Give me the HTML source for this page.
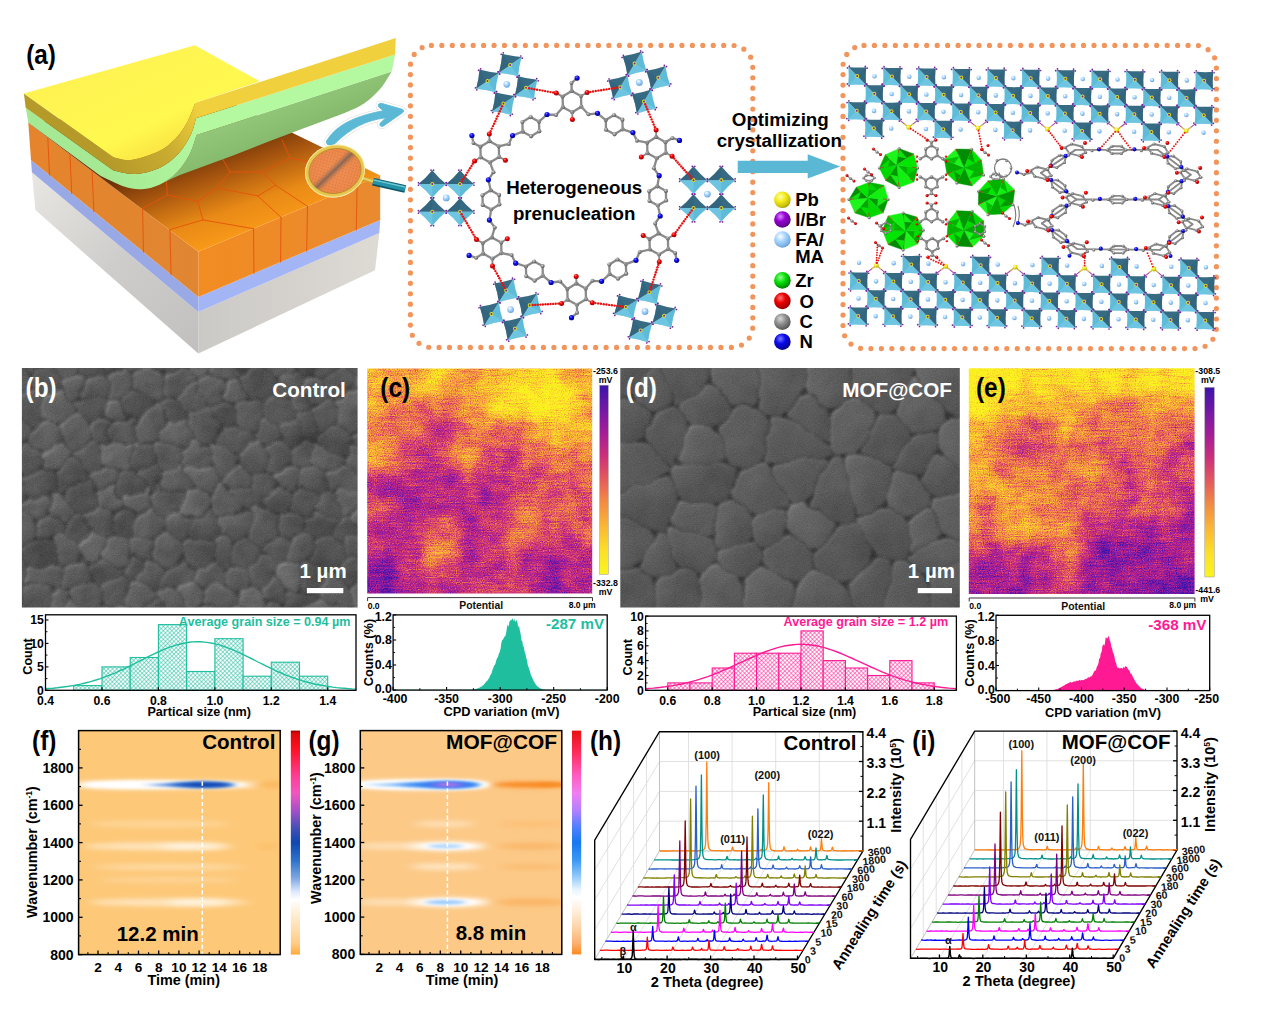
<!DOCTYPE html>
<html><head><meta charset="utf-8"><title>Figure</title>
<style>html,body{margin:0;padding:0;background:#fff;overflow:hidden}svg{display:block}
text{font-family:"Liberation Sans",sans-serif;font-weight:bold}</style></head>
<body><svg width="1268" height="1016" viewBox="0 0 1268 1016">
<rect width="1268" height="1016" fill="#fff"/>
<g id="pa_illus">
<defs>
<linearGradient id="gGreyL" x1="0" y1="0" x2="1" y2="1"><stop offset="0" stop-color="#e9e7e3"/><stop offset="0.5" stop-color="#cfcdcb"/><stop offset="1" stop-color="#c2c0be"/></linearGradient>
<linearGradient id="gGreyR" x1="0" y1="0" x2="1" y2="0"><stop offset="0" stop-color="#cbc9c6"/><stop offset="1" stop-color="#dedad4"/></linearGradient>
<linearGradient id="gOrTop" gradientUnits="userSpaceOnUse" x1="235" y1="140" x2="278" y2="262"><stop offset="0" stop-color="#6e3208"/><stop offset="0.22" stop-color="#a8560f"/><stop offset="0.5" stop-color="#e88a16"/><stop offset="0.8" stop-color="#ff9f1a"/><stop offset="1" stop-color="#ffb224"/></linearGradient>
<linearGradient id="gOrL" x1="0" y1="0" x2="1" y2="0"><stop offset="0" stop-color="#e5842c"/><stop offset="1" stop-color="#e08632"/></linearGradient>
<linearGradient id="gOrR" x1="0" y1="0" x2="1" y2="0"><stop offset="0" stop-color="#f28c22"/><stop offset="1" stop-color="#e98a30"/></linearGradient>
<linearGradient id="gYel" gradientUnits="userSpaceOnUse" x1="120" y1="60" x2="170" y2="165"><stop offset="0" stop-color="#fff352"/><stop offset="0.6" stop-color="#fff94f"/><stop offset="0.85" stop-color="#fbe644"/><stop offset="1" stop-color="#e9c836"/></linearGradient>
<linearGradient id="gGoldCurve" gradientUnits="userSpaceOnUse" x1="110" y1="165" x2="200" y2="110"><stop offset="0" stop-color="#b59a2a"/><stop offset="0.55" stop-color="#c9ac30"/><stop offset="1" stop-color="#f0d03c"/></linearGradient>
<linearGradient id="gGreenCurve" gradientUnits="userSpaceOnUse" x1="110" y1="180" x2="200" y2="130"><stop offset="0" stop-color="#a6e994"/><stop offset="1" stop-color="#b4f9a0"/></linearGradient>
<linearGradient id="gUnder" gradientUnits="userSpaceOnUse" x1="280" y1="100" x2="300" y2="150"><stop offset="0" stop-color="#93c87a"/><stop offset="1" stop-color="#7fb266"/></linearGradient>
<radialGradient id="gLens" cx="0.5" cy="0.5" r="0.6"><stop offset="0" stop-color="#f4935a"/><stop offset="1" stop-color="#e8803e"/></radialGradient>
<pattern id="lensTex" width="3" height="3" patternUnits="userSpaceOnUse" patternTransform="rotate(30)"><rect width="3" height="3" fill="#f08c50"/><circle cx="1.5" cy="1.5" r="0.7" fill="#b8683a"/></pattern>
</defs>
<polygon points="31.9,172.3 198.3,312 198.3,353.6 35.4,210.1" fill="url(#gGreyL)" />
<polygon points="198.3,312 379.3,233.1 375,270.3 198.3,353.6" fill="url(#gGreyR)" />
<polygon points="31,160 198.3,296.9 198.3,312 31.9,172.3" fill="#98a9e6" />
<polygon points="198.3,296.9 380.2,219.9 379.3,233.1 198.3,312" fill="#a4b5f5" />
<polygon points="28.3,122.7 198.3,251.7 198.3,296.9 31,160" fill="url(#gOrL)" />
<polygon points="198.3,251.7 380.2,175.6 380.2,219.9 198.3,296.9" fill="url(#gOrR)" />
<polygon points="28.3,122.7 198.3,251.7 380.2,175.6 225,100" fill="url(#gOrTop)" />
<line x1="47.8" y1="137.5" x2="49.5" y2="175" stroke="#e4520a" stroke-width="0.9" stroke-linecap="round"/>
<line x1="70" y1="154.5" x2="71.7" y2="193.5" stroke="#e4520a" stroke-width="0.9" stroke-linecap="round"/>
<line x1="92.1" y1="171.3" x2="93.9" y2="211.6" stroke="#e4520a" stroke-width="0.9" stroke-linecap="round"/>
<line x1="142.6" y1="208.3" x2="143.5" y2="252" stroke="#e4520a" stroke-width="0.9" stroke-linecap="round"/>
<line x1="170" y1="229.6" x2="171" y2="274.5" stroke="#e4520a" stroke-width="0.9" stroke-linecap="round"/>
<line x1="253.5" y1="228.7" x2="254" y2="273.3" stroke="#e4520a" stroke-width="0.9" stroke-linecap="round"/>
<line x1="281" y1="217.3" x2="280.6" y2="262" stroke="#e4520a" stroke-width="0.9" stroke-linecap="round"/>
<line x1="307.5" y1="206.3" x2="306.7" y2="251" stroke="#e4520a" stroke-width="0.9" stroke-linecap="round"/>
<line x1="357.1" y1="185.4" x2="356.3" y2="230" stroke="#e4520a" stroke-width="0.9" stroke-linecap="round"/>
<line x1="142.6" y1="208.3" x2="167.4" y2="195" stroke="#e4520a" stroke-width="0.9" stroke-linecap="round"/>
<line x1="167.4" y1="195" x2="166" y2="176" stroke="#e4520a" stroke-width="0.9" stroke-linecap="round"/>
<line x1="167.4" y1="195" x2="197.7" y2="201.3" stroke="#e4520a" stroke-width="0.9" stroke-linecap="round"/>
<line x1="197.7" y1="201.3" x2="217.2" y2="188" stroke="#e4520a" stroke-width="0.9" stroke-linecap="round"/>
<line x1="217.2" y1="188" x2="230" y2="172" stroke="#e4520a" stroke-width="0.9" stroke-linecap="round"/>
<line x1="197.7" y1="201.3" x2="203" y2="219.9" stroke="#e4520a" stroke-width="0.9" stroke-linecap="round"/>
<line x1="170" y1="229.6" x2="203" y2="219.9" stroke="#e4520a" stroke-width="0.9" stroke-linecap="round"/>
<line x1="203" y1="219.9" x2="253.5" y2="228.7" stroke="#e4520a" stroke-width="0.9" stroke-linecap="round"/>
<line x1="217.2" y1="188" x2="257.9" y2="195.9" stroke="#e4520a" stroke-width="0.9" stroke-linecap="round"/>
<line x1="257.9" y1="195.9" x2="281" y2="217.3" stroke="#e4520a" stroke-width="0.9" stroke-linecap="round"/>
<line x1="257.9" y1="195.9" x2="275.7" y2="185.3" stroke="#e4520a" stroke-width="0.9" stroke-linecap="round"/>
<line x1="275.7" y1="185.3" x2="307.5" y2="206.3" stroke="#e4520a" stroke-width="0.9" stroke-linecap="round"/>
<line x1="275.7" y1="185.3" x2="262" y2="172" stroke="#e4520a" stroke-width="0.9" stroke-linecap="round"/>
<line x1="262" y1="172" x2="230" y2="172" stroke="#e4520a" stroke-width="0.9" stroke-linecap="round"/>
<line x1="262" y1="172" x2="290" y2="158" stroke="#e4520a" stroke-width="0.9" stroke-linecap="round"/>
<line x1="290" y1="158" x2="318" y2="163" stroke="#e4520a" stroke-width="0.9" stroke-linecap="round"/>
<line x1="318" y1="163" x2="357.1" y2="185.4" stroke="#e4520a" stroke-width="0.9" stroke-linecap="round"/>
<line x1="290" y1="158" x2="282" y2="140" stroke="#e4520a" stroke-width="0.9" stroke-linecap="round"/>
<line x1="318" y1="163" x2="330" y2="150" stroke="#e4520a" stroke-width="0.9" stroke-linecap="round"/>
<line x1="230" y1="172" x2="222" y2="158" stroke="#e4520a" stroke-width="0.9" stroke-linecap="round"/>
<path d="M159.4,184.7 L159.4,184.7 C162.3,182.6 172,177.3 177,172.3 C182,167.3 186.2,160.8 189.5,154.6 C192.8,148.4 195.4,138.3 196.6,135.1 L391.7,71.4 L391.7,71.4 C389.8,74.2 385.1,83.2 380.5,88.5 C375.9,93.8 370,99.4 364,103.5 C358,107.6 347.9,111.4 344.7,113 L300.5,129.5 L268.6,141.5 L233.1,155.5 L197.7,168.5 L180,175 L170,179.4 Z" fill="url(#gUnder)"/>
<path d="M25.7,107.7 L113.4,170.6 L113.4,170.6 C116.9,171.2 126.9,174.4 134.6,174 C142.3,173.6 152,171.5 159.4,168 C166.8,164.5 173.7,158.7 179,152.9 C184.3,147.1 188.5,139.2 191.3,133.4 C194.1,127.6 195.2,120.8 196,118.3 L395.2,54.5 L391.7,71.4 L196.6,135.1 L196.6,135.1 C195.4,138.3 192.8,148.4 189.5,154.6 C186.2,160.8 182,167.3 177,172.3 C172,177.3 165.3,181.9 159.4,184.7 C153.5,187.5 147.6,188.9 141.7,189.2 C135.8,189.5 130.9,188.8 124,186.5 C117,184.2 104,177.3 100,175.5 L28.3,122.7 Z" fill="url(#gGreenCurve)"/>
<path d="M23.9,93.5 L113.4,157.3 L113.4,157.3 C116.3,157.8 123.3,161.1 131,160 C138.7,158.9 151.7,154.8 159.4,151 C167.1,147.2 172.3,142 177,137 C181.7,132 184.7,126.7 187.8,121 C190.9,115.3 194.1,105.8 195.4,102.8 L395.8,38.1 L395.2,54.5 L196,118.3 L196,118.3 C195.2,120.8 194.1,127.6 191.3,133.4 C188.5,139.2 184.3,147.1 179,152.9 C173.7,158.7 166.8,164.5 159.4,168 C152,171.5 142.3,173.6 134.6,174 C126.9,174.4 116.9,171.2 113.4,170.6 L25.7,107.7 Z" fill="url(#gGoldCurve)"/>
<path d="M23.9,93.5 L194.9,45.2 L259.7,81.3 L195.4,102.8 L195.4,102.8 C194.1,105.8 190.9,115.3 187.8,121 C184.7,126.7 181.7,132 177,137 C172.3,142 167.1,147.2 159.4,151 C151.7,154.8 138.7,158.9 131,160 C123.3,161.1 116.3,157.8 113.4,157.3 Z" fill="url(#gYel)"/>
<path d="M326.6,140.8 C334,129 347,117.5 383.3,110.7 L378.6,106.9 Q377.2,103 381.6,103.3 L402.4,109.3 Q405.2,110.9 402.8,112.6 L383.2,126.2 Q379.4,127.2 379.9,123.4 L385.7,117.8 C366,120.3 350,128.5 334.6,143.9 Q330.5,147 327.2,144.2 Q325.6,142.6 326.6,140.8 Z" fill="#e4e4ea" stroke="#dcdce4" stroke-width="5.2" stroke-linejoin="round"/>
<path d="M326.6,140.8 C334,129 347,117.5 383.3,110.7 L378.6,106.9 Q377.2,103 381.6,103.3 L402.4,109.3 Q405.2,110.9 402.8,112.6 L383.2,126.2 Q379.4,127.2 379.9,123.4 L385.7,117.8 C366,120.3 350,128.5 334.6,143.9 Q330.5,147 327.2,144.2 Q325.6,142.6 326.6,140.8 Z" fill="#fff" stroke="#fff" stroke-width="4.2" stroke-linejoin="round"/>
<path d="M326.6,140.8 C334,129 347,117.5 383.3,110.7 L378.6,106.9 Q377.2,103 381.6,103.3 L402.4,109.3 Q405.2,110.9 402.8,112.6 L383.2,126.2 Q379.4,127.2 379.9,123.4 L385.7,117.8 C366,120.3 350,128.5 334.6,143.9 Q330.5,147 327.2,144.2 Q325.6,142.6 326.6,140.8 Z" fill="#5bb9d6" stroke="#5bb9d6" stroke-width="0.8" stroke-linejoin="round"/>
<line x1="373" y1="181.7" x2="405.2" y2="189" stroke="#0c5666" stroke-width="7.6" stroke-linecap="butt"/>
<line x1="373" y1="181.3" x2="405.2" y2="188.6" stroke="#2394a8" stroke-width="5.2" stroke-linecap="butt"/>
<line x1="373.4" y1="179.9" x2="405.6" y2="187.2" stroke="#8ad6e0" stroke-width="1.3" opacity="0.8"/>
<line x1="362.5" y1="178.4" x2="373" y2="181.6" stroke="#c9a53a" stroke-width="4.2" />
<line x1="362.5" y1="178" x2="373" y2="181.2" stroke="#ecd060" stroke-width="2.2" />
<defs><clipPath id="lensClip"><ellipse cx="335" cy="171" rx="27.6" ry="23.6" transform="rotate(-14 335 171)"/></clipPath><filter id="blur1"><feGaussianBlur stdDeviation="1.4"/></filter></defs>
<g transform="translate(335,171) rotate(-14)"><ellipse rx="30.2" ry="26.2" fill="#fff" opacity="0.9"/><ellipse rx="28" ry="24" fill="url(#lensTex)"/><ellipse rx="28" ry="24" fill="url(#gLens)" opacity="0.5"/></g>
<g clip-path="url(#lensClip)"><line x1="315" y1="189" x2="353.5" y2="151.8" stroke="#7a6458" stroke-width="6.5" opacity="0.6" filter="url(#blur1)"/><line x1="315" y1="189" x2="353.5" y2="151.8" stroke="#6a5850" stroke-width="2" opacity="0.35"/></g>
<g transform="translate(335,171) rotate(-14)"><ellipse rx="28" ry="24" fill="none" stroke="#e6c84e" stroke-width="3.2"/><ellipse rx="29.8" ry="25.8" fill="none" stroke="#f4e58e" stroke-width="0.8"/><ellipse rx="26.3" ry="22.3" fill="none" stroke="#b08a26" stroke-width="0.7"/></g>
<text x="26.2" y="64" font-size="26.8" fill="#000" textLength="29.8" lengthAdjust="spacingAndGlyphs">(a)</text>
</g>
<g id="pa_box1">
<defs>
<radialGradient id="gC" cx="0.38" cy="0.32" r="0.75"><stop offset="0" stop-color="#d8d8d8"/><stop offset="0.45" stop-color="#8c8c8c"/><stop offset="1" stop-color="#4a4a4a"/></radialGradient>
<radialGradient id="gO" cx="0.38" cy="0.32" r="0.75"><stop offset="0" stop-color="#ff7a7a"/><stop offset="0.4" stop-color="#ee0000"/><stop offset="1" stop-color="#8a0000"/></radialGradient>
<radialGradient id="gN" cx="0.38" cy="0.32" r="0.75"><stop offset="0" stop-color="#7a7aff"/><stop offset="0.4" stop-color="#0a0aee"/><stop offset="1" stop-color="#00007a"/></radialGradient>
<radialGradient id="gPb" cx="0.38" cy="0.32" r="0.75"><stop offset="0" stop-color="#ffffb0"/><stop offset="0.4" stop-color="#f4ec1c"/><stop offset="0.8" stop-color="#c8be08"/><stop offset="1" stop-color="#8a8200"/></radialGradient>
<radialGradient id="gI" cx="0.38" cy="0.32" r="0.75"><stop offset="0" stop-color="#d98aff"/><stop offset="0.4" stop-color="#9400d3"/><stop offset="0.8" stop-color="#6a0098"/><stop offset="1" stop-color="#3c0058"/></radialGradient>
<radialGradient id="gZr" cx="0.38" cy="0.32" r="0.75"><stop offset="0" stop-color="#90ff90"/><stop offset="0.45" stop-color="#00dd00"/><stop offset="1" stop-color="#007000"/></radialGradient>
<radialGradient id="gCat" cx="0.38" cy="0.32" r="0.75"><stop offset="0" stop-color="#ffffff"/><stop offset="0.4" stop-color="#a8d6ff"/><stop offset="0.8" stop-color="#7ab0e4"/><stop offset="1" stop-color="#5a8cc0"/></radialGradient>
</defs>
<rect x="410.4" y="45.4" width="342.4" height="302" rx="21" fill="none" stroke="#f2955c" stroke-width="5.2" stroke-linecap="round" stroke-dasharray="0 10.4396"/>
<polygon points="622.7,129.3 614.5,134.3 606,129.7 605.8,120.1 614,115.1 622.4,119.7" fill="none" stroke="#8a8a8a" stroke-width="2.3" stroke-linejoin="round"/><circle cx="622.7" cy="129.3" r="2.1" fill="url(#gC)" /><circle cx="614.5" cy="134.3" r="2.1" fill="url(#gC)" /><circle cx="606" cy="129.7" r="2.1" fill="url(#gC)" /><circle cx="605.8" cy="120.1" r="2.1" fill="url(#gC)" /><circle cx="614" cy="115.1" r="2.1" fill="url(#gC)" /><circle cx="622.4" cy="119.7" r="2.1" fill="url(#gC)" />
<polygon points="657.9,205.5 649.5,200.9 649.2,191.3 657.4,186.3 665.9,190.9 666.1,200.5" fill="none" stroke="#8a8a8a" stroke-width="2.3" stroke-linejoin="round"/><circle cx="657.9" cy="205.5" r="2.1" fill="url(#gC)" /><circle cx="649.5" cy="200.9" r="2.1" fill="url(#gC)" /><circle cx="649.2" cy="191.3" r="2.1" fill="url(#gC)" /><circle cx="657.4" cy="186.3" r="2.1" fill="url(#gC)" /><circle cx="665.9" cy="190.9" r="2.1" fill="url(#gC)" /><circle cx="666.1" cy="200.5" r="2.1" fill="url(#gC)" />
<polygon points="609.6,274.1 609.3,264.5 617.5,259.5 625.9,264.1 626.2,273.7 618,278.7" fill="none" stroke="#8a8a8a" stroke-width="2.3" stroke-linejoin="round"/><circle cx="609.6" cy="274.1" r="2.1" fill="url(#gC)" /><circle cx="609.3" cy="264.5" r="2.1" fill="url(#gC)" /><circle cx="617.5" cy="259.5" r="2.1" fill="url(#gC)" /><circle cx="625.9" cy="264.1" r="2.1" fill="url(#gC)" /><circle cx="626.2" cy="273.7" r="2.1" fill="url(#gC)" /><circle cx="618" cy="278.7" r="2.1" fill="url(#gC)" />
<polygon points="525.9,266.5 534.1,261.5 542.6,266.1 542.8,275.7 534.6,280.7 526.2,276.1" fill="none" stroke="#8a8a8a" stroke-width="2.3" stroke-linejoin="round"/><circle cx="525.9" cy="266.5" r="2.1" fill="url(#gC)" /><circle cx="534.1" cy="261.5" r="2.1" fill="url(#gC)" /><circle cx="542.6" cy="266.1" r="2.1" fill="url(#gC)" /><circle cx="542.8" cy="275.7" r="2.1" fill="url(#gC)" /><circle cx="534.6" cy="280.7" r="2.1" fill="url(#gC)" /><circle cx="526.2" cy="276.1" r="2.1" fill="url(#gC)" />
<polygon points="490.7,190.3 499.1,194.9 499.4,204.5 491.2,209.5 482.7,204.9 482.5,195.3" fill="none" stroke="#8a8a8a" stroke-width="2.3" stroke-linejoin="round"/><circle cx="490.7" cy="190.3" r="2.1" fill="url(#gC)" /><circle cx="499.1" cy="194.9" r="2.1" fill="url(#gC)" /><circle cx="499.4" cy="204.5" r="2.1" fill="url(#gC)" /><circle cx="491.2" cy="209.5" r="2.1" fill="url(#gC)" /><circle cx="482.7" cy="204.9" r="2.1" fill="url(#gC)" /><circle cx="482.5" cy="195.3" r="2.1" fill="url(#gC)" />
<polygon points="539,121.7 539.3,131.3 531.1,136.3 522.7,131.7 522.4,122.1 530.6,117.1" fill="none" stroke="#8a8a8a" stroke-width="2.3" stroke-linejoin="round"/><circle cx="539" cy="121.7" r="2.1" fill="url(#gC)" /><circle cx="539.3" cy="131.3" r="2.1" fill="url(#gC)" /><circle cx="531.1" cy="136.3" r="2.1" fill="url(#gC)" /><circle cx="522.7" cy="131.7" r="2.1" fill="url(#gC)" /><circle cx="522.4" cy="122.1" r="2.1" fill="url(#gC)" /><circle cx="530.6" cy="117.1" r="2.1" fill="url(#gC)" />
<polygon points="571.7,91 581,96.1 581.3,106.7 572.2,112.2 562.9,107.2 562.6,96.6" fill="none" stroke="#8a8a8a" stroke-width="2.3" stroke-linejoin="round"/><circle cx="571.7" cy="91" r="2.1" fill="url(#gC)" /><circle cx="581" cy="96.1" r="2.1" fill="url(#gC)" /><circle cx="581.3" cy="106.7" r="2.1" fill="url(#gC)" /><circle cx="572.2" cy="112.2" r="2.1" fill="url(#gC)" /><circle cx="562.9" cy="107.2" r="2.1" fill="url(#gC)" /><circle cx="562.6" cy="96.6" r="2.1" fill="url(#gC)" />
<line x1="581" y1="96.1" x2="587.1" y2="92.4" stroke="#8a8a8a" stroke-width="1.8" stroke-linecap="round"/>
<line x1="572.2" y1="112.2" x2="572.4" y2="119.4" stroke="#8a8a8a" stroke-width="1.8" stroke-linecap="round"/>
<line x1="562.6" y1="96.6" x2="556.3" y2="93.1" stroke="#8a8a8a" stroke-width="1.8" stroke-linecap="round"/>
<line x1="571.7" y1="91" x2="571.5" y2="83" stroke="#8a8a8a" stroke-width="2.3" stroke-linecap="round"/>
<line x1="571.5" y1="83" x2="577.1" y2="78.1" stroke="#8a8a8a" stroke-width="2.3" stroke-linecap="round"/>
<line x1="581.3" y1="106.7" x2="588.4" y2="114.3" stroke="#8a8a8a" stroke-width="2.3" stroke-linecap="round"/>
<line x1="588.4" y1="114.3" x2="597.5" y2="113.3" stroke="#8a8a8a" stroke-width="2.3" stroke-linecap="round"/>
<line x1="597.5" y1="113.3" x2="605.8" y2="120.1" stroke="#8a8a8a" stroke-width="2.3" stroke-linecap="round"/>
<line x1="562.9" y1="107.2" x2="556.1" y2="115" stroke="#8a8a8a" stroke-width="2.3" stroke-linecap="round"/>
<line x1="556.1" y1="115" x2="547" y2="114.5" stroke="#8a8a8a" stroke-width="2.3" stroke-linecap="round"/>
<line x1="547" y1="114.5" x2="539" y2="121.7" stroke="#8a8a8a" stroke-width="2.3" stroke-linecap="round"/>
<polygon points="665.5,142.2 665.8,152.8 656.8,158.3 647.4,153.2 647.2,142.7 656.2,137.1" fill="none" stroke="#8a8a8a" stroke-width="2.3" stroke-linejoin="round"/><circle cx="665.5" cy="142.2" r="2.1" fill="url(#gC)" /><circle cx="665.8" cy="152.8" r="2.1" fill="url(#gC)" /><circle cx="656.8" cy="158.3" r="2.1" fill="url(#gC)" /><circle cx="647.4" cy="153.2" r="2.1" fill="url(#gC)" /><circle cx="647.2" cy="142.7" r="2.1" fill="url(#gC)" /><circle cx="656.2" cy="137.1" r="2.1" fill="url(#gC)" />
<line x1="665.8" y1="152.8" x2="672.1" y2="156.2" stroke="#8a8a8a" stroke-width="1.8" stroke-linecap="round"/>
<line x1="647.4" y1="153.2" x2="641.3" y2="157" stroke="#8a8a8a" stroke-width="1.8" stroke-linecap="round"/>
<line x1="656.2" y1="137.1" x2="656.1" y2="129.9" stroke="#8a8a8a" stroke-width="1.8" stroke-linecap="round"/>
<line x1="665.5" y1="142.2" x2="672.4" y2="138" stroke="#8a8a8a" stroke-width="2.3" stroke-linecap="round"/>
<line x1="672.4" y1="138" x2="679.5" y2="140.4" stroke="#8a8a8a" stroke-width="2.3" stroke-linecap="round"/>
<line x1="656.8" y1="158.3" x2="653.8" y2="168.3" stroke="#8a8a8a" stroke-width="2.3" stroke-linecap="round"/>
<line x1="653.8" y1="168.3" x2="659.2" y2="175.7" stroke="#8a8a8a" stroke-width="2.3" stroke-linecap="round"/>
<line x1="659.2" y1="175.7" x2="657.4" y2="186.3" stroke="#8a8a8a" stroke-width="2.3" stroke-linecap="round"/>
<line x1="647.2" y1="142.7" x2="637" y2="140.7" stroke="#8a8a8a" stroke-width="2.3" stroke-linecap="round"/>
<line x1="637" y1="140.7" x2="632.9" y2="132.6" stroke="#8a8a8a" stroke-width="2.3" stroke-linecap="round"/>
<line x1="632.9" y1="132.6" x2="622.7" y2="129.3" stroke="#8a8a8a" stroke-width="2.3" stroke-linecap="round"/>
<polygon points="668.2,249.1 659.1,254.6 649.8,249.5 649.5,238.9 658.6,233.4 667.9,238.5" fill="none" stroke="#8a8a8a" stroke-width="2.3" stroke-linejoin="round"/><circle cx="668.2" cy="249.1" r="2.1" fill="url(#gC)" /><circle cx="659.1" cy="254.6" r="2.1" fill="url(#gC)" /><circle cx="649.8" cy="249.5" r="2.1" fill="url(#gC)" /><circle cx="649.5" cy="238.9" r="2.1" fill="url(#gC)" /><circle cx="658.6" cy="233.4" r="2.1" fill="url(#gC)" /><circle cx="667.9" cy="238.5" r="2.1" fill="url(#gC)" />
<line x1="659.1" y1="254.6" x2="659.3" y2="261.8" stroke="#8a8a8a" stroke-width="1.8" stroke-linecap="round"/>
<line x1="649.5" y1="238.9" x2="643.2" y2="235.5" stroke="#8a8a8a" stroke-width="1.8" stroke-linecap="round"/>
<line x1="667.9" y1="238.5" x2="674" y2="234.7" stroke="#8a8a8a" stroke-width="1.8" stroke-linecap="round"/>
<line x1="668.2" y1="249.1" x2="675.2" y2="252.9" stroke="#8a8a8a" stroke-width="2.3" stroke-linecap="round"/>
<line x1="675.2" y1="252.9" x2="676.7" y2="260.3" stroke="#8a8a8a" stroke-width="2.3" stroke-linecap="round"/>
<line x1="649.8" y1="249.5" x2="639.7" y2="251.9" stroke="#8a8a8a" stroke-width="2.3" stroke-linecap="round"/>
<line x1="639.7" y1="251.9" x2="636" y2="260.3" stroke="#8a8a8a" stroke-width="2.3" stroke-linecap="round"/>
<line x1="636" y1="260.3" x2="625.9" y2="264.1" stroke="#8a8a8a" stroke-width="2.3" stroke-linecap="round"/>
<line x1="658.6" y1="233.4" x2="655.1" y2="223.6" stroke="#8a8a8a" stroke-width="2.3" stroke-linecap="round"/>
<line x1="655.1" y1="223.6" x2="660.2" y2="216" stroke="#8a8a8a" stroke-width="2.3" stroke-linecap="round"/>
<line x1="660.2" y1="216" x2="657.9" y2="205.5" stroke="#8a8a8a" stroke-width="2.3" stroke-linecap="round"/>
<polygon points="576.9,304.8 567.6,299.7 567.3,289.1 576.4,283.6 585.7,288.6 586,299.2" fill="none" stroke="#8a8a8a" stroke-width="2.3" stroke-linejoin="round"/><circle cx="576.9" cy="304.8" r="2.1" fill="url(#gC)" /><circle cx="567.6" cy="299.7" r="2.1" fill="url(#gC)" /><circle cx="567.3" cy="289.1" r="2.1" fill="url(#gC)" /><circle cx="576.4" cy="283.6" r="2.1" fill="url(#gC)" /><circle cx="585.7" cy="288.6" r="2.1" fill="url(#gC)" /><circle cx="586" cy="299.2" r="2.1" fill="url(#gC)" />
<line x1="567.6" y1="299.7" x2="561.5" y2="303.4" stroke="#8a8a8a" stroke-width="1.8" stroke-linecap="round"/>
<line x1="576.4" y1="283.6" x2="576.2" y2="276.4" stroke="#8a8a8a" stroke-width="1.8" stroke-linecap="round"/>
<line x1="586" y1="299.2" x2="592.3" y2="302.7" stroke="#8a8a8a" stroke-width="1.8" stroke-linecap="round"/>
<line x1="576.9" y1="304.8" x2="577.1" y2="312.8" stroke="#8a8a8a" stroke-width="2.3" stroke-linecap="round"/>
<line x1="577.1" y1="312.8" x2="571.5" y2="317.7" stroke="#8a8a8a" stroke-width="2.3" stroke-linecap="round"/>
<line x1="567.3" y1="289.1" x2="560.2" y2="281.5" stroke="#8a8a8a" stroke-width="2.3" stroke-linecap="round"/>
<line x1="560.2" y1="281.5" x2="551.1" y2="282.5" stroke="#8a8a8a" stroke-width="2.3" stroke-linecap="round"/>
<line x1="551.1" y1="282.5" x2="542.8" y2="275.7" stroke="#8a8a8a" stroke-width="2.3" stroke-linecap="round"/>
<line x1="585.7" y1="288.6" x2="592.5" y2="280.8" stroke="#8a8a8a" stroke-width="2.3" stroke-linecap="round"/>
<line x1="592.5" y1="280.8" x2="601.6" y2="281.3" stroke="#8a8a8a" stroke-width="2.3" stroke-linecap="round"/>
<line x1="601.6" y1="281.3" x2="609.6" y2="274.1" stroke="#8a8a8a" stroke-width="2.3" stroke-linecap="round"/>
<polygon points="483.1,253.6 482.8,243 491.8,237.5 501.2,242.6 501.4,253.1 492.4,258.7" fill="none" stroke="#8a8a8a" stroke-width="2.3" stroke-linejoin="round"/><circle cx="483.1" cy="253.6" r="2.1" fill="url(#gC)" /><circle cx="482.8" cy="243" r="2.1" fill="url(#gC)" /><circle cx="491.8" cy="237.5" r="2.1" fill="url(#gC)" /><circle cx="501.2" cy="242.6" r="2.1" fill="url(#gC)" /><circle cx="501.4" cy="253.1" r="2.1" fill="url(#gC)" /><circle cx="492.4" cy="258.7" r="2.1" fill="url(#gC)" />
<line x1="482.8" y1="243" x2="476.5" y2="239.6" stroke="#8a8a8a" stroke-width="1.8" stroke-linecap="round"/>
<line x1="501.2" y1="242.6" x2="507.3" y2="238.8" stroke="#8a8a8a" stroke-width="1.8" stroke-linecap="round"/>
<line x1="492.4" y1="258.7" x2="492.5" y2="265.9" stroke="#8a8a8a" stroke-width="1.8" stroke-linecap="round"/>
<line x1="483.1" y1="253.6" x2="476.2" y2="257.8" stroke="#8a8a8a" stroke-width="2.3" stroke-linecap="round"/>
<line x1="476.2" y1="257.8" x2="469.1" y2="255.4" stroke="#8a8a8a" stroke-width="2.3" stroke-linecap="round"/>
<line x1="491.8" y1="237.5" x2="494.8" y2="227.5" stroke="#8a8a8a" stroke-width="2.3" stroke-linecap="round"/>
<line x1="494.8" y1="227.5" x2="489.4" y2="220.1" stroke="#8a8a8a" stroke-width="2.3" stroke-linecap="round"/>
<line x1="489.4" y1="220.1" x2="491.2" y2="209.5" stroke="#8a8a8a" stroke-width="2.3" stroke-linecap="round"/>
<line x1="501.4" y1="253.1" x2="511.6" y2="255.1" stroke="#8a8a8a" stroke-width="2.3" stroke-linecap="round"/>
<line x1="511.6" y1="255.1" x2="515.7" y2="263.2" stroke="#8a8a8a" stroke-width="2.3" stroke-linecap="round"/>
<line x1="515.7" y1="263.2" x2="525.9" y2="266.5" stroke="#8a8a8a" stroke-width="2.3" stroke-linecap="round"/>
<polygon points="480.4,146.7 489.5,141.2 498.8,146.3 499.1,156.9 490,162.4 480.7,157.3" fill="none" stroke="#8a8a8a" stroke-width="2.3" stroke-linejoin="round"/><circle cx="480.4" cy="146.7" r="2.1" fill="url(#gC)" /><circle cx="489.5" cy="141.2" r="2.1" fill="url(#gC)" /><circle cx="498.8" cy="146.3" r="2.1" fill="url(#gC)" /><circle cx="499.1" cy="156.9" r="2.1" fill="url(#gC)" /><circle cx="490" cy="162.4" r="2.1" fill="url(#gC)" /><circle cx="480.7" cy="157.3" r="2.1" fill="url(#gC)" />
<line x1="489.5" y1="141.2" x2="489.3" y2="134" stroke="#8a8a8a" stroke-width="1.8" stroke-linecap="round"/>
<line x1="499.1" y1="156.9" x2="505.4" y2="160.3" stroke="#8a8a8a" stroke-width="1.8" stroke-linecap="round"/>
<line x1="480.7" y1="157.3" x2="474.6" y2="161.1" stroke="#8a8a8a" stroke-width="1.8" stroke-linecap="round"/>
<line x1="480.4" y1="146.7" x2="473.4" y2="142.9" stroke="#8a8a8a" stroke-width="2.3" stroke-linecap="round"/>
<line x1="473.4" y1="142.9" x2="471.9" y2="135.5" stroke="#8a8a8a" stroke-width="2.3" stroke-linecap="round"/>
<line x1="498.8" y1="146.3" x2="508.9" y2="143.9" stroke="#8a8a8a" stroke-width="2.3" stroke-linecap="round"/>
<line x1="508.9" y1="143.9" x2="512.6" y2="135.5" stroke="#8a8a8a" stroke-width="2.3" stroke-linecap="round"/>
<line x1="512.6" y1="135.5" x2="522.7" y2="131.7" stroke="#8a8a8a" stroke-width="2.3" stroke-linecap="round"/>
<line x1="490" y1="162.4" x2="493.5" y2="172.2" stroke="#8a8a8a" stroke-width="2.3" stroke-linecap="round"/>
<line x1="493.5" y1="172.2" x2="488.4" y2="179.8" stroke="#8a8a8a" stroke-width="2.3" stroke-linecap="round"/>
<line x1="488.4" y1="179.8" x2="490.7" y2="190.3" stroke="#8a8a8a" stroke-width="2.3" stroke-linecap="round"/>
<circle cx="587.1" cy="92.4" r="2.5" fill="url(#gO)" />
<circle cx="572.4" cy="119.4" r="2.5" fill="url(#gO)" />
<circle cx="556.3" cy="93.1" r="2.5" fill="url(#gO)" />
<circle cx="571.5" cy="83" r="2" fill="url(#gC)" />
<circle cx="577.1" cy="78.1" r="2.6" fill="url(#gN)" />
<circle cx="588.4" cy="114.3" r="2" fill="url(#gC)" />
<circle cx="597.5" cy="113.3" r="2.6" fill="url(#gN)" />
<circle cx="556.1" cy="115" r="2" fill="url(#gC)" />
<circle cx="547" cy="114.5" r="2.6" fill="url(#gN)" />
<circle cx="672.1" cy="156.2" r="2.5" fill="url(#gO)" />
<circle cx="641.3" cy="157" r="2.5" fill="url(#gO)" />
<circle cx="656.1" cy="129.9" r="2.5" fill="url(#gO)" />
<circle cx="672.4" cy="138" r="2" fill="url(#gC)" />
<circle cx="679.5" cy="140.4" r="2.6" fill="url(#gN)" />
<circle cx="653.8" cy="168.3" r="2" fill="url(#gC)" />
<circle cx="659.2" cy="175.7" r="2.6" fill="url(#gN)" />
<circle cx="637" cy="140.7" r="2" fill="url(#gC)" />
<circle cx="632.9" cy="132.6" r="2.6" fill="url(#gN)" />
<circle cx="659.3" cy="261.8" r="2.5" fill="url(#gO)" />
<circle cx="643.2" cy="235.5" r="2.5" fill="url(#gO)" />
<circle cx="674" cy="234.7" r="2.5" fill="url(#gO)" />
<circle cx="675.2" cy="252.9" r="2" fill="url(#gC)" />
<circle cx="676.7" cy="260.3" r="2.6" fill="url(#gN)" />
<circle cx="639.7" cy="251.9" r="2" fill="url(#gC)" />
<circle cx="636" cy="260.3" r="2.6" fill="url(#gN)" />
<circle cx="655.1" cy="223.6" r="2" fill="url(#gC)" />
<circle cx="660.2" cy="216" r="2.6" fill="url(#gN)" />
<circle cx="561.5" cy="303.4" r="2.5" fill="url(#gO)" />
<circle cx="576.2" cy="276.4" r="2.5" fill="url(#gO)" />
<circle cx="592.3" cy="302.7" r="2.5" fill="url(#gO)" />
<circle cx="577.1" cy="312.8" r="2" fill="url(#gC)" />
<circle cx="571.5" cy="317.7" r="2.6" fill="url(#gN)" />
<circle cx="560.2" cy="281.5" r="2" fill="url(#gC)" />
<circle cx="551.1" cy="282.5" r="2.6" fill="url(#gN)" />
<circle cx="592.5" cy="280.8" r="2" fill="url(#gC)" />
<circle cx="601.6" cy="281.3" r="2.6" fill="url(#gN)" />
<circle cx="476.5" cy="239.6" r="2.5" fill="url(#gO)" />
<circle cx="507.3" cy="238.8" r="2.5" fill="url(#gO)" />
<circle cx="492.5" cy="265.9" r="2.5" fill="url(#gO)" />
<circle cx="476.2" cy="257.8" r="2" fill="url(#gC)" />
<circle cx="469.1" cy="255.4" r="2.6" fill="url(#gN)" />
<circle cx="494.8" cy="227.5" r="2" fill="url(#gC)" />
<circle cx="489.4" cy="220.1" r="2.6" fill="url(#gN)" />
<circle cx="511.6" cy="255.1" r="2" fill="url(#gC)" />
<circle cx="515.7" cy="263.2" r="2.6" fill="url(#gN)" />
<circle cx="489.3" cy="134" r="2.5" fill="url(#gO)" />
<circle cx="505.4" cy="160.3" r="2.5" fill="url(#gO)" />
<circle cx="474.6" cy="161.1" r="2.5" fill="url(#gO)" />
<circle cx="473.4" cy="142.9" r="2" fill="url(#gC)" />
<circle cx="471.9" cy="135.5" r="2.6" fill="url(#gN)" />
<circle cx="508.9" cy="143.9" r="2" fill="url(#gC)" />
<circle cx="512.6" cy="135.5" r="2.6" fill="url(#gN)" />
<circle cx="493.5" cy="172.2" r="2" fill="url(#gC)" />
<circle cx="488.4" cy="179.8" r="2.6" fill="url(#gN)" />
<defs><g id="oc19_6_0_05_1"><g transform="scale(-1,1)"><path d="M-9.8,-9.8 L9.8,9.8 Q0,8.8 -9.8,9.8 Q-8.8,0 -9.8,-9.8 Z" fill="#5fbcd9"/><path d="M-9.8,-9.8 Q0,-8.8 9.8,-9.8 Q8.8,0 9.8,9.8 L-9.8,-9.8 Z" fill="#376b84"/><path d="M0,0 L9.8,-9.8 Q8.8,0 9.8,9.8 Z" fill="#2f6078" opacity="0.45"/><path d="M0,0 L9.8,9.8 Q0,8.8 -9.8,9.8 Z" fill="#78cbe6" opacity="0.6"/></g><circle cx="-10.7" cy="-8.9" r="0.85" fill="#7b1fa2" /><circle cx="-8.9" cy="-10.7" r="0.85" fill="#7b1fa2" /><circle cx="8.9" cy="-10.7" r="0.85" fill="#7b1fa2" /><circle cx="10.7" cy="-8.9" r="0.85" fill="#7b1fa2" /><circle cx="8.9" cy="10.7" r="0.85" fill="#7b1fa2" /><circle cx="10.7" cy="8.9" r="0.85" fill="#7b1fa2" /><circle cx="-10.7" cy="8.9" r="0.85" fill="#7b1fa2" /><circle cx="-8.9" cy="10.7" r="0.85" fill="#7b1fa2" /><circle cx="0" cy="0" r="2" fill="#d9e02a" /><circle cx="0" cy="0" r="1" fill="#7a2a8a" /></g></defs><use href="#oc19_6_0_05_1" transform="translate(510.2,65) rotate(10)"/><use href="#oc19_6_0_05_1" transform="translate(487.5,80.9) rotate(10)"/><use href="#oc19_6_0_05_1" transform="translate(526.1,87.7) rotate(10)"/><use href="#oc19_6_0_05_1" transform="translate(503.4,103.6) rotate(10)"/><circle cx="506.8" cy="84.3" r="3.4" fill="url(#gCat)" />
<circle cx="529.1" cy="88.2" r="1.2" fill="#e81010" /><circle cx="531.7" cy="88.7" r="1.2" fill="#e81010" /><circle cx="534.4" cy="89.2" r="1.2" fill="#e81010" /><circle cx="537.1" cy="89.7" r="1.2" fill="#e81010" /><circle cx="539.8" cy="90.1" r="1.2" fill="#e81010" /><circle cx="542.5" cy="90.6" r="1.2" fill="#e81010" /><circle cx="545.1" cy="91.1" r="1.2" fill="#e81010" /><circle cx="547.8" cy="91.6" r="1.2" fill="#e81010" /><circle cx="550.5" cy="92.1" r="1.2" fill="#e81010" /><circle cx="553.2" cy="92.5" r="1.2" fill="#e81010" />
<circle cx="502.1" cy="106.3" r="1.2" fill="#e81010" /><circle cx="501" cy="108.8" r="1.2" fill="#e81010" /><circle cx="499.8" cy="111.3" r="1.2" fill="#e81010" /><circle cx="498.7" cy="113.8" r="1.2" fill="#e81010" /><circle cx="497.5" cy="116.2" r="1.2" fill="#e81010" /><circle cx="496.4" cy="118.7" r="1.2" fill="#e81010" /><circle cx="495.3" cy="121.2" r="1.2" fill="#e81010" /><circle cx="494.1" cy="123.7" r="1.2" fill="#e81010" /><circle cx="493" cy="126.1" r="1.2" fill="#e81010" /><circle cx="491.8" cy="128.6" r="1.2" fill="#e81010" /><circle cx="490.7" cy="131.1" r="1.2" fill="#e81010" />
<use href="#oc19_6_0_05_1" transform="translate(634.6,63.5) rotate(-14)"/><use href="#oc19_6_0_05_1" transform="translate(620.3,87.2) rotate(-14)"/><use href="#oc19_6_0_05_1" transform="translate(658.3,77.8) rotate(-14)"/><use href="#oc19_6_0_05_1" transform="translate(644,101.5) rotate(-14)"/><circle cx="639.3" cy="82.5" r="3.4" fill="url(#gCat)" />
<circle cx="645.2" cy="104.3" r="1.2" fill="#e81010" /><circle cx="646.3" cy="106.8" r="1.2" fill="#e81010" /><circle cx="647.3" cy="109.3" r="1.2" fill="#e81010" /><circle cx="648.4" cy="111.8" r="1.2" fill="#e81010" /><circle cx="649.5" cy="114.4" r="1.2" fill="#e81010" /><circle cx="650.5" cy="116.9" r="1.2" fill="#e81010" /><circle cx="651.6" cy="119.4" r="1.2" fill="#e81010" /><circle cx="652.7" cy="121.9" r="1.2" fill="#e81010" /><circle cx="653.7" cy="124.5" r="1.2" fill="#e81010" /><circle cx="654.8" cy="127" r="1.2" fill="#e81010" />
<circle cx="617.3" cy="87.7" r="1.2" fill="#e81010" /><circle cx="614.6" cy="88.1" r="1.2" fill="#e81010" /><circle cx="611.9" cy="88.5" r="1.2" fill="#e81010" /><circle cx="609.2" cy="88.9" r="1.2" fill="#e81010" /><circle cx="606.5" cy="89.4" r="1.2" fill="#e81010" /><circle cx="603.8" cy="89.8" r="1.2" fill="#e81010" /><circle cx="601.1" cy="90.2" r="1.2" fill="#e81010" /><circle cx="598.4" cy="90.6" r="1.2" fill="#e81010" /><circle cx="595.7" cy="91" r="1.2" fill="#e81010" /><circle cx="593" cy="91.5" r="1.2" fill="#e81010" /><circle cx="590.3" cy="91.9" r="1.2" fill="#e81010" />
<use href="#oc19_6_0_05_1" transform="translate(721.3,180.2) rotate(45)"/><use href="#oc19_6_0_05_1" transform="translate(693.5,180.2) rotate(45)"/><use href="#oc19_6_0_05_1" transform="translate(721.3,208) rotate(45)"/><use href="#oc19_6_0_05_1" transform="translate(693.5,208) rotate(45)"/><circle cx="707.4" cy="194.1" r="3.4" fill="url(#gCat)" />
<circle cx="691.8" cy="210.4" r="1.2" fill="#e81010" /><circle cx="690.2" cy="212.6" r="1.2" fill="#e81010" /><circle cx="688.6" cy="214.7" r="1.2" fill="#e81010" /><circle cx="687" cy="216.9" r="1.2" fill="#e81010" /><circle cx="685.4" cy="219.1" r="1.2" fill="#e81010" /><circle cx="683.9" cy="221.3" r="1.2" fill="#e81010" /><circle cx="682.3" cy="223.4" r="1.2" fill="#e81010" /><circle cx="680.7" cy="225.6" r="1.2" fill="#e81010" /><circle cx="679.1" cy="227.8" r="1.2" fill="#e81010" /><circle cx="677.5" cy="230" r="1.2" fill="#e81010" /><circle cx="675.9" cy="232.1" r="1.2" fill="#e81010" />
<circle cx="691.5" cy="178" r="1.2" fill="#e81010" /><circle cx="689.8" cy="176.1" r="1.2" fill="#e81010" /><circle cx="688.1" cy="174.1" r="1.2" fill="#e81010" /><circle cx="686.4" cy="172.2" r="1.2" fill="#e81010" /><circle cx="684.6" cy="170.3" r="1.2" fill="#e81010" /><circle cx="682.9" cy="168.3" r="1.2" fill="#e81010" /><circle cx="681.2" cy="166.4" r="1.2" fill="#e81010" /><circle cx="679.4" cy="164.4" r="1.2" fill="#e81010" /><circle cx="677.7" cy="162.5" r="1.2" fill="#e81010" /><circle cx="676" cy="160.6" r="1.2" fill="#e81010" /><circle cx="674.3" cy="158.6" r="1.2" fill="#e81010" />
<use href="#oc19_6_0_05_1" transform="translate(649.4,292.3) rotate(13)"/><use href="#oc19_6_0_05_1" transform="translate(625.9,307) rotate(13)"/><use href="#oc19_6_0_05_1" transform="translate(664.1,315.8) rotate(13)"/><use href="#oc19_6_0_05_1" transform="translate(640.6,330.5) rotate(13)"/><circle cx="645" cy="311.4" r="3.4" fill="url(#gCat)" />
<circle cx="622.9" cy="306.6" r="1.2" fill="#e81010" /><circle cx="620.2" cy="306.3" r="1.2" fill="#e81010" /><circle cx="617.4" cy="305.9" r="1.2" fill="#e81010" /><circle cx="614.7" cy="305.6" r="1.2" fill="#e81010" /><circle cx="611.9" cy="305.2" r="1.2" fill="#e81010" /><circle cx="609.2" cy="304.9" r="1.2" fill="#e81010" /><circle cx="606.4" cy="304.5" r="1.2" fill="#e81010" /><circle cx="603.7" cy="304.2" r="1.2" fill="#e81010" /><circle cx="600.9" cy="303.8" r="1.2" fill="#e81010" /><circle cx="598.2" cy="303.4" r="1.2" fill="#e81010" /><circle cx="595.5" cy="303.1" r="1.2" fill="#e81010" />
<circle cx="650.3" cy="289.4" r="1.2" fill="#e81010" /><circle cx="651.1" cy="287" r="1.2" fill="#e81010" /><circle cx="651.9" cy="284.5" r="1.2" fill="#e81010" /><circle cx="652.7" cy="282.1" r="1.2" fill="#e81010" /><circle cx="653.5" cy="279.6" r="1.2" fill="#e81010" /><circle cx="654.3" cy="277.1" r="1.2" fill="#e81010" /><circle cx="655.1" cy="274.7" r="1.2" fill="#e81010" /><circle cx="655.9" cy="272.2" r="1.2" fill="#e81010" /><circle cx="656.7" cy="269.8" r="1.2" fill="#e81010" /><circle cx="657.5" cy="267.3" r="1.2" fill="#e81010" /><circle cx="658.3" cy="264.8" r="1.2" fill="#e81010" />
<use href="#oc19_6_0_05_1" transform="translate(506.2,290.5) rotate(-13)"/><use href="#oc19_6_0_05_1" transform="translate(491.5,314) rotate(-13)"/><use href="#oc19_6_0_05_1" transform="translate(529.7,305.2) rotate(-13)"/><use href="#oc19_6_0_05_1" transform="translate(515,328.7) rotate(-13)"/><circle cx="510.6" cy="309.6" r="3.4" fill="url(#gCat)" />
<circle cx="504.7" cy="287.9" r="1.2" fill="#e81010" /><circle cx="503.4" cy="285.5" r="1.2" fill="#e81010" /><circle cx="502.1" cy="283.1" r="1.2" fill="#e81010" /><circle cx="500.7" cy="280.7" r="1.2" fill="#e81010" /><circle cx="499.4" cy="278.3" r="1.2" fill="#e81010" /><circle cx="498.1" cy="275.9" r="1.2" fill="#e81010" /><circle cx="496.8" cy="273.5" r="1.2" fill="#e81010" /><circle cx="495.4" cy="271.1" r="1.2" fill="#e81010" /><circle cx="494.1" cy="268.7" r="1.2" fill="#e81010" />
<circle cx="532.7" cy="305" r="1.2" fill="#e81010" /><circle cx="535.3" cy="304.9" r="1.2" fill="#e81010" /><circle cx="537.8" cy="304.7" r="1.2" fill="#e81010" /><circle cx="540.4" cy="304.6" r="1.2" fill="#e81010" /><circle cx="542.9" cy="304.5" r="1.2" fill="#e81010" /><circle cx="545.5" cy="304.3" r="1.2" fill="#e81010" /><circle cx="548" cy="304.2" r="1.2" fill="#e81010" /><circle cx="550.6" cy="304" r="1.2" fill="#e81010" /><circle cx="553.2" cy="303.9" r="1.2" fill="#e81010" /><circle cx="555.7" cy="303.8" r="1.2" fill="#e81010" /><circle cx="558.3" cy="303.6" r="1.2" fill="#e81010" />
<use href="#oc19_6_0_05_1" transform="translate(460.1,184) rotate(45)"/><use href="#oc19_6_0_05_1" transform="translate(432.3,184) rotate(45)"/><use href="#oc19_6_0_05_1" transform="translate(460.1,211.8) rotate(45)"/><use href="#oc19_6_0_05_1" transform="translate(432.3,211.8) rotate(45)"/><circle cx="446.2" cy="197.9" r="3.4" fill="url(#gCat)" />
<circle cx="461.7" cy="181.5" r="1.2" fill="#e81010" /><circle cx="463.1" cy="179.3" r="1.2" fill="#e81010" /><circle cx="464.5" cy="177.1" r="1.2" fill="#e81010" /><circle cx="465.9" cy="174.9" r="1.2" fill="#e81010" /><circle cx="467.3" cy="172.6" r="1.2" fill="#e81010" /><circle cx="468.7" cy="170.4" r="1.2" fill="#e81010" /><circle cx="470.1" cy="168.2" r="1.2" fill="#e81010" /><circle cx="471.5" cy="166" r="1.2" fill="#e81010" /><circle cx="472.8" cy="163.8" r="1.2" fill="#e81010" />
<circle cx="461.6" cy="214.3" r="1.2" fill="#e81010" /><circle cx="462.9" cy="216.6" r="1.2" fill="#e81010" /><circle cx="464.2" cy="218.8" r="1.2" fill="#e81010" /><circle cx="465.6" cy="221.1" r="1.2" fill="#e81010" /><circle cx="466.9" cy="223.3" r="1.2" fill="#e81010" /><circle cx="468.2" cy="225.6" r="1.2" fill="#e81010" /><circle cx="469.5" cy="227.8" r="1.2" fill="#e81010" /><circle cx="470.9" cy="230.1" r="1.2" fill="#e81010" /><circle cx="472.2" cy="232.3" r="1.2" fill="#e81010" /><circle cx="473.5" cy="234.6" r="1.2" fill="#e81010" /><circle cx="474.8" cy="236.8" r="1.2" fill="#e81010" />
<text x="574.2" y="194.3" font-size="18.7" text-anchor="middle" fill="#000" >Heterogeneous</text>
<text x="574.2" y="220.3" font-size="18.7" text-anchor="middle" fill="#000" >prenucleation</text>
<text x="780.3" y="125.6" font-size="18.8" text-anchor="middle" fill="#000" >Optimizing</text>
<text x="779.3" y="147" font-size="18.8" text-anchor="middle" fill="#000" >crystallization</text>
<polygon points="737.7,160.8 807.7,160.8 807.7,154.2 840.2,166.6 807.7,178.4 807.7,172.9 737.7,172.9" fill="#5bb8d5" />
<circle cx="782.4" cy="199.8" r="8.3" fill="url(#gPb)" />
<text x="795.2" y="206.4" font-size="18.5" text-anchor="start" fill="#000" >Pb</text>
<circle cx="782.4" cy="219.5" r="8.3" fill="url(#gI)" />
<text x="795.2" y="226.1" font-size="18.5" text-anchor="start" fill="#000" >I/Br</text>
<circle cx="782.4" cy="239.5" r="8.3" fill="url(#gCat)" />
<text x="795.2" y="246.1" font-size="18.5" text-anchor="start" fill="#000" >FA/</text>
<circle cx="782.4" cy="280.4" r="8.3" fill="url(#gZr)" />
<text x="795.2" y="287" font-size="18.5" text-anchor="start" fill="#000" >Zr</text>
<circle cx="782.4" cy="300.9" r="8.3" fill="url(#gO)" />
<text x="799.5" y="307.5" font-size="18.5" text-anchor="start" fill="#000" >O</text>
<circle cx="782.4" cy="321.7" r="8.3" fill="url(#gC)" />
<text x="799.5" y="328.3" font-size="18.5" text-anchor="start" fill="#000" >C</text>
<circle cx="782.4" cy="341.7" r="8.3" fill="url(#gN)" />
<text x="799.5" y="348.3" font-size="18.5" text-anchor="start" fill="#000" >N</text>
<text x="795.2" y="263.2" font-size="18.5" text-anchor="start" fill="#000" >MA</text>
</g>
<g id="pa_box2">
<rect x="843" y="45.4" width="373.4" height="303.2" rx="21" fill="none" stroke="#f2955c" stroke-width="5.2" stroke-linecap="round" stroke-dasharray="0 10.4535"/>
<g transform="rotate(0.75 850 100)">
<defs><g id="oc17_9_0_05_0"><path d="M-8.9,-8.9 L8.9,8.9 Q0,8.1 -8.9,8.9 Q-8.1,0 -8.9,-8.9 Z" fill="#5fbcd9"/><path d="M-8.9,-8.9 Q0,-8.1 8.9,-8.9 Q8.1,0 8.9,8.9 L-8.9,-8.9 Z" fill="#376b84"/><path d="M0,0 L8.9,-8.9 Q8.1,0 8.9,8.9 Z" fill="#2f6078" opacity="0.45"/><path d="M0,0 L8.9,8.9 Q0,8.1 -8.9,8.9 Z" fill="#78cbe6" opacity="0.6"/><circle cx="-9.8" cy="-8" r="0.85" fill="#7b1fa2" /><circle cx="-8" cy="-9.8" r="0.85" fill="#7b1fa2" /><circle cx="8" cy="-9.8" r="0.85" fill="#7b1fa2" /><circle cx="9.8" cy="-8" r="0.85" fill="#7b1fa2" /><circle cx="8" cy="9.8" r="0.85" fill="#7b1fa2" /><circle cx="9.8" cy="8" r="0.85" fill="#7b1fa2" /><circle cx="-9.8" cy="8" r="0.85" fill="#7b1fa2" /><circle cx="-8" cy="9.8" r="0.85" fill="#7b1fa2" /><circle cx="0" cy="0" r="2" fill="#d9e02a" /><circle cx="0" cy="0" r="1" fill="#7a2a8a" /></g></defs><use href="#oc17_9_0_05_0" x="856.9" y="76"/>
<use href="#oc17_9_0_05_0" x="891.6" y="76"/>
<use href="#oc17_9_0_05_0" x="926.3" y="76"/>
<use href="#oc17_9_0_05_0" x="961" y="76"/>
<use href="#oc17_9_0_05_0" x="995.7" y="76"/>
<use href="#oc17_9_0_05_0" x="1030.4" y="76"/>
<use href="#oc17_9_0_05_0" x="1065.1" y="76"/>
<use href="#oc17_9_0_05_0" x="1099.8" y="76"/>
<use href="#oc17_9_0_05_0" x="1134.5" y="76"/>
<use href="#oc17_9_0_05_0" x="1169.2" y="76"/>
<use href="#oc17_9_0_05_0" x="1203.9" y="76"/>
<use href="#oc17_9_0_05_0" x="874.2" y="93.5"/>
<use href="#oc17_9_0_05_0" x="909" y="93.5"/>
<use href="#oc17_9_0_05_0" x="943.6" y="93.5"/>
<use href="#oc17_9_0_05_0" x="978.4" y="93.5"/>
<use href="#oc17_9_0_05_0" x="1013" y="93.5"/>
<use href="#oc17_9_0_05_0" x="1047.8" y="93.5"/>
<use href="#oc17_9_0_05_0" x="1082.5" y="93.5"/>
<use href="#oc17_9_0_05_0" x="1117.2" y="93.5"/>
<use href="#oc17_9_0_05_0" x="1151.8" y="93.5"/>
<use href="#oc17_9_0_05_0" x="1186.5" y="93.5"/>
<use href="#oc17_9_0_05_0" x="856.9" y="110.6"/>
<use href="#oc17_9_0_05_0" x="891.6" y="110.6"/>
<use href="#oc17_9_0_05_0" x="926.3" y="110.6"/>
<use href="#oc17_9_0_05_0" x="961" y="110.6"/>
<use href="#oc17_9_0_05_0" x="995.7" y="110.6"/>
<use href="#oc17_9_0_05_0" x="1030.4" y="110.6"/>
<use href="#oc17_9_0_05_0" x="1065.1" y="110.6"/>
<use href="#oc17_9_0_05_0" x="1099.8" y="110.6"/>
<use href="#oc17_9_0_05_0" x="1134.5" y="110.6"/>
<use href="#oc17_9_0_05_0" x="1169.2" y="110.6"/>
<use href="#oc17_9_0_05_0" x="1203.9" y="110.6"/>
<use href="#oc17_9_0_05_0" x="874.2" y="128"/>
<use href="#oc17_9_0_05_0" x="943.6" y="128"/>
<use href="#oc17_9_0_05_0" x="1013" y="128"/>
<use href="#oc17_9_0_05_0" x="1082.5" y="128"/>
<use href="#oc17_9_0_05_0" x="1151.8" y="128"/>
<circle cx="874.2" cy="76" r="2.3" fill="url(#gCat)" />
<circle cx="909" cy="76" r="2.3" fill="url(#gCat)" />
<circle cx="943.6" cy="76" r="2.3" fill="url(#gCat)" />
<circle cx="978.4" cy="76" r="2.3" fill="url(#gCat)" />
<circle cx="1013" cy="76" r="2.3" fill="url(#gCat)" />
<circle cx="1047.8" cy="76" r="2.3" fill="url(#gCat)" />
<circle cx="1082.5" cy="76" r="2.3" fill="url(#gCat)" />
<circle cx="1117.2" cy="76" r="2.3" fill="url(#gCat)" />
<circle cx="1151.8" cy="76" r="2.3" fill="url(#gCat)" />
<circle cx="1186.5" cy="76" r="2.3" fill="url(#gCat)" />
<circle cx="891.6" cy="93.5" r="2.3" fill="url(#gCat)" />
<circle cx="926.3" cy="93.5" r="2.3" fill="url(#gCat)" />
<circle cx="961" cy="93.5" r="2.3" fill="url(#gCat)" />
<circle cx="995.7" cy="93.5" r="2.3" fill="url(#gCat)" />
<circle cx="1030.4" cy="93.5" r="2.3" fill="url(#gCat)" />
<circle cx="1065.1" cy="93.5" r="2.3" fill="url(#gCat)" />
<circle cx="1099.8" cy="93.5" r="2.3" fill="url(#gCat)" />
<circle cx="1134.5" cy="93.5" r="2.3" fill="url(#gCat)" />
<circle cx="1169.2" cy="93.5" r="2.3" fill="url(#gCat)" />
<circle cx="874.2" cy="110.6" r="2.3" fill="url(#gCat)" />
<circle cx="909" cy="110.6" r="2.3" fill="url(#gCat)" />
<circle cx="943.6" cy="110.6" r="2.3" fill="url(#gCat)" />
<circle cx="978.4" cy="110.6" r="2.3" fill="url(#gCat)" />
<circle cx="1013" cy="110.6" r="2.3" fill="url(#gCat)" />
<circle cx="1047.8" cy="110.6" r="2.3" fill="url(#gCat)" />
<circle cx="1082.5" cy="110.6" r="2.3" fill="url(#gCat)" />
<circle cx="1117.2" cy="110.6" r="2.3" fill="url(#gCat)" />
<circle cx="1151.8" cy="110.6" r="2.3" fill="url(#gCat)" />
<circle cx="1186.5" cy="110.6" r="2.3" fill="url(#gCat)" />
<circle cx="891.6" cy="128" r="2.3" fill="url(#gCat)" />
<circle cx="926.3" cy="128" r="2.3" fill="url(#gCat)" />
<circle cx="961" cy="128" r="2.3" fill="url(#gCat)" />
<circle cx="995.7" cy="128" r="2.3" fill="url(#gCat)" />
<circle cx="1030.4" cy="128" r="2.3" fill="url(#gCat)" />
<circle cx="1065.1" cy="128" r="2.3" fill="url(#gCat)" />
<circle cx="1099.8" cy="128" r="2.3" fill="url(#gCat)" />
<circle cx="1134.5" cy="128" r="2.3" fill="url(#gCat)" />
<circle cx="1169.2" cy="128" r="2.3" fill="url(#gCat)" />
<circle cx="1203.9" cy="128" r="2.3" fill="url(#gCat)" />
<line x1="900" y1="119.4" x2="909" y2="126.5" stroke="#a040a0" stroke-width="1.0" />
<line x1="917.9" y1="119.4" x2="909" y2="126.5" stroke="#a040a0" stroke-width="1.0" />
<line x1="904.5" y1="123" x2="909" y2="126.5" stroke="#e8d820" stroke-width="1.0" />
<line x1="913.5" y1="123" x2="909" y2="126.5" stroke="#e8d820" stroke-width="1.0" />
<circle cx="909" cy="126.5" r="2.4" fill="url(#gPb)" />
<line x1="969.4" y1="119.4" x2="978.4" y2="126.5" stroke="#a040a0" stroke-width="1.0" />
<line x1="987.3" y1="119.4" x2="978.4" y2="126.5" stroke="#a040a0" stroke-width="1.0" />
<line x1="973.9" y1="123" x2="978.4" y2="126.5" stroke="#e8d820" stroke-width="1.0" />
<line x1="982.9" y1="123" x2="978.4" y2="126.5" stroke="#e8d820" stroke-width="1.0" />
<circle cx="978.4" cy="126.5" r="2.4" fill="url(#gPb)" />
<line x1="1038.8" y1="119.4" x2="1047.8" y2="126.5" stroke="#a040a0" stroke-width="1.0" />
<line x1="1056.7" y1="119.4" x2="1047.8" y2="126.5" stroke="#a040a0" stroke-width="1.0" />
<line x1="1043.2" y1="123" x2="1047.8" y2="126.5" stroke="#e8d820" stroke-width="1.0" />
<line x1="1052.2" y1="123" x2="1047.8" y2="126.5" stroke="#e8d820" stroke-width="1.0" />
<circle cx="1047.8" cy="126.5" r="2.4" fill="url(#gPb)" />
<line x1="1108.2" y1="119.4" x2="1117.2" y2="126.5" stroke="#a040a0" stroke-width="1.0" />
<line x1="1126.1" y1="119.4" x2="1117.2" y2="126.5" stroke="#a040a0" stroke-width="1.0" />
<line x1="1112.7" y1="123" x2="1117.2" y2="126.5" stroke="#e8d820" stroke-width="1.0" />
<line x1="1121.7" y1="123" x2="1117.2" y2="126.5" stroke="#e8d820" stroke-width="1.0" />
<circle cx="1117.2" cy="126.5" r="2.4" fill="url(#gPb)" />
<line x1="1177.6" y1="119.4" x2="1186.6" y2="126.5" stroke="#a040a0" stroke-width="1.0" />
<line x1="1195.5" y1="119.4" x2="1186.6" y2="126.5" stroke="#a040a0" stroke-width="1.0" />
<line x1="1182.1" y1="123" x2="1186.6" y2="126.5" stroke="#e8d820" stroke-width="1.0" />
<line x1="1191.1" y1="123" x2="1186.6" y2="126.5" stroke="#e8d820" stroke-width="1.0" />
<circle cx="1186.6" cy="126.5" r="2.4" fill="url(#gPb)" />
</g>
<g transform="rotate(0.75 850 290)">
<use href="#oc17_9_0_05_0" x="910.9" y="263.6"/>
<use href="#oc17_9_0_05_0" x="980.3" y="263.6"/>
<use href="#oc17_9_0_05_0" x="1049.7" y="263.6"/>
<use href="#oc17_9_0_05_0" x="1119.1" y="263.6"/>
<use href="#oc17_9_0_05_0" x="1188.5" y="263.6"/>
<use href="#oc17_9_0_05_0" x="858.6" y="281"/>
<use href="#oc17_9_0_05_0" x="893.3" y="281"/>
<use href="#oc17_9_0_05_0" x="928" y="281"/>
<use href="#oc17_9_0_05_0" x="962.7" y="281"/>
<use href="#oc17_9_0_05_0" x="997.4" y="281"/>
<use href="#oc17_9_0_05_0" x="1032.1" y="281"/>
<use href="#oc17_9_0_05_0" x="1066.8" y="281"/>
<use href="#oc17_9_0_05_0" x="1101.5" y="281"/>
<use href="#oc17_9_0_05_0" x="1136.2" y="281"/>
<use href="#oc17_9_0_05_0" x="1170.9" y="281"/>
<use href="#oc17_9_0_05_0" x="1205.6" y="281"/>
<use href="#oc17_9_0_05_0" x="876" y="298.4"/>
<use href="#oc17_9_0_05_0" x="910.7" y="298.4"/>
<use href="#oc17_9_0_05_0" x="945.4" y="298.4"/>
<use href="#oc17_9_0_05_0" x="980.1" y="298.4"/>
<use href="#oc17_9_0_05_0" x="1014.8" y="298.4"/>
<use href="#oc17_9_0_05_0" x="1049.5" y="298.4"/>
<use href="#oc17_9_0_05_0" x="1084.2" y="298.4"/>
<use href="#oc17_9_0_05_0" x="1118.9" y="298.4"/>
<use href="#oc17_9_0_05_0" x="1153.6" y="298.4"/>
<use href="#oc17_9_0_05_0" x="1188.2" y="298.4"/>
<use href="#oc17_9_0_05_0" x="858.6" y="315.8"/>
<use href="#oc17_9_0_05_0" x="893.3" y="315.8"/>
<use href="#oc17_9_0_05_0" x="928" y="315.8"/>
<use href="#oc17_9_0_05_0" x="962.7" y="315.8"/>
<use href="#oc17_9_0_05_0" x="997.4" y="315.8"/>
<use href="#oc17_9_0_05_0" x="1032.1" y="315.8"/>
<use href="#oc17_9_0_05_0" x="1066.8" y="315.8"/>
<use href="#oc17_9_0_05_0" x="1101.5" y="315.8"/>
<use href="#oc17_9_0_05_0" x="1136.2" y="315.8"/>
<use href="#oc17_9_0_05_0" x="1170.9" y="315.8"/>
<use href="#oc17_9_0_05_0" x="1205.6" y="315.8"/>
<circle cx="876" cy="281" r="2.3" fill="url(#gCat)" />
<circle cx="910.7" cy="281" r="2.3" fill="url(#gCat)" />
<circle cx="945.4" cy="281" r="2.3" fill="url(#gCat)" />
<circle cx="980.1" cy="281" r="2.3" fill="url(#gCat)" />
<circle cx="1014.8" cy="281" r="2.3" fill="url(#gCat)" />
<circle cx="1049.5" cy="281" r="2.3" fill="url(#gCat)" />
<circle cx="1084.2" cy="281" r="2.3" fill="url(#gCat)" />
<circle cx="1118.9" cy="281" r="2.3" fill="url(#gCat)" />
<circle cx="1153.6" cy="281" r="2.3" fill="url(#gCat)" />
<circle cx="1188.2" cy="281" r="2.3" fill="url(#gCat)" />
<circle cx="858.6" cy="298.4" r="2.3" fill="url(#gCat)" />
<circle cx="893.3" cy="298.4" r="2.3" fill="url(#gCat)" />
<circle cx="928" cy="298.4" r="2.3" fill="url(#gCat)" />
<circle cx="962.7" cy="298.4" r="2.3" fill="url(#gCat)" />
<circle cx="997.4" cy="298.4" r="2.3" fill="url(#gCat)" />
<circle cx="1032.1" cy="298.4" r="2.3" fill="url(#gCat)" />
<circle cx="1066.8" cy="298.4" r="2.3" fill="url(#gCat)" />
<circle cx="1101.5" cy="298.4" r="2.3" fill="url(#gCat)" />
<circle cx="1136.2" cy="298.4" r="2.3" fill="url(#gCat)" />
<circle cx="1170.9" cy="298.4" r="2.3" fill="url(#gCat)" />
<circle cx="1205.6" cy="298.4" r="2.3" fill="url(#gCat)" />
<circle cx="876" cy="315.8" r="2.3" fill="url(#gCat)" />
<circle cx="910.7" cy="315.8" r="2.3" fill="url(#gCat)" />
<circle cx="945.4" cy="315.8" r="2.3" fill="url(#gCat)" />
<circle cx="980.1" cy="315.8" r="2.3" fill="url(#gCat)" />
<circle cx="1014.8" cy="315.8" r="2.3" fill="url(#gCat)" />
<circle cx="1049.5" cy="315.8" r="2.3" fill="url(#gCat)" />
<circle cx="1084.2" cy="315.8" r="2.3" fill="url(#gCat)" />
<circle cx="1118.9" cy="315.8" r="2.3" fill="url(#gCat)" />
<circle cx="1153.6" cy="315.8" r="2.3" fill="url(#gCat)" />
<circle cx="1188.2" cy="315.8" r="2.3" fill="url(#gCat)" />
<circle cx="858.6" cy="262.6" r="2.3" fill="url(#gCat)" />
<circle cx="893.3" cy="262.6" r="2.3" fill="url(#gCat)" />
<circle cx="928" cy="262.6" r="2.3" fill="url(#gCat)" />
<circle cx="962.7" cy="262.6" r="2.3" fill="url(#gCat)" />
<circle cx="997.4" cy="262.6" r="2.3" fill="url(#gCat)" />
<circle cx="1032.1" cy="262.6" r="2.3" fill="url(#gCat)" />
<circle cx="1066.8" cy="262.6" r="2.3" fill="url(#gCat)" />
<circle cx="1101.5" cy="262.6" r="2.3" fill="url(#gCat)" />
<circle cx="1136.2" cy="262.6" r="2.3" fill="url(#gCat)" />
<circle cx="1170.9" cy="262.6" r="2.3" fill="url(#gCat)" />
<circle cx="1205.6" cy="262.6" r="2.3" fill="url(#gCat)" />
<line x1="867" y1="272.2" x2="876" y2="265" stroke="#a040a0" stroke-width="1.0" />
<line x1="884.9" y1="272.2" x2="876" y2="265" stroke="#a040a0" stroke-width="1.0" />
<line x1="871.5" y1="268.5" x2="876" y2="265" stroke="#e8d820" stroke-width="1.0" />
<line x1="880.5" y1="268.5" x2="876" y2="265" stroke="#e8d820" stroke-width="1.0" />
<circle cx="876" cy="265" r="2.4" fill="url(#gPb)" />
<line x1="936.4" y1="272.2" x2="945.4" y2="265" stroke="#a040a0" stroke-width="1.0" />
<line x1="954.3" y1="272.2" x2="945.4" y2="265" stroke="#a040a0" stroke-width="1.0" />
<line x1="940.9" y1="268.5" x2="945.4" y2="265" stroke="#e8d820" stroke-width="1.0" />
<line x1="949.9" y1="268.5" x2="945.4" y2="265" stroke="#e8d820" stroke-width="1.0" />
<circle cx="945.4" cy="265" r="2.4" fill="url(#gPb)" />
<line x1="1005.8" y1="272.2" x2="1014.8" y2="265" stroke="#a040a0" stroke-width="1.0" />
<line x1="1023.7" y1="272.2" x2="1014.8" y2="265" stroke="#a040a0" stroke-width="1.0" />
<line x1="1010.2" y1="268.5" x2="1014.8" y2="265" stroke="#e8d820" stroke-width="1.0" />
<line x1="1019.2" y1="268.5" x2="1014.8" y2="265" stroke="#e8d820" stroke-width="1.0" />
<circle cx="1014.8" cy="265" r="2.4" fill="url(#gPb)" />
<line x1="1075.2" y1="272.2" x2="1084.2" y2="265" stroke="#a040a0" stroke-width="1.0" />
<line x1="1093.1" y1="272.2" x2="1084.2" y2="265" stroke="#a040a0" stroke-width="1.0" />
<line x1="1079.7" y1="268.5" x2="1084.2" y2="265" stroke="#e8d820" stroke-width="1.0" />
<line x1="1088.7" y1="268.5" x2="1084.2" y2="265" stroke="#e8d820" stroke-width="1.0" />
<circle cx="1084.2" cy="265" r="2.4" fill="url(#gPb)" />
<line x1="1144.6" y1="272.2" x2="1153.6" y2="265" stroke="#a040a0" stroke-width="1.0" />
<line x1="1162.5" y1="272.2" x2="1153.6" y2="265" stroke="#a040a0" stroke-width="1.0" />
<line x1="1149.1" y1="268.5" x2="1153.6" y2="265" stroke="#e8d820" stroke-width="1.0" />
<line x1="1158.1" y1="268.5" x2="1153.6" y2="265" stroke="#e8d820" stroke-width="1.0" />
<circle cx="1153.6" cy="265" r="2.4" fill="url(#gPb)" />
</g>
<polygon points="931.5,158.9 925.8,155.6 925.8,149 931.5,145.7 937.2,149 937.2,155.6" fill="none" stroke="#8a8a8a" stroke-width="2.0" stroke-linejoin="round"/><circle cx="931.5" cy="158.9" r="1.7" fill="url(#gC)" /><circle cx="925.8" cy="155.6" r="1.7" fill="url(#gC)" /><circle cx="925.8" cy="149" r="1.7" fill="url(#gC)" /><circle cx="931.5" cy="145.7" r="1.7" fill="url(#gC)" /><circle cx="937.2" cy="149" r="1.7" fill="url(#gC)" /><circle cx="937.2" cy="155.6" r="1.7" fill="url(#gC)" />
<polygon points="931.5,190 925.8,186.7 925.8,180.1 931.5,176.8 937.2,180.1 937.2,186.7" fill="none" stroke="#8a8a8a" stroke-width="2.0" stroke-linejoin="round"/><circle cx="931.5" cy="190" r="1.7" fill="url(#gC)" /><circle cx="925.8" cy="186.7" r="1.7" fill="url(#gC)" /><circle cx="925.8" cy="180.1" r="1.7" fill="url(#gC)" /><circle cx="931.5" cy="176.8" r="1.7" fill="url(#gC)" /><circle cx="937.2" cy="180.1" r="1.7" fill="url(#gC)" /><circle cx="937.2" cy="186.7" r="1.7" fill="url(#gC)" />
<polygon points="931.5,221.8 925.8,218.5 925.8,211.9 931.5,208.6 937.2,211.9 937.2,218.5" fill="none" stroke="#8a8a8a" stroke-width="2.0" stroke-linejoin="round"/><circle cx="931.5" cy="221.8" r="1.7" fill="url(#gC)" /><circle cx="925.8" cy="218.5" r="1.7" fill="url(#gC)" /><circle cx="925.8" cy="211.9" r="1.7" fill="url(#gC)" /><circle cx="931.5" cy="208.6" r="1.7" fill="url(#gC)" /><circle cx="937.2" cy="211.9" r="1.7" fill="url(#gC)" /><circle cx="937.2" cy="218.5" r="1.7" fill="url(#gC)" />
<polygon points="932.3,251.6 926.6,248.3 926.6,241.7 932.3,238.4 938,241.7 938,248.3" fill="none" stroke="#8a8a8a" stroke-width="2.0" stroke-linejoin="round"/><circle cx="932.3" cy="251.6" r="1.7" fill="url(#gC)" /><circle cx="926.6" cy="248.3" r="1.7" fill="url(#gC)" /><circle cx="926.6" cy="241.7" r="1.7" fill="url(#gC)" /><circle cx="932.3" cy="238.4" r="1.7" fill="url(#gC)" /><circle cx="938" cy="241.7" r="1.7" fill="url(#gC)" /><circle cx="938" cy="248.3" r="1.7" fill="url(#gC)" />
<line x1="925.8" y1="155.6" x2="920.2" y2="158.8" stroke="#8a8a8a" stroke-width="2.0" stroke-linecap="round"/>
<line x1="937.2" y1="155.6" x2="942.8" y2="158.8" stroke="#8a8a8a" stroke-width="2.0" stroke-linecap="round"/>
<line x1="931.5" y1="145.7" x2="931.5" y2="142.1" stroke="#8a8a8a" stroke-width="2.0" stroke-linecap="round"/>
<line x1="931.5" y1="142.1" x2="927.1" y2="140.1" stroke="#8a8a8a" stroke-width="1.3" stroke-linecap="round"/>
<line x1="931.5" y1="142.1" x2="935.9" y2="140.1" stroke="#8a8a8a" stroke-width="1.3" stroke-linecap="round"/>
<line x1="925.8" y1="180.1" x2="920.2" y2="176.9" stroke="#8a8a8a" stroke-width="2.0" stroke-linecap="round"/>
<line x1="937.2" y1="180.1" x2="942.8" y2="176.9" stroke="#8a8a8a" stroke-width="2.0" stroke-linecap="round"/>
<line x1="931.5" y1="190" x2="931.5" y2="193.6" stroke="#8a8a8a" stroke-width="2.0" stroke-linecap="round"/>
<line x1="931.5" y1="193.6" x2="927.1" y2="195.6" stroke="#8a8a8a" stroke-width="1.3" stroke-linecap="round"/>
<line x1="931.5" y1="193.6" x2="935.9" y2="195.6" stroke="#8a8a8a" stroke-width="1.3" stroke-linecap="round"/>
<line x1="925.8" y1="218.5" x2="920.2" y2="221.7" stroke="#8a8a8a" stroke-width="2.0" stroke-linecap="round"/>
<line x1="937.2" y1="218.5" x2="942.8" y2="221.7" stroke="#8a8a8a" stroke-width="2.0" stroke-linecap="round"/>
<line x1="931.5" y1="208.6" x2="931.5" y2="205" stroke="#8a8a8a" stroke-width="2.0" stroke-linecap="round"/>
<line x1="931.5" y1="205" x2="927.1" y2="203" stroke="#8a8a8a" stroke-width="1.3" stroke-linecap="round"/>
<line x1="931.5" y1="205" x2="935.9" y2="203" stroke="#8a8a8a" stroke-width="1.3" stroke-linecap="round"/>
<line x1="926.6" y1="241.7" x2="921" y2="238.5" stroke="#8a8a8a" stroke-width="2.0" stroke-linecap="round"/>
<line x1="938" y1="241.7" x2="943.6" y2="238.5" stroke="#8a8a8a" stroke-width="2.0" stroke-linecap="round"/>
<line x1="932.3" y1="251.6" x2="932.3" y2="255.2" stroke="#8a8a8a" stroke-width="2.0" stroke-linecap="round"/>
<line x1="932.3" y1="255.2" x2="927.9" y2="257.2" stroke="#8a8a8a" stroke-width="1.3" stroke-linecap="round"/>
<line x1="932.3" y1="255.2" x2="936.7" y2="257.2" stroke="#8a8a8a" stroke-width="1.3" stroke-linecap="round"/>
<line x1="877" y1="152" x2="873.5" y2="149" stroke="#8a8a8a" stroke-width="1.1" stroke-linecap="round"/>
<line x1="877" y1="152" x2="880.5" y2="154.5" stroke="#8a8a8a" stroke-width="1.1" stroke-linecap="round"/>
<line x1="850.5" y1="178.5" x2="847" y2="175.5" stroke="#8a8a8a" stroke-width="1.1" stroke-linecap="round"/>
<line x1="850.5" y1="178.5" x2="854" y2="181" stroke="#8a8a8a" stroke-width="1.1" stroke-linecap="round"/>
<line x1="852" y1="221" x2="848.5" y2="218" stroke="#8a8a8a" stroke-width="1.1" stroke-linecap="round"/>
<line x1="852" y1="221" x2="855.5" y2="223.5" stroke="#8a8a8a" stroke-width="1.1" stroke-linecap="round"/>
<line x1="879" y1="245.5" x2="875.5" y2="242.5" stroke="#8a8a8a" stroke-width="1.1" stroke-linecap="round"/>
<line x1="879" y1="245.5" x2="882.5" y2="248" stroke="#8a8a8a" stroke-width="1.1" stroke-linecap="round"/>
<line x1="985" y1="152.5" x2="981.5" y2="149.5" stroke="#8a8a8a" stroke-width="1.1" stroke-linecap="round"/>
<line x1="985" y1="152.5" x2="988.5" y2="155" stroke="#8a8a8a" stroke-width="1.1" stroke-linecap="round"/>
<line x1="985" y1="243" x2="981.5" y2="240" stroke="#8a8a8a" stroke-width="1.1" stroke-linecap="round"/>
<line x1="985" y1="243" x2="988.5" y2="245.5" stroke="#8a8a8a" stroke-width="1.1" stroke-linecap="round"/>
<line x1="1006" y1="216" x2="1002.5" y2="213" stroke="#8a8a8a" stroke-width="1.1" stroke-linecap="round"/>
<line x1="1006" y1="216" x2="1009.5" y2="218.5" stroke="#8a8a8a" stroke-width="1.1" stroke-linecap="round"/>
<line x1="868" y1="172" x2="864.5" y2="169" stroke="#8a8a8a" stroke-width="1.1" stroke-linecap="round"/>
<line x1="868" y1="172" x2="871.5" y2="174.5" stroke="#8a8a8a" stroke-width="1.1" stroke-linecap="round"/>
<line x1="880" y1="226" x2="876.5" y2="223" stroke="#8a8a8a" stroke-width="1.1" stroke-linecap="round"/>
<line x1="880" y1="226" x2="883.5" y2="228.5" stroke="#8a8a8a" stroke-width="1.1" stroke-linecap="round"/>
<polygon points="896.7,165.1 917.6,167.9 914,182" fill="#00b400" stroke="#00b400" stroke-width="0.4"/><polygon points="896.7,165.1 914,182 899.1,187.6" fill="#12f012" stroke="#12f012" stroke-width="0.4"/><polygon points="896.7,165.1 899.1,187.6 885.7,180.6" fill="#009800" stroke="#009800" stroke-width="0.4"/><polygon points="896.7,165.1 885.7,180.6 879.3,167.9" fill="#00d800" stroke="#00d800" stroke-width="0.4"/><polygon points="896.7,165.1 879.3,167.9 885.2,154.7" fill="#00a800" stroke="#00a800" stroke-width="0.4"/><polygon points="896.7,165.1 885.2,154.7 899.1,148.6" fill="#1cf41c" stroke="#1cf41c" stroke-width="0.4"/><polygon points="896.7,165.1 899.1,148.6 913.8,153.9" fill="#008c00" stroke="#008c00" stroke-width="0.4"/><polygon points="896.7,165.1 913.8,153.9 917.6,167.9" fill="#00e600" stroke="#00e600" stroke-width="0.4"/><polygon points="907.1,166.5 917.6,167.9 907.1,175.3" fill="#00d800" opacity="0.85"/><polygon points="897.9,176.3 899.1,187.6 890.1,174.4" fill="#1cf41c" opacity="0.85"/><polygon points="888,166.5 879.3,167.9 889.8,158.9" fill="#00e600" opacity="0.85"/><polygon points="897.9,156.8 899.1,148.6 907,158.4" fill="#12f012" opacity="0.85"/><line x1="917.6" y1="167.9" x2="912.4" y2="167.2" stroke="#e02020" stroke-width="0.7" /><line x1="914" y1="182" x2="909.7" y2="177.8" stroke="#e02020" stroke-width="0.7" /><line x1="899.1" y1="187.6" x2="898.5" y2="182" stroke="#e02020" stroke-width="0.7" /><line x1="885.7" y1="180.6" x2="888.5" y2="176.7" stroke="#e02020" stroke-width="0.7" /><line x1="879.3" y1="167.9" x2="883.7" y2="167.2" stroke="#e02020" stroke-width="0.7" /><line x1="885.2" y1="154.7" x2="888.1" y2="157.3" stroke="#e02020" stroke-width="0.7" /><line x1="899.1" y1="148.6" x2="898.5" y2="152.7" stroke="#e02020" stroke-width="0.7" /><line x1="913.8" y1="153.9" x2="909.5" y2="156.7" stroke="#e02020" stroke-width="0.7" /><circle cx="917.6" cy="167.9" r="1.5" fill="url(#gC)" /><circle cx="899.1" cy="187.6" r="1.5" fill="url(#gC)" /><circle cx="879.3" cy="167.9" r="1.5" fill="url(#gC)" /><circle cx="899.1" cy="148.6" r="1.5" fill="url(#gC)" />
<polygon points="964.4,167.7 983.6,174.9 972,185.9" fill="#12f012" stroke="#12f012" stroke-width="0.4"/><polygon points="964.4,167.7 972,185.9 956.8,183.1" fill="#009800" stroke="#009800" stroke-width="0.4"/><polygon points="964.4,167.7 956.8,183.1 946.9,173.8" fill="#00d800" stroke="#00d800" stroke-width="0.4"/><polygon points="964.4,167.7 946.9,173.8 944.4,159.5" fill="#00a800" stroke="#00a800" stroke-width="0.4"/><polygon points="964.4,167.7 944.4,159.5 955.9,149" fill="#1cf41c" stroke="#1cf41c" stroke-width="0.4"/><polygon points="964.4,167.7 955.9,149 971.6,149.2" fill="#008c00" stroke="#008c00" stroke-width="0.4"/><polygon points="964.4,167.7 971.6,149.2 981.5,160.2" fill="#00e600" stroke="#00e600" stroke-width="0.4"/><polygon points="964.4,167.7 981.5,160.2 983.6,174.9" fill="#00b400" stroke="#00b400" stroke-width="0.4"/><polygon points="974,171.3 983.6,174.9 969,178.6" fill="#00a800" opacity="0.85"/><polygon points="960.6,175.4 956.8,183.1 953.9,171.3" fill="#008c00" opacity="0.85"/><polygon points="954.4,163.6 944.4,159.5 959.3,156.5" fill="#00b400" opacity="0.85"/><polygon points="968,158.5 971.6,149.2 974.6,163.2" fill="#009800" opacity="0.85"/><line x1="983.6" y1="174.9" x2="978.8" y2="173.1" stroke="#e02020" stroke-width="0.7" /><line x1="972" y1="185.9" x2="970.1" y2="181.4" stroke="#e02020" stroke-width="0.7" /><line x1="956.8" y1="183.1" x2="958.7" y2="179.2" stroke="#e02020" stroke-width="0.7" /><line x1="946.9" y1="173.8" x2="951.3" y2="172.3" stroke="#e02020" stroke-width="0.7" /><line x1="944.4" y1="159.5" x2="949.4" y2="161.5" stroke="#e02020" stroke-width="0.7" /><line x1="955.9" y1="149" x2="958" y2="153.7" stroke="#e02020" stroke-width="0.7" /><line x1="971.6" y1="149.2" x2="969.8" y2="153.8" stroke="#e02020" stroke-width="0.7" /><line x1="981.5" y1="160.2" x2="977.2" y2="162" stroke="#e02020" stroke-width="0.7" /><circle cx="983.6" cy="174.9" r="1.5" fill="url(#gC)" /><circle cx="956.8" cy="183.1" r="1.5" fill="url(#gC)" /><circle cx="944.4" cy="159.5" r="1.5" fill="url(#gC)" /><circle cx="971.6" cy="149.2" r="1.5" fill="url(#gC)" />
<polygon points="867.8,197.8 888.1,199.4 883.3,212.8" fill="#009800" stroke="#009800" stroke-width="0.4"/><polygon points="867.8,197.8 883.3,212.8 869.2,217.8" fill="#00d800" stroke="#00d800" stroke-width="0.4"/><polygon points="867.8,197.8 869.2,217.8 854.9,213" fill="#00a800" stroke="#00a800" stroke-width="0.4"/><polygon points="867.8,197.8 854.9,213 848.9,199.4" fill="#1cf41c" stroke="#1cf41c" stroke-width="0.4"/><polygon points="867.8,197.8 848.9,199.4 856.3,187.2" fill="#008c00" stroke="#008c00" stroke-width="0.4"/><polygon points="867.8,197.8 856.3,187.2 869.2,182.3" fill="#00e600" stroke="#00e600" stroke-width="0.4"/><polygon points="867.8,197.8 869.2,182.3 884.1,185.3" fill="#00b400" stroke="#00b400" stroke-width="0.4"/><polygon points="867.8,197.8 884.1,185.3 888.1,199.4" fill="#12f012" stroke="#12f012" stroke-width="0.4"/><polygon points="877.9,198.6 888.1,199.4 877.1,206.8" fill="#1cf41c" opacity="0.85"/><polygon points="868.5,207.8 869.2,217.8 860.1,206.9" fill="#00e600" opacity="0.85"/><polygon points="858.4,198.6 848.9,199.4 860.9,191.4" fill="#12f012" opacity="0.85"/><polygon points="868.5,190 869.2,182.3 877.5,190.3" fill="#00d800" opacity="0.85"/><line x1="888.1" y1="199.4" x2="883" y2="199" stroke="#e02020" stroke-width="0.7" /><line x1="883.3" y1="212.8" x2="879.4" y2="209.1" stroke="#e02020" stroke-width="0.7" /><line x1="869.2" y1="217.8" x2="868.8" y2="212.8" stroke="#e02020" stroke-width="0.7" /><line x1="854.9" y1="213" x2="858.1" y2="209.2" stroke="#e02020" stroke-width="0.7" /><line x1="848.9" y1="199.4" x2="853.6" y2="199" stroke="#e02020" stroke-width="0.7" /><line x1="856.3" y1="187.2" x2="859.2" y2="189.8" stroke="#e02020" stroke-width="0.7" /><line x1="869.2" y1="182.3" x2="868.8" y2="186.1" stroke="#e02020" stroke-width="0.7" /><line x1="884.1" y1="185.3" x2="880" y2="188.4" stroke="#e02020" stroke-width="0.7" /><circle cx="888.1" cy="199.4" r="1.5" fill="url(#gC)" /><circle cx="869.2" cy="217.8" r="1.5" fill="url(#gC)" /><circle cx="848.9" cy="199.4" r="1.5" fill="url(#gC)" /><circle cx="869.2" cy="182.3" r="1.5" fill="url(#gC)" />
<polygon points="997,196.1 1012.8,204.7 1002.4,213.9" fill="#00d800" stroke="#00d800" stroke-width="0.4"/><polygon points="997,196.1 1002.4,213.9 988,214.8" fill="#00a800" stroke="#00a800" stroke-width="0.4"/><polygon points="997,196.1 988,214.8 978.3,204.5" fill="#1cf41c" stroke="#1cf41c" stroke-width="0.4"/><polygon points="997,196.1 978.3,204.5 978.5,191.2" fill="#008c00" stroke="#008c00" stroke-width="0.4"/><polygon points="997,196.1 978.5,191.2 988,180.7" fill="#00e600" stroke="#00e600" stroke-width="0.4"/><polygon points="997,196.1 988,180.7 1003.6,179.1" fill="#00b400" stroke="#00b400" stroke-width="0.4"/><polygon points="997,196.1 1003.6,179.1 1014.7,190.2" fill="#12f012" stroke="#12f012" stroke-width="0.4"/><polygon points="997,196.1 1014.7,190.2 1012.8,204.7" fill="#009800" stroke="#009800" stroke-width="0.4"/><polygon points="1004.9,200.4 1012.8,204.7 1000.3,206.8" fill="#008c00" opacity="0.85"/><polygon points="992.5,205.5 988,214.8 985.7,201.2" fill="#00b400" opacity="0.85"/><polygon points="987.8,193.7 978.5,191.2 991.6,186.9" fill="#009800" opacity="0.85"/><polygon points="1000.3,187.6 1003.6,179.1 1007.6,192.6" fill="#00a800" opacity="0.85"/><line x1="1012.8" y1="204.7" x2="1008.9" y2="202.5" stroke="#e02020" stroke-width="0.7" /><line x1="1002.4" y1="213.9" x2="1001.1" y2="209.5" stroke="#e02020" stroke-width="0.7" /><line x1="988" y1="214.8" x2="990.2" y2="210.2" stroke="#e02020" stroke-width="0.7" /><line x1="978.3" y1="204.5" x2="982.9" y2="202.4" stroke="#e02020" stroke-width="0.7" /><line x1="978.5" y1="191.2" x2="983.2" y2="192.4" stroke="#e02020" stroke-width="0.7" /><line x1="988" y1="180.7" x2="990.2" y2="184.6" stroke="#e02020" stroke-width="0.7" /><line x1="1003.6" y1="179.1" x2="1001.9" y2="183.4" stroke="#e02020" stroke-width="0.7" /><line x1="1014.7" y1="190.2" x2="1010.3" y2="191.7" stroke="#e02020" stroke-width="0.7" /><circle cx="1012.8" cy="204.7" r="1.5" fill="url(#gC)" /><circle cx="988" cy="214.8" r="1.5" fill="url(#gC)" /><circle cx="978.5" cy="191.2" r="1.5" fill="url(#gC)" /><circle cx="1003.6" cy="179.1" r="1.5" fill="url(#gC)" />
<polygon points="905.8,231.1 923.3,230.2 917.7,244.1" fill="#00a800" stroke="#00a800" stroke-width="0.4"/><polygon points="905.8,231.1 917.7,244.1 903.1,250" fill="#1cf41c" stroke="#1cf41c" stroke-width="0.4"/><polygon points="905.8,231.1 903.1,250 888,244.6" fill="#008c00" stroke="#008c00" stroke-width="0.4"/><polygon points="905.8,231.1 888,244.6 882.4,230.2" fill="#00e600" stroke="#00e600" stroke-width="0.4"/><polygon points="905.8,231.1 882.4,230.2 888,215.9" fill="#00b400" stroke="#00b400" stroke-width="0.4"/><polygon points="905.8,231.1 888,215.9 903.1,213" fill="#12f012" stroke="#12f012" stroke-width="0.4"/><polygon points="905.8,231.1 903.1,213 917,217" fill="#009800" stroke="#009800" stroke-width="0.4"/><polygon points="905.8,231.1 917,217 923.3,230.2" fill="#00d800" stroke="#00d800" stroke-width="0.4"/><polygon points="914.6,230.6 923.3,230.2 912.9,238.9" fill="#00e600" opacity="0.85"/><polygon points="904.4,240.6 903.1,250 895.1,239.2" fill="#12f012" opacity="0.85"/><polygon points="894.1,230.6 882.4,230.2 895.1,222" fill="#00d800" opacity="0.85"/><polygon points="904.4,222 903.1,213 912.5,222.6" fill="#1cf41c" opacity="0.85"/><line x1="923.3" y1="230.2" x2="918.9" y2="230.4" stroke="#e02020" stroke-width="0.7" /><line x1="917.7" y1="244.1" x2="914.7" y2="240.8" stroke="#e02020" stroke-width="0.7" /><line x1="903.1" y1="250" x2="903.8" y2="245.3" stroke="#e02020" stroke-width="0.7" /><line x1="888" y1="244.6" x2="892.4" y2="241.2" stroke="#e02020" stroke-width="0.7" /><line x1="882.4" y1="230.2" x2="888.3" y2="230.4" stroke="#e02020" stroke-width="0.7" /><line x1="888" y1="215.9" x2="892.5" y2="219.7" stroke="#e02020" stroke-width="0.7" /><line x1="903.1" y1="213" x2="903.8" y2="217.5" stroke="#e02020" stroke-width="0.7" /><line x1="917" y1="217" x2="914.2" y2="220.5" stroke="#e02020" stroke-width="0.7" /><circle cx="923.3" cy="230.2" r="1.5" fill="url(#gC)" /><circle cx="903.1" cy="250" r="1.5" fill="url(#gC)" /><circle cx="882.4" cy="230.2" r="1.5" fill="url(#gC)" /><circle cx="903.1" cy="213" r="1.5" fill="url(#gC)" />
<polygon points="963.8,230.2 983.9,236.2 972.6,247" fill="#1cf41c" stroke="#1cf41c" stroke-width="0.4"/><polygon points="963.8,230.2 972.6,247 957,245.9" fill="#008c00" stroke="#008c00" stroke-width="0.4"/><polygon points="963.8,230.2 957,245.9 947.1,235.5" fill="#00e600" stroke="#00e600" stroke-width="0.4"/><polygon points="963.8,230.2 947.1,235.5 948,222.1" fill="#00b400" stroke="#00b400" stroke-width="0.4"/><polygon points="963.8,230.2 948,222.1 956.8,210.7" fill="#12f012" stroke="#12f012" stroke-width="0.4"/><polygon points="963.8,230.2 956.8,210.7 972.1,211.3" fill="#009800" stroke="#009800" stroke-width="0.4"/><polygon points="963.8,230.2 972.1,211.3 983.8,221.1" fill="#00d800" stroke="#00d800" stroke-width="0.4"/><polygon points="963.8,230.2 983.8,221.1 983.9,236.2" fill="#00a800" stroke="#00a800" stroke-width="0.4"/><polygon points="973.9,233.2 983.9,236.2 969.1,240.3" fill="#00b400" opacity="0.85"/><polygon points="960.4,238.1 957,245.9 953.8,233.4" fill="#009800" opacity="0.85"/><polygon points="955.9,226.1 948,222.1 959.6,218.5" fill="#00a800" opacity="0.85"/><polygon points="968,220.8 972.1,211.3 975.8,224.7" fill="#008c00" opacity="0.85"/><line x1="983.9" y1="236.2" x2="978.9" y2="234.7" stroke="#e02020" stroke-width="0.7" /><line x1="972.6" y1="247" x2="970.4" y2="242.8" stroke="#e02020" stroke-width="0.7" /><line x1="957" y1="245.9" x2="958.7" y2="242" stroke="#e02020" stroke-width="0.7" /><line x1="947.1" y1="235.5" x2="951.3" y2="234.2" stroke="#e02020" stroke-width="0.7" /><line x1="948" y1="222.1" x2="951.9" y2="224.1" stroke="#e02020" stroke-width="0.7" /><line x1="956.8" y1="210.7" x2="958.6" y2="215.6" stroke="#e02020" stroke-width="0.7" /><line x1="972.1" y1="211.3" x2="970.1" y2="216" stroke="#e02020" stroke-width="0.7" /><line x1="983.8" y1="221.1" x2="978.8" y2="223.4" stroke="#e02020" stroke-width="0.7" /><circle cx="983.9" cy="236.2" r="1.5" fill="url(#gC)" /><circle cx="957" cy="245.9" r="1.5" fill="url(#gC)" /><circle cx="948" cy="222.1" r="1.5" fill="url(#gC)" /><circle cx="972.1" cy="211.3" r="1.5" fill="url(#gC)" />
<polygon points="874.5,178 871.8,180.6 866.2,180.6 863.5,178 866.2,175.4 871.8,175.4" fill="none" stroke="#8a8a8a" stroke-width="1.5" stroke-linejoin="round"/><circle cx="874.5" cy="178" r="1.3" fill="url(#gC)" /><circle cx="871.8" cy="180.6" r="1.3" fill="url(#gC)" /><circle cx="866.2" cy="180.6" r="1.3" fill="url(#gC)" /><circle cx="863.5" cy="178" r="1.3" fill="url(#gC)" /><circle cx="866.2" cy="175.4" r="1.3" fill="url(#gC)" /><circle cx="871.8" cy="175.4" r="1.3" fill="url(#gC)" />
<polygon points="1001.5,176.5 998.8,179.1 993.2,179.1 990.5,176.5 993.2,173.9 998.8,173.9" fill="none" stroke="#8a8a8a" stroke-width="1.5" stroke-linejoin="round"/><circle cx="1001.5" cy="176.5" r="1.3" fill="url(#gC)" /><circle cx="998.8" cy="179.1" r="1.3" fill="url(#gC)" /><circle cx="993.2" cy="179.1" r="1.3" fill="url(#gC)" /><circle cx="990.5" cy="176.5" r="1.3" fill="url(#gC)" /><circle cx="993.2" cy="173.9" r="1.3" fill="url(#gC)" /><circle cx="998.8" cy="173.9" r="1.3" fill="url(#gC)" />
<polygon points="886,233.5 881.2,230.8 881.2,225.2 886,222.5 890.8,225.2 890.8,230.8" fill="none" stroke="#8a8a8a" stroke-width="1.5" stroke-linejoin="round"/><circle cx="886" cy="233.5" r="1.3" fill="url(#gC)" /><circle cx="881.2" cy="230.8" r="1.3" fill="url(#gC)" /><circle cx="881.2" cy="225.2" r="1.3" fill="url(#gC)" /><circle cx="886" cy="222.5" r="1.3" fill="url(#gC)" /><circle cx="890.8" cy="225.2" r="1.3" fill="url(#gC)" /><circle cx="890.8" cy="230.8" r="1.3" fill="url(#gC)" />
<polygon points="980,234.5 975.2,231.8 975.2,226.2 980,223.5 984.8,226.2 984.8,231.8" fill="none" stroke="#8a8a8a" stroke-width="1.5" stroke-linejoin="round"/><circle cx="980" cy="234.5" r="1.3" fill="url(#gC)" /><circle cx="975.2" cy="231.8" r="1.3" fill="url(#gC)" /><circle cx="975.2" cy="226.2" r="1.3" fill="url(#gC)" /><circle cx="980" cy="223.5" r="1.3" fill="url(#gC)" /><circle cx="984.8" cy="226.2" r="1.3" fill="url(#gC)" /><circle cx="984.8" cy="231.8" r="1.3" fill="url(#gC)" />
<circle cx="920.2" cy="158.8" r="1.7" fill="url(#gC)" />
<circle cx="917" cy="156.6" r="1.2" fill="url(#gO)" />
<circle cx="917" cy="161.4" r="1.2" fill="url(#gO)" />
<circle cx="942.8" cy="158.8" r="1.7" fill="url(#gC)" />
<circle cx="946" cy="156.6" r="1.2" fill="url(#gO)" />
<circle cx="946" cy="161.4" r="1.2" fill="url(#gO)" />
<circle cx="931.5" cy="142.1" r="1.7" fill="url(#gC)" />
<circle cx="927.1" cy="140.1" r="1.6" fill="url(#gO)" />
<circle cx="935.9" cy="140.1" r="1.6" fill="url(#gO)" />
<circle cx="920.2" cy="176.9" r="1.7" fill="url(#gC)" />
<circle cx="917" cy="174.7" r="1.2" fill="url(#gO)" />
<circle cx="917" cy="179.5" r="1.2" fill="url(#gO)" />
<circle cx="942.8" cy="176.9" r="1.7" fill="url(#gC)" />
<circle cx="946" cy="174.7" r="1.2" fill="url(#gO)" />
<circle cx="946" cy="179.5" r="1.2" fill="url(#gO)" />
<circle cx="931.5" cy="193.6" r="1.7" fill="url(#gC)" />
<circle cx="927.1" cy="195.6" r="1.6" fill="url(#gO)" />
<circle cx="935.9" cy="195.6" r="1.6" fill="url(#gO)" />
<circle cx="920.2" cy="221.7" r="1.7" fill="url(#gC)" />
<circle cx="917" cy="219.5" r="1.2" fill="url(#gO)" />
<circle cx="917" cy="224.3" r="1.2" fill="url(#gO)" />
<circle cx="942.8" cy="221.7" r="1.7" fill="url(#gC)" />
<circle cx="946" cy="219.5" r="1.2" fill="url(#gO)" />
<circle cx="946" cy="224.3" r="1.2" fill="url(#gO)" />
<circle cx="931.5" cy="205" r="1.7" fill="url(#gC)" />
<circle cx="927.1" cy="203" r="1.6" fill="url(#gO)" />
<circle cx="935.9" cy="203" r="1.6" fill="url(#gO)" />
<circle cx="921" cy="238.5" r="1.7" fill="url(#gC)" />
<circle cx="917.8" cy="236.3" r="1.2" fill="url(#gO)" />
<circle cx="917.8" cy="241.1" r="1.2" fill="url(#gO)" />
<circle cx="943.6" cy="238.5" r="1.7" fill="url(#gC)" />
<circle cx="946.8" cy="236.3" r="1.2" fill="url(#gO)" />
<circle cx="946.8" cy="241.1" r="1.2" fill="url(#gO)" />
<circle cx="932.3" cy="255.2" r="1.7" fill="url(#gC)" />
<circle cx="927.9" cy="257.2" r="1.6" fill="url(#gO)" />
<circle cx="936.7" cy="257.2" r="1.6" fill="url(#gO)" />
<circle cx="877" cy="152" r="1.6" fill="url(#gC)" />
<circle cx="873.5" cy="149" r="1.5" fill="url(#gO)" />
<circle cx="880.5" cy="154.5" r="1.5" fill="url(#gO)" />
<circle cx="850.5" cy="178.5" r="1.6" fill="url(#gC)" />
<circle cx="847" cy="175.5" r="1.5" fill="url(#gO)" />
<circle cx="854" cy="181" r="1.5" fill="url(#gO)" />
<circle cx="852" cy="221" r="1.6" fill="url(#gC)" />
<circle cx="848.5" cy="218" r="1.5" fill="url(#gO)" />
<circle cx="855.5" cy="223.5" r="1.5" fill="url(#gO)" />
<circle cx="879" cy="245.5" r="1.6" fill="url(#gC)" />
<circle cx="875.5" cy="242.5" r="1.5" fill="url(#gO)" />
<circle cx="882.5" cy="248" r="1.5" fill="url(#gO)" />
<circle cx="985" cy="152.5" r="1.6" fill="url(#gC)" />
<circle cx="981.5" cy="149.5" r="1.5" fill="url(#gO)" />
<circle cx="988.5" cy="155" r="1.5" fill="url(#gO)" />
<circle cx="985" cy="243" r="1.6" fill="url(#gC)" />
<circle cx="981.5" cy="240" r="1.5" fill="url(#gO)" />
<circle cx="988.5" cy="245.5" r="1.5" fill="url(#gO)" />
<circle cx="1006" cy="216" r="1.6" fill="url(#gC)" />
<circle cx="1002.5" cy="213" r="1.5" fill="url(#gO)" />
<circle cx="1009.5" cy="218.5" r="1.5" fill="url(#gO)" />
<circle cx="868" cy="172" r="1.6" fill="url(#gC)" />
<circle cx="864.5" cy="169" r="1.5" fill="url(#gO)" />
<circle cx="871.5" cy="174.5" r="1.5" fill="url(#gO)" />
<circle cx="880" cy="226" r="1.6" fill="url(#gC)" />
<circle cx="876.5" cy="223" r="1.5" fill="url(#gO)" />
<circle cx="883.5" cy="228.5" r="1.5" fill="url(#gO)" />
<line x1="1075.5" y1="149.9" x2="1157.9" y2="149.9" stroke="#8a8a8a" stroke-width="1.9" stroke-linecap="round"/>
<line x1="1075.5" y1="149.9" x2="1041" y2="172.9" stroke="#8a8a8a" stroke-width="1.9" stroke-linecap="round"/>
<line x1="1157.9" y1="149.9" x2="1190.7" y2="174.7" stroke="#8a8a8a" stroke-width="1.9" stroke-linecap="round"/>
<line x1="1041" y1="172.9" x2="1076.4" y2="199.5" stroke="#8a8a8a" stroke-width="1.9" stroke-linecap="round"/>
<line x1="1190.7" y1="174.7" x2="1158.8" y2="199.5" stroke="#8a8a8a" stroke-width="1.9" stroke-linecap="round"/>
<line x1="1076.4" y1="199.5" x2="1158.8" y2="199.5" stroke="#8a8a8a" stroke-width="1.9" stroke-linecap="round"/>
<line x1="1076.4" y1="199.5" x2="1041.9" y2="223.4" stroke="#8a8a8a" stroke-width="1.9" stroke-linecap="round"/>
<line x1="1158.8" y1="199.5" x2="1192.5" y2="224.3" stroke="#8a8a8a" stroke-width="1.9" stroke-linecap="round"/>
<line x1="1041.9" y1="223.4" x2="1077.3" y2="249.1" stroke="#8a8a8a" stroke-width="1.9" stroke-linecap="round"/>
<line x1="1192.5" y1="224.3" x2="1159.7" y2="249.9" stroke="#8a8a8a" stroke-width="1.9" stroke-linecap="round"/>
<line x1="1077.3" y1="249.1" x2="1159.7" y2="249.9" stroke="#8a8a8a" stroke-width="1.9" stroke-linecap="round"/>
<polygon points="1126,149.9 1121.4,153.5 1112,153.5 1107.4,149.9 1112,146.3 1121.4,146.3" fill="none" stroke="#8a8a8a" stroke-width="1.9" stroke-linejoin="round"/><circle cx="1126" cy="149.9" r="1.5" fill="url(#gC)" /><circle cx="1121.4" cy="153.5" r="1.5" fill="url(#gC)" /><circle cx="1112" cy="153.5" r="1.5" fill="url(#gC)" /><circle cx="1107.4" cy="149.9" r="1.5" fill="url(#gC)" /><circle cx="1112" cy="146.3" r="1.5" fill="url(#gC)" /><circle cx="1121.4" cy="146.3" r="1.5" fill="url(#gC)" />
<polygon points="1066,156.2 1064.5,162.5 1056.8,167.6 1050.5,166.6 1052,160.3 1059.7,155.2" fill="none" stroke="#8a8a8a" stroke-width="1.9" stroke-linejoin="round"/><circle cx="1066" cy="156.2" r="1.5" fill="url(#gC)" /><circle cx="1064.5" cy="162.5" r="1.5" fill="url(#gC)" /><circle cx="1056.8" cy="167.6" r="1.5" fill="url(#gC)" /><circle cx="1050.5" cy="166.6" r="1.5" fill="url(#gC)" /><circle cx="1052" cy="160.3" r="1.5" fill="url(#gC)" /><circle cx="1059.7" cy="155.2" r="1.5" fill="url(#gC)" />
<polygon points="1181.7,167.9 1175.4,168.6 1167.9,163 1166.9,156.7 1173.2,156 1180.7,161.6" fill="none" stroke="#8a8a8a" stroke-width="1.9" stroke-linejoin="round"/><circle cx="1181.7" cy="167.9" r="1.5" fill="url(#gC)" /><circle cx="1175.4" cy="168.6" r="1.5" fill="url(#gC)" /><circle cx="1167.9" cy="163" r="1.5" fill="url(#gC)" /><circle cx="1166.9" cy="156.7" r="1.5" fill="url(#gC)" /><circle cx="1173.2" cy="156" r="1.5" fill="url(#gC)" /><circle cx="1180.7" cy="161.6" r="1.5" fill="url(#gC)" />
<polygon points="1066.1,191.8 1059.8,192.5 1052.4,186.9 1051.3,180.6 1057.6,179.9 1065,185.5" fill="none" stroke="#8a8a8a" stroke-width="1.9" stroke-linejoin="round"/><circle cx="1066.1" cy="191.8" r="1.5" fill="url(#gC)" /><circle cx="1059.8" cy="192.5" r="1.5" fill="url(#gC)" /><circle cx="1052.4" cy="186.9" r="1.5" fill="url(#gC)" /><circle cx="1051.3" cy="180.6" r="1.5" fill="url(#gC)" /><circle cx="1057.6" cy="179.9" r="1.5" fill="url(#gC)" /><circle cx="1065" cy="185.5" r="1.5" fill="url(#gC)" />
<polygon points="1182.1,181.4 1181.1,187.7 1173.8,193.4 1167.4,192.8 1168.4,186.5 1175.7,180.8" fill="none" stroke="#8a8a8a" stroke-width="1.9" stroke-linejoin="round"/><circle cx="1182.1" cy="181.4" r="1.5" fill="url(#gC)" /><circle cx="1181.1" cy="187.7" r="1.5" fill="url(#gC)" /><circle cx="1173.8" cy="193.4" r="1.5" fill="url(#gC)" /><circle cx="1167.4" cy="192.8" r="1.5" fill="url(#gC)" /><circle cx="1168.4" cy="186.5" r="1.5" fill="url(#gC)" /><circle cx="1175.7" cy="180.8" r="1.5" fill="url(#gC)" />
<polygon points="1126.9,199.5 1122.2,203.1 1112.9,203.1 1108.3,199.5 1112.9,195.9 1122.2,195.9" fill="none" stroke="#8a8a8a" stroke-width="1.9" stroke-linejoin="round"/><circle cx="1126.9" cy="199.5" r="1.5" fill="url(#gC)" /><circle cx="1122.2" cy="203.1" r="1.5" fill="url(#gC)" /><circle cx="1112.9" cy="203.1" r="1.5" fill="url(#gC)" /><circle cx="1108.3" cy="199.5" r="1.5" fill="url(#gC)" /><circle cx="1112.9" cy="195.9" r="1.5" fill="url(#gC)" /><circle cx="1122.2" cy="195.9" r="1.5" fill="url(#gC)" />
<polygon points="1066.8,206.2 1065.5,212.4 1057.8,217.7 1051.5,216.7 1052.8,210.5 1060.5,205.2" fill="none" stroke="#8a8a8a" stroke-width="1.9" stroke-linejoin="round"/><circle cx="1066.8" cy="206.2" r="1.5" fill="url(#gC)" /><circle cx="1065.5" cy="212.4" r="1.5" fill="url(#gC)" /><circle cx="1057.8" cy="217.7" r="1.5" fill="url(#gC)" /><circle cx="1051.5" cy="216.7" r="1.5" fill="url(#gC)" /><circle cx="1052.8" cy="210.5" r="1.5" fill="url(#gC)" /><circle cx="1060.5" cy="205.2" r="1.5" fill="url(#gC)" />
<polygon points="1183.1,217.4 1176.8,218.2 1169.3,212.7 1168.2,206.4 1174.5,205.6 1182,211.1" fill="none" stroke="#8a8a8a" stroke-width="1.9" stroke-linejoin="round"/><circle cx="1183.1" cy="217.4" r="1.5" fill="url(#gC)" /><circle cx="1176.8" cy="218.2" r="1.5" fill="url(#gC)" /><circle cx="1169.3" cy="212.7" r="1.5" fill="url(#gC)" /><circle cx="1168.2" cy="206.4" r="1.5" fill="url(#gC)" /><circle cx="1174.5" cy="205.6" r="1.5" fill="url(#gC)" /><circle cx="1182" cy="211.1" r="1.5" fill="url(#gC)" />
<polygon points="1067.1,241.7 1060.8,242.5 1053.3,237.1 1052.1,230.8 1058.4,230 1065.9,235.4" fill="none" stroke="#8a8a8a" stroke-width="1.9" stroke-linejoin="round"/><circle cx="1067.1" cy="241.7" r="1.5" fill="url(#gC)" /><circle cx="1060.8" cy="242.5" r="1.5" fill="url(#gC)" /><circle cx="1053.3" cy="237.1" r="1.5" fill="url(#gC)" /><circle cx="1052.1" cy="230.8" r="1.5" fill="url(#gC)" /><circle cx="1058.4" cy="230" r="1.5" fill="url(#gC)" /><circle cx="1065.9" cy="235.4" r="1.5" fill="url(#gC)" />
<polygon points="1183.4,231.4 1182.5,237.7 1175.1,243.4 1168.8,242.8 1169.7,236.5 1177.1,230.8" fill="none" stroke="#8a8a8a" stroke-width="1.9" stroke-linejoin="round"/><circle cx="1183.4" cy="231.4" r="1.5" fill="url(#gC)" /><circle cx="1182.5" cy="237.7" r="1.5" fill="url(#gC)" /><circle cx="1175.1" cy="243.4" r="1.5" fill="url(#gC)" /><circle cx="1168.8" cy="242.8" r="1.5" fill="url(#gC)" /><circle cx="1169.7" cy="236.5" r="1.5" fill="url(#gC)" /><circle cx="1177.1" cy="230.8" r="1.5" fill="url(#gC)" />
<polygon points="1127.8,249.6 1123.1,253.1 1113.8,253 1109.2,249.4 1113.9,245.9 1123.2,246" fill="none" stroke="#8a8a8a" stroke-width="1.9" stroke-linejoin="round"/><circle cx="1127.8" cy="249.6" r="1.5" fill="url(#gC)" /><circle cx="1123.1" cy="253.1" r="1.5" fill="url(#gC)" /><circle cx="1113.8" cy="253" r="1.5" fill="url(#gC)" /><circle cx="1109.2" cy="249.4" r="1.5" fill="url(#gC)" /><circle cx="1113.9" cy="245.9" r="1.5" fill="url(#gC)" /><circle cx="1123.2" cy="246" r="1.5" fill="url(#gC)" />
<polygon points="1085.7,152.4 1079.4,155.8 1069.2,153.3 1065.3,147.4 1071.6,144 1081.8,146.5" fill="none" stroke="#8a8a8a" stroke-width="1.9" stroke-linejoin="round"/><circle cx="1085.7" cy="152.4" r="1.5" fill="url(#gC)" /><circle cx="1079.4" cy="155.8" r="1.5" fill="url(#gC)" /><circle cx="1069.2" cy="153.3" r="1.5" fill="url(#gC)" /><circle cx="1065.3" cy="147.4" r="1.5" fill="url(#gC)" /><circle cx="1071.6" cy="144" r="1.5" fill="url(#gC)" /><circle cx="1081.8" cy="146.5" r="1.5" fill="url(#gC)" />
<polygon points="1168.1,152.4 1161.8,155.8 1151.6,153.3 1147.7,147.4 1154,144 1164.2,146.5" fill="none" stroke="#8a8a8a" stroke-width="1.9" stroke-linejoin="round"/><circle cx="1168.1" cy="152.4" r="1.5" fill="url(#gC)" /><circle cx="1161.8" cy="155.8" r="1.5" fill="url(#gC)" /><circle cx="1151.6" cy="153.3" r="1.5" fill="url(#gC)" /><circle cx="1147.7" cy="147.4" r="1.5" fill="url(#gC)" /><circle cx="1154" cy="144" r="1.5" fill="url(#gC)" /><circle cx="1164.2" cy="146.5" r="1.5" fill="url(#gC)" />
<polygon points="1051.2,175.4 1044.9,178.8 1034.7,176.3 1030.8,170.4 1037.1,167 1047.3,169.5" fill="none" stroke="#8a8a8a" stroke-width="1.9" stroke-linejoin="round"/><circle cx="1051.2" cy="175.4" r="1.5" fill="url(#gC)" /><circle cx="1044.9" cy="178.8" r="1.5" fill="url(#gC)" /><circle cx="1034.7" cy="176.3" r="1.5" fill="url(#gC)" /><circle cx="1030.8" cy="170.4" r="1.5" fill="url(#gC)" /><circle cx="1037.1" cy="167" r="1.5" fill="url(#gC)" /><circle cx="1047.3" cy="169.5" r="1.5" fill="url(#gC)" />
<polygon points="1200.9,177.2 1194.6,180.6 1184.4,178.1 1180.5,172.2 1186.8,168.8 1197,171.3" fill="none" stroke="#8a8a8a" stroke-width="1.9" stroke-linejoin="round"/><circle cx="1200.9" cy="177.2" r="1.5" fill="url(#gC)" /><circle cx="1194.6" cy="180.6" r="1.5" fill="url(#gC)" /><circle cx="1184.4" cy="178.1" r="1.5" fill="url(#gC)" /><circle cx="1180.5" cy="172.2" r="1.5" fill="url(#gC)" /><circle cx="1186.8" cy="168.8" r="1.5" fill="url(#gC)" /><circle cx="1197" cy="171.3" r="1.5" fill="url(#gC)" />
<polygon points="1086.6,202 1080.3,205.4 1070.1,202.9 1066.2,197 1072.5,193.6 1082.7,196.1" fill="none" stroke="#8a8a8a" stroke-width="1.9" stroke-linejoin="round"/><circle cx="1086.6" cy="202" r="1.5" fill="url(#gC)" /><circle cx="1080.3" cy="205.4" r="1.5" fill="url(#gC)" /><circle cx="1070.1" cy="202.9" r="1.5" fill="url(#gC)" /><circle cx="1066.2" cy="197" r="1.5" fill="url(#gC)" /><circle cx="1072.5" cy="193.6" r="1.5" fill="url(#gC)" /><circle cx="1082.7" cy="196.1" r="1.5" fill="url(#gC)" />
<polygon points="1169,202 1162.7,205.4 1152.5,202.9 1148.6,197 1154.9,193.6 1165.1,196.1" fill="none" stroke="#8a8a8a" stroke-width="1.9" stroke-linejoin="round"/><circle cx="1169" cy="202" r="1.5" fill="url(#gC)" /><circle cx="1162.7" cy="205.4" r="1.5" fill="url(#gC)" /><circle cx="1152.5" cy="202.9" r="1.5" fill="url(#gC)" /><circle cx="1148.6" cy="197" r="1.5" fill="url(#gC)" /><circle cx="1154.9" cy="193.6" r="1.5" fill="url(#gC)" /><circle cx="1165.1" cy="196.1" r="1.5" fill="url(#gC)" />
<polygon points="1052.1,225.9 1045.8,229.3 1035.6,226.8 1031.7,220.9 1038,217.5 1048.2,220" fill="none" stroke="#8a8a8a" stroke-width="1.9" stroke-linejoin="round"/><circle cx="1052.1" cy="225.9" r="1.5" fill="url(#gC)" /><circle cx="1045.8" cy="229.3" r="1.5" fill="url(#gC)" /><circle cx="1035.6" cy="226.8" r="1.5" fill="url(#gC)" /><circle cx="1031.7" cy="220.9" r="1.5" fill="url(#gC)" /><circle cx="1038" cy="217.5" r="1.5" fill="url(#gC)" /><circle cx="1048.2" cy="220" r="1.5" fill="url(#gC)" />
<polygon points="1202.7,226.8 1196.4,230.2 1186.2,227.7 1182.3,221.8 1188.6,218.4 1198.8,220.9" fill="none" stroke="#8a8a8a" stroke-width="1.9" stroke-linejoin="round"/><circle cx="1202.7" cy="226.8" r="1.5" fill="url(#gC)" /><circle cx="1196.4" cy="230.2" r="1.5" fill="url(#gC)" /><circle cx="1186.2" cy="227.7" r="1.5" fill="url(#gC)" /><circle cx="1182.3" cy="221.8" r="1.5" fill="url(#gC)" /><circle cx="1188.6" cy="218.4" r="1.5" fill="url(#gC)" /><circle cx="1198.8" cy="220.9" r="1.5" fill="url(#gC)" />
<polygon points="1087.5,251.6 1081.2,255 1071,252.5 1067.1,246.6 1073.4,243.2 1083.6,245.7" fill="none" stroke="#8a8a8a" stroke-width="1.9" stroke-linejoin="round"/><circle cx="1087.5" cy="251.6" r="1.5" fill="url(#gC)" /><circle cx="1081.2" cy="255" r="1.5" fill="url(#gC)" /><circle cx="1071" cy="252.5" r="1.5" fill="url(#gC)" /><circle cx="1067.1" cy="246.6" r="1.5" fill="url(#gC)" /><circle cx="1073.4" cy="243.2" r="1.5" fill="url(#gC)" /><circle cx="1083.6" cy="245.7" r="1.5" fill="url(#gC)" />
<polygon points="1169.9,252.4 1163.6,255.8 1153.4,253.3 1149.5,247.4 1155.8,244 1166,246.5" fill="none" stroke="#8a8a8a" stroke-width="1.9" stroke-linejoin="round"/><circle cx="1169.9" cy="252.4" r="1.5" fill="url(#gC)" /><circle cx="1163.6" cy="255.8" r="1.5" fill="url(#gC)" /><circle cx="1153.4" cy="253.3" r="1.5" fill="url(#gC)" /><circle cx="1149.5" cy="247.4" r="1.5" fill="url(#gC)" /><circle cx="1155.8" cy="244" r="1.5" fill="url(#gC)" /><circle cx="1166" cy="246.5" r="1.5" fill="url(#gC)" />
<line x1="1031" y1="172.9" x2="1024" y2="174.4" stroke="#8a8a8a" stroke-width="1.8" stroke-linecap="round"/>
<line x1="1024" y1="174.4" x2="1017" y2="172.4" stroke="#8a8a8a" stroke-width="1.8" stroke-linecap="round"/>
<line x1="1031.9" y1="223.4" x2="1024.9" y2="224.9" stroke="#8a8a8a" stroke-width="1.8" stroke-linecap="round"/>
<line x1="1024.9" y1="224.9" x2="1017.9" y2="222.9" stroke="#8a8a8a" stroke-width="1.8" stroke-linecap="round"/>
<ellipse cx="1003" cy="168" rx="8.5" ry="9" fill="none" stroke="#7a7a7a" stroke-width="1.3"/>
<path d="M1014,205 q4,12 -1,22" fill="none" stroke="#7a7a7a" stroke-width="1.1"/><path d="M1018,206 q3,10 -1,19" fill="none" stroke="#7a7a7a" stroke-width="1.1"/>
<circle cx="1099" cy="149.3" r="2.1" fill="url(#gN)" />
<circle cx="1092" cy="150.7" r="1.5" fill="url(#gC)" />
<circle cx="1134.4" cy="149.3" r="2.1" fill="url(#gN)" />
<circle cx="1141.4" cy="150.7" r="1.5" fill="url(#gC)" />
<circle cx="1065.7" cy="155.9" r="2.1" fill="url(#gN)" />
<circle cx="1068.6" cy="155.3" r="1.5" fill="url(#gC)" />
<circle cx="1050.8" cy="165.7" r="2.1" fill="url(#gN)" />
<circle cx="1047.9" cy="169.1" r="1.5" fill="url(#gC)" />
<circle cx="1167.2" cy="156.4" r="2.1" fill="url(#gN)" />
<circle cx="1164.5" cy="155.7" r="1.5" fill="url(#gC)" />
<circle cx="1181.4" cy="167" r="2.1" fill="url(#gN)" />
<circle cx="1184.1" cy="170.5" r="1.5" fill="url(#gC)" />
<circle cx="1051.1" cy="179.9" r="2.1" fill="url(#gN)" />
<circle cx="1048.1" cy="179" r="1.5" fill="url(#gC)" />
<circle cx="1066.3" cy="191.3" r="2.1" fill="url(#gN)" />
<circle cx="1069.3" cy="195" r="1.5" fill="url(#gC)" />
<circle cx="1181.6" cy="181.2" r="2.1" fill="url(#gN)" />
<circle cx="1184.3" cy="180.5" r="1.5" fill="url(#gC)" />
<circle cx="1167.9" cy="191.8" r="2.1" fill="url(#gN)" />
<circle cx="1165.2" cy="195.3" r="1.5" fill="url(#gC)" />
<circle cx="1099.9" cy="198.9" r="2.1" fill="url(#gN)" />
<circle cx="1092.9" cy="200.3" r="1.5" fill="url(#gC)" />
<circle cx="1135.3" cy="198.9" r="2.1" fill="url(#gN)" />
<circle cx="1142.3" cy="200.3" r="1.5" fill="url(#gC)" />
<circle cx="1066.6" cy="205.7" r="2.1" fill="url(#gN)" />
<circle cx="1069.5" cy="205.1" r="1.5" fill="url(#gC)" />
<circle cx="1051.7" cy="216" r="2.1" fill="url(#gN)" />
<circle cx="1048.8" cy="219.4" r="1.5" fill="url(#gC)" />
<circle cx="1168.4" cy="206" r="2.1" fill="url(#gN)" />
<circle cx="1165.5" cy="205.3" r="1.5" fill="url(#gC)" />
<circle cx="1182.9" cy="216.6" r="2.1" fill="url(#gN)" />
<circle cx="1185.8" cy="220.1" r="1.5" fill="url(#gC)" />
<circle cx="1052" cy="230.1" r="2.1" fill="url(#gN)" />
<circle cx="1049" cy="229.3" r="1.5" fill="url(#gC)" />
<circle cx="1067.2" cy="241.2" r="2.1" fill="url(#gN)" />
<circle cx="1070.2" cy="244.8" r="1.5" fill="url(#gC)" />
<circle cx="1183.2" cy="231" r="2.1" fill="url(#gN)" />
<circle cx="1185.9" cy="230.2" r="1.5" fill="url(#gC)" />
<circle cx="1169" cy="242" r="2.1" fill="url(#gN)" />
<circle cx="1166.3" cy="245.6" r="1.5" fill="url(#gC)" />
<circle cx="1100.8" cy="248.7" r="2.1" fill="url(#gN)" />
<circle cx="1093.8" cy="250.1" r="1.5" fill="url(#gC)" />
<circle cx="1136.2" cy="249.1" r="2.1" fill="url(#gN)" />
<circle cx="1143.2" cy="250.5" r="1.5" fill="url(#gC)" />
<circle cx="1061.7" cy="147.9" r="2" fill="url(#gO)" />
<circle cx="1085" cy="143.1" r="2" fill="url(#gO)" />
<circle cx="1082" cy="157.1" r="2" fill="url(#gO)" />
<circle cx="1144.1" cy="147.9" r="2" fill="url(#gO)" />
<circle cx="1167.4" cy="143.1" r="2" fill="url(#gO)" />
<circle cx="1164.4" cy="157.1" r="2" fill="url(#gO)" />
<circle cx="1027.2" cy="170.9" r="2" fill="url(#gO)" />
<circle cx="1050.5" cy="166.1" r="2" fill="url(#gO)" />
<circle cx="1047.5" cy="180.1" r="2" fill="url(#gO)" />
<circle cx="1176.9" cy="172.7" r="2" fill="url(#gO)" />
<circle cx="1200.2" cy="167.9" r="2" fill="url(#gO)" />
<circle cx="1197.2" cy="181.9" r="2" fill="url(#gO)" />
<circle cx="1062.6" cy="197.5" r="2" fill="url(#gO)" />
<circle cx="1085.9" cy="192.7" r="2" fill="url(#gO)" />
<circle cx="1082.9" cy="206.7" r="2" fill="url(#gO)" />
<circle cx="1145" cy="197.5" r="2" fill="url(#gO)" />
<circle cx="1168.3" cy="192.7" r="2" fill="url(#gO)" />
<circle cx="1165.3" cy="206.7" r="2" fill="url(#gO)" />
<circle cx="1028.1" cy="221.4" r="2" fill="url(#gO)" />
<circle cx="1051.4" cy="216.6" r="2" fill="url(#gO)" />
<circle cx="1048.4" cy="230.6" r="2" fill="url(#gO)" />
<circle cx="1178.7" cy="222.3" r="2" fill="url(#gO)" />
<circle cx="1202" cy="217.5" r="2" fill="url(#gO)" />
<circle cx="1199" cy="231.5" r="2" fill="url(#gO)" />
<circle cx="1063.5" cy="247.1" r="2" fill="url(#gO)" />
<circle cx="1086.8" cy="242.3" r="2" fill="url(#gO)" />
<circle cx="1083.8" cy="256.3" r="2" fill="url(#gO)" />
<circle cx="1145.9" cy="247.9" r="2" fill="url(#gO)" />
<circle cx="1169.2" cy="243.1" r="2" fill="url(#gO)" />
<circle cx="1166.2" cy="257.1" r="2" fill="url(#gO)" />
<circle cx="1017" cy="172.4" r="2" fill="url(#gN)" />
<circle cx="1024" cy="174.4" r="1.5" fill="url(#gC)" />
<circle cx="1017.9" cy="222.9" r="2" fill="url(#gN)" />
<circle cx="1024.9" cy="224.9" r="1.5" fill="url(#gC)" />
<circle cx="997" cy="160.5" r="1.4" fill="url(#gC)" />
<circle cx="1006.5" cy="160.8" r="1.4" fill="url(#gC)" />
<circle cx="1011" cy="168" r="1.4" fill="url(#gC)" />
<circle cx="1006" cy="176" r="1.4" fill="url(#gC)" />
<circle cx="996" cy="175" r="1.4" fill="url(#gC)" />
<circle cx="1069.5" cy="255.7" r="2" fill="url(#gN)" />
<circle cx="1170.5" cy="255.9" r="2" fill="url(#gN)" />
<circle cx="910.8" cy="128.7" r="0.95" fill="#e81010" /><circle cx="913.2" cy="130.3" r="0.95" fill="#e81010" /><circle cx="915.5" cy="131.8" r="0.95" fill="#e81010" /><circle cx="917.9" cy="133.4" r="0.95" fill="#e81010" /><circle cx="920.3" cy="134.9" r="0.95" fill="#e81010" /><circle cx="922.7" cy="136.5" r="0.95" fill="#e81010" /><circle cx="925" cy="138" r="0.95" fill="#e81010" /><circle cx="927.4" cy="139.6" r="0.95" fill="#e81010" />
<circle cx="978.5" cy="130.7" r="0.95" fill="#e81010" /><circle cx="979" cy="133.4" r="0.95" fill="#e81010" /><circle cx="979.6" cy="136.1" r="0.95" fill="#e81010" /><circle cx="980.1" cy="138.8" r="0.95" fill="#e81010" /><circle cx="980.6" cy="141.5" r="0.95" fill="#e81010" /><circle cx="981.1" cy="144.1" r="0.95" fill="#e81010" /><circle cx="981.7" cy="146.8" r="0.95" fill="#e81010" /><circle cx="982.2" cy="149.5" r="0.95" fill="#e81010" />
<circle cx="1049" cy="131.2" r="0.95" fill="#e81010" /><circle cx="1050.5" cy="133.2" r="0.95" fill="#e81010" /><circle cx="1052.1" cy="135.3" r="0.95" fill="#e81010" /><circle cx="1053.7" cy="137.3" r="0.95" fill="#e81010" /><circle cx="1055.2" cy="139.4" r="0.95" fill="#e81010" /><circle cx="1056.8" cy="141.4" r="0.95" fill="#e81010" /><circle cx="1058.4" cy="143.5" r="0.95" fill="#e81010" /><circle cx="1059.9" cy="145.5" r="0.95" fill="#e81010" /><circle cx="1061.5" cy="147.6" r="0.95" fill="#e81010" />
<circle cx="1115.1" cy="131.9" r="0.95" fill="#e81010" /><circle cx="1113.2" cy="134" r="0.95" fill="#e81010" /><circle cx="1111.4" cy="136" r="0.95" fill="#e81010" /><circle cx="1109.5" cy="138" r="0.95" fill="#e81010" /><circle cx="1107.7" cy="140.1" r="0.95" fill="#e81010" /><circle cx="1105.8" cy="142.1" r="0.95" fill="#e81010" /><circle cx="1104" cy="144.1" r="0.95" fill="#e81010" /><circle cx="1102.1" cy="146.2" r="0.95" fill="#e81010" /><circle cx="1100.3" cy="148.2" r="0.95" fill="#e81010" />
<circle cx="1118.4" cy="132.1" r="0.95" fill="#e81010" /><circle cx="1120" cy="134.3" r="0.95" fill="#e81010" /><circle cx="1121.6" cy="136.5" r="0.95" fill="#e81010" /><circle cx="1123.3" cy="138.7" r="0.95" fill="#e81010" /><circle cx="1124.9" cy="140.9" r="0.95" fill="#e81010" /><circle cx="1126.6" cy="143.2" r="0.95" fill="#e81010" /><circle cx="1128.2" cy="145.4" r="0.95" fill="#e81010" /><circle cx="1129.9" cy="147.6" r="0.95" fill="#e81010" /><circle cx="1131.5" cy="149.8" r="0.95" fill="#e81010" />
<circle cx="1184.6" cy="132.9" r="0.95" fill="#e81010" /><circle cx="1182.8" cy="135.2" r="0.95" fill="#e81010" /><circle cx="1181.1" cy="137.4" r="0.95" fill="#e81010" /><circle cx="1179.3" cy="139.6" r="0.95" fill="#e81010" /><circle cx="1177.5" cy="141.9" r="0.95" fill="#e81010" /><circle cx="1175.8" cy="144.1" r="0.95" fill="#e81010" /><circle cx="1174" cy="146.3" r="0.95" fill="#e81010" /><circle cx="1172.3" cy="148.6" r="0.95" fill="#e81010" /><circle cx="1170.5" cy="150.8" r="0.95" fill="#e81010" />
<circle cx="876.4" cy="262.7" r="0.95" fill="#e81010" /><circle cx="876.6" cy="260.2" r="0.95" fill="#e81010" /><circle cx="876.7" cy="257.7" r="0.95" fill="#e81010" /><circle cx="876.9" cy="255.1" r="0.95" fill="#e81010" /><circle cx="877" cy="252.6" r="0.95" fill="#e81010" /><circle cx="877.2" cy="250.1" r="0.95" fill="#e81010" /><circle cx="877.3" cy="247.5" r="0.95" fill="#e81010" /><circle cx="877.5" cy="245" r="0.95" fill="#e81010" />
<circle cx="877.2" cy="262.9" r="0.95" fill="#e81010" /><circle cx="878.1" cy="260.5" r="0.95" fill="#e81010" /><circle cx="879" cy="258.1" r="0.95" fill="#e81010" /><circle cx="879.8" cy="255.7" r="0.95" fill="#e81010" /><circle cx="880.7" cy="253.3" r="0.95" fill="#e81010" /><circle cx="881.6" cy="250.9" r="0.95" fill="#e81010" /><circle cx="882.5" cy="248.5" r="0.95" fill="#e81010" />
<circle cx="943.3" cy="265.1" r="0.95" fill="#e81010" /><circle cx="940.9" cy="264" r="0.95" fill="#e81010" /><circle cx="938.4" cy="262.8" r="0.95" fill="#e81010" /><circle cx="936" cy="261.7" r="0.95" fill="#e81010" /><circle cx="933.5" cy="260.5" r="0.95" fill="#e81010" /><circle cx="931.1" cy="259.4" r="0.95" fill="#e81010" /><circle cx="928.6" cy="258.2" r="0.95" fill="#e81010" />
<circle cx="943.8" cy="264.5" r="0.95" fill="#e81010" /><circle cx="941.7" cy="262.4" r="0.95" fill="#e81010" /><circle cx="939.5" cy="260.4" r="0.95" fill="#e81010" /><circle cx="937.4" cy="258.4" r="0.95" fill="#e81010" />
<circle cx="1084.6" cy="265.5" r="0.95" fill="#e81010" /><circle cx="1084.7" cy="263" r="0.95" fill="#e81010" /><circle cx="1084.7" cy="260.6" r="0.95" fill="#e81010" /><circle cx="1084.8" cy="258.1" r="0.95" fill="#e81010" /><circle cx="1084.9" cy="255.7" r="0.95" fill="#e81010" /><circle cx="1085" cy="253.2" r="0.95" fill="#e81010" />
<circle cx="1152.9" cy="266.6" r="0.95" fill="#e81010" /><circle cx="1151.8" cy="263.9" r="0.95" fill="#e81010" /><circle cx="1150.7" cy="261.2" r="0.95" fill="#e81010" /><circle cx="1149.7" cy="258.5" r="0.95" fill="#e81010" /><circle cx="1148.6" cy="255.9" r="0.95" fill="#e81010" /><circle cx="1147.5" cy="253.2" r="0.95" fill="#e81010" />
<circle cx="982.2" cy="149.5" r="1.5" fill="url(#gO)" />
<circle cx="988" cy="145.5" r="1.5" fill="url(#gO)" />
</g>
<g id="sem">
<defs><clipPath id="clipB"><rect x="21.9" y="368" width="335.7" height="239.6"/></clipPath>
<linearGradient id="sgB0" x1="0" y1="0" x2="1" y2="1"><stop offset="0" stop-color="rgb(97,97,97)"/><stop offset="0.5" stop-color="rgb(83,83,83)"/><stop offset="1" stop-color="rgb(73,73,73)"/></linearGradient>
<linearGradient id="sgB1" x1="0" y1="0" x2="1" y2="1"><stop offset="0" stop-color="rgb(100,100,100)"/><stop offset="0.5" stop-color="rgb(86,86,86)"/><stop offset="1" stop-color="rgb(76,76,76)"/></linearGradient>
<linearGradient id="sgB2" x1="0" y1="0" x2="1" y2="1"><stop offset="0" stop-color="rgb(103,103,103)"/><stop offset="0.5" stop-color="rgb(89,89,89)"/><stop offset="1" stop-color="rgb(79,79,79)"/></linearGradient>
<linearGradient id="sgB3" x1="0" y1="0" x2="1" y2="1"><stop offset="0" stop-color="rgb(105,105,105)"/><stop offset="0.5" stop-color="rgb(91,91,91)"/><stop offset="1" stop-color="rgb(81,81,81)"/></linearGradient>
<linearGradient id="sgB4" x1="0" y1="0" x2="1" y2="1"><stop offset="0" stop-color="rgb(108,108,108)"/><stop offset="0.5" stop-color="rgb(94,94,94)"/><stop offset="1" stop-color="rgb(84,84,84)"/></linearGradient>
<linearGradient id="sgB5" x1="0" y1="0" x2="1" y2="1"><stop offset="0" stop-color="rgb(111,111,111)"/><stop offset="0.5" stop-color="rgb(97,97,97)"/><stop offset="1" stop-color="rgb(87,87,87)"/></linearGradient>
<filter id="semfB" filterUnits="userSpaceOnUse" x="11.9" y="358" width="355.7" height="259.6" color-interpolation-filters="sRGB">
<feTurbulence type="fractalNoise" baseFrequency="0.045" numOctaves="3" seed="3" result="t"/>
<feDisplacementMap in="SourceGraphic" in2="t" scale="16" xChannelSelector="R" yChannelSelector="G" result="d"/>
<feGaussianBlur in="d" stdDeviation="0.8" result="b"/>
<feTurbulence type="fractalNoise" baseFrequency="0.03" numOctaves="3" seed="16" result="lf"/>
<feColorMatrix in="lf" type="matrix" values="0.33 0.33 0.33 0 0  0.33 0.33 0.33 0 0  0.33 0.33 0.33 0 0  0 0 0 0 1" result="lg"/>
<feComposite in="b" in2="lg" operator="arithmetic" k1="0" k2="1" k3="0.24" k4="-0.12" result="c1"/>
<feColorMatrix in="c1" type="luminanceToAlpha" result="la"/>
<feGaussianBlur in="la" stdDeviation="1.3" result="bump"/>
<feDiffuseLighting in="bump" surfaceScale="7.5" diffuseConstant="1" lighting-color="#fff" result="lit"><feDistantLight azimuth="235" elevation="58"/></feDiffuseLighting>
<feComposite in="c1" in2="lit" operator="arithmetic" k1="1.18" k2="0" k3="0" k4="0" result="c2"/>
<feTurbulence type="fractalNoise" baseFrequency="0.9" numOctaves="2" seed="10" result="n"/>
<feColorMatrix in="n" type="matrix" values="0.33 0.33 0.33 0 0  0.33 0.33 0.33 0 0  0.33 0.33 0.33 0 0  0 0 0 0 1" result="ng"/>
<feComposite in="c2" in2="ng" operator="arithmetic" k1="0" k2="1" k3="0.2" k4="-0.1"/>
</filter></defs>
<g clip-path="url(#clipB)"><g filter="url(#semfB)">
<rect x="9.9" y="356" width="359.7" height="263.6" fill="rgb(66,66,66)"/>
<path d="M15.3,366.7 Q19,364.8 18.1,361.3 L15.7,352.2 Q14.8,348.6 12,348.6 L5.1,348.6 Q2.3,348.6 2.3,354 L2.2,368 Q2.2,373.4 5.9,371.5 Z" fill="url(#sgB1)"/>
<path d="M29.2,374.1 Q31.6,376.6 35.9,372.8 L46.8,362.9 Q51,359.1 51.9,356.7 L54.1,350.7 Q55,348.3 46.3,348.3 L24.3,348.4 Q15.7,348.4 16.7,352 L19.3,361.3 Q20.3,365 22.8,367.5 Z" fill="url(#sgB4)"/>
<path d="M79.8,367.3 Q81,372.5 77,374.2 L66.9,378.3 Q62.9,380 60.6,375.4 L54.7,363.7 Q52.4,359.2 53.2,356.8 L55.2,350.9 Q56,348.6 60.4,348.6 L71.4,348.6 Q75.8,348.6 76.9,353.8 Z" fill="url(#sgB4)"/>
<path d="M83.1,373.6 Q82.1,372.6 80.9,367.3 L77.9,353.8 Q76.7,348.5 80.7,348.6 L90.9,348.7 Q94.9,348.7 97.6,354.3 L104.6,368.5 Q107.3,374.1 107,374.5 L106.3,375.4 Q106,375.8 101.7,376.1 L90.9,376.8 Q86.7,377.1 85.7,376.1 Z" fill="url(#sgB1)"/>
<path d="M98.3,354 Q95.5,348.4 101.4,348.4 L116.3,348.5 Q122.1,348.5 122.6,352.9 L123.8,364.1 Q124.3,368.5 120.7,369.7 L111.7,372.6 Q108.2,373.8 105.4,368.2 Z" fill="url(#sgB2)"/>
<path d="M130.5,370.9 Q131.9,371.6 136.4,370 L147.9,366.1 Q152.4,364.5 153,361 L154.6,351.9 Q155.3,348.4 148.2,348.4 L130.2,348.4 Q123.1,348.4 123.6,352.9 L124.9,364.1 Q125.4,368.5 126.8,369.2 Z" fill="url(#sgB4)"/>
<path d="M155.3,366.2 Q153.7,364.5 154.3,361 L155.8,352 Q156.4,348.5 162.8,348.5 L179.3,348.4 Q185.7,348.4 185.8,352.7 L185.8,363.6 Q185.8,367.9 180.3,368.8 L166.3,371.1 Q160.8,371.9 159.3,370.3 Z" fill="url(#sgB3)"/>
<path d="M187.1,363.6 Q187.1,367.9 189.4,370.6 L195.2,377.3 Q197.4,380 200.7,378.3 L208.8,374.1 Q212,372.4 213.5,367.3 L217.3,354.5 Q218.7,349.5 218.7,349.2 L218.7,348.7 Q218.7,348.4 211.7,348.4 L193.9,348.4 Q186.9,348.4 186.9,352.7 Z" fill="url(#sgB5)"/>
<path d="M215.8,374.3 Q213.2,372.8 214.6,367.7 L218.2,354.8 Q219.6,349.7 225.1,354.4 L239.2,366.5 Q244.8,371.3 243.8,372.9 L241.5,377 Q240.5,378.7 237.1,378.9 L228.6,379.4 Q225.2,379.6 222.5,378.1 Z" fill="url(#sgB4)"/>
<path d="M248.6,368.6 Q245.3,370.6 239.7,365.9 L225.5,354 Q220,349.2 220,349 L219.9,348.5 Q219.9,348.2 229.1,348.2 L252.4,348.2 Q261.6,348.2 261.3,351.1 L260.4,358.4 Q260.1,361.3 256.9,363.3 Z" fill="url(#sgB0)"/>
<path d="M296,353.2 Q295.8,348.4 288.5,348.4 L270,348.4 Q262.8,348.4 262.5,351.3 L261.8,358.6 Q261.5,361.5 264.8,365.4 L273.3,375.4 Q276.7,379.4 281.1,377.3 L292.3,372.1 Q296.7,370 296.5,365.3 Z" fill="url(#sgB4)"/>
<path d="M302.1,348.6 Q296.7,348.6 297,353.3 L297.7,365.2 Q298,369.9 300.3,371.2 L306.1,374.6 Q308.4,375.9 308.9,376 L309.9,376.1 Q310.3,376.1 312.7,370 L318.9,354.6 Q321.3,348.5 315.9,348.5 Z" fill="url(#sgB0)"/>
<path d="M313.2,377.2 Q311,376.3 313.4,370.2 L319.6,354.7 Q322,348.7 325.7,348.6 L335.3,348.6 Q339.1,348.5 339.5,351.3 L340.5,358.2 Q340.9,361 336.5,365.3 L325.1,376.1 Q320.7,380.4 318.6,379.5 Z" fill="url(#sgB3)"/>
<path d="M340.6,351.2 Q340.1,348.4 346.4,348.4 L362.6,348.5 Q368.9,348.5 368.6,353.1 L367.6,364.8 Q367.2,369.4 364.8,370.7 L358.8,374 Q356.4,375.3 353.3,372.1 L345.4,364 Q342.3,360.9 341.8,358.1 Z" fill="url(#sgB2)"/>
<path d="M375.7,348.7 Q377.3,348.6 377.3,353.3 L377.3,365 Q377.3,369.6 375.3,369.5 L370.1,369.3 Q368.1,369.2 368.4,364.7 L369.3,353.2 Q369.7,348.7 371.4,348.7 Z" fill="url(#sgB4)"/>
<path d="M30.4,385.8 Q30.3,388.1 24.3,391 L9,398.5 Q3,401.4 2.8,401.4 L2.5,401.4 Q2.3,401.4 2.3,395.5 L2.4,380.4 Q2.4,374.5 6.2,372.6 L15.7,367.8 Q19.5,365.9 22,368.5 L28.4,375 Q30.9,377.6 30.7,379.9 Z" fill="url(#sgB1)"/>
<path d="M31.7,385.7 Q31.6,388 33.8,389.6 L39.3,393.8 Q41.5,395.4 45.5,394.6 L55.8,392.5 Q59.8,391.7 60.3,389.3 L61.6,383.1 Q62.1,380.7 59.8,376.1 L53.9,364.3 Q51.6,359.7 47.3,363.6 L36.5,373.6 Q32.2,377.5 32.1,379.8 Z" fill="url(#sgB1)"/>
<path d="M76.9,401.6 Q75.9,402.6 72.6,400.2 L64.3,394.3 Q61,391.9 61.6,389.5 L62.9,383.4 Q63.4,381 67.3,379.4 L77.3,375.2 Q81.2,373.6 82.3,374.6 L84.8,377.2 Q85.8,378.2 84.7,382.6 L81.8,393.9 Q80.7,398.3 79.7,399.2 Z" fill="url(#sgB5)"/>
<path d="M101.7,398.1 Q107.4,398 107.1,393.3 L106.4,381.4 Q106.1,376.7 101.8,377 L91.1,377.9 Q86.8,378.2 85.7,382.7 L82.8,394 Q81.6,398.5 87.3,398.4 Z" fill="url(#sgB3)"/>
<path d="M123.1,398.4 Q120.3,401.2 117.8,400.7 L111.6,399.5 Q109.2,399 109,398.7 L108.5,398.1 Q108.3,397.9 108.1,393.2 L107.4,381.3 Q107.1,376.6 107.4,376.3 L108.1,375.3 Q108.4,375 112,373.8 L121,370.8 Q124.5,369.6 126,370.2 L129.7,372 Q131.1,372.7 131.6,376.1 L132.9,384.9 Q133.4,388.3 130.5,391.1 Z" fill="url(#sgB4)"/>
<path d="M151.2,399.2 Q155.8,402.2 155.9,402.2 L156.2,402.2 Q156.3,402.2 157.6,401 L160.9,397.9 Q162.3,396.7 161.8,391.5 L160.5,378.3 Q160,373.1 158.5,371.4 L154.5,367.1 Q153,365.4 148.4,367 L136.8,371 Q132.2,372.6 132.8,376.1 L134.2,384.9 Q134.7,388.3 139.4,391.4 Z" fill="url(#sgB4)"/>
<path d="M166.6,372 Q161.1,372.9 161.6,378.1 L162.8,391.5 Q163.3,396.7 165.7,396.7 L171.9,396.8 Q174.3,396.8 179.1,393.8 L191.2,386 Q196,383 196.1,382.5 L196.4,381.3 Q196.5,380.8 194.3,378.1 L188.5,371.4 Q186.2,368.8 180.7,369.7 Z" fill="url(#sgB3)"/>
<path d="M219.6,403.3 Q222.2,402.3 222.7,397.5 L223.9,385.4 Q224.4,380.6 221.7,379.1 L215,375.2 Q212.4,373.6 209.2,375.3 L201,379.5 Q197.8,381.1 197.7,381.6 L197.4,382.8 Q197.3,383.3 199.7,388.3 L205.7,401.2 Q208,406.2 208.5,406.3 L209.7,406.5 Q210.1,406.6 212.8,405.7 Z" fill="url(#sgB3)"/>
<path d="M225.7,402.9 Q223.3,402.4 223.7,397.6 L224.9,385.5 Q225.4,380.8 228.7,380.6 L237.4,379.9 Q240.8,379.7 242.3,383.9 L246,394.6 Q247.4,398.8 244.6,400.2 L237.3,403.5 Q234.4,404.8 232,404.3 Z" fill="url(#sgB5)"/>
<path d="M258.3,402.6 Q261.1,403.8 264.1,401 L271.7,393.8 Q274.7,391 274.9,388.6 L275.6,382.6 Q275.9,380.2 272.6,376.3 L264.1,366.1 Q260.7,362.2 257.5,364.3 L249.2,369.7 Q246,371.8 245.1,373.5 L242.7,377.6 Q241.8,379.3 243.2,383.5 L247,394.3 Q248.5,398.5 251.3,399.7 Z" fill="url(#sgB1)"/>
<path d="M306.2,380.4 Q307.9,376.9 305.5,375.6 L299.5,372.3 Q297.1,371 292.7,373 L281.6,378.3 Q277.3,380.3 277,382.7 L276.2,388.6 Q276,391 278.7,392.5 L285.6,396.4 Q288.3,397.9 290.9,396.8 L297.6,394 Q300.2,392.9 301.9,389.4 Z" fill="url(#sgB1)"/>
<path d="M324.4,399.5 Q327.6,397.8 325.9,394.2 L321.7,385.2 Q320,381.6 317.9,380.7 L312.7,378.4 Q310.7,377.4 310.3,377.4 L309.2,377.3 Q308.8,377.3 307.2,380.8 L303,389.6 Q301.4,393.1 304,395.8 L310.7,402.8 Q313.3,405.5 316.4,403.8 Z" fill="url(#sgB5)"/>
<path d="M329.9,398.2 Q328.6,397.6 327,394 L322.8,384.8 Q321.1,381.2 325.6,376.9 L337.1,365.9 Q341.6,361.6 344.7,364.8 L352.7,373.1 Q355.8,376.3 355.7,379.6 L355.4,387.9 Q355.3,391.2 350.7,393.2 L339.1,398.3 Q334.6,400.3 333.3,399.7 Z" fill="url(#sgB1)"/>
<path d="M359.4,375.1 Q357,376.4 356.9,379.6 L356.6,387.8 Q356.5,391 361.1,394.6 L372.7,403.8 Q377.3,407.3 377.3,399.3 L377.2,378.9 Q377.2,370.8 375.1,370.8 L369.8,370.6 Q367.7,370.5 365.4,371.8 Z" fill="url(#sgB4)"/>
<path d="M24.8,391.9 Q30.9,389 33.1,390.6 L38.6,394.9 Q40.8,396.5 41.2,401.6 L42.5,414.6 Q42.9,419.7 40.1,421.6 L32.9,426.6 Q30.1,428.6 24.2,422.7 L9.2,407.9 Q3.3,402.1 9.4,399.2 Z" fill="url(#sgB3)"/>
<path d="M75.2,404.7 Q75.3,403.5 72,401.1 L63.6,395.2 Q60.3,392.8 56.2,393.6 L45.9,395.6 Q41.8,396.4 42.3,401.6 L43.5,414.6 Q44,419.7 47.1,420.7 L54.9,423.2 Q58,424.2 61.8,420.9 L71.4,412.4 Q75.2,409.1 75.2,407.9 Z" fill="url(#sgB5)"/>
<path d="M108,399.6 Q108.2,399.9 107,403.3 L103.9,412 Q102.7,415.5 100.1,417.2 L93.6,421.8 Q91.1,423.6 87.9,420.4 L79.8,412.3 Q76.6,409.1 76.6,407.9 L76.6,404.7 Q76.6,403.4 77.7,402.5 L80.5,400.2 Q81.6,399.3 87.3,399.2 L101.6,398.9 Q107.3,398.8 107.5,399 Z" fill="url(#sgB0)"/>
<path d="M126.2,418.3 Q129.8,417.4 127.7,414.1 L122.2,405.8 Q120,402.5 117.6,402 L111.6,400.7 Q109.2,400.2 108,403.6 L105.1,412.2 Q103.9,415.6 106,417 L111.4,420.3 Q113.5,421.6 117.1,420.7 Z" fill="url(#sgB5)"/>
<path d="M131.7,417.6 Q130.8,417 128.6,413.7 L123.2,405.4 Q121,402.1 123.9,399.2 L131.2,392 Q134.1,389.1 138.8,392.2 L150.7,400 Q155.4,403 150.9,406.7 L139.5,416.1 Q135,419.8 134.1,419.2 Z" fill="url(#sgB0)"/>
<path d="M177.8,403.1 Q174,398.2 171.7,398.1 L165.6,397.8 Q163.2,397.7 161.9,398.9 L158.5,401.9 Q157.1,403.1 159,407.2 L163.7,417.5 Q165.6,421.5 171.1,421.5 L185.3,421.3 Q190.8,421.2 190.8,421.1 L190.9,420.7 Q191,420.6 187.3,415.7 Z" fill="url(#sgB1)"/>
<path d="M198.9,388.7 Q196.5,383.6 191.7,386.7 L179.5,394.6 Q174.7,397.6 178.5,402.6 L187.9,415.3 Q191.6,420.3 195.1,417.3 L203.8,409.7 Q207.3,406.7 204.9,401.6 Z" fill="url(#sgB4)"/>
<path d="M231.3,426.4 Q233.8,425.6 233.8,421.3 L233.9,410.3 Q233.9,406 231.5,405.4 L225.3,404 Q222.9,403.5 220.2,404.4 L213.4,406.7 Q210.8,407.6 213.3,412.3 L219.8,424.3 Q222.4,429 224.9,428.3 Z" fill="url(#sgB0)"/>
<path d="M234.8,421.4 Q234.8,425.7 238.4,427.4 L247.5,431.7 Q251.1,433.4 253.6,429.6 L259.9,419.9 Q262.3,416 262,413.6 L261,407.4 Q260.6,404.9 257.9,403.8 L250.9,400.9 Q248.1,399.8 245.2,401.1 L237.9,404.5 Q235,405.9 235,410.2 Z" fill="url(#sgB2)"/>
<path d="M262.3,407.2 Q261.9,404.7 264.9,401.9 L272.5,394.7 Q275.5,391.9 278.2,393.5 L285,397.6 Q287.7,399.1 289.5,402.8 L294,411.9 Q295.8,415.6 295.5,416.1 L294.8,417.6 Q294.5,418.2 291.5,419.5 L283.8,422.7 Q280.8,424 277.1,422.2 L267.5,417.7 Q263.7,415.9 263.3,413.4 Z" fill="url(#sgB0)"/>
<path d="M311.8,407 Q312.6,406.1 310,403.4 L303.4,396.7 Q300.8,394.1 298.1,395.1 L291.4,397.8 Q288.8,398.9 290.5,402.5 L295,411.6 Q296.7,415.2 299.5,414.1 L306.4,411.4 Q309.2,410.3 309.9,409.4 Z" fill="url(#sgB2)"/>
<path d="M329.3,399.4 Q328,398.8 324.9,400.5 L317,404.8 Q313.9,406.5 313.1,407.4 L311.2,409.8 Q310.5,410.8 313,415.2 L319.4,426.4 Q321.9,430.8 325.2,428.8 L333.7,423.8 Q337,421.9 336.3,417.4 L334.6,406 Q333.9,401.5 332.6,400.9 Z" fill="url(#sgB3)"/>
<path d="M335.7,405.8 Q335,401.3 339.6,399.3 L351.3,394.1 Q355.9,392.1 360.5,395.6 L372.3,404.6 Q376.9,408.1 376.9,409.5 L376.9,413.1 Q376.9,414.5 371.9,418.4 L359.1,428.3 Q354.1,432.2 350.6,429.9 L341.7,424.2 Q338.2,421.9 337.5,417.4 Z" fill="url(#sgB4)"/>
<path d="M21.3,444.4 Q20.2,445 16.2,444.2 L6.3,442.4 Q2.3,441.6 2.3,433 L2.2,411.2 Q2.2,402.6 2.3,402.6 L2.7,402.6 Q2.9,402.6 8.7,408.4 L23.6,423.3 Q29.4,429.2 28.5,432.1 L26.3,439.5 Q25.4,442.5 24.2,443 Z" fill="url(#sgB5)"/>
<path d="M62.5,439.1 Q64,443 58.1,444.5 L43.1,448.4 Q37.2,450 34.8,448.4 L28.8,444.3 Q26.5,442.7 27.4,439.8 L29.8,432.5 Q30.8,429.6 33.6,427.6 L40.6,422.8 Q43.4,420.8 46.5,421.8 L54.3,424.3 Q57.4,425.3 58.8,429.2 Z" fill="url(#sgB3)"/>
<path d="M87.2,421.4 Q90.4,424.6 90.6,428.2 L91,437.3 Q91.2,440.9 87.1,442.7 L76.9,447.4 Q72.9,449.2 71.2,447.8 L66.9,444.1 Q65.2,442.7 63.7,438.9 L60,429 Q58.6,425.2 62.4,421.8 L72.1,413.3 Q75.9,409.9 79.1,413.1 Z" fill="url(#sgB5)"/>
<path d="M112.3,427.2 Q112.8,422.7 110.7,421.4 L105.3,417.9 Q103.2,416.6 100.6,418.4 L94.2,422.9 Q91.6,424.7 91.8,428.2 L92.2,437.3 Q92.3,440.8 94.5,441.8 L100,444.4 Q102.2,445.4 104.1,444.8 L108.8,443.4 Q110.6,442.8 111.1,438.4 Z" fill="url(#sgB3)"/>
<path d="M131.2,418.9 Q130.3,418.3 126.7,419.3 L117.5,421.7 Q113.9,422.7 113.4,427.1 L112.1,438.5 Q111.6,442.9 116.5,443 L128.8,443.1 Q133.7,443.1 134.3,442.6 L136,441.3 Q136.7,440.8 136.2,436.4 L135,425.4 Q134.6,421.1 133.6,420.5 Z" fill="url(#sgB3)"/>
<path d="M136.1,425.1 Q135.7,420.7 140.1,416.9 L151.5,407.4 Q155.9,403.6 156,403.6 L156.2,403.5 Q156.3,403.5 158.1,407.6 L162.7,418.1 Q164.5,422.2 163.5,426.2 L161.1,436.3 Q160.1,440.2 158.2,440.9 L153.4,442.5 Q151.5,443.2 148.5,442.7 L140.7,441.3 Q137.7,440.7 137.2,436.3 Z" fill="url(#sgB5)"/>
<path d="M178.9,446.8 Q184,448.6 186,446.9 L191.2,442.7 Q193.2,441.1 192.7,436.9 L191.4,426.2 Q190.9,422.1 185.4,422.2 L171.2,422.5 Q165.7,422.6 164.7,426.5 L162.1,436.7 Q161.2,440.6 166.2,442.4 Z" fill="url(#sgB4)"/>
<path d="M219,424.9 Q221.6,429.6 219.9,432.4 L215.7,439.6 Q214.1,442.4 213,442.8 L210.3,443.6 Q209.3,443.9 206,443.2 L197.6,441.5 Q194.3,440.8 193.8,436.6 L192.5,426 Q192,421.8 192.1,421.7 L192.2,421.4 Q192.2,421.2 195.7,418.2 L204.4,410.6 Q207.8,407.6 208.3,407.7 L209.5,407.9 Q210,408 212.5,412.8 Z" fill="url(#sgB3)"/>
<path d="M231.8,427.6 Q234.3,426.9 237.8,428.5 L246.9,432.6 Q250.5,434.3 250.6,435.1 L250.8,437.1 Q250.9,437.8 247.8,441.7 L240.1,451.6 Q237.1,455.5 232.2,452.7 L219.9,445.7 Q215.1,442.9 216.8,440.1 L221.1,432.9 Q222.8,430.1 225.4,429.4 Z" fill="url(#sgB1)"/>
<path d="M277.7,442.1 Q281.2,440.8 281,437.3 L280.5,428.5 Q280.3,425.1 276.5,423.2 L266.9,418.6 Q263.1,416.8 260.7,420.6 L254.4,430.3 Q251.9,434.1 252,434.9 L252.2,436.9 Q252.3,437.6 255.1,439.7 L262.3,444.8 Q265.2,446.8 268.7,445.5 Z" fill="url(#sgB2)"/>
<path d="M284.5,442.3 Q282.4,440.7 282.2,437.3 L281.6,428.6 Q281.4,425.2 284.4,423.9 L292,420.5 Q294.9,419.2 297.7,423.9 L304.6,435.8 Q307.3,440.5 303.9,442.1 L295.2,446.2 Q291.8,447.8 289.8,446.2 Z" fill="url(#sgB0)"/>
<path d="M318.6,426.9 Q321.1,431.3 319.9,433.2 L316.8,438.1 Q315.6,440 315.1,440.2 L313.7,440.7 Q313.1,440.9 312,440.7 L309.1,440.2 Q308,440 305.3,435.4 L298.4,423.6 Q295.7,418.9 295.9,418.4 L296.6,416.9 Q296.9,416.3 299.7,415.2 L306.9,412.5 Q309.7,411.4 312.2,415.8 Z" fill="url(#sgB0)"/>
<path d="M325.8,429.8 Q322.5,431.8 321.2,433.7 L318,438.6 Q316.7,440.6 322.6,444.5 L337.6,454.5 Q343.5,458.4 345.6,455.5 L351,448.1 Q353.1,445.1 353.2,442.5 L353.3,435.8 Q353.4,433.1 349.9,430.9 L341.1,425.2 Q337.6,423 334.3,424.9 Z" fill="url(#sgB1)"/>
<path d="M359.3,446.9 Q354.3,445 354.4,442.4 L354.6,435.7 Q354.7,433.1 359.7,429.2 L372.3,419.1 Q377.3,415.2 377.3,423.7 L377.2,445.3 Q377.2,453.8 372.2,451.9 Z" fill="url(#sgB3)"/>
<path d="M16,445.4 Q19.9,446.2 18.9,451.2 L16.3,463.9 Q15.3,468.9 12.4,469.7 L5.1,471.8 Q2.2,472.6 2.2,466 L2.2,449.4 Q2.2,442.8 6.1,443.5 Z" fill="url(#sgB1)"/>
<path d="M19.7,451.3 Q20.7,446.2 21.9,445.7 L24.8,444.3 Q25.9,443.7 28.2,445.3 L34.1,449.5 Q36.4,451.1 37.7,454.6 L41.1,463.7 Q42.5,467.3 38.4,469.4 L28.1,474.6 Q24.1,476.7 22.3,475 L17.9,470.8 Q16.1,469.1 17.1,464.1 Z" fill="url(#sgB2)"/>
<path d="M70.4,448.8 Q72.1,450.2 72,450.9 L71.6,452.8 Q71.5,453.6 67.8,458 L58.2,469.2 Q54.5,473.6 52.1,472.2 L46,468.6 Q43.6,467.2 42.3,463.6 L38.9,454.4 Q37.6,450.8 43.5,449.3 L58.4,445.4 Q64.3,443.8 66,445.2 Z" fill="url(#sgB5)"/>
<path d="M103.5,460.5 Q104.1,464.4 100.5,467.3 L91.4,474.6 Q87.8,477.4 84.5,472.2 L76.2,458.8 Q72.9,453.5 73,452.8 L73.3,450.9 Q73.4,450.1 77.4,448.3 L87.6,443.7 Q91.6,441.9 93.8,443 L99.5,445.5 Q101.7,446.5 102.2,450.5 Z" fill="url(#sgB3)"/>
<path d="M128.6,444.1 Q133.5,444.2 132.7,449.7 L130.7,463.8 Q130,469.4 127.4,470.4 L121,473 Q118.5,474.1 115.6,471.9 L108.2,466.5 Q105.3,464.4 104.7,460.5 L103.3,450.5 Q102.8,446.5 104.7,446 L109.4,444.6 Q111.3,444 116.2,444 Z" fill="url(#sgB5)"/>
<path d="M135,443.8 Q134.4,444.3 133.6,449.8 L131.6,463.8 Q130.9,469.3 131.9,470 L134.3,471.8 Q135.3,472.5 139.6,470.2 L150.6,464.3 Q154.9,462 154,458.2 L151.9,448.3 Q151.1,444.4 148,443.9 L140.4,442.5 Q137.4,441.9 136.7,442.4 Z" fill="url(#sgB2)"/>
<path d="M155.2,458.1 Q156.1,462 157.9,464.5 L162.6,470.9 Q164.4,473.4 168.3,471.3 L178.3,465.9 Q182.2,463.8 182.5,460.6 L183.2,452.6 Q183.5,449.5 178.5,447.7 L165.8,443.3 Q160.7,441.5 158.8,442.1 L154,443.7 Q152.1,444.3 153,448.2 Z" fill="url(#sgB3)"/>
<path d="M184.5,452.7 Q184.8,449.6 186.8,448 L191.9,443.7 Q193.9,442.1 197.2,442.7 L205.6,444.3 Q208.9,445 209.3,449.7 L210.2,461.7 Q210.6,466.4 205.4,466.8 L192.3,467.9 Q187.1,468.3 186.3,467.3 L184.2,464.7 Q183.4,463.7 183.7,460.6 Z" fill="url(#sgB4)"/>
<path d="M231.7,453.5 Q236.5,456.3 236.6,457.9 L237.1,462.1 Q237.3,463.7 233.9,467.4 L225,476.9 Q221.5,480.6 219.4,477.5 L213.9,469.5 Q211.8,466.4 211.3,461.7 L210.3,449.8 Q209.9,445.1 210.9,444.8 L213.6,444 Q214.7,443.7 219.5,446.5 Z" fill="url(#sgB3)"/>
<path d="M265.3,452.5 Q264.6,447.9 261.8,445.9 L254.5,440.6 Q251.6,438.5 248.6,442.4 L240.9,452.4 Q237.8,456.2 238,457.9 L238.5,462 Q238.7,463.6 242,465.4 L250.7,469.7 Q254.1,471.4 257.1,470.9 L264.8,469.4 Q267.9,468.8 267.2,464.2 Z" fill="url(#sgB4)"/>
<path d="M283.8,443.3 Q281.7,441.8 278.2,443.1 L269.2,446.6 Q265.7,447.9 266.4,452.5 L268.2,464.1 Q268.9,468.7 269.4,469 L270.9,469.7 Q271.5,470 275.2,468.9 L284.9,466.2 Q288.6,465.1 289.2,461.5 L290.7,452.4 Q291.2,448.8 289.1,447.3 Z" fill="url(#sgB2)"/>
<path d="M291.8,452.4 Q292.4,448.9 295.8,447.2 L304.3,443 Q307.7,441.4 308.8,441.5 L311.8,442 Q312.9,442.1 312.7,447.2 L312.3,460.2 Q312.1,465.3 308.8,466.4 L300.2,469.2 Q296.8,470.3 295.3,469.2 L291.3,466.2 Q289.7,465.1 290.3,461.5 Z" fill="url(#sgB4)"/>
<path d="M333.2,473.1 Q330.6,475.6 326.8,473.3 L317.1,467.7 Q313.2,465.4 313.4,460.3 L313.7,447.3 Q313.8,442.1 314.4,441.9 L315.8,441.4 Q316.4,441.2 322.2,445.2 L337.1,455.1 Q343,459 342.9,460.2 L342.6,463.3 Q342.5,464.5 339.8,466.9 Z" fill="url(#sgB4)"/>
<path d="M343.9,463.4 Q343.8,464.6 351.1,469.8 L369.9,483.1 Q377.2,488.3 377.1,480.9 L377,462 Q377,454.6 371.9,452.8 L359,448 Q353.9,446.1 351.8,449 L346.5,456.3 Q344.4,459.2 344.2,460.4 Z" fill="url(#sgB3)"/>
<path d="M17.3,471.9 Q15.5,470.3 12.6,471 L5.3,473 Q2.4,473.7 2.3,481.1 L2.3,499.7 Q2.3,507 5.6,506.2 L14.2,504 Q17.5,503.2 19.2,501.4 L23.5,496.6 Q25.2,494.8 24.8,491.1 L23.8,481.6 Q23.5,477.9 21.7,476.2 Z" fill="url(#sgB4)"/>
<path d="M46,493.9 Q51.5,493.7 52.7,492.7 L55.5,490.3 Q56.7,489.3 56,486.1 L54.5,477.9 Q53.8,474.7 51.5,473.3 L45.4,469.7 Q43.1,468.3 39,470.4 L28.7,475.5 Q24.6,477.6 25,481.3 L26,491 Q26.3,494.8 31.9,494.5 Z" fill="url(#sgB1)"/>
<path d="M86.7,480.2 Q86.6,480.8 81.7,483 L69.1,488.5 Q64.1,490.6 62.8,490.3 L59.2,489.5 Q57.8,489.1 57.2,485.9 L55.7,477.6 Q55.1,474.4 58.8,470 L68.4,458.6 Q72.1,454.1 75.4,459.4 L83.8,472.8 Q87.1,478.1 87,478.7 Z" fill="url(#sgB2)"/>
<path d="M107.5,467.5 Q104.5,465.5 101,468.3 L92,475.4 Q88.5,478.2 88.4,478.8 L88.1,480.3 Q88,480.9 90.2,483.5 L95.7,490.1 Q97.9,492.7 101.6,491 L111.1,486.6 Q114.8,484.9 115.5,482.7 L117.2,477.1 Q117.9,475 115,472.9 Z" fill="url(#sgB5)"/>
<path d="M131.3,471.2 Q130.3,470.5 127.9,471.6 L121.6,474.1 Q119.2,475.1 118.5,477.3 L116.8,482.8 Q116.1,485 117.9,487.5 L122.5,494 Q124.3,496.5 129.1,494.5 L141.1,489.2 Q145.8,487.2 143.4,484.2 L137.1,476.7 Q134.7,473.7 133.7,473 Z" fill="url(#sgB0)"/>
<path d="M151.1,465.3 Q155.4,463 157.2,465.5 L161.8,471.9 Q163.7,474.4 162.5,476.9 L159.6,483.6 Q158.4,486.2 157.2,486.9 L154.1,488.9 Q152.9,489.7 151.6,489.1 L148.2,487.5 Q146.9,486.8 144.4,483.9 L138.2,476.3 Q135.8,473.4 140.1,471.1 Z" fill="url(#sgB2)"/>
<path d="M178.8,466.9 Q182.7,464.8 183.5,465.8 L185.5,468.4 Q186.4,469.4 188,473.9 L192.2,485.2 Q193.8,489.6 191.4,490.9 L185.3,494 Q182.9,495.2 177.8,493.3 L164.7,488.4 Q159.5,486.5 160.7,483.8 L163.8,477 Q164.9,474.4 168.8,472.2 Z" fill="url(#sgB4)"/>
<path d="M217.9,485 Q220.5,482.5 220.6,482.2 L220.7,481.5 Q220.8,481.3 218.6,478.2 L213.2,470.5 Q211,467.5 205.8,467.8 L192.6,468.8 Q187.4,469.2 189.1,473.7 L193.3,485.1 Q195,489.6 198,490.5 L205.6,493 Q208.6,493.9 211.3,491.4 Z" fill="url(#sgB5)"/>
<path d="M244.9,488 Q249.8,488.6 250.6,485 L252.7,475.9 Q253.5,472.4 250.1,470.7 L241.3,466.3 Q237.9,464.6 234.4,468.3 L225.6,477.6 Q222.2,481.2 222.1,481.5 L222,482.1 Q221.9,482.4 223.2,483.1 L226.4,485 Q227.7,485.7 232.6,486.4 Z" fill="url(#sgB5)"/>
<path d="M270.2,471 Q270.8,471.3 271.2,474.3 L272.3,482 Q272.8,485 271,489.9 L266.3,502.5 Q264.5,507.4 263.1,507.5 L259.7,507.8 Q258.3,507.9 256.7,503.7 L252.7,493 Q251.1,488.8 251.8,485.3 L253.8,476.3 Q254.5,472.7 257.5,472.1 L265.2,470.5 Q268.2,469.9 268.8,470.2 Z" fill="url(#sgB1)"/>
<path d="M285.3,467.2 Q289.1,466.2 290.7,467.4 L294.6,470.3 Q296.1,471.5 296.8,475.3 L298.5,485 Q299.2,488.8 298.6,489.4 L297.1,490.8 Q296.5,491.4 291.6,489.9 L279,486.1 Q274.1,484.6 273.6,481.6 L272.3,474 Q271.8,470.9 275.6,469.9 Z" fill="url(#sgB5)"/>
<path d="M299.7,485 Q300.3,488.9 304.3,489.5 L314.5,491.1 Q318.5,491.8 320.5,490.8 L325.6,488.2 Q327.6,487.2 328.1,484.8 L329.5,478.8 Q330.1,476.4 326.3,474.2 L316.5,468.7 Q312.7,466.5 309.3,467.5 L300.6,470.2 Q297.2,471.3 297.9,475.2 Z" fill="url(#sgB2)"/>
<path d="M329.4,487.9 Q328.9,487.4 329.4,485 L330.9,478.9 Q331.4,476.5 334,474.1 L340.7,467.8 Q343.3,465.4 350.7,470.5 L369.5,483.6 Q376.9,488.7 376.9,489.7 L376.9,492 Q376.9,493 366.8,492.3 L341.2,490.4 Q331.1,489.7 330.6,489.2 Z" fill="url(#sgB4)"/>
<path d="M51.1,499.1 Q51.4,494.6 45.9,494.9 L31.8,495.5 Q26.3,495.7 24.5,497.5 L20.1,502.2 Q18.3,504 22.1,507.9 L31.6,518 Q35.4,521.9 38.5,520.4 L46.6,516.4 Q49.8,514.9 50.2,510.4 Z" fill="url(#sgB4)"/>
<path d="M52.1,499.2 Q52.4,494.7 53.5,493.8 L56.4,491.3 Q57.5,490.3 58.9,490.6 L62.3,491.6 Q63.7,492 67.5,497.1 L77.1,510 Q80.9,515.1 77.2,517.5 L67.8,523.5 Q64.1,525.9 61.2,523.5 L53.8,517.2 Q50.9,514.8 51.3,510.4 Z" fill="url(#sgB4)"/>
<path d="M89.4,484.3 Q87.2,481.7 82.2,483.8 L69.5,489.4 Q64.5,491.5 68.3,496.6 L77.9,509.7 Q81.7,514.8 82.3,514.8 L83.9,515 Q84.5,515 87.1,512.8 L93.7,506.9 Q96.3,504.6 96.5,502.2 L96.9,496.1 Q97.1,493.7 94.9,491.1 Z" fill="url(#sgB0)"/>
<path d="M120.7,507.7 Q122.5,506.6 122.7,504.5 L123.3,499.4 Q123.5,497.3 121.7,494.8 L117.1,488.4 Q115.3,485.8 111.6,487.6 L102.1,492 Q98.3,493.7 98.2,496.1 L97.8,502.2 Q97.6,504.7 101.4,506.2 L110.8,510.1 Q114.6,511.6 116.3,510.5 Z" fill="url(#sgB5)"/>
<path d="M135.1,511.8 Q138.4,513.2 141.3,512.1 L148.7,509.1 Q151.6,508 151.8,504.2 L152.2,494.6 Q152.4,490.8 151,490.2 L147.5,488.6 Q146.1,488 141.5,490.1 L129.5,495.3 Q124.8,497.3 124.6,499.4 L124,504.6 Q123.7,506.7 126.9,508.1 Z" fill="url(#sgB5)"/>
<path d="M153.3,494.7 Q153.4,490.9 154.7,490.1 L157.9,488.1 Q159.1,487.3 164.3,489.3 L177.3,494.2 Q182.5,496.1 181.6,499 L179.4,506.4 Q178.5,509.2 175.5,511.8 L167.8,518.5 Q164.8,521 162.2,518.2 L155.4,510.9 Q152.8,508 152.9,504.3 Z" fill="url(#sgB1)"/>
<path d="M198.1,514.5 Q194.8,517.4 191.5,515.6 L183.1,511.1 Q179.8,509.3 180.7,506.4 L182.9,499.1 Q183.8,496.2 186.1,495 L192.1,491.9 Q194.5,490.7 197.5,491.6 L205.1,494 Q208.1,494.9 208.5,497 L209.4,502.3 Q209.8,504.4 206.5,507.2 Z" fill="url(#sgB5)"/>
<path d="M230.6,492 Q226.9,486.9 225.7,486.1 L222.5,484 Q221.3,483.2 218.7,485.8 L212,492.3 Q209.4,494.8 209.8,496.9 L210.7,502.1 Q211.1,504.2 213.5,507.1 L219.4,514.6 Q221.7,517.5 226.6,515.9 L239,511.8 Q243.8,510.2 240.1,505 Z" fill="url(#sgB4)"/>
<path d="M256.7,508.7 Q257.6,508.2 256,504.1 L251.8,493.7 Q250.2,489.6 245.3,489 L232.7,487.3 Q227.7,486.6 231.4,491.7 L240.9,504.7 Q244.6,509.8 246.6,510 L251.7,510.4 Q253.7,510.6 254.5,510.1 Z" fill="url(#sgB2)"/>
<path d="M291.3,490.8 Q296.3,492.3 294.6,496.5 L290.2,507.3 Q288.5,511.6 285.8,511.9 L278.9,512.8 Q276.2,513.1 273.8,512 L267.6,509 Q265.2,507.9 267.1,503 L271.8,490.5 Q273.7,485.6 278.7,487 Z" fill="url(#sgB2)"/>
<path d="M297.9,492 Q297.3,492.5 295.6,496.8 L291.2,507.5 Q289.5,511.7 292.8,514 L301.1,519.9 Q304.4,522.2 306.6,519.6 L312.3,512.9 Q314.5,510.3 315.3,506.4 L317.3,496.7 Q318.2,492.8 314.2,492.2 L304,490.6 Q300,489.9 299.4,490.5 Z" fill="url(#sgB0)"/>
<path d="M316.4,506.5 Q315.7,510.3 320.9,511.6 L334.3,515.1 Q339.5,516.4 340.2,515.7 L341.9,513.7 Q342.6,513 339.9,508.1 L333.1,495.5 Q330.3,490.6 329.9,490.1 L328.7,488.8 Q328.2,488.2 326.3,489.3 L321.2,491.9 Q319.2,492.9 318.5,496.7 Z" fill="url(#sgB0)"/>
<path d="M333.8,495.2 Q331.1,490.2 341.2,490.9 L366.9,492.7 Q376.9,493.5 376.9,494.6 L376.9,497.7 Q376.9,498.8 371.3,501.8 L357.1,509.2 Q351.5,512.1 349.8,512.3 L345.4,512.8 Q343.7,512.9 340.9,507.9 Z" fill="url(#sgB3)"/>
<path d="M30.9,518.7 Q34.6,522.7 34.2,526 L33.1,534.3 Q32.7,537.6 30.3,539 L24.3,542.6 Q22,544.1 17.7,541 L6.8,533.4 Q2.6,530.3 2.5,525.4 L2.4,513 Q2.4,508.1 5.8,507.3 L14.3,505.4 Q17.7,504.6 21.4,508.6 Z" fill="url(#sgB5)"/>
<path d="M47.2,517.5 Q50.4,516 53.3,518.3 L60.6,524.4 Q63.5,526.8 63.2,528.3 L62.5,532.2 Q62.2,533.7 59.9,535.9 L54,541.6 Q51.7,543.8 47.7,542.5 L37.7,539.1 Q33.8,537.8 34.3,534.5 L35.5,526.2 Q35.9,523 39.1,521.4 Z" fill="url(#sgB3)"/>
<path d="M81.9,516.2 Q81.3,516.1 77.7,518.4 L68.5,524.3 Q64.9,526.7 64.6,528.2 L63.8,532.1 Q63.5,533.6 66.7,536 L74.8,542.2 Q78,544.6 81,541.4 L88.6,533.1 Q91.6,529.9 89.9,526.9 L85.7,519.3 Q84.1,516.3 83.5,516.3 Z" fill="url(#sgB0)"/>
<path d="M114.5,530.4 Q114.6,535.4 113,536 L108.8,537.7 Q107.2,538.4 104,536.4 L96,531.5 Q92.8,529.6 91.1,526.6 L86.8,519 Q85.1,516 87.7,513.7 L94.5,507.9 Q97.2,505.5 100.9,507.1 L110.4,511.2 Q114.2,512.8 114.3,517.7 Z" fill="url(#sgB2)"/>
<path d="M129.4,538.6 Q129,538.8 126,538.1 L118.5,536.1 Q115.6,535.3 115.5,530.4 L115.3,517.8 Q115.2,512.8 116.9,511.7 L121.4,508.8 Q123.2,507.6 126.4,509.1 L134.5,512.9 Q137.7,514.3 136.3,519.5 L132.5,532.6 Q131.1,537.8 130.6,538 Z" fill="url(#sgB0)"/>
<path d="M133.5,532.8 Q131.9,538 137,538.4 L149.9,539.2 Q154.9,539.5 157.3,538.3 L163.4,535 Q165.8,533.7 165.4,531.1 L164.5,524.5 Q164.1,522 161.5,519.1 L154.8,511.9 Q152.1,509 149.2,510.2 L141.7,513.2 Q138.8,514.4 137.3,519.6 Z" fill="url(#sgB3)"/>
<path d="M191.6,535.1 Q190.9,539.8 189.1,540.6 L184.7,542.8 Q183,543.6 179.5,541.4 L170.6,535.9 Q167.1,533.7 166.7,531.1 L165.8,524.6 Q165.4,522 168.5,519.4 L176.2,512.9 Q179.2,510.3 182.5,512.1 L190.9,516.7 Q194.3,518.5 193.5,523.2 Z" fill="url(#sgB1)"/>
<path d="M205.8,540 Q209.7,540 211.9,538.8 L217.5,535.5 Q219.7,534.3 220,530.8 L220.8,522 Q221.1,518.5 218.8,515.6 L212.8,508.1 Q210.4,505.2 207.1,508.1 L198.7,515.5 Q195.4,518.5 194.7,523.2 L192.7,535.2 Q191.9,539.9 195.8,539.9 Z" fill="url(#sgB0)"/>
<path d="M245.8,540 Q248.8,539.4 249.9,533.3 L252.5,517.7 Q253.6,511.6 251.5,511.5 L246.2,511.2 Q244.1,511.1 239.4,512.7 L227.1,516.9 Q222.3,518.5 222,522 L221.2,530.9 Q220.9,534.4 223.9,536.1 L231.8,540.6 Q234.9,542.4 238,541.7 Z" fill="url(#sgB2)"/>
<path d="M260,546.8 Q262.9,548.9 265.5,546 L272.2,538.4 Q274.8,535.4 275,530.8 L275.3,518.9 Q275.4,514.2 273,513 L266.9,510 Q264.5,508.8 263.1,508.9 L259.7,509.1 Q258.4,509.2 257.5,509.8 L255.3,511.2 Q254.5,511.7 253.4,517.8 L250.8,533.3 Q249.7,539.4 252.6,541.5 Z" fill="url(#sgB3)"/>
<path d="M276.4,518.9 Q276.5,514.3 279.2,513.9 L286.2,513.1 Q289,512.8 292.2,515.1 L300.5,520.8 Q303.7,523.1 304.5,525 L306.3,529.9 Q307,531.8 303.1,533.6 L293.2,538.1 Q289.3,539.8 286.3,538.9 L278.9,536.5 Q275.9,535.5 276,530.8 Z" fill="url(#sgB3)"/>
<path d="M307.3,520.5 Q305.1,523.1 305.8,525 L307.6,529.8 Q308.3,531.7 309.7,533.1 L313.4,536.7 Q314.9,538.1 318.6,537.4 L328.1,535.6 Q331.8,534.9 333.4,531 L337.7,521.1 Q339.3,517.3 334,516 L320.5,512.6 Q315.2,511.3 313,513.9 Z" fill="url(#sgB0)"/>
<path d="M340.9,516.8 Q340.3,517.6 338.6,521.4 L334.5,531 Q332.9,534.8 334.6,536.2 L338.8,539.9 Q340.5,541.3 344.4,539.3 L354.4,534.3 Q358.3,532.4 356.7,528.2 L352.6,517.5 Q350.9,513.3 349.2,513.5 L344.9,513.9 Q343.2,514.1 342.6,514.9 Z" fill="url(#sgB0)"/>
<path d="M363.3,533.9 Q359.3,532.1 357.7,527.9 L353.5,517.3 Q351.9,513.1 357.5,510.1 L371.7,502.4 Q377.3,499.4 377.3,508.4 L377.3,531.4 Q377.3,540.4 373.3,538.6 Z" fill="url(#sgB4)"/>
<path d="M20.9,549.2 Q20.8,550.5 16.7,552.9 L6.4,559 Q2.3,561.5 2.3,554.8 L2.3,537.8 Q2.3,531.2 6.5,534.2 L17.2,541.9 Q21.4,544.9 21.3,546.1 Z" fill="url(#sgB4)"/>
<path d="M28.3,565.1 Q30.1,569.2 35.5,567.5 L49.4,563.2 Q54.8,561.5 54,557.8 L51.9,548.5 Q51.1,544.8 47.2,543.5 L37.2,540.1 Q33.3,538.8 31,540.2 L25.1,543.7 Q22.7,545.1 22.6,546.3 L22.3,549.5 Q22.1,550.7 23.9,554.8 Z" fill="url(#sgB0)"/>
<path d="M79.7,556 Q80.4,558.9 76.5,560.6 L66.5,564.8 Q62.6,566.4 61.1,565.3 L57.4,562.4 Q56,561.3 55.2,557.7 L53.2,548.5 Q52.4,544.9 54.7,542.6 L60.7,536.8 Q63,534.6 66.2,537 L74.2,543.2 Q77.4,545.7 78.1,548.6 Z" fill="url(#sgB3)"/>
<path d="M98.1,557.9 Q99.8,556.8 101.3,553 L105.3,543.2 Q106.8,539.4 103.6,537.5 L95.5,532.6 Q92.3,530.7 89.3,533.9 L81.7,542.2 Q78.7,545.5 79.3,548.4 L80.9,555.8 Q81.5,558.8 83.8,559.5 L89.7,561.3 Q92,562 93.7,560.9 Z" fill="url(#sgB5)"/>
<path d="M125.6,539.2 Q128.6,539.9 128.8,542.9 L129.3,550.4 Q129.5,553.3 127.6,556.6 L123,564.7 Q121.2,567.9 116.7,565.5 L105.4,559.4 Q100.9,557 102.4,553.1 L106.4,543.4 Q107.9,539.5 109.5,538.9 L113.6,537.2 Q115.2,536.6 118.1,537.3 Z" fill="url(#sgB4)"/>
<path d="M130.1,539.7 Q129.7,540 129.9,542.9 L130.5,550.4 Q130.8,553.3 133.9,555.4 L141.9,560.8 Q145.1,562.9 146.4,562.5 L149.7,561.6 Q151,561.2 151.8,556.7 L153.7,545.1 Q154.5,540.6 149.5,540.2 L136.8,539.3 Q131.8,538.9 131.3,539.2 Z" fill="url(#sgB2)"/>
<path d="M170,536.9 Q166.4,534.7 164.1,536 L158,539.4 Q155.6,540.7 154.8,545.2 L152.8,556.8 Q152,561.3 154.6,563.4 L161.1,568.6 Q163.6,570.6 167.7,567.7 L177.9,560.1 Q182,557.1 182.1,554.4 L182.3,547.3 Q182.4,544.6 178.9,542.4 Z" fill="url(#sgB4)"/>
<path d="M205.4,541.1 Q209.3,541.2 210.1,545.8 L212.2,557.4 Q213,562 208.7,564.1 L197.8,569.3 Q193.5,571.4 191.3,568.2 L185.5,560.3 Q183.3,557.1 183.4,554.4 L183.6,547.4 Q183.7,544.7 185.4,543.9 L189.8,541.8 Q191.6,541 195.5,541 Z" fill="url(#sgB2)"/>
<path d="M233.8,547.7 Q234.2,543.5 231.2,541.7 L223.4,537.2 Q220.3,535.4 218.1,536.6 L212.5,539.9 Q210.3,541.2 211.2,545.7 L213.3,557.3 Q214.1,561.8 216.6,563.5 L223.2,567.6 Q225.7,569.3 227.2,567.8 L231,564 Q232.5,562.5 232.9,558.3 Z" fill="url(#sgB4)"/>
<path d="M262.4,550.4 Q262.2,549.8 259.4,547.7 L252.1,542.6 Q249.3,540.6 246.2,541.2 L238.4,542.8 Q235.4,543.5 235,547.7 L233.9,558.4 Q233.5,562.6 236.9,563.3 L245.4,565.3 Q248.8,566 251.9,563 L259.9,555.4 Q263,552.5 262.8,551.9 Z" fill="url(#sgB1)"/>
<path d="M263.8,550.3 Q263.6,549.7 266.2,546.8 L272.8,539.5 Q275.4,536.6 278.3,537.6 L285.8,540 Q288.7,541 288.1,546 L286.4,558.7 Q285.8,563.7 284.2,564.4 L280.3,565.9 Q278.8,566.5 275.6,563.4 L267.6,555.5 Q264.4,552.4 264.2,551.8 Z" fill="url(#sgB0)"/>
<path d="M289.1,546 Q289.8,541 293.7,539.2 L303.5,534.5 Q307.4,532.7 308.9,534.2 L312.7,537.8 Q314.2,539.2 313.4,543.6 L311.5,554.6 Q310.7,559 308.8,560 L303.9,562.5 Q302,563.5 298.6,563.6 L290.1,563.7 Q286.7,563.8 287.4,558.8 Z" fill="url(#sgB2)"/>
<path d="M341.4,545.5 Q339.9,542.5 338.2,541 L333.9,537.4 Q332.3,535.9 328.5,536.7 L318.9,538.5 Q315.2,539.3 314.5,543.7 L312.6,554.9 Q311.9,559.3 315.6,562.1 L324.8,569.4 Q328.5,572.3 329.5,572.1 L332.1,571.6 Q333.2,571.4 336.2,568 L344,559.5 Q347,556.1 345.4,553.1 Z" fill="url(#sgB0)"/>
<path d="M342.6,545.1 Q341,542.1 345,540.2 L355.1,535.3 Q359,533.4 362.9,535.1 L373,539.5 Q376.9,541.2 376.9,542.3 L376.9,545.2 Q376.9,546.3 372.7,548.7 L361.9,554.7 Q357.7,557 355.6,556.7 L350.3,556 Q348.2,555.8 346.6,552.8 Z" fill="url(#sgB0)"/>
<path d="M2.5,565.1 Q2.5,562.3 6.7,559.9 L17.1,553.8 Q21.2,551.4 23,555.4 L27.4,565.7 Q29.2,569.8 28.5,572.2 L26.7,578.3 Q26,580.7 20.8,579.4 L7.7,576.2 Q2.5,575 2.5,572.2 Z" fill="url(#sgB0)"/>
<path d="M29.8,572.5 Q30.5,570.1 35.9,568.4 L49.7,564.1 Q55.1,562.4 56.5,563.5 L60.3,566.3 Q61.8,567.4 61.9,571.1 L62,580.4 Q62.1,584.1 59.9,585.1 L54.2,587.6 Q52,588.6 46.6,587.1 L32.8,583.5 Q27.4,582 27.3,581.8 L27.2,581.3 Q27.1,581.1 27.8,578.7 Z" fill="url(#sgB4)"/>
<path d="M93.2,577.3 Q93.7,581.3 88.8,583.4 L76.3,588.7 Q71.4,590.8 69.6,589.3 L65.1,585.5 Q63.3,584 63.3,580.3 L63.1,571 Q63.1,567.4 67,565.7 L76.9,561.6 Q80.8,559.9 83.2,560.6 L89.1,562.4 Q91.5,563.1 92,567.1 Z" fill="url(#sgB4)"/>
<path d="M121,570 Q120.6,568.8 116.2,566.4 L104.9,560.3 Q100.5,558 98.8,559.1 L94.3,562 Q92.6,563.1 93.1,567.1 L94.4,577.1 Q94.9,581.1 96.2,582.3 L99.7,585.3 Q101,586.5 105.7,583.9 L117.6,577.2 Q122.3,574.6 121.9,573.3 Z" fill="url(#sgB0)"/>
<path d="M122.4,570 Q122,568.7 123.8,565.6 L128.4,557.5 Q130.2,554.3 133.4,556.4 L141.5,561.7 Q144.7,563.8 142.6,567.4 L137.3,576.5 Q135.2,580 134.4,580.2 L132.4,580.6 Q131.6,580.8 129.8,579.4 L125.3,575.8 Q123.6,574.4 123.2,573.1 Z" fill="url(#sgB1)"/>
<path d="M160.6,589.2 Q160.5,589.3 155.2,587.3 L141.5,582.4 Q136.2,580.5 138.3,576.9 L143.6,567.7 Q145.7,564.1 146.9,563.8 L150.2,562.8 Q151.5,562.4 154,564.4 L160.4,569.6 Q162.9,571.6 162.4,575.5 L161.2,585.2 Q160.8,589.1 160.7,589.1 Z" fill="url(#sgB3)"/>
<path d="M165.2,589.4 Q161.7,589.3 162.2,585.4 L163.6,575.4 Q164.2,571.6 168.2,568.6 L178.5,561 Q182.5,558 184.8,561.2 L190.5,569.1 Q192.7,572.3 192.9,573.8 L193.3,577.6 Q193.5,579 190.1,581.4 L181.3,587.5 Q177.8,589.9 174.3,589.8 Z" fill="url(#sgB2)"/>
<path d="M225.1,572.7 Q225.2,570.2 222.6,568.6 L216,564.6 Q213.4,563 209.1,565 L198.3,570.2 Q194.1,572.2 194.3,573.7 L194.7,577.5 Q194.9,579 196.6,580.5 L200.9,584.2 Q202.6,585.7 207.5,584.8 L220,582.4 Q224.9,581.4 225,579 Z" fill="url(#sgB4)"/>
<path d="M244.9,566.4 Q248.2,567.2 249,571.4 L251,582.1 Q251.8,586.3 248.3,587.9 L239.2,591.8 Q235.6,593.4 233.5,590.8 L228.3,584.1 Q226.2,581.4 226.3,579 L226.4,572.8 Q226.4,570.3 227.9,568.9 L231.7,565.1 Q233.1,563.6 236.5,564.4 Z" fill="url(#sgB2)"/>
<path d="M260.5,556.2 Q263.7,553.2 266.9,556.3 L275,564.3 Q278.3,567.4 277.8,568.9 L276.8,572.7 Q276.4,574.2 272.6,577 L263.1,584.1 Q259.3,586.9 257.9,586.7 L254.3,586.3 Q252.9,586.1 252.1,581.9 L250.2,571.2 Q249.4,567 252.5,563.9 Z" fill="url(#sgB1)"/>
<path d="M279.1,569.1 Q279.5,567.6 281,567 L284.9,565.5 Q286.4,565 289.7,564.9 L298.1,564.7 Q301.4,564.6 301.8,569.8 L302.6,583 Q302.9,588.1 299.5,588.4 L290.8,589.1 Q287.4,589.4 285.3,586.1 L279.9,577.6 Q277.8,574.3 278.2,572.8 Z" fill="url(#sgB5)"/>
<path d="M304.4,563.7 Q302.4,564.7 302.7,569.9 L303.6,583 Q303.9,588.2 306.7,590.2 L313.7,595.3 Q316.4,597.3 316.9,597.2 L318.1,596.8 Q318.6,596.6 320.6,591.5 L325.8,578.4 Q327.8,573.3 324.2,570.4 L314.9,563 Q311.3,560.2 309.4,561.2 Z" fill="url(#sgB0)"/>
<path d="M349.9,557.2 Q347.8,556.9 344.8,560.2 L337,568.6 Q334,571.9 337.3,574.8 L345.7,582.1 Q349,585 352,583 L359.4,577.7 Q362.3,575.7 361.2,571.9 L358.3,562.1 Q357.2,558.3 355.1,558 Z" fill="url(#sgB2)"/>
<path d="M362.3,555.7 Q358.1,558.1 359.2,561.9 L362.1,571.6 Q363.3,575.4 366.3,577 L374.2,580.9 Q377.3,582.5 377.3,574.7 L377.3,554.8 Q377.3,547 373.1,549.4 Z" fill="url(#sgB2)"/>
<path d="M25.9,581.9 Q25.9,581.7 20.7,580.4 L7.5,577.1 Q2.4,575.8 2.4,582.5 L2.3,599.6 Q2.3,606.4 6.4,605.8 L16.6,604.4 Q20.6,603.9 21.8,599.2 L24.9,587.3 Q26.1,582.6 26.1,582.4 Z" fill="url(#sgB2)"/>
<path d="M22,604.8 Q21.5,604.3 22.7,599.6 L25.8,587.6 Q27,582.9 32.4,584.3 L46.3,588 Q51.7,589.5 50.4,593.7 L47.1,604.2 Q45.8,608.4 40.9,608 L28.6,607.1 Q23.8,606.7 23.3,606.2 Z" fill="url(#sgB1)"/>
<path d="M68,603.2 Q72,599.7 71.7,598 L70.9,593.6 Q70.6,591.8 68.8,590.3 L64.4,586.6 Q62.6,585.1 60.4,586.1 L54.9,588.7 Q52.8,589.7 51.5,593.8 L48.1,604.3 Q46.8,608.4 48.4,610 L52.3,614 Q53.8,615.5 57.8,612.1 Z" fill="url(#sgB3)"/>
<path d="M98.9,586.4 Q100.2,587.6 101,590.6 L103.1,598.2 Q103.9,601.2 99.7,603.6 L89.2,609.6 Q85.1,612 82.5,609.3 L76,602.4 Q73.4,599.6 73.1,597.9 L72.2,593.4 Q71.8,591.6 76.7,589.5 L89.2,584.3 Q94,582.2 95.4,583.4 Z" fill="url(#sgB3)"/>
<path d="M118.1,578 Q122.7,575.4 124.5,576.8 L129.2,580.4 Q131,581.9 129.9,586.2 L127,597.2 Q125.8,601.5 122.9,602.3 L115.5,604.2 Q112.5,605 110.9,604.1 L106.7,601.9 Q105.1,601 104.3,598 L102.3,590.4 Q101.5,587.4 106.2,584.7 Z" fill="url(#sgB3)"/>
<path d="M143.2,606.9 Q138.9,610 136.2,608.1 L129.6,603.5 Q126.9,601.7 128.1,597.3 L130.9,586.3 Q132.1,582 132.9,581.9 L135,581.5 Q135.8,581.3 141.2,583.2 L154.8,588.1 Q160.2,590 159.8,591.4 L158.9,594.8 Q158.5,596.1 154.2,599.2 Z" fill="url(#sgB4)"/>
<path d="M165.5,608.9 Q167.1,612.4 172.1,612.5 L184.7,612.7 Q189.7,612.8 186.9,608 L180,595.9 Q177.2,591.1 173.8,590.9 L165,590.4 Q161.6,590.2 161.6,590.2 L161.4,590.3 Q161.4,590.4 161.1,591.7 L160.2,595.1 Q159.9,596.4 161.5,599.9 Z" fill="url(#sgB3)"/>
<path d="M181,595.6 Q178.4,590.9 181.8,588.5 L190.7,582.3 Q194.2,579.9 195.8,581.4 L200.1,585.3 Q201.8,586.8 201.9,591 L202.1,601.5 Q202.2,605.7 200.1,607.5 L194.8,612 Q192.7,613.8 192.2,613.5 L190.9,612.8 Q190.4,612.5 187.7,607.7 Z" fill="url(#sgB5)"/>
<path d="M227.4,585 Q225.4,582.4 220.4,583.3 L207.8,585.7 Q202.8,586.6 202.9,590.8 L203.3,601.6 Q203.4,605.8 208.4,606.6 L221.1,608.7 Q226.1,609.5 227.6,608 L231.5,604.1 Q233,602.6 233.4,600.7 L234.4,596.1 Q234.8,594.2 232.7,591.6 Z" fill="url(#sgB4)"/>
<path d="M263.4,605.6 Q266,602.4 264.4,599.3 L260.3,591.3 Q258.7,588.1 257.3,587.9 L253.7,587.5 Q252.3,587.3 248.8,588.9 L239.7,592.8 Q236.2,594.3 235.8,596.1 L234.7,600.9 Q234.3,602.7 238.7,605.8 L250,613.8 Q254.4,616.9 256.9,613.7 Z" fill="url(#sgB5)"/>
<path d="M279.2,605.8 Q282.7,606.9 283.5,603.2 L285.8,593.9 Q286.6,590.3 284.5,586.9 L279.1,578.3 Q277,575 273.2,577.8 L263.6,585 Q259.8,587.8 261.4,590.9 L265.5,598.9 Q267.1,602 270.5,603.1 Z" fill="url(#sgB4)"/>
<path d="M285,609.5 Q285.4,610.2 289.8,610.8 L301.1,612.3 Q305.5,612.9 307.8,609.6 L313.6,601.4 Q315.8,598.1 313,596.2 L305.9,591.2 Q303.1,589.2 299.7,589.5 L291.1,590.3 Q287.8,590.7 286.9,594.3 L284.6,603.6 Q283.7,607.2 284,607.9 Z" fill="url(#sgB0)"/>
<path d="M329.8,573.4 Q328.7,573.6 326.7,578.7 L321.4,591.8 Q319.4,596.9 326.3,600.6 L344,609.8 Q350.9,613.5 350.3,607.4 L348.9,591.9 Q348.3,585.9 345,583 L336.7,575.6 Q333.4,572.7 332.4,572.9 Z" fill="url(#sgB4)"/>
<path d="M377.2,617.5 Q377.3,627 373.8,627 L364.9,626.9 Q361.4,626.9 359.3,624 L353.9,616.5 Q351.7,613.6 351.2,607.6 L350,592.3 Q349.5,586.2 352.4,584.2 L360,578.8 Q362.9,576.7 366.1,578.2 L374,582.1 Q377.2,583.7 377.2,593.2 Z" fill="url(#sgB4)"/>
<path d="M21,605.7 Q20.5,605.2 16.5,605.6 L6.5,606.8 Q2.5,607.3 2.5,611.6 L2.4,622.7 Q2.4,627.1 7.5,627.1 L20.6,627.1 Q25.8,627.1 25.1,622.8 L23.4,611.9 Q22.8,607.6 22.3,607.1 Z" fill="url(#sgB2)"/>
<path d="M33.1,627.2 Q26.8,627.2 26.2,622.9 L24.5,611.8 Q23.9,607.5 28.7,607.9 L41.1,609 Q45.9,609.4 47.5,610.9 L51.3,614.8 Q52.9,616.3 53.4,618.7 L54.7,624.8 Q55.2,627.2 48.9,627.2 Z" fill="url(#sgB3)"/>
<path d="M83.9,616 Q84.3,612.9 81.7,610.1 L75.2,603.2 Q72.6,600.5 68.6,604 L58.3,612.8 Q54.3,616.2 54.7,618.6 L55.9,624.8 Q56.3,627.2 62,627.2 L76.7,627.2 Q82.4,627.2 82.8,624 Z" fill="url(#sgB5)"/>
<path d="M110.1,605.2 Q111.8,606.1 111.9,610.7 L112.1,622.5 Q112.2,627.1 105.9,627.1 L89.8,627.2 Q83.5,627.2 84,624 L85.2,615.9 Q85.6,612.8 89.7,610.4 L100.2,604.4 Q104.3,602.1 105.9,603 Z" fill="url(#sgB5)"/>
<path d="M138.7,614.5 Q138.1,610.9 135.5,609.1 L128.9,604.5 Q126.3,602.7 123.4,603.4 L115.9,605.3 Q112.9,606 113,610.7 L113.2,622.5 Q113.2,627.1 119.3,627.1 L134.7,627.1 Q140.8,627.1 140.2,623.6 Z" fill="url(#sgB5)"/>
<path d="M141.3,623.5 Q141.8,627.1 146,627.1 L156.6,627 Q160.8,627 162,624 L165.1,616.2 Q166.3,613.2 164.7,609.6 L160.6,600.5 Q159,596.9 154.7,600 L143.7,607.8 Q139.4,610.9 139.9,614.4 Z" fill="url(#sgB1)"/>
<path d="M166.3,616.5 Q167.6,613.4 172.5,613.4 L184.8,613.5 Q189.7,613.5 190.2,613.8 L191.5,614.5 Q192,614.7 192.1,617.5 L192.6,624.5 Q192.7,627.2 185.9,627.2 L168.6,627.3 Q161.8,627.3 163.1,624.3 Z" fill="url(#sgB2)"/>
<path d="M195.5,612.9 Q193.3,614.6 193.4,617.4 L193.8,624.4 Q193.9,627.2 200.7,627.2 L218.1,627.2 Q224.9,627.2 225.1,623.5 L225.5,614.1 Q225.7,610.4 220.7,609.6 L208.1,607.6 Q203.1,606.8 200.9,608.5 Z" fill="url(#sgB3)"/>
<path d="M254.4,619.7 Q253.8,617.6 249.5,614.5 L238.3,606.6 Q233.9,603.5 232.4,605.1 L228.5,609 Q227,610.5 226.8,614.2 L226.3,623.5 Q226.1,627.2 232.7,627.2 L249.8,627.2 Q256.5,627.2 255.9,625.1 Z" fill="url(#sgB2)"/>
<path d="M283.8,610.2 Q284.1,610.9 282.7,614.4 L278.9,623.4 Q277.4,627 273,627 L261.9,627.1 Q257.6,627.1 257.1,625 L255.8,619.6 Q255.2,617.5 257.8,614.4 L264.3,606.4 Q266.9,603.2 270.3,604.3 L279,606.9 Q282.4,607.9 282.8,608.6 Z" fill="url(#sgB4)"/>
<path d="M289.7,611.7 Q285.3,611.1 283.8,614.7 L279.9,623.7 Q278.4,627.3 285.2,627.3 L302.7,627.3 Q309.5,627.3 308.6,624.3 L306.3,616.8 Q305.3,613.8 300.9,613.2 Z" fill="url(#sgB2)"/>
<path d="M307.5,616.5 Q306.6,613.4 308.9,610.2 L314.7,601.8 Q316.9,598.6 317.4,598.4 L318.6,598 Q319.1,597.9 326,601.4 L343.6,610.5 Q350.5,614.1 352.8,617 L358.5,624.4 Q360.7,627.3 349.7,627.3 L321.7,627.2 Q310.7,627.1 309.8,624.1 Z" fill="url(#sgB4)"/>
</g></g>
<text x="25.6" y="396.7" font-size="26.8" fill="#fff" textLength="31.1" lengthAdjust="spacingAndGlyphs">(b)</text>
<text x="345.8" y="396.8" font-size="20.7" text-anchor="end" fill="#fff" >Control</text>
<text x="323.1" y="578.1" font-size="20.5" text-anchor="middle" fill="#fff" >1 µm</text>
<rect x="306.9" y="588" width="36.4" height="5.2" fill="#fff"/>
<defs><clipPath id="clipD"><rect x="620.3" y="368" width="339.5" height="239.6"/></clipPath>
<linearGradient id="sgD0" x1="0" y1="0" x2="1" y2="1"><stop offset="0" stop-color="rgb(101,101,101)"/><stop offset="0.5" stop-color="rgb(87,87,87)"/><stop offset="1" stop-color="rgb(77,77,77)"/></linearGradient>
<linearGradient id="sgD1" x1="0" y1="0" x2="1" y2="1"><stop offset="0" stop-color="rgb(103,103,103)"/><stop offset="0.5" stop-color="rgb(89,89,89)"/><stop offset="1" stop-color="rgb(79,79,79)"/></linearGradient>
<linearGradient id="sgD2" x1="0" y1="0" x2="1" y2="1"><stop offset="0" stop-color="rgb(105,105,105)"/><stop offset="0.5" stop-color="rgb(91,91,91)"/><stop offset="1" stop-color="rgb(81,81,81)"/></linearGradient>
<linearGradient id="sgD3" x1="0" y1="0" x2="1" y2="1"><stop offset="0" stop-color="rgb(105,105,105)"/><stop offset="0.5" stop-color="rgb(91,91,91)"/><stop offset="1" stop-color="rgb(81,81,81)"/></linearGradient>
<linearGradient id="sgD4" x1="0" y1="0" x2="1" y2="1"><stop offset="0" stop-color="rgb(107,107,107)"/><stop offset="0.5" stop-color="rgb(93,93,93)"/><stop offset="1" stop-color="rgb(83,83,83)"/></linearGradient>
<linearGradient id="sgD5" x1="0" y1="0" x2="1" y2="1"><stop offset="0" stop-color="rgb(109,109,109)"/><stop offset="0.5" stop-color="rgb(95,95,95)"/><stop offset="1" stop-color="rgb(85,85,85)"/></linearGradient>
<filter id="semfD" filterUnits="userSpaceOnUse" x="610.3" y="358" width="359.5" height="259.6" color-interpolation-filters="sRGB">
<feTurbulence type="fractalNoise" baseFrequency="0.045" numOctaves="3" seed="5" result="t"/>
<feDisplacementMap in="SourceGraphic" in2="t" scale="10" xChannelSelector="R" yChannelSelector="G" result="d"/>
<feGaussianBlur in="d" stdDeviation="0.8" result="b"/>
<feTurbulence type="fractalNoise" baseFrequency="0.03" numOctaves="3" seed="18" result="lf"/>
<feColorMatrix in="lf" type="matrix" values="0.33 0.33 0.33 0 0  0.33 0.33 0.33 0 0  0.33 0.33 0.33 0 0  0 0 0 0 1" result="lg"/>
<feComposite in="b" in2="lg" operator="arithmetic" k1="0" k2="1" k3="0.12" k4="-0.06" result="c1"/>
<feColorMatrix in="c1" type="luminanceToAlpha" result="la"/>
<feGaussianBlur in="la" stdDeviation="1.3" result="bump"/>
<feDiffuseLighting in="bump" surfaceScale="5.5" diffuseConstant="1" lighting-color="#fff" result="lit"><feDistantLight azimuth="235" elevation="58"/></feDiffuseLighting>
<feComposite in="c1" in2="lit" operator="arithmetic" k1="1.18" k2="0" k3="0" k4="0" result="c2"/>
<feTurbulence type="fractalNoise" baseFrequency="0.9" numOctaves="2" seed="12" result="n"/>
<feColorMatrix in="n" type="matrix" values="0.33 0.33 0.33 0 0  0.33 0.33 0.33 0 0  0.33 0.33 0.33 0 0  0 0 0 0 1" result="ng"/>
<feComposite in="c2" in2="ng" operator="arithmetic" k1="0" k2="1" k3="0.2" k4="-0.1"/>
</filter></defs>
<g clip-path="url(#clipD)"><g filter="url(#semfD)">
<rect x="608.3" y="356" width="363.5" height="263.6" fill="rgb(58,58,58)"/>
<path d="M657.2,411.6 Q652.1,413.4 647.2,410 L634.7,401.4 Q629.8,398 635.6,389.3 L650.2,367.3 Q655.9,358.6 660.1,368.9 L671,395 Q675.2,405.3 670.1,407.1 Z" fill="url(#sgD4)"/>
<path d="M686.9,420.3 Q689.3,424.2 695.7,424.7 L712.2,425.8 Q718.7,426.3 721.7,422.4 L729.5,412.4 Q732.5,408.4 727.6,402.4 L715.1,387 Q710.1,381 703.2,386.6 L685.4,400.8 Q678.4,406.4 680.8,410.3 Z" fill="url(#sgD2)"/>
<path d="M715.7,386.5 Q710.8,380.4 711.1,373.4 L711.9,355.5 Q712.2,348.4 722.8,348.4 L749.8,348.4 Q760.4,348.4 759.6,361 L757.5,392.9 Q756.7,405.5 751.5,406 L738.3,407.3 Q733.1,407.9 728.2,401.8 Z" fill="url(#sgD5)"/>
<path d="M768.6,414.2 Q771.7,416.6 774.3,415.9 L781,414.3 Q783.6,413.7 787.8,409.1 L798.6,397.3 Q802.8,392.7 804.6,383 L809.1,358.2 Q810.9,348.4 799.9,348.4 L771.9,348.5 Q761,348.5 760.2,361 L758.3,393 Q757.5,405.6 760.6,408 Z" fill="url(#sgD2)"/>
<path d="M838.1,407.4 Q833.8,411.4 827.2,407.2 L810.4,396.7 Q803.8,392.6 805.5,382.9 L809.8,358.2 Q811.5,348.5 820.2,348.5 L842.4,348.5 Q851.2,348.5 851.7,358.4 L852.9,383.6 Q853.4,393.6 849.1,397.5 Z" fill="url(#sgD5)"/>
<path d="M846.7,456.3 Q842.7,457.3 840.5,456.7 L834.9,455 Q832.7,454.4 832,452.4 L830.1,447.5 Q829.4,445.6 830.5,438.3 L833.1,419.7 Q834.1,412.4 838.5,408.4 L849.5,398.4 Q853.8,394.4 858.9,399 L871.8,410.9 Q876.9,415.5 873.4,423.7 L864.3,444.6 Q860.8,452.8 856.8,453.8 Z" fill="url(#sgD5)"/>
<path d="M939.7,430.3 Q937,433.6 931.9,433.6 L918.8,433.5 Q913.7,433.5 909.3,428.7 L898.2,416.4 Q893.8,411.5 898.5,403.2 L910.6,381.9 Q915.3,373.5 922.8,383.4 L941.7,408.8 Q949.1,418.7 946.5,422 Z" fill="url(#sgD5)"/>
<path d="M956.2,417.1 Q949.6,418.3 942.2,408.3 L923.2,383 Q915.8,373.1 915.6,367.6 L914.9,353.8 Q914.7,348.4 928.9,348.4 L965.2,348.4 Q979.4,348.4 979.4,362.6 L979.4,398.7 Q979.4,412.9 972.9,414.1 Z" fill="url(#sgD4)"/>
<path d="M884.3,463 Q890.8,465.9 895.6,458.9 L908.1,441 Q913,434 908.6,429.2 L897.5,416.9 Q893.1,412 889.7,412.8 L881,414.9 Q877.6,415.7 874.1,423.9 L865.1,444.7 Q861.6,452.9 868,455.8 Z" fill="url(#sgD0)"/>
<path d="M818.1,456.8 Q831.8,454.7 831.8,454.7 L831.8,454.7 Q831.8,454.7 831.1,452.7 L829.2,447.8 Q828.4,445.9 818.6,439 L793.7,421.6 Q783.9,414.7 781.3,415.3 L774.5,416.9 Q771.9,417.5 770.4,427.2 L766.5,451.9 Q764.9,461.6 765.9,462.2 L768.4,463.7 Q769.4,464.2 783.2,462.1 Z" fill="url(#sgD3)"/>
<path d="M767.9,415 Q771.1,417.4 769.5,427.1 L765.6,451.7 Q764.1,461.4 758.2,463.2 L743.2,467.8 Q737.3,469.6 735.7,468.3 L731.6,465.1 Q730,463.9 727.7,455.8 L721.8,435.1 Q719.5,426.9 722.5,423 L730.3,412.9 Q733.3,408.9 738.5,408.4 L751.7,407 Q756.9,406.4 760,408.8 Z" fill="url(#sgD1)"/>
<path d="M678.2,455.5 Q675.1,464.1 687,464.1 L717.4,464 Q729.3,464 727,455.9 L721,435.3 Q718.6,427.2 712.1,426.7 L695.6,425.5 Q689.2,425 686.1,433.6 Z" fill="url(#sgD5)"/>
<path d="M673.6,464.5 Q674.5,463.8 677.6,455.2 L685.3,433.4 Q688.3,424.8 686,420.8 L680,410.8 Q677.7,406.8 677.2,406.7 L676,406.2 Q675.6,406.1 670.5,407.9 L657.5,412.5 Q652.4,414.4 650.5,420 L645.7,434.4 Q643.8,440 649.7,445.9 L664.6,461 Q670.5,466.9 671.4,466.2 Z" fill="url(#sgD0)"/>
<path d="M664.1,461.5 Q669.9,467.4 669.6,468.6 L668.6,471.5 Q668.2,472.7 653.4,479.2 L615.5,495.9 Q600.7,502.4 600.7,489.4 L600.8,456.4 Q600.8,443.4 610.1,442.8 L633.8,441.3 Q643.2,440.7 649,446.6 Z" fill="url(#sgD1)"/>
<path d="M674.2,465.3 Q675.1,464.6 687,464.6 L717.3,464.6 Q729.3,464.6 730.9,465.9 L735,469 Q736.6,470.3 735.2,476.2 L731.6,491.2 Q730.2,497.1 727.9,498.7 L722.1,502.6 Q719.8,504.2 711.2,502.9 L689.2,499.5 Q680.6,498.1 678.1,492.6 L671.8,478.5 Q669.3,473 669.7,471.8 L670.6,468.8 Q671,467.6 671.9,467 Z" fill="url(#sgD0)"/>
<path d="M773.1,473.7 Q768.8,465.1 767.8,464.5 L765.4,463 Q764.4,462.4 758.5,464.2 L743.5,468.7 Q737.6,470.5 736.2,476.4 L732.6,491.4 Q731.2,497.2 735.7,501.4 L747.3,511.8 Q751.8,515.9 759.6,513.8 L779.3,508.4 Q787,506.3 787.3,505.8 L788.1,504.5 Q788.4,504 784.1,495.5 Z" fill="url(#sgD2)"/>
<path d="M818.2,457.3 Q831.9,455.2 826.4,465.1 L812.4,490.6 Q806.9,500.6 803,501.3 L793,503.1 Q789.1,503.8 784.8,495.2 L773.8,473.4 Q769.5,464.8 783.2,462.7 Z" fill="url(#sgD3)"/>
<path d="M854.8,521.7 Q854.5,522.2 851.5,522.8 L843.9,524.5 Q840.9,525.1 833.6,519.8 L815,506.2 Q807.6,500.9 813.1,490.9 L827,465.4 Q832.5,455.4 832.5,455.4 L832.5,455.4 Q832.5,455.4 834.7,456 L840.3,457.7 Q842.5,458.4 845.4,471.9 L852.8,506.5 Q855.7,520 855.5,520.5 Z" fill="url(#sgD1)"/>
<path d="M878.4,508.7 Q884.7,505.6 886.4,497.7 L890.6,477.7 Q892.2,469.8 891.8,469.1 L890.8,467.4 Q890.4,466.7 884,463.9 L867.7,456.6 Q861.3,453.7 857.3,454.7 L847.1,457.2 Q843,458.2 845.9,471.8 L853.3,506.4 Q856.2,520 862.5,516.8 Z" fill="url(#sgD3)"/>
<path d="M903.8,514.2 Q909,516.6 913.7,514.1 L925.5,507.7 Q930.1,505.2 930.9,503.9 L932.8,500.5 Q933.5,499.2 930,494.4 L921,482.1 Q917.5,477.2 912.1,475.7 L898.5,471.6 Q893.1,470 891.4,477.9 L887.1,498 Q885.5,505.8 890.6,508.2 Z" fill="url(#sgD4)"/>
<path d="M930.8,493.9 Q934.3,498.8 943.5,496.1 L967.1,489.2 Q976.3,486.6 968.4,478.7 L948.3,458.7 Q940.4,450.8 935.5,456.5 L923.1,471 Q918.2,476.8 921.8,481.6 Z" fill="url(#sgD0)"/>
<path d="M931.9,504.2 Q931.1,505.6 934,512 L941.3,528.4 Q944.1,534.9 951.9,537.5 L971.7,544.2 Q979.5,546.9 979.5,533.8 L979.4,500.6 Q979.4,487.5 978.8,487.5 L977.1,487.2 Q976.5,487.1 967.3,489.8 L943.8,496.8 Q934.6,499.5 933.8,500.8 Z" fill="url(#sgD4)"/>
<path d="M907.4,559.3 Q907.1,560 904.8,560.4 L898.7,561.4 Q896.3,561.8 891.5,560.4 L879.3,556.6 Q874.5,555.2 870.2,548.1 L859.5,530 Q855.3,522.9 855.5,522.4 L856.2,521.2 Q856.5,520.8 862.8,517.7 L878.7,509.7 Q885,506.6 890.2,509 L903.4,515.1 Q908.5,517.5 908.5,526.1 L908.5,548.2 Q908.5,556.8 908.2,557.5 Z" fill="url(#sgD1)"/>
<path d="M869.4,548.4 Q873.6,555.6 868,561.8 L853.6,577.6 Q847.9,583.8 840.7,580.2 L822.3,571 Q815.1,567.3 815.2,564.3 L815.7,556.5 Q815.8,553.4 821.3,547.4 L835.4,532.2 Q840.9,526.2 843.9,525.5 L851.5,523.8 Q854.5,523.1 858.7,530.3 Z" fill="url(#sgD0)"/>
<path d="M820.7,546.9 Q815.1,552.9 809.6,548.8 L795.4,538.4 Q789.9,534.3 789.4,528.3 L788.3,513 Q787.9,507 788.2,506.5 L788.9,505.2 Q789.2,504.7 793.2,504 L803.1,502.3 Q807.1,501.6 814.4,506.9 L833,520.3 Q840.4,525.6 834.8,531.6 Z" fill="url(#sgD5)"/>
<path d="M814.2,564.4 Q814.1,567.4 809.9,571.3 L799.4,581.1 Q795.3,585 788.6,580.6 L771.7,569.3 Q765.1,564.9 764.9,561.7 L764.4,553.6 Q764.2,550.4 769.7,547 L783.9,538.6 Q789.5,535.2 795.1,539.3 L809.2,549.5 Q814.7,553.6 814.6,556.6 Z" fill="url(#sgD1)"/>
<path d="M759.5,568.1 Q764,564.8 763.8,561.6 L763.3,553.5 Q763.1,550.4 760.5,548 L754,542.1 Q751.4,539.8 743.8,541.8 L724.6,547 Q717.1,549 716.5,551.8 L715,558.8 Q714.4,561.6 720.8,565.6 L737,575.8 Q743.3,579.9 747.9,576.6 Z" fill="url(#sgD3)"/>
<path d="M722.7,503.5 Q720.4,505.1 718.7,512.5 L714.4,531.2 Q712.7,538.6 713.6,540.7 L715.9,546.2 Q716.8,548.4 724.4,546.3 L743.6,541 Q751.2,538.9 751.2,534 L751.1,521.5 Q751.1,516.6 746.6,512.5 L735.2,502.1 Q730.7,497.9 728.4,499.5 Z" fill="url(#sgD2)"/>
<path d="M669,539.6 Q666.3,531.7 667.5,530.7 L670.5,528.1 Q671.7,527.1 680.5,529.7 L703,536.5 Q711.8,539.2 712.7,541.3 L715.1,546.7 Q716,548.9 715.4,551.6 L714,558.6 Q713.4,561.4 710,564.1 L701.5,570.9 Q698.2,573.6 693.8,572.2 L682.7,568.8 Q678.4,567.4 675.7,559.5 Z" fill="url(#sgD1)"/>
<path d="M641.4,559.5 Q637.6,567.3 629.4,567.8 L608.8,569.3 Q600.7,569.8 600.6,555.9 L600.6,520.5 Q600.6,506.6 612.6,512.2 L643.2,526.5 Q655.2,532.1 651.3,539.9 Z" fill="url(#sgD3)"/>
<path d="M663.3,531.1 Q665.5,531 666.7,530 L669.7,527.4 Q670.9,526.3 672.8,520.3 L677.7,504.8 Q679.6,498.7 677.2,493.1 L671,478.9 Q668.5,473.3 653.6,479.8 L615.7,496.4 Q600.8,502.9 600.8,503.6 L600.8,505.4 Q600.8,506.1 612.9,511.7 L643.5,525.9 Q655.6,531.4 657.8,531.3 Z" fill="url(#sgD1)"/>
<path d="M652.5,577.6 Q656.6,580.3 655.9,590.6 L654.1,616.8 Q653.4,627.2 641.8,627.2 L612.3,627.2 Q600.7,627.2 600.7,614.7 L600.7,583 Q600.7,570.6 608.9,570.1 L629.6,568.8 Q637.7,568.3 641.9,570.9 Z" fill="url(#sgD0)"/>
<path d="M656.8,590.6 Q657.6,580.3 662.1,577.7 L673.5,571 Q678,568.4 682.4,569.7 L693.5,573.2 Q697.9,574.5 698.6,586.1 L700.4,615.6 Q701.1,627.2 690.7,627.2 L664.4,627.2 Q654,627.2 654.8,616.9 Z" fill="url(#sgD1)"/>
<path d="M743,616.9 Q743,627.1 733.9,627.1 L710.8,627.1 Q701.7,627.1 701,615.5 L699.3,586.1 Q698.7,574.5 702,571.8 L710.6,564.9 Q714,562.2 720.3,566.3 L736.5,576.6 Q742.9,580.7 742.9,590.9 Z" fill="url(#sgD4)"/>
<path d="M788.2,581.3 Q794.9,585.8 793.7,594.9 L790.5,618 Q789.3,627.2 779.3,627.2 L753.7,627.2 Q743.7,627.2 743.7,617 L743.8,590.9 Q743.8,580.7 748.4,577.4 L760,568.9 Q764.6,565.5 771.3,570 Z" fill="url(#sgD4)"/>
<path d="M821.9,571.8 Q814.7,568.2 810.6,572 L800,581.9 Q795.9,585.8 794.6,594.9 L791.3,618.1 Q790.1,627.2 804.8,627.2 L842.5,627.3 Q857.2,627.3 855.1,617.9 L849.7,594 Q847.6,584.6 840.3,581 Z" fill="url(#sgD3)"/>
<path d="M905.2,561.4 Q907.5,561 911.5,564.7 L921.6,574.3 Q925.6,578 927.9,588.8 L933.8,616.4 Q936.2,627.2 923.2,627.2 L890.3,627.2 Q877.3,627.2 881.6,613 L892.5,577 Q896.7,562.9 899.1,562.4 Z" fill="url(#sgD1)"/>
<path d="M908.4,559.7 Q908,560.4 912.1,564.1 L922.3,573.5 Q926.3,577.2 937.9,572 L967.6,558.5 Q979.3,553.3 979.3,552 L979.3,548.7 Q979.3,547.4 971.5,544.9 L951.6,538.4 Q943.8,535.9 936.3,540.6 L917,552.5 Q909.5,557.1 909.2,557.8 Z" fill="url(#sgD1)"/>
<path d="M891.3,561.3 Q896.2,562.8 891.9,576.9 L881.1,612.9 Q876.9,627.1 872.7,627.1 L862,627.1 Q857.9,627.1 855.8,617.7 L850.6,593.9 Q848.6,584.5 854.2,578.3 L868.5,562.4 Q874.1,556.2 879,557.6 Z" fill="url(#sgD0)"/>
<path d="M928.7,588.8 Q926.4,578 938.1,572.6 L967.9,559.1 Q979.5,553.7 979.5,569.9 L979.5,611 Q979.5,627.2 970.1,627.2 L946.2,627.1 Q936.8,627.1 934.5,616.3 Z" fill="url(#sgD0)"/>
<path d="M644.8,434.1 Q642.9,439.8 633.6,440.4 L610,442.1 Q600.7,442.7 600.7,433.7 L600.7,411 Q600.7,402 607,401.3 L622.9,399.3 Q629.2,398.6 634.1,402 L646.6,410.7 Q651.5,414.1 649.6,419.7 Z" fill="url(#sgD1)"/>
<path d="M676.3,405.2 Q675.8,405 671.5,394.7 L660.7,368.6 Q656.4,358.4 656.5,356.2 L656.7,350.6 Q656.8,348.4 668.8,348.4 L699.5,348.4 Q711.5,348.4 711.1,355.4 L710.1,373.3 Q709.7,380.4 702.7,385.9 L684.9,400.2 Q677.9,405.8 677.5,405.6 Z" fill="url(#sgD1)"/>
<path d="M872.4,410 Q877.5,414.7 880.9,413.9 L889.7,411.8 Q893.1,411 897.8,402.6 L910,381.4 Q914.7,373.1 914.6,367.7 L914.1,353.8 Q913.9,348.4 900.3,348.4 L865.5,348.4 Q851.9,348.4 852.4,358.4 L853.8,383.7 Q854.4,393.7 859.5,398.3 Z" fill="url(#sgD1)"/>
<path d="M829.7,438.1 Q828.7,445.4 818.9,438.6 L794,421.1 Q784.2,414.3 788.5,409.6 L799.3,397.9 Q803.5,393.3 810.1,397.4 L826.7,407.9 Q833.3,412 832.3,419.4 Z" fill="url(#sgD1)"/>
<path d="M787.5,513.1 Q787.1,507.1 779.4,509.2 L759.8,514.6 Q752.1,516.8 752.1,521.7 L752.1,534.1 Q752.1,539 754.7,541.3 L761.2,547.3 Q763.8,549.6 769.3,546.3 L783.4,537.9 Q788.9,534.5 788.5,528.5 Z" fill="url(#sgD2)"/>
<path d="M653,576.8 Q657.2,579.4 661.6,576.8 L673.1,570.1 Q677.5,567.5 674.9,559.7 L668.3,539.8 Q665.7,531.9 663.5,532.1 L658,532.4 Q655.8,532.5 652,540.2 L642.2,559.8 Q638.3,567.5 642.5,570.1 Z" fill="url(#sgD2)"/>
<path d="M649.7,366.9 Q655.4,358.3 655.6,356.1 L655.9,350.5 Q656,348.3 643.8,348.3 L612.9,348.3 Q600.7,348.3 600.7,360 L600.7,389.6 Q600.7,401.3 607,400.4 L623,398.3 Q629.3,397.5 635,388.9 Z" fill="url(#sgD1)"/>
<path d="M948.8,458.1 Q940.9,450.2 940.2,446.7 L938.5,437.8 Q937.8,434.3 940.5,431 L947.2,422.6 Q949.9,419.3 956.4,418.1 L973,415 Q979.5,413.8 979.5,429.9 L979.6,470.6 Q979.6,486.7 978.9,486.6 L977.3,486.3 Q976.6,486.2 968.8,478.3 Z" fill="url(#sgD4)"/>
<path d="M909.2,548.1 Q909.2,556.7 916.7,552 L935.8,539.9 Q943.4,535.2 940.5,528.8 L933.3,512.4 Q930.4,506 925.8,508.5 L914,515 Q909.4,517.5 909.3,526.1 Z" fill="url(#sgD5)"/>
<path d="M711,503.6 Q719.7,504.9 718,512.3 L713.6,531.1 Q711.9,538.5 703.1,535.9 L680.7,529.1 Q671.9,526.5 673.8,520.4 L678.6,505 Q680.5,498.9 689.1,500.2 Z" fill="url(#sgD5)"/>
<path d="M892.8,468.6 Q893.2,469.3 898.6,470.8 L912.3,474.7 Q917.6,476.2 922.5,470.5 L935,456 Q939.8,450.4 939.2,446.8 L937.6,437.9 Q936.9,434.4 931.8,434.4 L918.7,434.5 Q913.6,434.6 908.7,441.5 L896.2,459.2 Q891.3,466.2 891.7,466.9 Z" fill="url(#sgD1)"/>
</g></g>
<text x="625.8" y="397" font-size="26.8" fill="#fff" textLength="31.1" lengthAdjust="spacingAndGlyphs">(d)</text>
<text x="952" y="396.8" font-size="20.7" text-anchor="end" fill="#fff" >MOF@COF</text>
<text x="931.4" y="578.1" font-size="20.5" text-anchor="middle" fill="#fff" >1 µm</text>
<rect x="917.7" y="588" width="34.3" height="5.2" fill="#fff"/>
</g>
<g id="kpfm">
<defs><clipPath id="kcC"><rect x="367.2" y="368.4" width="225" height="225.2"/></clipPath>
<filter id="kbC" filterUnits="userSpaceOnUse" x="327.2" y="328.4" width="305" height="305.2" color-interpolation-filters="sRGB"><feGaussianBlur stdDeviation="8"/></filter>
<filter id="kfC" filterUnits="userSpaceOnUse" x="367.2" y="368.4" width="225" height="225.2" color-interpolation-filters="sRGB">
<feTurbulence type="fractalNoise" baseFrequency="0.05" numOctaves="3" seed="4" result="m"/>
<feColorMatrix in="m" type="matrix" values="0.5 0.5 0 0 0  0.5 0.5 0 0 0  0.5 0.5 0 0 0  0 0 0 0 1" result="mg"/>
<feComposite in="SourceGraphic" in2="mg" operator="arithmetic" k1="0" k2="1" k3="0.55" k4="-0.275" result="a"/>
<feTurbulence type="fractalNoise" baseFrequency="0.035 0.8" numOctaves="2" seed="7" result="st"/>
<feColorMatrix in="st" type="matrix" values="0.5 0.5 0 0 0  0.5 0.5 0 0 0  0.5 0.5 0 0 0  0 0 0 0 1" result="sg"/>
<feComposite in="a" in2="sg" operator="arithmetic" k1="0" k2="1" k3="0.45" k4="-0.225" result="b"/>
<feTurbulence type="fractalNoise" baseFrequency="0.85" numOctaves="1" seed="9" result="n"/>
<feColorMatrix in="n" type="matrix" values="0.5 0.5 0 0 0  0.5 0.5 0 0 0  0.5 0.5 0 0 0  0 0 0 0 1" result="ng"/>
<feComposite in="b" in2="ng" operator="arithmetic" k1="0" k2="1" k3="0.95" k4="-0.475" result="c"/>
<feComponentTransfer in="c"><feFuncR type="table" tableValues="0.980 0.982 0.984 0.987 0.988 0.986 0.984 0.982 0.980 0.974 0.967 0.961 0.954 0.940 0.925 0.909 0.894 0.871 0.847 0.824 0.798 0.760 0.722 0.685 0.643 0.594 0.545 0.496 0.445 0.393 0.340 0.288 0.235"/><feFuncG type="table" tableValues="0.957 0.937 0.918 0.899 0.876 0.839 0.801 0.763 0.725 0.683 0.641 0.598 0.556 0.508 0.459 0.410 0.361 0.318 0.275 0.232 0.193 0.172 0.152 0.132 0.116 0.111 0.106 0.101 0.096 0.092 0.087 0.083 0.078"/><feFuncB type="table" tableValues="0.118 0.128 0.138 0.148 0.159 0.170 0.181 0.193 0.204 0.217 0.230 0.244 0.257 0.281 0.308 0.334 0.361 0.389 0.418 0.447 0.475 0.506 0.537 0.567 0.593 0.608 0.624 0.639 0.649 0.654 0.658 0.662 0.667"/></feComponentTransfer>
</filter>
<linearGradient id="kcbC" x1="0" y1="0" x2="0" y2="1"><stop offset="0.00" stop-color="rgb(60,20,170)"/><stop offset="0.14" stop-color="rgb(120,25,165)"/><stop offset="0.26" stop-color="rgb(168,30,150)"/><stop offset="0.38" stop-color="rgb(205,50,120)"/><stop offset="0.50" stop-color="rgb(228,92,92)"/><stop offset="0.62" stop-color="rgb(243,140,66)"/><stop offset="0.75" stop-color="rgb(250,185,52)"/><stop offset="0.88" stop-color="rgb(252,225,40)"/><stop offset="1.00" stop-color="rgb(250,244,30)"/></linearGradient></defs>
<g clip-path="url(#kcC)"><g filter="url(#kfC)"><rect x="367.2" y="368.4" width="225" height="225.2" fill="#808080"/><g filter="url(#kbC)">
<rect x="337.2" y="338.4" width="58.6" height="55.5" fill="rgb(56,56,56)"/>
<rect x="395.3" y="338.4" width="28.6" height="55.5" fill="rgb(89,89,89)"/>
<rect x="423.4" y="338.4" width="28.6" height="55.5" fill="rgb(38,38,38)"/>
<rect x="451.6" y="338.4" width="28.6" height="55.5" fill="rgb(89,89,89)"/>
<rect x="479.7" y="338.4" width="28.6" height="55.5" fill="rgb(64,64,64)"/>
<rect x="507.8" y="338.4" width="28.6" height="55.5" fill="rgb(38,38,38)"/>
<rect x="536" y="338.4" width="28.6" height="55.5" fill="rgb(38,38,38)"/>
<rect x="564.1" y="338.4" width="58.6" height="55.5" fill="rgb(76,76,76)"/>
<rect x="337.2" y="393.4" width="58.6" height="25.5" fill="rgb(89,89,89)"/>
<rect x="395.3" y="393.4" width="28.6" height="25.5" fill="rgb(107,107,107)"/>
<rect x="423.4" y="393.4" width="28.6" height="25.5" fill="rgb(115,115,115)"/>
<rect x="451.6" y="393.4" width="28.6" height="25.5" fill="rgb(107,107,107)"/>
<rect x="479.7" y="393.4" width="28.6" height="25.5" fill="rgb(38,38,38)"/>
<rect x="507.8" y="393.4" width="28.6" height="25.5" fill="rgb(26,26,26)"/>
<rect x="536" y="393.4" width="28.6" height="25.5" fill="rgb(8,8,8)"/>
<rect x="564.1" y="393.4" width="58.6" height="25.5" fill="rgb(56,56,56)"/>
<rect x="337.2" y="418.4" width="58.6" height="25.5" fill="rgb(107,107,107)"/>
<rect x="395.3" y="418.4" width="28.6" height="25.5" fill="rgb(122,122,122)"/>
<rect x="423.4" y="418.4" width="28.6" height="25.5" fill="rgb(163,163,163)"/>
<rect x="451.6" y="418.4" width="28.6" height="25.5" fill="rgb(115,115,115)"/>
<rect x="479.7" y="418.4" width="28.6" height="25.5" fill="rgb(107,107,107)"/>
<rect x="507.8" y="418.4" width="28.6" height="25.5" fill="rgb(122,122,122)"/>
<rect x="536" y="418.4" width="28.6" height="25.5" fill="rgb(38,38,38)"/>
<rect x="564.1" y="418.4" width="58.6" height="25.5" fill="rgb(71,71,71)"/>
<rect x="337.2" y="443.5" width="58.6" height="25.5" fill="rgb(64,64,64)"/>
<rect x="395.3" y="443.5" width="28.6" height="25.5" fill="rgb(153,153,153)"/>
<rect x="423.4" y="443.5" width="28.6" height="25.5" fill="rgb(148,148,148)"/>
<rect x="451.6" y="443.5" width="28.6" height="25.5" fill="rgb(76,76,76)"/>
<rect x="479.7" y="443.5" width="28.6" height="25.5" fill="rgb(140,140,140)"/>
<rect x="507.8" y="443.5" width="28.6" height="25.5" fill="rgb(148,148,148)"/>
<rect x="536" y="443.5" width="28.6" height="25.5" fill="rgb(107,107,107)"/>
<rect x="564.1" y="443.5" width="58.6" height="25.5" fill="rgb(102,102,102)"/>
<rect x="337.2" y="468.5" width="58.6" height="25.5" fill="rgb(178,178,178)"/>
<rect x="395.3" y="468.5" width="28.6" height="25.5" fill="rgb(173,173,173)"/>
<rect x="423.4" y="468.5" width="28.6" height="25.5" fill="rgb(173,173,173)"/>
<rect x="451.6" y="468.5" width="28.6" height="25.5" fill="rgb(178,178,178)"/>
<rect x="479.7" y="468.5" width="28.6" height="25.5" fill="rgb(168,168,168)"/>
<rect x="507.8" y="468.5" width="28.6" height="25.5" fill="rgb(148,148,148)"/>
<rect x="536" y="468.5" width="28.6" height="25.5" fill="rgb(133,133,133)"/>
<rect x="564.1" y="468.5" width="58.6" height="25.5" fill="rgb(128,128,128)"/>
<rect x="337.2" y="493.5" width="58.6" height="25.5" fill="rgb(158,158,158)"/>
<rect x="395.3" y="493.5" width="28.6" height="25.5" fill="rgb(189,189,189)"/>
<rect x="423.4" y="493.5" width="28.6" height="25.5" fill="rgb(168,168,168)"/>
<rect x="451.6" y="493.5" width="28.6" height="25.5" fill="rgb(173,173,173)"/>
<rect x="479.7" y="493.5" width="28.6" height="25.5" fill="rgb(178,178,178)"/>
<rect x="507.8" y="493.5" width="28.6" height="25.5" fill="rgb(122,122,122)"/>
<rect x="536" y="493.5" width="28.6" height="25.5" fill="rgb(128,128,128)"/>
<rect x="564.1" y="493.5" width="58.6" height="25.5" fill="rgb(133,133,133)"/>
<rect x="337.2" y="518.5" width="58.6" height="25.5" fill="rgb(153,153,153)"/>
<rect x="395.3" y="518.5" width="28.6" height="25.5" fill="rgb(178,178,178)"/>
<rect x="423.4" y="518.5" width="28.6" height="25.5" fill="rgb(115,115,115)"/>
<rect x="451.6" y="518.5" width="28.6" height="25.5" fill="rgb(153,153,153)"/>
<rect x="479.7" y="518.5" width="28.6" height="25.5" fill="rgb(158,158,158)"/>
<rect x="507.8" y="518.5" width="28.6" height="25.5" fill="rgb(97,97,97)"/>
<rect x="536" y="518.5" width="28.6" height="25.5" fill="rgb(128,128,128)"/>
<rect x="564.1" y="518.5" width="58.6" height="25.5" fill="rgb(140,140,140)"/>
<rect x="337.2" y="543.6" width="58.6" height="25.5" fill="rgb(189,189,189)"/>
<rect x="395.3" y="543.6" width="28.6" height="25.5" fill="rgb(168,168,168)"/>
<rect x="423.4" y="543.6" width="28.6" height="25.5" fill="rgb(97,97,97)"/>
<rect x="451.6" y="543.6" width="28.6" height="25.5" fill="rgb(158,158,158)"/>
<rect x="479.7" y="543.6" width="28.6" height="25.5" fill="rgb(178,178,178)"/>
<rect x="507.8" y="543.6" width="28.6" height="25.5" fill="rgb(153,153,153)"/>
<rect x="536" y="543.6" width="28.6" height="25.5" fill="rgb(189,189,189)"/>
<rect x="564.1" y="543.6" width="58.6" height="25.5" fill="rgb(178,178,178)"/>
<rect x="337.2" y="568.6" width="58.6" height="55.5" fill="rgb(209,209,209)"/>
<rect x="395.3" y="568.6" width="28.6" height="55.5" fill="rgb(168,168,168)"/>
<rect x="423.4" y="568.6" width="28.6" height="55.5" fill="rgb(168,168,168)"/>
<rect x="451.6" y="568.6" width="28.6" height="55.5" fill="rgb(158,158,158)"/>
<rect x="479.7" y="568.6" width="28.6" height="55.5" fill="rgb(153,153,153)"/>
<rect x="507.8" y="568.6" width="28.6" height="55.5" fill="rgb(153,153,153)"/>
<rect x="536" y="568.6" width="28.6" height="55.5" fill="rgb(194,194,194)"/>
<rect x="564.1" y="568.6" width="58.6" height="55.5" fill="rgb(178,178,178)"/>
</g></g></g>
<text x="380.3" y="396.8" font-size="26.8" fill="#000" textLength="29.8" lengthAdjust="spacingAndGlyphs">(c)</text>
<path d="M367.6,601.1 V597.6 H592.5 V601.1" fill="none" stroke="#222" stroke-width="0.9"/>
<text x="367.7" y="608.6" font-size="8.6" text-anchor="start" fill="#000" >0.0</text>
<text x="481.2" y="609.4" font-size="10.4" text-anchor="middle" fill="#111" >Potential</text>
<text x="595.6" y="607.8" font-size="8.6" text-anchor="end" fill="#000" >8.0 µm</text>
<rect x="599.7" y="385.2" width="8.6" height="189.3" fill="url(#kcbC)"/>
<text x="605.5" y="373.8" font-size="8.8" text-anchor="middle" fill="#000" >-253.6</text>
<text x="605.5" y="382.8" font-size="8.8" text-anchor="middle" fill="#000" >mV</text>
<text x="605.5" y="585.6" font-size="8.8" text-anchor="middle" fill="#000" >-332.8</text>
<text x="605.5" y="595" font-size="8.8" text-anchor="middle" fill="#000" >mV</text>
<rect x="599.7" y="385.2" width="8.6" height="189.3" fill="none" stroke="#999" stroke-width="0.5"/>
<defs><clipPath id="kcE"><rect x="968.8" y="368.3" width="225.8" height="225.7"/></clipPath>
<filter id="kbE" filterUnits="userSpaceOnUse" x="928.8" y="328.3" width="305.8" height="305.7" color-interpolation-filters="sRGB"><feGaussianBlur stdDeviation="8"/></filter>
<filter id="kfE" filterUnits="userSpaceOnUse" x="968.8" y="368.3" width="225.8" height="225.7" color-interpolation-filters="sRGB">
<feTurbulence type="fractalNoise" baseFrequency="0.05" numOctaves="3" seed="9" result="m"/>
<feColorMatrix in="m" type="matrix" values="0.5 0.5 0 0 0  0.5 0.5 0 0 0  0.5 0.5 0 0 0  0 0 0 0 1" result="mg"/>
<feComposite in="SourceGraphic" in2="mg" operator="arithmetic" k1="0" k2="1" k3="0.55" k4="-0.275" result="a"/>
<feTurbulence type="fractalNoise" baseFrequency="0.035 0.8" numOctaves="2" seed="12" result="st"/>
<feColorMatrix in="st" type="matrix" values="0.5 0.5 0 0 0  0.5 0.5 0 0 0  0.5 0.5 0 0 0  0 0 0 0 1" result="sg"/>
<feComposite in="a" in2="sg" operator="arithmetic" k1="0" k2="1" k3="0.45" k4="-0.225" result="b"/>
<feTurbulence type="fractalNoise" baseFrequency="0.85" numOctaves="1" seed="14" result="n"/>
<feColorMatrix in="n" type="matrix" values="0.5 0.5 0 0 0  0.5 0.5 0 0 0  0.5 0.5 0 0 0  0 0 0 0 1" result="ng"/>
<feComposite in="b" in2="ng" operator="arithmetic" k1="0" k2="1" k3="0.95" k4="-0.475" result="c"/>
<feComponentTransfer in="c"><feFuncR type="table" tableValues="0.980 0.982 0.984 0.987 0.988 0.986 0.984 0.982 0.980 0.974 0.967 0.961 0.954 0.940 0.925 0.909 0.894 0.871 0.847 0.824 0.798 0.760 0.722 0.685 0.643 0.594 0.545 0.496 0.445 0.393 0.340 0.288 0.235"/><feFuncG type="table" tableValues="0.957 0.937 0.918 0.899 0.876 0.839 0.801 0.763 0.725 0.683 0.641 0.598 0.556 0.508 0.459 0.410 0.361 0.318 0.275 0.232 0.193 0.172 0.152 0.132 0.116 0.111 0.106 0.101 0.096 0.092 0.087 0.083 0.078"/><feFuncB type="table" tableValues="0.118 0.128 0.138 0.148 0.159 0.170 0.181 0.193 0.204 0.217 0.230 0.244 0.257 0.281 0.308 0.334 0.361 0.389 0.418 0.447 0.475 0.506 0.537 0.567 0.593 0.608 0.624 0.639 0.649 0.654 0.658 0.662 0.667"/></feComponentTransfer>
</filter>
<linearGradient id="kcbE" x1="0" y1="0" x2="0" y2="1"><stop offset="0.00" stop-color="rgb(60,20,170)"/><stop offset="0.14" stop-color="rgb(120,25,165)"/><stop offset="0.26" stop-color="rgb(168,30,150)"/><stop offset="0.38" stop-color="rgb(205,50,120)"/><stop offset="0.50" stop-color="rgb(228,92,92)"/><stop offset="0.62" stop-color="rgb(243,140,66)"/><stop offset="0.75" stop-color="rgb(250,185,52)"/><stop offset="0.88" stop-color="rgb(252,225,40)"/><stop offset="1.00" stop-color="rgb(250,244,30)"/></linearGradient></defs>
<g clip-path="url(#kcE)"><g filter="url(#kfE)"><rect x="968.8" y="368.3" width="225.8" height="225.7" fill="#808080"/><g filter="url(#kbE)">
<rect x="938.8" y="338.3" width="58.7" height="55.6" fill="rgb(8,8,8)"/>
<rect x="997" y="338.3" width="28.7" height="55.6" fill="rgb(20,20,20)"/>
<rect x="1025.2" y="338.3" width="28.7" height="55.6" fill="rgb(26,26,26)"/>
<rect x="1053.5" y="338.3" width="28.7" height="55.6" fill="rgb(31,31,31)"/>
<rect x="1081.7" y="338.3" width="28.7" height="55.6" fill="rgb(31,31,31)"/>
<rect x="1109.9" y="338.3" width="28.7" height="55.6" fill="rgb(26,26,26)"/>
<rect x="1138.1" y="338.3" width="28.7" height="55.6" fill="rgb(20,20,20)"/>
<rect x="1166.4" y="338.3" width="58.7" height="55.6" fill="rgb(26,26,26)"/>
<rect x="938.8" y="393.4" width="58.7" height="25.6" fill="rgb(13,13,13)"/>
<rect x="997" y="393.4" width="28.7" height="25.6" fill="rgb(56,56,56)"/>
<rect x="1025.2" y="393.4" width="28.7" height="25.6" fill="rgb(71,71,71)"/>
<rect x="1053.5" y="393.4" width="28.7" height="25.6" fill="rgb(76,76,76)"/>
<rect x="1081.7" y="393.4" width="28.7" height="25.6" fill="rgb(92,92,92)"/>
<rect x="1109.9" y="393.4" width="28.7" height="25.6" fill="rgb(107,107,107)"/>
<rect x="1138.1" y="393.4" width="28.7" height="25.6" fill="rgb(92,92,92)"/>
<rect x="1166.4" y="393.4" width="58.7" height="25.6" fill="rgb(87,87,87)"/>
<rect x="938.8" y="418.5" width="58.7" height="25.6" fill="rgb(64,64,64)"/>
<rect x="997" y="418.5" width="28.7" height="25.6" fill="rgb(133,133,133)"/>
<rect x="1025.2" y="418.5" width="28.7" height="25.6" fill="rgb(133,133,133)"/>
<rect x="1053.5" y="418.5" width="28.7" height="25.6" fill="rgb(76,76,76)"/>
<rect x="1081.7" y="418.5" width="28.7" height="25.6" fill="rgb(133,133,133)"/>
<rect x="1109.9" y="418.5" width="28.7" height="25.6" fill="rgb(97,97,97)"/>
<rect x="1138.1" y="418.5" width="28.7" height="25.6" fill="rgb(107,107,107)"/>
<rect x="1166.4" y="418.5" width="58.7" height="25.6" fill="rgb(128,128,128)"/>
<rect x="938.8" y="443.5" width="58.7" height="25.6" fill="rgb(76,76,76)"/>
<rect x="997" y="443.5" width="28.7" height="25.6" fill="rgb(133,133,133)"/>
<rect x="1025.2" y="443.5" width="28.7" height="25.6" fill="rgb(133,133,133)"/>
<rect x="1053.5" y="443.5" width="28.7" height="25.6" fill="rgb(107,107,107)"/>
<rect x="1081.7" y="443.5" width="28.7" height="25.6" fill="rgb(107,107,107)"/>
<rect x="1109.9" y="443.5" width="28.7" height="25.6" fill="rgb(148,148,148)"/>
<rect x="1138.1" y="443.5" width="28.7" height="25.6" fill="rgb(117,117,117)"/>
<rect x="1166.4" y="443.5" width="58.7" height="25.6" fill="rgb(148,148,148)"/>
<rect x="938.8" y="468.6" width="58.7" height="25.6" fill="rgb(76,76,76)"/>
<rect x="997" y="468.6" width="28.7" height="25.6" fill="rgb(92,92,92)"/>
<rect x="1025.2" y="468.6" width="28.7" height="25.6" fill="rgb(92,92,92)"/>
<rect x="1053.5" y="468.6" width="28.7" height="25.6" fill="rgb(117,117,117)"/>
<rect x="1081.7" y="468.6" width="28.7" height="25.6" fill="rgb(107,107,107)"/>
<rect x="1109.9" y="468.6" width="28.7" height="25.6" fill="rgb(133,133,133)"/>
<rect x="1138.1" y="468.6" width="28.7" height="25.6" fill="rgb(133,133,133)"/>
<rect x="1166.4" y="468.6" width="58.7" height="25.6" fill="rgb(148,148,148)"/>
<rect x="938.8" y="493.7" width="58.7" height="25.6" fill="rgb(117,117,117)"/>
<rect x="997" y="493.7" width="28.7" height="25.6" fill="rgb(76,76,76)"/>
<rect x="1025.2" y="493.7" width="28.7" height="25.6" fill="rgb(92,92,92)"/>
<rect x="1053.5" y="493.7" width="28.7" height="25.6" fill="rgb(107,107,107)"/>
<rect x="1081.7" y="493.7" width="28.7" height="25.6" fill="rgb(117,117,117)"/>
<rect x="1109.9" y="493.7" width="28.7" height="25.6" fill="rgb(143,143,143)"/>
<rect x="1138.1" y="493.7" width="28.7" height="25.6" fill="rgb(143,143,143)"/>
<rect x="1166.4" y="493.7" width="58.7" height="25.6" fill="rgb(158,158,158)"/>
<rect x="938.8" y="518.8" width="58.7" height="25.6" fill="rgb(97,97,97)"/>
<rect x="997" y="518.8" width="28.7" height="25.6" fill="rgb(82,82,82)"/>
<rect x="1025.2" y="518.8" width="28.7" height="25.6" fill="rgb(92,92,92)"/>
<rect x="1053.5" y="518.8" width="28.7" height="25.6" fill="rgb(107,107,107)"/>
<rect x="1081.7" y="518.8" width="28.7" height="25.6" fill="rgb(184,184,184)"/>
<rect x="1109.9" y="518.8" width="28.7" height="25.6" fill="rgb(184,184,184)"/>
<rect x="1138.1" y="518.8" width="28.7" height="25.6" fill="rgb(168,168,168)"/>
<rect x="1166.4" y="518.8" width="58.7" height="25.6" fill="rgb(178,178,178)"/>
<rect x="938.8" y="543.8" width="58.7" height="25.6" fill="rgb(178,178,178)"/>
<rect x="997" y="543.8" width="28.7" height="25.6" fill="rgb(178,178,178)"/>
<rect x="1025.2" y="543.8" width="28.7" height="25.6" fill="rgb(163,163,163)"/>
<rect x="1053.5" y="543.8" width="28.7" height="25.6" fill="rgb(117,117,117)"/>
<rect x="1081.7" y="543.8" width="28.7" height="25.6" fill="rgb(199,199,199)"/>
<rect x="1109.9" y="543.8" width="28.7" height="25.6" fill="rgb(209,209,209)"/>
<rect x="1138.1" y="543.8" width="28.7" height="25.6" fill="rgb(194,194,194)"/>
<rect x="1166.4" y="543.8" width="58.7" height="25.6" fill="rgb(184,184,184)"/>
<rect x="938.8" y="568.9" width="58.7" height="55.6" fill="rgb(189,189,189)"/>
<rect x="997" y="568.9" width="28.7" height="55.6" fill="rgb(189,189,189)"/>
<rect x="1025.2" y="568.9" width="28.7" height="55.6" fill="rgb(184,184,184)"/>
<rect x="1053.5" y="568.9" width="28.7" height="55.6" fill="rgb(148,148,148)"/>
<rect x="1081.7" y="568.9" width="28.7" height="55.6" fill="rgb(189,189,189)"/>
<rect x="1109.9" y="568.9" width="28.7" height="55.6" fill="rgb(199,199,199)"/>
<rect x="1138.1" y="568.9" width="28.7" height="55.6" fill="rgb(199,199,199)"/>
<rect x="1166.4" y="568.9" width="58.7" height="55.6" fill="rgb(224,224,224)"/>
</g></g></g>
<text x="976" y="396.8" font-size="26.8" fill="#000" textLength="29.8" lengthAdjust="spacingAndGlyphs">(e)</text>
<path d="M969.2,601.5 V598 H1194.9 V601.5" fill="none" stroke="#222" stroke-width="0.9"/>
<text x="969.3" y="609" font-size="8.6" text-anchor="start" fill="#000" >0.0</text>
<text x="1083.2" y="609.8" font-size="10.4" text-anchor="middle" fill="#111" >Potential</text>
<text x="1196.2" y="608.2" font-size="8.6" text-anchor="end" fill="#000" >8.0 µm</text>
<rect x="1204.8" y="387.4" width="9.5" height="189.6" fill="url(#kcbE)"/>
<text x="1207.8" y="374.2" font-size="8.8" text-anchor="middle" fill="#000" >-308.5</text>
<text x="1207.8" y="383.2" font-size="8.8" text-anchor="middle" fill="#000" >mV</text>
<text x="1207.8" y="592.8" font-size="8.8" text-anchor="middle" fill="#000" >-441.6</text>
<text x="1207" y="601.8" font-size="8.8" text-anchor="middle" fill="#000" >mV</text>
<rect x="1204.8" y="387.4" width="9.5" height="189.6" fill="none" stroke="#999" stroke-width="0.5"/>
</g>
<g id="hists">
<defs><pattern id="hpB" width="3" height="3" patternUnits="userSpaceOnUse" patternTransform="rotate(45)"><rect width="3" height="3" fill="#fff"/><path d="M0,0H3M0,0V3" stroke="#1fbe9f" stroke-width="1.05"/></pattern></defs>
<rect x="73.7" y="685.6" width="28.2" height="4.7" fill="url(#hpB)" stroke="#1fbe9f" stroke-width="1.1"/>
<rect x="102" y="666.9" width="28.2" height="23.4" fill="url(#hpB)" stroke="#1fbe9f" stroke-width="1.1"/>
<rect x="130.2" y="657.5" width="28.2" height="32.8" fill="url(#hpB)" stroke="#1fbe9f" stroke-width="1.1"/>
<rect x="158.4" y="624.6" width="28.2" height="65.7" fill="url(#hpB)" stroke="#1fbe9f" stroke-width="1.1"/>
<rect x="186.6" y="671.5" width="28.2" height="18.8" fill="url(#hpB)" stroke="#1fbe9f" stroke-width="1.1"/>
<rect x="214.9" y="638.7" width="28.2" height="51.6" fill="url(#hpB)" stroke="#1fbe9f" stroke-width="1.1"/>
<rect x="243.1" y="676.2" width="28.2" height="14.1" fill="url(#hpB)" stroke="#1fbe9f" stroke-width="1.1"/>
<rect x="271.3" y="662.2" width="28.2" height="28.1" fill="url(#hpB)" stroke="#1fbe9f" stroke-width="1.1"/>
<rect x="299.5" y="676.2" width="28.2" height="14.1" fill="url(#hpB)" stroke="#1fbe9f" stroke-width="1.1"/>
<path d="M45.5,688.8 L49.4,688.5 L53.3,688.2 L57.1,687.8 L61,687.3 L64.9,686.8 L68.8,686.3 L72.7,685.6 L76.5,684.9 L80.4,684.1 L84.3,683.2 L88.2,682.3 L92.1,681.2 L96,680 L99.8,678.8 L103.7,677.4 L107.6,675.9 L111.5,674.4 L115.4,672.8 L119.2,671 L123.1,669.3 L127,667.4 L130.9,665.5 L134.8,663.5 L138.6,661.6 L142.5,659.6 L146.4,657.6 L150.3,655.7 L154.2,653.8 L158.1,652 L161.9,650.3 L165.8,648.7 L169.7,647.2 L173.6,645.9 L177.5,644.7 L181.3,643.7 L185.2,642.9 L189.1,642.3 L193,641.9 L196.9,641.8 L200.8,641.8 L204.6,642.1 L208.5,642.6 L212.4,643.3 L216.3,644.1 L220.2,645.2 L224,646.5 L227.9,647.9 L231.8,649.4 L235.7,651.1 L239.6,652.8 L243.4,654.7 L247.3,656.6 L251.2,658.5 L255.1,660.5 L259,662.5 L262.9,664.4 L266.7,666.4 L270.6,668.2 L274.5,670.1 L278.4,671.8 L282.3,673.5 L286.1,675.1 L290,676.6 L293.9,678 L297.8,679.3 L301.7,680.6 L305.5,681.7 L309.4,682.7 L313.3,683.7 L317.2,684.5 L321.1,685.3 L324.9,685.9 L328.8,686.5 L332.7,687.1 L336.6,687.6 L340.5,688 L344.4,688.3 L348.2,688.6 L352.1,688.9 L356,689.1" fill="none" stroke="#1fbe9f" stroke-width="1.4"/>
<rect x="45.5" y="614.8" width="310.5" height="75.5" fill="none" stroke="#000" stroke-width="1.3"/>
<line x1="45.5" y1="690.3" x2="45.5" y2="687.3" stroke="#000" stroke-width="1.1" />
<text x="45.5" y="704.9" font-size="12.2" text-anchor="middle" fill="#000" >0.4</text>
<line x1="102" y1="690.3" x2="102" y2="687.3" stroke="#000" stroke-width="1.1" />
<text x="102" y="704.9" font-size="12.2" text-anchor="middle" fill="#000" >0.6</text>
<line x1="158.4" y1="690.3" x2="158.4" y2="687.3" stroke="#000" stroke-width="1.1" />
<text x="158.4" y="704.9" font-size="12.2" text-anchor="middle" fill="#000" >0.8</text>
<line x1="214.9" y1="690.3" x2="214.9" y2="687.3" stroke="#000" stroke-width="1.1" />
<text x="214.9" y="704.9" font-size="12.2" text-anchor="middle" fill="#000" >1.0</text>
<line x1="271.3" y1="690.3" x2="271.3" y2="687.3" stroke="#000" stroke-width="1.1" />
<text x="271.3" y="704.9" font-size="12.2" text-anchor="middle" fill="#000" >1.2</text>
<line x1="327.8" y1="690.3" x2="327.8" y2="687.3" stroke="#000" stroke-width="1.1" />
<text x="327.8" y="704.9" font-size="12.2" text-anchor="middle" fill="#000" >1.4</text>
<line x1="45.5" y1="690.3" x2="48.5" y2="690.3" stroke="#000" stroke-width="1.1" />
<text x="43.7" y="694.7" font-size="12.2" text-anchor="end" fill="#000" >0</text>
<line x1="45.5" y1="666.9" x2="48.5" y2="666.9" stroke="#000" stroke-width="1.1" />
<text x="43.7" y="671.3" font-size="12.2" text-anchor="end" fill="#000" >5</text>
<line x1="45.5" y1="643.4" x2="48.5" y2="643.4" stroke="#000" stroke-width="1.1" />
<text x="43.7" y="647.8" font-size="12.2" text-anchor="end" fill="#000" >10</text>
<line x1="45.5" y1="620" x2="48.5" y2="620" stroke="#000" stroke-width="1.1" />
<text x="43.7" y="624.4" font-size="12.2" text-anchor="end" fill="#000" >15</text>
<line x1="45.5" y1="678.6" x2="47.5" y2="678.6" stroke="#000" stroke-width="0.9" />
<line x1="45.5" y1="655.1" x2="47.5" y2="655.1" stroke="#000" stroke-width="0.9" />
<line x1="45.5" y1="631.7" x2="47.5" y2="631.7" stroke="#000" stroke-width="0.9" />
<text x="199.2" y="716" font-size="12.6" text-anchor="middle" fill="#000" >Partical size (nm)</text>
<text transform="translate(31.5,656.5) rotate(-90)" font-size="12.6" text-anchor="middle">Count</text>
<text x="350.5" y="626.4" font-size="12.6" text-anchor="end" fill="#1fbe9f" >Average grain size = 0.94 µm</text>
<defs><pattern id="hpD" width="3" height="3" patternUnits="userSpaceOnUse" patternTransform="rotate(45)"><rect width="3" height="3" fill="#fff"/><path d="M0,0H3M0,0V3" stroke="#ff1a94" stroke-width="1.05"/></pattern></defs>
<rect x="667.8" y="682.9" width="22.2" height="7.4" fill="url(#hpD)" stroke="#ff1a94" stroke-width="1.1"/>
<rect x="690" y="682.9" width="22.2" height="7.4" fill="url(#hpD)" stroke="#ff1a94" stroke-width="1.1"/>
<rect x="712.2" y="668" width="22.2" height="22.3" fill="url(#hpD)" stroke="#ff1a94" stroke-width="1.1"/>
<rect x="734.4" y="653.2" width="22.2" height="37.1" fill="url(#hpD)" stroke="#ff1a94" stroke-width="1.1"/>
<rect x="756.6" y="653.2" width="22.2" height="37.1" fill="url(#hpD)" stroke="#ff1a94" stroke-width="1.1"/>
<rect x="778.8" y="653.2" width="22.2" height="37.1" fill="url(#hpD)" stroke="#ff1a94" stroke-width="1.1"/>
<rect x="801" y="630.9" width="22.2" height="59.4" fill="url(#hpD)" stroke="#ff1a94" stroke-width="1.1"/>
<rect x="823.2" y="660.6" width="22.2" height="29.7" fill="url(#hpD)" stroke="#ff1a94" stroke-width="1.1"/>
<rect x="845.4" y="668" width="22.2" height="22.3" fill="url(#hpD)" stroke="#ff1a94" stroke-width="1.1"/>
<rect x="867.6" y="675.5" width="22.2" height="14.8" fill="url(#hpD)" stroke="#ff1a94" stroke-width="1.1"/>
<rect x="889.8" y="660.6" width="22.2" height="29.7" fill="url(#hpD)" stroke="#ff1a94" stroke-width="1.1"/>
<rect x="912" y="682.9" width="22.2" height="7.4" fill="url(#hpD)" stroke="#ff1a94" stroke-width="1.1"/>
<path d="M645.6,688.7 L649.5,688.4 L653.4,688.1 L657.3,687.7 L661.1,687.3 L665,686.8 L668.9,686.2 L672.8,685.6 L676.7,684.9 L680.6,684.2 L684.5,683.4 L688.3,682.4 L692.2,681.4 L696.1,680.4 L700,679.2 L703.9,677.9 L707.8,676.6 L711.6,675.2 L715.5,673.7 L719.4,672.1 L723.3,670.4 L727.2,668.7 L731.1,667 L735,665.2 L738.8,663.4 L742.7,661.6 L746.6,659.8 L750.5,658 L754.4,656.3 L758.3,654.6 L762.1,653 L766,651.5 L769.9,650.1 L773.8,648.8 L777.7,647.6 L781.6,646.6 L785.5,645.8 L789.3,645.2 L793.2,644.7 L797.1,644.4 L801,644.3 L804.9,644.4 L808.8,644.7 L812.7,645.2 L816.5,645.8 L820.4,646.6 L824.3,647.6 L828.2,648.8 L832.1,650.1 L836,651.5 L839.9,653 L843.7,654.6 L847.6,656.3 L851.5,658 L855.4,659.8 L859.3,661.6 L863.2,663.4 L867,665.2 L870.9,667 L874.8,668.7 L878.7,670.4 L882.6,672.1 L886.5,673.7 L890.4,675.2 L894.2,676.6 L898.1,677.9 L902,679.2 L905.9,680.4 L909.8,681.4 L913.7,682.4 L917.5,683.4 L921.4,684.2 L925.3,684.9 L929.2,685.6 L933.1,686.2 L937,686.8 L940.9,687.3 L944.7,687.7 L948.6,688.1 L952.5,688.4 L956.4,688.7" fill="none" stroke="#ff1a94" stroke-width="1.4"/>
<rect x="645.6" y="616.1" width="310.8" height="74.2" fill="none" stroke="#000" stroke-width="1.3"/>
<line x1="667.8" y1="690.3" x2="667.8" y2="687.3" stroke="#000" stroke-width="1.1" />
<text x="667.8" y="704.9" font-size="12.2" text-anchor="middle" fill="#000" >0.6</text>
<line x1="712.2" y1="690.3" x2="712.2" y2="687.3" stroke="#000" stroke-width="1.1" />
<text x="712.2" y="704.9" font-size="12.2" text-anchor="middle" fill="#000" >0.8</text>
<line x1="756.6" y1="690.3" x2="756.6" y2="687.3" stroke="#000" stroke-width="1.1" />
<text x="756.6" y="704.9" font-size="12.2" text-anchor="middle" fill="#000" >1.0</text>
<line x1="801" y1="690.3" x2="801" y2="687.3" stroke="#000" stroke-width="1.1" />
<text x="801" y="704.9" font-size="12.2" text-anchor="middle" fill="#000" >1.2</text>
<line x1="845.4" y1="690.3" x2="845.4" y2="687.3" stroke="#000" stroke-width="1.1" />
<text x="845.4" y="704.9" font-size="12.2" text-anchor="middle" fill="#000" >1.4</text>
<line x1="889.8" y1="690.3" x2="889.8" y2="687.3" stroke="#000" stroke-width="1.1" />
<text x="889.8" y="704.9" font-size="12.2" text-anchor="middle" fill="#000" >1.6</text>
<line x1="934.2" y1="690.3" x2="934.2" y2="687.3" stroke="#000" stroke-width="1.1" />
<text x="934.2" y="704.9" font-size="12.2" text-anchor="middle" fill="#000" >1.8</text>
<line x1="645.6" y1="690.3" x2="648.6" y2="690.3" stroke="#000" stroke-width="1.1" />
<text x="643.8" y="694.7" font-size="12.2" text-anchor="end" fill="#000" >0</text>
<line x1="645.6" y1="675.5" x2="648.6" y2="675.5" stroke="#000" stroke-width="1.1" />
<text x="643.8" y="679.9" font-size="12.2" text-anchor="end" fill="#000" >2</text>
<line x1="645.6" y1="660.6" x2="648.6" y2="660.6" stroke="#000" stroke-width="1.1" />
<text x="643.8" y="665" font-size="12.2" text-anchor="end" fill="#000" >4</text>
<line x1="645.6" y1="645.8" x2="648.6" y2="645.8" stroke="#000" stroke-width="1.1" />
<text x="643.8" y="650.2" font-size="12.2" text-anchor="end" fill="#000" >6</text>
<line x1="645.6" y1="630.9" x2="648.6" y2="630.9" stroke="#000" stroke-width="1.1" />
<text x="643.8" y="635.3" font-size="12.2" text-anchor="end" fill="#000" >8</text>
<line x1="645.6" y1="616.1" x2="648.6" y2="616.1" stroke="#000" stroke-width="1.1" />
<text x="643.8" y="620.5" font-size="12.2" text-anchor="end" fill="#000" >10</text>
<line x1="645.6" y1="682.9" x2="647.6" y2="682.9" stroke="#000" stroke-width="0.9" />
<line x1="645.6" y1="668" x2="647.6" y2="668" stroke="#000" stroke-width="0.9" />
<line x1="645.6" y1="653.2" x2="647.6" y2="653.2" stroke="#000" stroke-width="0.9" />
<line x1="645.6" y1="638.4" x2="647.6" y2="638.4" stroke="#000" stroke-width="0.9" />
<line x1="645.6" y1="623.5" x2="647.6" y2="623.5" stroke="#000" stroke-width="0.9" />
<text x="804.5" y="716" font-size="12.6" text-anchor="middle" fill="#000" >Partical size (nm)</text>
<text transform="translate(632,657.2) rotate(-90)" font-size="12.6" text-anchor="middle">Count</text>
<text x="948.2" y="626.4" font-size="12.6" text-anchor="end" fill="#ff1a94" >Average grain size = 1.2 µm</text>
<path d="M393.1,690.1 L393.1,689.8 L393.9,689.8 L394.7,689.8 L395.5,689.8 L396.3,689.8 L397.1,689.8 L397.9,689.8 L398.7,689.8 L399.5,689.8 L400.3,689.8 L401.1,689.8 L401.9,689.8 L402.7,689.8 L403.5,689.8 L404.3,689.8 L405.1,689.8 L405.9,689.8 L406.7,689.8 L407.5,689.8 L408.3,689.8 L409.1,689.8 L409.9,689.8 L410.7,689.8 L411.5,689.8 L412.3,689.8 L413.1,689.8 L413.9,689.8 L414.8,689.8 L415.6,689.8 L416.4,689.8 L417.2,689.8 L418.0,689.8 L418.8,689.8 L419.6,689.8 L420.4,689.8 L421.2,689.8 L422.0,689.8 L422.8,689.8 L423.6,689.8 L424.4,689.8 L425.2,689.8 L426.0,689.8 L426.8,689.8 L427.6,689.8 L428.4,689.8 L429.2,689.8 L430.0,689.8 L430.8,689.8 L431.6,689.8 L432.4,689.8 L433.2,689.8 L434.0,689.8 L434.8,689.8 L435.6,689.8 L436.4,689.8 L437.2,689.8 L438.0,689.8 L438.8,689.8 L439.6,689.8 L440.4,689.8 L441.2,689.8 L442.0,689.8 L442.8,689.8 L443.6,689.8 L444.4,689.8 L445.2,689.8 L446.0,689.8 L446.8,689.8 L447.6,689.8 L448.4,689.8 L449.2,689.8 L450.0,689.8 L450.8,689.8 L451.6,689.8 L452.4,689.8 L453.2,689.8 L454.0,689.8 L454.8,689.8 L455.6,689.8 L456.4,689.8 L457.2,689.8 L458.1,689.8 L458.9,689.8 L459.7,689.8 L460.5,689.8 L461.3,689.8 L462.1,689.8 L462.9,689.8 L463.7,689.8 L464.5,689.8 L465.3,689.8 L466.1,689.8 L466.9,689.8 L467.7,689.8 L468.5,689.8 L469.3,689.8 L470.1,689.8 L470.9,689.7 L471.7,689.7 L472.5,689.6 L473.3,689.4 L474.1,689.3 L474.9,689.1 L475.7,689.0 L476.5,688.7 L477.3,688.4 L478.1,688.2 L478.9,687.9 L479.7,687.6 L480.5,686.9 L481.3,686.8 L482.1,686.1 L482.9,685.2 L483.7,685.0 L484.5,683.8 L485.3,682.7 L486.1,682.1 L486.9,680.8 L487.7,680.5 L488.5,678.8 L489.3,677.9 L490.1,675.3 L490.9,674.7 L491.7,672.8 L492.5,669.7 L493.3,668.1 L494.1,665.6 L494.9,665.0 L495.7,662.7 L496.5,659.5 L497.3,658.0 L498.1,656.4 L498.9,653.5 L499.7,652.2 L500.6,648.6 L501.4,642.8 L502.2,640.3 L503.0,639.6 L503.8,637.9 L504.6,636.6 L505.4,636.1 L506.2,632.8 L507.0,627.1 L507.8,624.5 L508.6,626.7 L509.4,621.8 L510.2,620.6 L511.0,620.2 L511.8,619.6 L512.6,618.2 L513.4,621.2 L514.2,618.2 L515.0,622.1 L515.8,621.1 L516.6,620.1 L517.4,622.5 L518.2,627.6 L519.0,625.2 L519.8,630.2 L520.6,633.8 L521.4,640.6 L522.2,640.7 L523.0,645.8 L523.8,647.1 L524.6,651.7 L525.4,653.7 L526.2,657.8 L527.0,660.6 L527.8,665.2 L528.6,667.3 L529.4,669.8 L530.2,672.2 L531.0,675.5 L531.8,676.7 L532.6,678.6 L533.4,680.6 L534.2,681.8 L535.0,683.2 L535.8,684.6 L536.6,685.6 L537.4,686.5 L538.2,687.0 L539.0,687.5 L539.8,688.1 L540.6,688.5 L541.4,688.8 L542.2,689.1 L543.1,689.4 L543.9,689.5 L544.7,689.6 L545.5,689.7 L546.3,689.8 L547.1,689.8 L547.9,689.8 L548.7,689.8 L549.5,689.8 L550.3,689.8 L551.1,689.8 L551.9,689.8 L552.7,689.8 L553.5,689.8 L554.3,689.8 L555.1,689.8 L555.9,689.8 L556.7,689.8 L557.5,689.8 L558.3,689.8 L559.1,689.8 L559.9,689.8 L560.7,689.8 L561.5,689.8 L562.3,689.8 L563.1,689.8 L563.9,689.8 L564.7,689.8 L565.5,689.8 L566.3,689.8 L567.1,689.8 L567.9,689.8 L568.7,689.8 L569.5,689.8 L570.3,689.8 L571.1,689.8 L571.9,689.8 L572.7,689.8 L573.5,689.8 L574.3,689.8 L575.1,689.8 L575.9,689.8 L576.7,689.8 L577.5,689.8 L578.3,689.8 L579.1,689.8 L579.9,689.8 L580.7,689.8 L581.5,689.8 L582.3,689.8 L583.1,689.8 L583.9,689.8 L584.7,689.8 L585.5,689.8 L586.4,689.8 L587.2,689.8 L588.0,689.8 L588.8,689.8 L589.6,689.8 L590.4,689.8 L591.2,689.8 L592.0,689.8 L592.8,689.8 L593.6,689.8 L594.4,689.8 L595.2,689.8 L596.0,689.8 L596.8,689.8 L597.6,689.8 L598.4,689.8 L599.2,689.8 L600.0,689.8 L600.8,689.8 L601.6,689.8 L602.4,689.8 L603.2,689.8 L604.0,689.8 L604.8,689.8 L605.6,689.8 L606.4,689.8 L607.2,689.8 L607.2,690.1 Z" fill="#1fbe9f"/>
<rect x="393.1" y="614.9" width="214.1" height="75.2" fill="none" stroke="#000" stroke-width="1.3"/>
<line x1="393.1" y1="690.1" x2="393.1" y2="687.1" stroke="#000" stroke-width="1.1" />
<text x="395.1" y="702.8" font-size="12.4" text-anchor="middle" fill="#000" >-400</text>
<line x1="446.6" y1="690.1" x2="446.6" y2="687.1" stroke="#000" stroke-width="1.1" />
<text x="446.6" y="702.8" font-size="12.4" text-anchor="middle" fill="#000" >-350</text>
<line x1="500.2" y1="690.1" x2="500.2" y2="687.1" stroke="#000" stroke-width="1.1" />
<text x="500.2" y="702.8" font-size="12.4" text-anchor="middle" fill="#000" >-300</text>
<line x1="553.7" y1="690.1" x2="553.7" y2="687.1" stroke="#000" stroke-width="1.1" />
<text x="553.7" y="702.8" font-size="12.4" text-anchor="middle" fill="#000" >-250</text>
<line x1="607.2" y1="690.1" x2="607.2" y2="687.1" stroke="#000" stroke-width="1.1" />
<text x="607.2" y="702.8" font-size="12.4" text-anchor="middle" fill="#000" >-200</text>
<line x1="419.9" y1="690.1" x2="419.9" y2="688.1" stroke="#000" stroke-width="0.9" />
<line x1="473.4" y1="690.1" x2="473.4" y2="688.1" stroke="#000" stroke-width="0.9" />
<line x1="526.9" y1="690.1" x2="526.9" y2="688.1" stroke="#000" stroke-width="0.9" />
<line x1="580.4" y1="690.1" x2="580.4" y2="688.1" stroke="#000" stroke-width="0.9" />
<line x1="393.1" y1="690.1" x2="396.1" y2="690.1" stroke="#000" stroke-width="1.1" />
<text x="391.9" y="693.1" font-size="12.4" text-anchor="end" fill="#000" >0.0</text>
<line x1="393.1" y1="665" x2="396.1" y2="665" stroke="#000" stroke-width="1.1" />
<text x="391.9" y="669.4" font-size="12.4" text-anchor="end" fill="#000" >0.4</text>
<line x1="393.1" y1="640" x2="396.1" y2="640" stroke="#000" stroke-width="1.1" />
<text x="391.9" y="644.4" font-size="12.4" text-anchor="end" fill="#000" >0.8</text>
<line x1="393.1" y1="614.9" x2="396.1" y2="614.9" stroke="#000" stroke-width="1.1" />
<text x="391.9" y="620.9" font-size="12.4" text-anchor="end" fill="#000" >1.2</text>
<line x1="393.1" y1="677.6" x2="395.1" y2="677.6" stroke="#000" stroke-width="0.9" />
<line x1="393.1" y1="652.5" x2="395.1" y2="652.5" stroke="#000" stroke-width="0.9" />
<line x1="393.1" y1="627.4" x2="395.1" y2="627.4" stroke="#000" stroke-width="0.9" />
<text x="501.5" y="716.3" font-size="12.8" text-anchor="middle" fill="#000" >CPD variation (mV)</text>
<text transform="translate(372.5,652.5) rotate(-90)" font-size="12.8" text-anchor="middle">Counts (%)</text>
<text x="604.2" y="629.1" font-size="15.2" text-anchor="end" fill="#1fbe9f" >-287 mV</text>
<path d="M996.0,690.6 L996.0,690.3 L996.8,690.3 L997.6,690.3 L998.4,690.3 L999.2,690.3 L1000.0,690.3 L1000.8,690.3 L1001.6,690.3 L1002.4,690.3 L1003.2,690.3 L1004.0,690.3 L1004.8,690.3 L1005.6,690.3 L1006.4,690.3 L1007.2,690.3 L1008.0,690.3 L1008.8,690.3 L1009.6,690.3 L1010.4,690.3 L1011.2,690.3 L1012.0,690.3 L1012.8,690.3 L1013.6,690.3 L1014.4,690.3 L1015.2,690.3 L1016.0,690.3 L1016.8,690.3 L1017.6,690.3 L1018.4,690.3 L1019.2,690.3 L1020.0,690.3 L1020.8,690.3 L1021.6,690.3 L1022.4,690.3 L1023.2,690.3 L1024.0,690.3 L1024.8,690.3 L1025.6,690.3 L1026.4,690.3 L1027.2,690.3 L1028.0,690.3 L1028.8,690.3 L1029.6,690.3 L1030.4,690.3 L1031.2,690.3 L1032.0,690.3 L1032.8,690.3 L1033.6,690.3 L1034.4,690.3 L1035.2,690.3 L1036.0,690.3 L1036.8,690.3 L1037.6,690.3 L1038.4,690.3 L1039.2,690.3 L1040.0,690.3 L1040.8,690.3 L1041.6,690.3 L1042.4,690.3 L1043.2,690.3 L1044.0,690.3 L1044.8,690.3 L1045.6,690.3 L1046.4,690.3 L1047.2,690.3 L1048.0,690.3 L1048.8,690.3 L1049.6,690.2 L1050.4,690.2 L1051.2,690.1 L1052.0,690.0 L1052.8,689.9 L1053.6,689.8 L1054.4,689.7 L1055.2,689.5 L1056.0,689.3 L1056.8,689.0 L1057.6,688.9 L1058.4,688.4 L1059.2,688.1 L1060.0,687.8 L1060.8,687.3 L1061.6,687.0 L1062.4,686.3 L1063.2,685.9 L1064.0,685.5 L1064.8,685.0 L1065.6,684.4 L1066.4,684.1 L1067.2,684.0 L1068.0,683.0 L1068.8,683.1 L1069.6,682.6 L1070.4,682.0 L1071.2,682.4 L1072.0,682.4 L1072.8,682.1 L1073.6,681.4 L1074.4,681.5 L1075.2,681.5 L1076.0,681.1 L1076.8,680.4 L1077.6,681.0 L1078.4,680.7 L1079.2,680.0 L1080.0,680.2 L1080.8,680.5 L1081.6,680.1 L1082.4,679.9 L1083.2,680.2 L1084.0,679.7 L1084.8,679.6 L1085.6,678.7 L1086.4,679.1 L1087.2,678.3 L1088.0,677.5 L1088.8,677.2 L1089.6,677.5 L1090.4,676.6 L1091.2,676.4 L1092.0,675.5 L1092.8,674.4 L1093.6,672.6 L1094.4,670.9 L1095.2,670.8 L1096.0,669.9 L1096.8,666.8 L1097.6,665.8 L1098.4,663.6 L1099.2,658.4 L1100.0,658.3 L1100.8,653.0 L1101.6,651.9 L1102.4,646.3 L1103.3,644.0 L1104.1,646.1 L1104.9,643.4 L1105.7,637.2 L1106.5,638.0 L1107.3,638.6 L1108.1,636.2 L1108.9,636.6 L1109.7,639.9 L1110.5,642.1 L1111.3,646.8 L1112.1,648.3 L1112.9,652.6 L1113.7,653.7 L1114.5,657.1 L1115.3,661.8 L1116.1,662.7 L1116.9,666.5 L1117.7,668.0 L1118.5,667.6 L1119.3,668.8 L1120.1,667.8 L1120.9,668.4 L1121.7,667.8 L1122.5,668.9 L1123.3,666.5 L1124.1,668.3 L1124.9,666.7 L1125.7,666.2 L1126.5,666.8 L1127.3,667.6 L1128.1,669.6 L1128.9,670.1 L1129.7,671.0 L1130.5,673.7 L1131.3,673.5 L1132.1,675.0 L1132.9,677.3 L1133.7,678.2 L1134.5,680.1 L1135.3,681.6 L1136.1,682.4 L1136.9,684.1 L1137.7,684.5 L1138.5,685.4 L1139.3,686.6 L1140.1,687.1 L1140.9,688.0 L1141.7,688.3 L1142.5,688.9 L1143.3,689.1 L1144.1,689.5 L1144.9,689.7 L1145.7,690.0 L1146.5,690.1 L1147.3,690.2 L1148.1,690.3 L1148.9,690.3 L1149.7,690.3 L1150.5,690.3 L1151.3,690.3 L1152.1,690.3 L1152.9,690.3 L1153.7,690.3 L1154.5,690.3 L1155.3,690.3 L1156.1,690.3 L1156.9,690.3 L1157.7,690.3 L1158.5,690.3 L1159.3,690.3 L1160.1,690.3 L1160.9,690.3 L1161.7,690.3 L1162.5,690.3 L1163.3,690.3 L1164.1,690.3 L1164.9,690.3 L1165.7,690.3 L1166.5,690.3 L1167.3,690.3 L1168.1,690.3 L1168.9,690.3 L1169.7,690.3 L1170.5,690.3 L1171.3,690.3 L1172.1,690.3 L1172.9,690.3 L1173.7,690.3 L1174.5,690.3 L1175.3,690.3 L1176.1,690.3 L1176.9,690.3 L1177.7,690.3 L1178.5,690.3 L1179.3,690.3 L1180.1,690.3 L1180.9,690.3 L1181.7,690.3 L1182.5,690.3 L1183.3,690.3 L1184.1,690.3 L1184.9,690.3 L1185.7,690.3 L1186.5,690.3 L1187.3,690.3 L1188.1,690.3 L1188.9,690.3 L1189.7,690.3 L1190.5,690.3 L1191.3,690.3 L1192.1,690.3 L1192.9,690.3 L1193.7,690.3 L1194.5,690.3 L1195.3,690.3 L1196.1,690.3 L1196.9,690.3 L1197.7,690.3 L1198.5,690.3 L1199.3,690.3 L1200.1,690.3 L1200.9,690.3 L1201.7,690.3 L1202.5,690.3 L1203.3,690.3 L1204.1,690.3 L1204.9,690.3 L1205.7,690.3 L1206.5,690.3 L1207.3,690.3 L1208.1,690.3 L1208.9,690.3 L1209.7,690.3 L1209.7,690.6 Z" fill="#ff1a94"/>
<rect x="996" y="615.3" width="213.7" height="75.3" fill="none" stroke="#000" stroke-width="1.3"/>
<line x1="996" y1="690.6" x2="996" y2="687.6" stroke="#000" stroke-width="1.1" />
<text x="998" y="703.3" font-size="12.4" text-anchor="middle" fill="#000" >-500</text>
<line x1="1038.7" y1="690.6" x2="1038.7" y2="687.6" stroke="#000" stroke-width="1.1" />
<text x="1038.7" y="703.3" font-size="12.4" text-anchor="middle" fill="#000" >-450</text>
<line x1="1081.5" y1="690.6" x2="1081.5" y2="687.6" stroke="#000" stroke-width="1.1" />
<text x="1081.5" y="703.3" font-size="12.4" text-anchor="middle" fill="#000" >-400</text>
<line x1="1124.2" y1="690.6" x2="1124.2" y2="687.6" stroke="#000" stroke-width="1.1" />
<text x="1124.2" y="703.3" font-size="12.4" text-anchor="middle" fill="#000" >-350</text>
<line x1="1167" y1="690.6" x2="1167" y2="687.6" stroke="#000" stroke-width="1.1" />
<text x="1167" y="703.3" font-size="12.4" text-anchor="middle" fill="#000" >-300</text>
<line x1="1209.7" y1="690.6" x2="1209.7" y2="687.6" stroke="#000" stroke-width="1.1" />
<text x="1206.7" y="703.3" font-size="12.4" text-anchor="middle" fill="#000" >-250</text>
<line x1="1017.4" y1="690.6" x2="1017.4" y2="688.6" stroke="#000" stroke-width="0.9" />
<line x1="1060.1" y1="690.6" x2="1060.1" y2="688.6" stroke="#000" stroke-width="0.9" />
<line x1="1102.8" y1="690.6" x2="1102.8" y2="688.6" stroke="#000" stroke-width="0.9" />
<line x1="1145.6" y1="690.6" x2="1145.6" y2="688.6" stroke="#000" stroke-width="0.9" />
<line x1="1188.3" y1="690.6" x2="1188.3" y2="688.6" stroke="#000" stroke-width="0.9" />
<line x1="996" y1="690.6" x2="999" y2="690.6" stroke="#000" stroke-width="1.1" />
<text x="994.8" y="693.6" font-size="12.4" text-anchor="end" fill="#000" >0.0</text>
<line x1="996" y1="665.5" x2="999" y2="665.5" stroke="#000" stroke-width="1.1" />
<text x="994.8" y="669.9" font-size="12.4" text-anchor="end" fill="#000" >0.4</text>
<line x1="996" y1="640.4" x2="999" y2="640.4" stroke="#000" stroke-width="1.1" />
<text x="994.8" y="644.8" font-size="12.4" text-anchor="end" fill="#000" >0.8</text>
<line x1="996" y1="615.3" x2="999" y2="615.3" stroke="#000" stroke-width="1.1" />
<text x="994.8" y="621.3" font-size="12.4" text-anchor="end" fill="#000" >1.2</text>
<line x1="996" y1="678" x2="998" y2="678" stroke="#000" stroke-width="0.9" />
<line x1="996" y1="653" x2="998" y2="653" stroke="#000" stroke-width="0.9" />
<line x1="996" y1="627.8" x2="998" y2="627.8" stroke="#000" stroke-width="0.9" />
<text x="1103" y="716.8" font-size="12.8" text-anchor="middle" fill="#000" >CPD variation (mV)</text>
<text transform="translate(973.5,653) rotate(-90)" font-size="12.8" text-anchor="middle">Counts (%)</text>
<text x="1206.5" y="629.5" font-size="15.2" text-anchor="end" fill="#ff1a94" >-368 mV</text>
</g>
<g id="heat">
<defs><linearGradient id="hcb" x1="0" y1="0" x2="0" y2="1">
<stop offset="0" stop-color="#8a0000"/><stop offset="0.012" stop-color="#e00808"/><stop offset="0.08" stop-color="#ff1020"/><stop offset="0.2" stop-color="#ff3c92"/><stop offset="0.28" stop-color="#f256c0"/>
<stop offset="0.36" stop-color="#a050c8"/><stop offset="0.43" stop-color="#4a50b8"/><stop offset="0.5" stop-color="#0f47b0"/><stop offset="0.58" stop-color="#2f72cc"/><stop offset="0.66" stop-color="#7fa9e3"/>
<stop offset="0.72" stop-color="#dfeaff"/><stop offset="0.755" stop-color="#ffffff"/><stop offset="0.8" stop-color="#fff3e0"/><stop offset="0.88" stop-color="#ffdfb2"/><stop offset="0.95" stop-color="#ffcc84"/><stop offset="1" stop-color="#ffab3c"/></linearGradient>
<linearGradient id="hcb2" x1="0" y1="0" x2="0" y2="1">
<stop offset="0" stop-color="#e81010"/><stop offset="0.1" stop-color="#ff2c5c"/><stop offset="0.2" stop-color="#ff5cc0"/><stop offset="0.28" stop-color="#f07ef0"/><stop offset="0.36" stop-color="#b080ff"/><stop offset="0.43" stop-color="#5080ff"/>
<stop offset="0.5" stop-color="#1878f0"/><stop offset="0.58" stop-color="#3c98f4"/><stop offset="0.65" stop-color="#90c8fa"/><stop offset="0.71" stop-color="#e8f4ff"/><stop offset="0.745" stop-color="#ffffff"/><stop offset="0.8" stop-color="#fff0e0"/>
<stop offset="0.88" stop-color="#fdd4a8"/><stop offset="0.95" stop-color="#fcb070"/><stop offset="1" stop-color="#fa8a1c"/></linearGradient></defs>
<defs><clipPath id="hcF"><rect x="78.6" y="730.6" width="201.6" height="224"/></clipPath>
<filter id="hbF" x="-20%" y="-100%" width="140%" height="300%"><feGaussianBlur stdDeviation="3.2 1.5"/></filter>
<filter id="hsF" x="-20%" y="-100%" width="140%" height="300%"><feGaussianBlur stdDeviation="6 2.4"/></filter>
</defs>
<rect x="78.6" y="730.6" width="201.6" height="224" fill="#fdc878"/>
<g clip-path="url(#hcF)">
<g filter="url(#hsF)"><ellipse cx="168.8" cy="784.7" rx="96" ry="3.6" fill="#ffffff" opacity="1.0"/></g>
<g filter="url(#hsF)"><ellipse cx="128.3" cy="784.7" rx="50.5" ry="3.2" fill="#ffffff" opacity="0.9"/></g>
<g filter="url(#hbF)"><ellipse cx="163.7" cy="784.7" rx="82.9" ry="3.4" fill="#ffffff" opacity="1.0"/></g>
<path d="M140.5,784.7 C170.8,783.9 179.9,781.4 201.1,781.4 C218.3,781.4 235.5,782.8 235.5,784.7 C235.5,786.7 218.3,788 201.1,788 C179.9,788 170.8,785.6 140.5,784.7 Z" fill="#2f6fd0" opacity="0.95" filter="url(#hbF)"/>
<path d="M166.8,784.7 C185,784.2 190.4,782.4 203.2,782.4 C216.3,782.4 229.4,783.4 229.4,784.7 C229.4,786.1 216.3,787 203.2,787 C190.4,787 185,785.3 166.8,784.7 Z" fill="#0f45b0" opacity="0.95" filter="url(#hbF)"/>
<g filter="url(#hsF)"><ellipse cx="268.9" cy="784.7" rx="16.2" ry="2.6" fill="#fbb252" opacity="1.0"/></g>
<g filter="url(#hsF)"><ellipse cx="158.7" cy="846.3" rx="75.8" ry="3.6" fill="#fff0d8" opacity="0.75"/></g>
<g filter="url(#hsF)"><ellipse cx="192" cy="846.3" rx="32.4" ry="2.6" fill="#fff8ec" opacity="0.9"/></g>
<g filter="url(#hsF)"><ellipse cx="168.8" cy="902.3" rx="80.9" ry="3.6" fill="#fff0d8" opacity="0.75"/></g>
<g filter="url(#hsF)"><ellipse cx="199.1" cy="902.3" rx="32.4" ry="2.6" fill="#fff8ec" opacity="0.9"/></g>
<g filter="url(#hsF)"><ellipse cx="158.7" cy="823.9" rx="70.8" ry="3.5" fill="#fff0d8" opacity="0.35"/></g>
<g filter="url(#hsF)"><ellipse cx="168.8" cy="866.9" rx="75.8" ry="3.2" fill="#fff0d8" opacity="0.45"/></g>
<g filter="url(#hsF)"><ellipse cx="168.8" cy="879.9" rx="70.8" ry="3" fill="#fff0d8" opacity="0.3"/></g>
<g filter="url(#hsF)"><ellipse cx="267.9" cy="846.3" rx="10.1" ry="3" fill="#fbbd66" opacity="0.8"/></g>
</g>
<line x1="202.3" y1="781.5" x2="202.3" y2="954.6" stroke="#fff" stroke-width="1.5" stroke-dasharray="4.2 2.6"/>
<rect x="78.6" y="730.6" width="201.6" height="224" fill="none" stroke="#000" stroke-width="1.5"/>
<line x1="78.6" y1="954.6" x2="82.6" y2="954.6" stroke="#000" stroke-width="1.3" />
<text x="73.6" y="959.6" font-size="14.0" text-anchor="end" fill="#000" >800</text>
<line x1="78.6" y1="935.9" x2="81" y2="935.9" stroke="#000" stroke-width="1.1" />
<line x1="78.6" y1="917.3" x2="82.6" y2="917.3" stroke="#000" stroke-width="1.3" />
<text x="73.6" y="922.3" font-size="14.0" text-anchor="end" fill="#000" >1000</text>
<line x1="78.6" y1="898.6" x2="81" y2="898.6" stroke="#000" stroke-width="1.1" />
<line x1="78.6" y1="879.9" x2="82.6" y2="879.9" stroke="#000" stroke-width="1.3" />
<text x="73.6" y="884.9" font-size="14.0" text-anchor="end" fill="#000" >1200</text>
<line x1="78.6" y1="861.3" x2="81" y2="861.3" stroke="#000" stroke-width="1.1" />
<line x1="78.6" y1="842.6" x2="82.6" y2="842.6" stroke="#000" stroke-width="1.3" />
<text x="73.6" y="847.6" font-size="14.0" text-anchor="end" fill="#000" >1400</text>
<line x1="78.6" y1="823.9" x2="81" y2="823.9" stroke="#000" stroke-width="1.1" />
<line x1="78.6" y1="805.3" x2="82.6" y2="805.3" stroke="#000" stroke-width="1.3" />
<text x="73.6" y="810.3" font-size="14.0" text-anchor="end" fill="#000" >1600</text>
<line x1="78.6" y1="786.6" x2="81" y2="786.6" stroke="#000" stroke-width="1.1" />
<line x1="78.6" y1="767.9" x2="82.6" y2="767.9" stroke="#000" stroke-width="1.3" />
<text x="73.6" y="772.9" font-size="14.0" text-anchor="end" fill="#000" >1800</text>
<line x1="78.6" y1="749.3" x2="81" y2="749.3" stroke="#000" stroke-width="1.1" />
<line x1="87.9" y1="954.6" x2="87.9" y2="952.2" stroke="#000" stroke-width="1.1" />
<line x1="98" y1="954.6" x2="98" y2="950.6" stroke="#000" stroke-width="1.3" />
<text x="98" y="971.8" font-size="13.6" text-anchor="middle" fill="#000" >2</text>
<line x1="108.1" y1="954.6" x2="108.1" y2="952.2" stroke="#000" stroke-width="1.1" />
<line x1="118.2" y1="954.6" x2="118.2" y2="950.6" stroke="#000" stroke-width="1.3" />
<text x="118.2" y="971.8" font-size="13.6" text-anchor="middle" fill="#000" >4</text>
<line x1="128.3" y1="954.6" x2="128.3" y2="952.2" stroke="#000" stroke-width="1.1" />
<line x1="138.5" y1="954.6" x2="138.5" y2="950.6" stroke="#000" stroke-width="1.3" />
<text x="138.5" y="971.8" font-size="13.6" text-anchor="middle" fill="#000" >6</text>
<line x1="148.6" y1="954.6" x2="148.6" y2="952.2" stroke="#000" stroke-width="1.1" />
<line x1="158.7" y1="954.6" x2="158.7" y2="950.6" stroke="#000" stroke-width="1.3" />
<text x="158.7" y="971.8" font-size="13.6" text-anchor="middle" fill="#000" >8</text>
<line x1="168.8" y1="954.6" x2="168.8" y2="952.2" stroke="#000" stroke-width="1.1" />
<line x1="178.9" y1="954.6" x2="178.9" y2="950.6" stroke="#000" stroke-width="1.3" />
<text x="178.9" y="971.8" font-size="13.6" text-anchor="middle" fill="#000" >10</text>
<line x1="189" y1="954.6" x2="189" y2="952.2" stroke="#000" stroke-width="1.1" />
<line x1="199.1" y1="954.6" x2="199.1" y2="950.6" stroke="#000" stroke-width="1.3" />
<text x="199.1" y="971.8" font-size="13.6" text-anchor="middle" fill="#000" >12</text>
<line x1="209.2" y1="954.6" x2="209.2" y2="952.2" stroke="#000" stroke-width="1.1" />
<line x1="219.3" y1="954.6" x2="219.3" y2="950.6" stroke="#000" stroke-width="1.3" />
<text x="219.3" y="971.8" font-size="13.6" text-anchor="middle" fill="#000" >14</text>
<line x1="229.4" y1="954.6" x2="229.4" y2="952.2" stroke="#000" stroke-width="1.1" />
<line x1="239.6" y1="954.6" x2="239.6" y2="950.6" stroke="#000" stroke-width="1.3" />
<text x="239.6" y="971.8" font-size="13.6" text-anchor="middle" fill="#000" >16</text>
<line x1="249.7" y1="954.6" x2="249.7" y2="952.2" stroke="#000" stroke-width="1.1" />
<line x1="259.8" y1="954.6" x2="259.8" y2="950.6" stroke="#000" stroke-width="1.3" />
<text x="259.8" y="971.8" font-size="13.6" text-anchor="middle" fill="#000" >18</text>
<line x1="269.9" y1="954.6" x2="269.9" y2="952.2" stroke="#000" stroke-width="1.1" />
<text x="183.7" y="984.8" font-size="14.4" text-anchor="middle" fill="#000" >Time (min)</text>
<text transform="translate(37,852) rotate(-90)" font-size="14.4" text-anchor="middle">Wavenumber (cm<tspan font-size="8.5" dy="-5.5">-1</tspan><tspan dy="5.5">)</tspan></text>
<text x="32.1" y="749.6" font-size="26.8" fill="#000" textLength="24.4" lengthAdjust="spacingAndGlyphs">(f)</text>
<text x="275.4" y="749.2" font-size="20.6" text-anchor="end" fill="#000" >Control</text>
<text x="157.7" y="940.6" font-size="20.5" text-anchor="middle" fill="#000" >12.2 min</text>
<rect x="290.8" y="730.6" width="9.2" height="224" fill="url(#hcb)"/>
<defs><clipPath id="hcG"><rect x="360.3" y="730.6" width="201.5" height="223.8"/></clipPath>
<filter id="hbG" x="-20%" y="-100%" width="140%" height="300%"><feGaussianBlur stdDeviation="3.2 1.5"/></filter>
<filter id="hsG" x="-20%" y="-100%" width="140%" height="300%"><feGaussianBlur stdDeviation="6 2.4"/></filter>
</defs>
<rect x="360.3" y="730.6" width="201.5" height="223.8" fill="#fcc987"/>
<g clip-path="url(#hcG)">
<g filter="url(#hsG)"><ellipse cx="419.9" cy="784.7" rx="71.3" ry="4.8" fill="#ffffff" opacity="1.0"/></g>
<g filter="url(#hbG)"><ellipse cx="419.9" cy="784.7" rx="67.3" ry="4.6" fill="#ffffff" opacity="1.0"/></g>
<g filter="url(#hbG)"><ellipse cx="452.5" cy="784.7" rx="36.7" ry="5" fill="#ffffff" opacity="1.0"/></g>
<g filter="url(#hbG)"><ellipse cx="389.4" cy="784.7" rx="32.6" ry="3.4" fill="#ffffff" opacity="1.0"/></g>
<path d="M362.9,784.7 C404.7,783.7 417.2,780.9 446.4,780.9 C463.8,780.9 481.1,782.4 481.1,784.7 C481.1,787 463.8,788.5 446.4,788.5 C417.2,788.5 404.7,785.6 362.9,784.7 Z" fill="#58a4f6" opacity="0.95" filter="url(#hbG)"/>
<path d="M393.4,784.7 C421,783.9 429.2,781.7 448.5,781.7 C462.7,781.7 477,782.9 477,784.7 C477,786.5 462.7,787.7 448.5,787.7 C429.2,787.7 421,785.4 393.4,784.7 Z" fill="#2a78ee" opacity="0.95" filter="url(#hbG)"/>
<path d="M419.9,784.7 C433.2,784.2 437.2,782.7 446.4,782.7 C456.6,782.7 466.8,783.5 466.8,784.7 C466.8,785.9 456.6,786.7 446.4,786.7 C437.2,786.7 433.2,785.2 419.9,784.7 Z" fill="#7a70f0" opacity="0.95" filter="url(#hbG)"/>
<path d="M432.2,784.7 C439.3,784.4 441.4,783.6 446.4,783.6 C452.5,783.6 458.7,784 458.7,784.7 C458.7,785.3 452.5,785.8 446.4,785.8 C441.4,785.8 439.3,785 432.2,784.7 Z" fill="#d47ae4" opacity="0.95" filter="url(#hbG)"/>
<g filter="url(#hsG)"><ellipse cx="530" cy="784.7" rx="38.7" ry="2.8" fill="#f9983a" opacity="1.0"/></g>
<g filter="url(#hbG)"><ellipse cx="531" cy="784.7" rx="36.7" ry="2" fill="#f88c26" opacity="0.9"/></g>
<g filter="url(#hbG)"><ellipse cx="550.4" cy="784.7" rx="16.3" ry="2.2" fill="#f88c26" opacity="0.9"/></g>
<g filter="url(#hsG)"><ellipse cx="446.4" cy="846.2" rx="39.7" ry="4.2" fill="#ffffff" opacity="1.0"/></g>
<g filter="url(#hbG)"><ellipse cx="446.4" cy="846.2" rx="26.5" ry="3" fill="#ffffff" opacity="0.9"/></g>
<g filter="url(#hbG)"><ellipse cx="445.4" cy="846.2" rx="17.3" ry="1.9" fill="#a4d2ff" opacity="1.0"/></g>
<g filter="url(#hsG)"><ellipse cx="389.4" cy="846.2" rx="35.7" ry="2.8" fill="#fff0d8" opacity="0.7"/></g>
<g filter="url(#hsG)"><ellipse cx="448.5" cy="902.2" rx="40.8" ry="4.4" fill="#ffffff" opacity="1.0"/></g>
<g filter="url(#hbG)"><ellipse cx="448.5" cy="902.2" rx="28.5" ry="3.2" fill="#ffffff" opacity="0.9"/></g>
<g filter="url(#hbG)"><ellipse cx="445.4" cy="902.2" rx="20.4" ry="2.2" fill="#96c8ff" opacity="1.0"/></g>
<g filter="url(#hsG)"><ellipse cx="389.4" cy="902.2" rx="35.7" ry="2.8" fill="#fff0d8" opacity="0.7"/></g>
<g filter="url(#hsG)"><ellipse cx="444.4" cy="866.7" rx="34.6" ry="2.8" fill="#fff0d8" opacity="0.85"/></g>
<g filter="url(#hsG)"><ellipse cx="444.4" cy="823.9" rx="30.6" ry="3" fill="#fff0d8" opacity="0.6"/></g>
<g filter="url(#hsG)"><ellipse cx="532" cy="846.2" rx="34.6" ry="2.6" fill="#fab05e" opacity="0.9"/></g>
<g filter="url(#hsG)"><ellipse cx="532" cy="902.2" rx="36.7" ry="3.4" fill="#fab05e" opacity="0.9"/></g>
<g filter="url(#hsG)"><ellipse cx="532" cy="866.7" rx="34.6" ry="2" fill="#fab462" opacity="0.8"/></g>
<g filter="url(#hsG)"><ellipse cx="532" cy="823.9" rx="34.6" ry="3" fill="#fbb96a" opacity="0.6"/></g>
</g>
<line x1="447.4" y1="781.5" x2="447.4" y2="954.4" stroke="#fff" stroke-width="1.5" stroke-dasharray="4.2 2.6"/>
<rect x="360.3" y="730.6" width="201.5" height="223.8" fill="none" stroke="#000" stroke-width="1.5"/>
<line x1="360.3" y1="954.4" x2="364.3" y2="954.4" stroke="#000" stroke-width="1.3" />
<text x="355.2" y="959.4" font-size="14.0" text-anchor="end" fill="#000" >800</text>
<line x1="360.3" y1="935.8" x2="362.7" y2="935.8" stroke="#000" stroke-width="1.1" />
<line x1="360.3" y1="917.1" x2="364.3" y2="917.1" stroke="#000" stroke-width="1.3" />
<text x="355.2" y="922.1" font-size="14.0" text-anchor="end" fill="#000" >1000</text>
<line x1="360.3" y1="898.5" x2="362.7" y2="898.5" stroke="#000" stroke-width="1.1" />
<line x1="360.3" y1="879.8" x2="364.3" y2="879.8" stroke="#000" stroke-width="1.3" />
<text x="355.2" y="884.8" font-size="14.0" text-anchor="end" fill="#000" >1200</text>
<line x1="360.3" y1="861.1" x2="362.7" y2="861.1" stroke="#000" stroke-width="1.1" />
<line x1="360.3" y1="842.5" x2="364.3" y2="842.5" stroke="#000" stroke-width="1.3" />
<text x="355.2" y="847.5" font-size="14.0" text-anchor="end" fill="#000" >1400</text>
<line x1="360.3" y1="823.9" x2="362.7" y2="823.9" stroke="#000" stroke-width="1.1" />
<line x1="360.3" y1="805.2" x2="364.3" y2="805.2" stroke="#000" stroke-width="1.3" />
<text x="355.2" y="810.2" font-size="14.0" text-anchor="end" fill="#000" >1600</text>
<line x1="360.3" y1="786.5" x2="362.7" y2="786.5" stroke="#000" stroke-width="1.1" />
<line x1="360.3" y1="767.9" x2="364.3" y2="767.9" stroke="#000" stroke-width="1.3" />
<text x="355.2" y="772.9" font-size="14.0" text-anchor="end" fill="#000" >1800</text>
<line x1="360.3" y1="749.2" x2="362.7" y2="749.2" stroke="#000" stroke-width="1.1" />
<line x1="369" y1="954.4" x2="369" y2="952" stroke="#000" stroke-width="1.1" />
<line x1="379.2" y1="954.4" x2="379.2" y2="950.4" stroke="#000" stroke-width="1.3" />
<text x="379.2" y="971.6" font-size="13.6" text-anchor="middle" fill="#000" >2</text>
<line x1="389.4" y1="954.4" x2="389.4" y2="952" stroke="#000" stroke-width="1.1" />
<line x1="399.6" y1="954.4" x2="399.6" y2="950.4" stroke="#000" stroke-width="1.3" />
<text x="399.6" y="971.6" font-size="13.6" text-anchor="middle" fill="#000" >4</text>
<line x1="409.8" y1="954.4" x2="409.8" y2="952" stroke="#000" stroke-width="1.1" />
<line x1="419.9" y1="954.4" x2="419.9" y2="950.4" stroke="#000" stroke-width="1.3" />
<text x="419.9" y="971.6" font-size="13.6" text-anchor="middle" fill="#000" >6</text>
<line x1="430.1" y1="954.4" x2="430.1" y2="952" stroke="#000" stroke-width="1.1" />
<line x1="440.3" y1="954.4" x2="440.3" y2="950.4" stroke="#000" stroke-width="1.3" />
<text x="440.3" y="971.6" font-size="13.6" text-anchor="middle" fill="#000" >8</text>
<line x1="450.5" y1="954.4" x2="450.5" y2="952" stroke="#000" stroke-width="1.1" />
<line x1="460.7" y1="954.4" x2="460.7" y2="950.4" stroke="#000" stroke-width="1.3" />
<text x="460.7" y="971.6" font-size="13.6" text-anchor="middle" fill="#000" >10</text>
<line x1="470.9" y1="954.4" x2="470.9" y2="952" stroke="#000" stroke-width="1.1" />
<line x1="481.1" y1="954.4" x2="481.1" y2="950.4" stroke="#000" stroke-width="1.3" />
<text x="481.1" y="971.6" font-size="13.6" text-anchor="middle" fill="#000" >12</text>
<line x1="491.3" y1="954.4" x2="491.3" y2="952" stroke="#000" stroke-width="1.1" />
<line x1="501.5" y1="954.4" x2="501.5" y2="950.4" stroke="#000" stroke-width="1.3" />
<text x="501.5" y="971.6" font-size="13.6" text-anchor="middle" fill="#000" >14</text>
<line x1="511.6" y1="954.4" x2="511.6" y2="952" stroke="#000" stroke-width="1.1" />
<line x1="521.8" y1="954.4" x2="521.8" y2="950.4" stroke="#000" stroke-width="1.3" />
<text x="521.8" y="971.6" font-size="13.6" text-anchor="middle" fill="#000" >16</text>
<line x1="532" y1="954.4" x2="532" y2="952" stroke="#000" stroke-width="1.1" />
<line x1="542.2" y1="954.4" x2="542.2" y2="950.4" stroke="#000" stroke-width="1.3" />
<text x="542.2" y="971.6" font-size="13.6" text-anchor="middle" fill="#000" >18</text>
<line x1="552.4" y1="954.4" x2="552.4" y2="952" stroke="#000" stroke-width="1.1" />
<text x="462" y="984.6" font-size="14.4" text-anchor="middle" fill="#000" >Time (min)</text>
<text transform="translate(321,838) rotate(-90)" font-size="14.4" text-anchor="middle">Wavenumber (cm<tspan font-size="8.5" dy="-5.5">-1</tspan><tspan dy="5.5">)</tspan></text>
<text x="308.4" y="749.6" font-size="26.8" fill="#000" textLength="31.1" lengthAdjust="spacingAndGlyphs">(g)</text>
<text x="557" y="749.2" font-size="20.9" text-anchor="end" fill="#000" >MOF@COF</text>
<text x="491" y="940.4" font-size="20.5" text-anchor="middle" fill="#000" >8.8 min</text>
<rect x="572" y="730.6" width="9.2" height="223.8" fill="url(#hcb2)"/>
</g>
<g id="xrd">
<line x1="688.5" y1="731.7" x2="688.5" y2="851" stroke="#d9d9d9" stroke-width="0.8" />
<line x1="688.5" y1="851" x2="623.6" y2="959.5" stroke="#d9d9d9" stroke-width="0.8" />
<line x1="732.1" y1="731.7" x2="732.1" y2="851" stroke="#d9d9d9" stroke-width="0.8" />
<line x1="732.1" y1="851" x2="667.1" y2="959.5" stroke="#d9d9d9" stroke-width="0.8" />
<line x1="775.7" y1="731.7" x2="775.7" y2="851" stroke="#d9d9d9" stroke-width="0.8" />
<line x1="775.7" y1="851" x2="710.6" y2="959.5" stroke="#d9d9d9" stroke-width="0.8" />
<line x1="819.3" y1="731.7" x2="819.3" y2="851" stroke="#d9d9d9" stroke-width="0.8" />
<line x1="819.3" y1="851" x2="754" y2="959.5" stroke="#d9d9d9" stroke-width="0.8" />
<line x1="659.5" y1="821.2" x2="862.9" y2="821.2" stroke="#d9d9d9" stroke-width="0.8" />
<line x1="659.5" y1="821.2" x2="594.7" y2="929.7" stroke="#d9d9d9" stroke-width="0.8" />
<line x1="659.5" y1="791.4" x2="862.9" y2="791.4" stroke="#d9d9d9" stroke-width="0.8" />
<line x1="659.5" y1="791.4" x2="594.7" y2="899.9" stroke="#d9d9d9" stroke-width="0.8" />
<line x1="659.5" y1="761.5" x2="862.9" y2="761.5" stroke="#d9d9d9" stroke-width="0.8" />
<line x1="659.5" y1="761.5" x2="594.7" y2="870" stroke="#d9d9d9" stroke-width="0.8" />
<line x1="607.7" y1="937.8" x2="607.7" y2="818.5" stroke="#d9d9d9" stroke-width="0.8" />
<line x1="620.6" y1="916.1" x2="620.6" y2="796.8" stroke="#d9d9d9" stroke-width="0.8" />
<line x1="633.6" y1="894.4" x2="633.6" y2="775.1" stroke="#d9d9d9" stroke-width="0.8" />
<line x1="646.5" y1="872.7" x2="646.5" y2="753.4" stroke="#d9d9d9" stroke-width="0.8" />
<line x1="659.5" y1="731.7" x2="659.5" y2="851" stroke="#bbb" stroke-width="0.9" />
<line x1="659.5" y1="851" x2="862.9" y2="851" stroke="#bbb" stroke-width="0.9" />
<line x1="659.5" y1="851" x2="594.7" y2="959.5" stroke="#bbb" stroke-width="0.9" />
<path d="M797.5,959.5 L594.7,959.5 L594.7,840.2 L659.5,731.7 L862.9,731.7 L862.9,851 L797.5,959.5" fill="none" stroke="#000" stroke-width="1.35" stroke-linejoin="miter"/>
<line x1="862.9" y1="851" x2="858.9" y2="851" stroke="#000" stroke-width="1.3" />
<line x1="862.9" y1="836.1" x2="860.5" y2="836.1" stroke="#000" stroke-width="1.0" />
<line x1="862.9" y1="821.2" x2="858.9" y2="821.2" stroke="#000" stroke-width="1.3" />
<line x1="862.9" y1="806.3" x2="860.5" y2="806.3" stroke="#000" stroke-width="1.0" />
<line x1="862.9" y1="791.4" x2="858.9" y2="791.4" stroke="#000" stroke-width="1.3" />
<line x1="862.9" y1="776.4" x2="860.5" y2="776.4" stroke="#000" stroke-width="1.0" />
<line x1="862.9" y1="761.5" x2="858.9" y2="761.5" stroke="#000" stroke-width="1.3" />
<line x1="862.9" y1="746.6" x2="860.5" y2="746.6" stroke="#000" stroke-width="1.0" />
<line x1="862.9" y1="731.7" x2="858.9" y2="731.7" stroke="#000" stroke-width="1.3" />
<line x1="623.6" y1="959.5" x2="623.6" y2="955.5" stroke="#000" stroke-width="1.3" />
<text x="624.4" y="973.1" font-size="14" text-anchor="middle" fill="#000" >10</text>
<line x1="667.1" y1="959.5" x2="667.1" y2="955.5" stroke="#000" stroke-width="1.3" />
<text x="667.9" y="973.1" font-size="14" text-anchor="middle" fill="#000" >20</text>
<line x1="710.6" y1="959.5" x2="710.6" y2="955.5" stroke="#000" stroke-width="1.3" />
<text x="711.4" y="973.1" font-size="14" text-anchor="middle" fill="#000" >30</text>
<line x1="754" y1="959.5" x2="754" y2="955.5" stroke="#000" stroke-width="1.3" />
<text x="754.8" y="973.1" font-size="14" text-anchor="middle" fill="#000" >40</text>
<line x1="797.5" y1="959.5" x2="797.5" y2="955.5" stroke="#000" stroke-width="1.3" />
<text x="798.3" y="973.1" font-size="14" text-anchor="middle" fill="#000" >50</text>
<line x1="601.9" y1="959.5" x2="601.9" y2="957.1" stroke="#000" stroke-width="1.0" />
<line x1="645.3" y1="959.5" x2="645.3" y2="957.1" stroke="#000" stroke-width="1.0" />
<line x1="688.8" y1="959.5" x2="688.8" y2="957.1" stroke="#000" stroke-width="1.0" />
<line x1="732.3" y1="959.5" x2="732.3" y2="957.1" stroke="#000" stroke-width="1.0" />
<line x1="775.8" y1="959.5" x2="775.8" y2="957.1" stroke="#000" stroke-width="1.0" />
<line x1="797.5" y1="959.5" x2="794.1" y2="959.5" stroke="#000" stroke-width="1.0" />
<line x1="803" y1="950.5" x2="799.6" y2="950.5" stroke="#000" stroke-width="1.0" />
<line x1="808.4" y1="941.4" x2="805" y2="941.4" stroke="#000" stroke-width="1.0" />
<line x1="813.9" y1="932.4" x2="810.5" y2="932.4" stroke="#000" stroke-width="1.0" />
<line x1="819.3" y1="923.3" x2="815.9" y2="923.3" stroke="#000" stroke-width="1.0" />
<line x1="824.8" y1="914.3" x2="821.4" y2="914.3" stroke="#000" stroke-width="1.0" />
<line x1="830.2" y1="905.2" x2="826.8" y2="905.2" stroke="#000" stroke-width="1.0" />
<line x1="835.6" y1="896.2" x2="832.2" y2="896.2" stroke="#000" stroke-width="1.0" />
<line x1="841.1" y1="887.2" x2="837.7" y2="887.2" stroke="#000" stroke-width="1.0" />
<line x1="846.5" y1="878.1" x2="843.1" y2="878.1" stroke="#000" stroke-width="1.0" />
<line x1="852" y1="869.1" x2="848.6" y2="869.1" stroke="#000" stroke-width="1.0" />
<line x1="857.4" y1="860" x2="854" y2="860" stroke="#000" stroke-width="1.0" />
<line x1="862.9" y1="851" x2="859.5" y2="851" stroke="#000" stroke-width="1.0" />
<path d="M659.5,851.0 L661.5,850.8 L663.5,851.0 L665.5,850.9 L667.5,851.0 L669.5,851.0 L671.5,850.9 L673.5,850.7 L675.5,850.9 L677.5,850.9 L679.5,850.8 L681.5,850.7 L683.5,850.8 L685.5,850.9 L687.5,850.7 L689.5,850.9 L691.5,850.7 L693.5,850.8 L695.5,850.9 L697.5,850.8 L699.5,850.7 L701.5,850.3 L703.5,849.9 L703.6,849.7 L704.6,848.5 L705.3,845.9 L705.5,844.3 L705.8,839.0 L706.2,819.7 L706.5,788.6 L706.8,761.8 L707.1,789.2 L707.4,820.0 L707.5,826.1 L707.8,839.0 L708.3,846.0 L709.0,848.4 L709.5,849.2 L710.0,849.8 L711.5,850.3 L713.5,850.6 L715.5,850.6 L717.5,850.7 L719.5,850.8 L721.5,850.6 L723.5,850.9 L725.5,850.8 L727.5,850.7 L729.3,850.9 L729.5,850.8 L730.3,850.8 L731.0,850.5 L731.5,850.2 L731.5,850.2 L731.9,849.2 L732.2,848.1 L732.5,847.1 L732.8,848.0 L733.1,849.3 L733.5,850.2 L733.5,850.1 L734.0,850.4 L734.7,850.7 L735.5,850.7 L735.7,850.9 L737.5,850.7 L739.5,850.8 L741.5,850.7 L743.5,850.7 L745.5,850.9 L747.5,850.8 L749.0,850.8 L749.5,850.9 L750.0,850.8 L750.6,850.9 L751.1,850.8 L751.5,850.7 L751.5,850.5 L751.9,850.5 L752.1,850.3 L752.5,850.4 L752.8,850.4 L753.1,850.8 L753.5,850.8 L753.6,850.7 L754.4,850.7 L755.4,850.7 L755.5,850.7 L757.5,850.8 L758.1,850.8 L759.1,850.7 L759.5,850.5 L759.8,850.5 L760.3,850.6 L760.7,850.2 L761.0,849.6 L761.3,849.3 L761.5,849.4 L761.6,849.5 L761.9,850.1 L762.3,850.5 L762.8,850.5 L763.5,850.5 L763.5,850.4 L764.5,850.2 L765.5,849.9 L765.5,850.0 L766.5,849.0 L767.2,847.0 L767.5,845.1 L767.7,841.7 L768.1,827.1 L768.4,803.5 L768.7,782.7 L769.0,803.4 L769.3,827.0 L769.5,835.7 L769.7,841.7 L770.2,847.2 L770.9,849.2 L771.5,849.8 L771.9,850.1 L773.5,850.5 L775.5,850.8 L777.5,850.9 L779.5,850.8 L780.8,850.8 L781.5,850.7 L781.8,850.8 L782.5,850.4 L783.0,850.1 L783.4,849.2 L783.5,848.7 L783.7,847.8 L784.0,846.7 L784.3,847.8 L784.6,849.0 L785.0,850.0 L785.5,850.5 L785.5,850.5 L786.2,850.8 L787.2,850.9 L787.5,850.8 L789.5,850.9 L791.5,850.7 L793.5,850.9 L794.3,850.9 L795.3,850.6 L795.5,850.8 L796.0,850.8 L796.5,850.6 L796.9,850.4 L797.2,849.7 L797.5,849.2 L797.8,849.6 L798.1,850.2 L798.5,850.7 L799.0,850.8 L799.5,850.9 L799.7,850.7 L800.7,850.8 L801.5,850.7 L803.5,850.9 L805.5,850.9 L807.4,850.7 L807.5,850.6 L808.4,850.6 L809.1,850.4 L809.5,850.2 L809.6,850.1 L810.0,849.3 L810.3,847.8 L810.6,846.9 L810.9,848.0 L811.2,849.4 L811.5,850.1 L811.6,850.2 L812.1,850.5 L812.8,850.5 L813.5,850.7 L813.8,850.6 L815.5,850.6 L817.5,850.6 L818.3,850.7 L819.3,850.6 L819.5,850.5 L820.0,850.3 L820.5,849.3 L820.9,846.6 L821.2,842.3 L821.5,838.7 L821.5,838.9 L821.8,842.4 L822.1,846.6 L822.5,849.4 L823.0,850.1 L823.5,850.3 L823.7,850.4 L824.7,850.6 L825.5,850.7 L827.5,850.9 L829.2,850.7 L829.5,850.8 L830.2,850.6 L830.9,850.4 L831.4,850.2 L831.5,850.0 L831.8,849.2 L832.1,848.0 L832.4,847.2 L832.7,848.2 L833.0,849.4 L833.4,850.1 L833.5,850.2 L833.9,850.7 L834.6,850.6 L835.5,850.6 L835.6,850.7 L837.5,850.9 L839.5,850.8 L841.5,850.9 L843.5,851.0 L845.5,850.7 L847.5,850.8 L849.5,850.8 L851.5,850.7 L853.5,850.9 L855.5,850.7 L857.5,850.7 L859.5,850.9 L861.5,850.9 L862.9,850.9" fill="none" stroke="#ff7f0e" stroke-width="1.3" stroke-linejoin="round"/>
<path d="M654.1,859.9 L656.1,859.9 L658.1,859.9 L660.1,859.8 L662.1,859.9 L664.1,859.8 L666.1,859.9 L668.1,859.9 L670.1,859.9 L672.1,860.0 L674.1,859.9 L676.1,860.0 L678.1,860.0 L680.1,859.8 L682.1,860.0 L684.1,859.9 L686.1,859.8 L688.1,859.8 L690.1,859.9 L692.1,859.8 L694.1,859.7 L696.1,859.4 L698.1,859.0 L698.2,858.8 L699.2,857.7 L699.9,855.2 L700.1,853.4 L700.4,848.4 L700.8,829.9 L701.1,800.1 L701.4,774.8 L701.7,801.2 L702.0,830.5 L702.1,836.9 L702.4,848.6 L702.9,855.1 L703.6,857.7 L704.1,858.4 L704.6,858.8 L706.1,859.3 L708.1,859.6 L710.1,859.6 L712.1,859.7 L714.1,859.9 L716.1,859.8 L718.1,859.7 L720.1,859.7 L722.1,859.9 L723.9,859.9 L724.1,859.8 L724.9,859.9 L725.6,859.7 L726.1,859.4 L726.1,859.2 L726.5,858.3 L726.8,857.1 L727.1,856.4 L727.4,857.1 L727.7,858.4 L728.1,859.4 L728.1,859.1 L728.6,859.5 L729.3,859.8 L730.1,859.7 L730.3,859.8 L732.1,859.8 L734.1,859.7 L736.1,859.8 L738.1,860.0 L740.1,859.9 L742.1,859.8 L743.5,859.9 L744.1,859.9 L744.5,859.9 L745.2,859.7 L745.7,859.9 L746.1,859.5 L746.1,859.5 L746.4,859.4 L746.7,859.1 L747.0,859.2 L747.3,859.5 L747.7,859.8 L748.1,859.6 L748.2,859.7 L748.9,859.7 L749.9,859.9 L750.1,859.9 L752.1,859.9 L752.7,859.7 L753.7,859.8 L754.1,859.8 L754.4,859.7 L754.9,859.3 L755.3,858.9 L755.6,858.5 L755.9,858.1 L756.1,858.1 L756.2,858.4 L756.5,858.9 L756.9,859.5 L757.4,859.6 L758.1,859.4 L758.1,859.5 L759.1,859.5 L760.1,858.9 L760.1,859.0 L761.1,858.1 L761.8,856.4 L762.1,853.9 L762.3,851.4 L762.7,837.3 L763.0,815.0 L763.3,794.9 L763.6,814.2 L763.9,836.8 L764.1,846.3 L764.3,851.2 L764.8,856.2 L765.5,858.2 L766.1,858.9 L766.5,859.2 L768.1,859.6 L770.1,859.8 L772.1,859.8 L774.1,859.8 L775.4,859.7 L776.1,859.8 L776.4,859.7 L777.1,859.7 L777.6,859.3 L778.0,858.5 L778.1,857.9 L778.2,857.3 L778.6,856.2 L778.9,857.2 L779.1,858.5 L779.6,859.2 L780.1,859.5 L780.1,859.7 L780.8,859.6 L781.8,859.8 L782.1,859.8 L784.1,859.7 L786.1,859.9 L788.1,859.8 L788.9,859.8 L789.9,859.7 L790.1,859.8 L790.6,859.6 L791.1,859.5 L791.5,859.2 L791.8,858.7 L792.1,858.3 L792.1,858.4 L792.4,858.7 L792.7,859.3 L793.1,859.5 L793.6,859.8 L794.1,859.9 L794.3,859.9 L795.3,859.7 L796.1,859.7 L798.1,859.8 L800.1,859.9 L801.9,859.9 L802.1,859.9 L802.9,859.8 L803.6,859.7 L804.1,859.4 L804.1,859.4 L804.5,858.3 L804.8,857.2 L805.1,856.5 L805.4,857.4 L805.7,858.3 L806.1,859.3 L806.1,859.3 L806.6,859.8 L807.3,859.8 L808.1,859.8 L808.3,859.8 L810.1,859.9 L812.1,859.8 L812.8,859.9 L813.8,859.6 L814.1,859.6 L814.5,859.2 L815.0,858.4 L815.4,855.8 L815.7,851.6 L816.0,848.0 L816.1,848.1 L816.3,851.5 L816.6,855.6 L817.0,858.2 L817.5,859.1 L818.1,859.4 L818.2,859.6 L819.2,859.8 L820.1,859.6 L822.1,859.9 L823.7,859.7 L824.1,859.7 L824.7,859.8 L825.4,859.4 L825.9,859.0 L826.1,858.8 L826.3,858.0 L826.6,856.4 L826.9,855.5 L827.2,856.5 L827.5,858.1 L827.9,859.0 L828.1,859.2 L828.4,859.4 L829.1,859.7 L830.1,859.7 L830.1,859.7 L832.1,859.8 L834.1,859.9 L836.1,860.0 L838.1,860.0 L840.1,859.9 L842.1,860.0 L844.1,859.8 L846.1,859.9 L848.1,859.8 L850.1,859.8 L852.1,859.8 L854.1,859.9 L856.1,860.0 L857.5,859.8" fill="none" stroke="#00908a" stroke-width="1.3" stroke-linejoin="round"/>
<path d="M648.7,869.0 L650.7,869.1 L652.7,869.0 L654.7,868.9 L656.7,869.0 L658.7,868.9 L660.7,868.8 L662.7,868.9 L664.7,869.0 L666.7,868.9 L668.7,868.9 L670.7,868.8 L672.7,868.9 L674.7,868.9 L676.7,869.0 L678.7,869.0 L680.7,869.0 L682.7,868.8 L684.7,868.9 L686.7,868.8 L688.7,868.9 L690.7,868.7 L692.7,868.0 L692.8,867.8 L693.8,866.7 L694.5,864.3 L694.7,862.6 L695.0,857.9 L695.4,840.2 L695.7,811.6 L696.0,786.1 L696.3,810.5 L696.6,839.7 L696.7,847.0 L697.0,857.6 L697.5,864.4 L698.2,866.7 L698.7,867.4 L699.2,867.7 L700.7,868.5 L702.7,868.8 L704.7,868.9 L706.7,868.7 L708.7,868.9 L710.7,868.8 L712.7,869.0 L714.7,868.9 L716.7,868.7 L718.5,868.9 L718.7,868.7 L719.5,868.7 L720.2,868.5 L720.7,868.1 L721.1,867.2 L721.4,865.6 L721.7,864.7 L722.0,865.9 L722.3,867.3 L722.7,868.2 L723.2,868.6 L723.9,868.8 L724.7,868.9 L724.9,868.9 L726.7,868.9 L728.7,868.8 L730.7,869.0 L732.7,868.8 L734.7,868.8 L736.7,869.0 L738.1,868.8 L738.7,868.8 L739.1,868.7 L739.8,868.9 L740.3,868.7 L740.7,868.5 L740.7,868.3 L741.0,868.1 L741.3,867.9 L741.6,868.1 L741.9,868.5 L742.3,868.8 L742.7,868.9 L742.8,868.7 L743.5,868.9 L744.5,868.7 L744.7,868.9 L746.7,868.9 L747.3,868.8 L748.3,868.9 L748.7,868.8 L749.0,868.6 L749.5,868.4 L749.9,868.0 L750.2,867.5 L750.5,867.0 L750.7,867.2 L750.8,867.5 L751.1,868.0 L751.5,868.6 L752.0,868.5 L752.7,868.6 L752.7,868.5 L753.7,868.4 L754.7,868.2 L754.7,868.3 L755.7,867.2 L756.4,865.7 L756.7,863.3 L756.9,860.9 L757.3,847.9 L757.6,826.8 L757.9,808.8 L758.2,827.4 L758.5,848.0 L758.7,857.1 L758.9,860.9 L759.4,865.6 L760.1,867.4 L760.7,868.1 L761.1,868.2 L762.7,868.5 L764.7,868.7 L766.7,868.9 L768.7,868.7 L769.9,868.7 L770.7,868.8 L770.9,868.8 L771.6,868.7 L772.1,868.3 L772.5,867.3 L772.7,866.6 L772.8,866.0 L773.1,865.0 L773.4,865.9 L773.7,867.2 L774.1,868.1 L774.6,868.6 L774.7,868.7 L775.3,868.7 L776.3,868.9 L776.7,868.9 L778.7,869.0 L780.7,869.0 L782.7,868.7 L783.4,869.0 L784.4,868.8 L784.7,868.8 L785.1,868.7 L785.6,868.7 L786.0,868.2 L786.3,867.6 L786.6,867.1 L786.7,867.2 L786.9,867.4 L787.2,868.1 L787.6,868.5 L788.1,868.9 L788.7,869.0 L788.8,868.8 L789.8,868.8 L790.7,868.9 L792.7,868.9 L794.7,869.0 L796.5,868.9 L796.7,868.7 L797.5,868.7 L798.2,868.6 L798.7,868.2 L799.1,867.6 L799.4,866.6 L799.7,865.7 L800.0,866.4 L800.3,867.5 L800.7,868.2 L801.2,868.6 L801.9,868.7 L802.7,868.8 L802.9,868.9 L804.7,868.8 L806.7,868.9 L807.4,868.7 L808.4,868.7 L808.7,868.4 L809.1,868.2 L809.6,867.4 L810.0,864.8 L810.3,860.6 L810.6,856.9 L810.7,857.4 L810.9,860.7 L811.2,864.9 L811.6,867.3 L812.1,868.2 L812.7,868.6 L812.8,868.7 L813.8,868.7 L814.7,869.0 L816.7,868.9 L818.3,868.8 L818.7,868.7 L819.3,868.7 L820.0,868.5 L820.5,868.2 L820.7,867.9 L820.9,867.3 L821.2,865.6 L821.5,864.6 L821.8,865.8 L822.1,867.3 L822.5,868.2 L822.7,868.4 L823.0,868.6 L823.7,868.8 L824.7,868.8 L824.7,868.7 L826.7,869.0 L828.7,869.0 L830.7,869.0 L832.7,868.9 L834.7,868.9 L836.7,869.0 L838.7,868.8 L840.7,868.9 L842.7,868.9 L844.7,869.0 L846.7,868.8 L848.7,869.0 L850.7,868.8 L852.0,869.0" fill="none" stroke="#2a60c8" stroke-width="1.3" stroke-linejoin="round"/>
<path d="M643.3,878.1 L645.3,878.0 L647.3,877.9 L649.3,877.8 L651.3,878.1 L653.3,878.0 L655.3,878.1 L657.3,877.8 L659.3,878.1 L661.3,878.1 L663.3,878.1 L665.3,878.0 L667.3,877.8 L669.3,877.8 L671.3,877.9 L673.3,877.8 L675.3,877.8 L677.3,878.0 L679.3,878.0 L681.3,877.7 L683.3,877.7 L685.3,877.7 L687.3,877.0 L687.4,877.0 L688.4,875.9 L689.1,873.7 L689.3,871.9 L689.6,867.6 L690.0,850.6 L690.3,823.2 L690.6,798.8 L690.9,822.8 L691.2,850.1 L691.3,857.9 L691.6,867.4 L692.1,873.5 L692.8,875.8 L693.3,876.6 L693.8,877.1 L695.3,877.5 L697.3,877.8 L699.3,877.7 L701.3,878.0 L703.3,877.9 L705.3,877.8 L707.3,878.1 L709.3,878.0 L711.3,877.8 L713.1,877.8 L713.3,878.0 L714.1,878.0 L714.8,877.8 L715.3,877.2 L715.3,877.4 L715.7,876.4 L716.0,875.2 L716.3,874.5 L716.6,875.4 L716.9,876.4 L717.3,877.3 L717.3,877.4 L717.8,877.6 L718.5,877.9 L719.3,877.9 L719.5,878.0 L721.3,877.9 L723.3,877.8 L725.3,877.9 L727.3,877.8 L729.3,878.1 L731.3,878.0 L732.7,877.9 L733.3,877.8 L733.7,877.8 L734.4,877.9 L734.9,877.8 L735.3,877.4 L735.3,877.4 L735.6,876.8 L735.9,876.7 L736.2,876.8 L736.5,877.3 L736.9,877.6 L737.3,877.7 L737.4,877.8 L738.1,877.9 L739.1,877.9 L739.3,877.9 L741.3,877.8 L741.8,878.0 L742.8,877.9 L743.3,877.7 L743.5,877.8 L744.0,877.7 L744.4,877.2 L744.7,876.4 L745.0,876.0 L745.3,876.2 L745.3,876.3 L745.6,876.9 L746.0,877.5 L746.5,877.7 L747.2,877.7 L747.3,877.6 L748.2,877.4 L749.2,877.2 L749.3,877.2 L750.2,876.3 L750.9,874.5 L751.3,871.7 L751.4,869.6 L751.8,856.2 L752.1,834.8 L752.4,816.1 L752.7,834.6 L753.0,856.3 L753.3,866.5 L753.4,869.7 L753.9,874.4 L754.6,876.4 L755.3,877.1 L755.6,877.3 L757.3,877.7 L759.3,877.7 L761.3,877.8 L763.3,877.9 L764.5,877.9 L765.3,877.7 L765.5,877.8 L766.2,877.7 L766.7,877.2 L767.1,876.4 L767.3,875.5 L767.4,875.3 L767.7,874.3 L768.0,875.1 L768.3,876.4 L768.7,877.2 L769.2,877.8 L769.3,877.8 L769.9,877.9 L770.9,878.0 L771.3,877.7 L773.3,877.9 L775.3,877.8 L777.3,878.0 L778.0,877.8 L779.0,877.9 L779.3,877.9 L779.7,877.7 L780.2,877.5 L780.6,877.3 L780.9,876.4 L781.2,875.9 L781.3,876.1 L781.5,876.5 L781.8,877.3 L782.2,877.7 L782.7,877.9 L783.3,877.8 L783.4,877.8 L784.4,878.0 L785.3,878.1 L787.3,878.0 L789.3,877.9 L791.1,878.0 L791.3,877.9 L792.1,877.9 L792.8,877.6 L793.3,877.3 L793.3,877.4 L793.7,876.5 L794.0,875.0 L794.3,874.0 L794.6,875.0 L794.9,876.5 L795.3,877.4 L795.3,877.3 L795.8,877.7 L796.5,877.9 L797.3,877.9 L797.5,877.7 L799.3,877.9 L801.3,877.8 L802.0,877.8 L803.0,877.7 L803.3,877.4 L803.7,877.1 L804.2,876.4 L804.6,873.8 L804.9,869.5 L805.2,866.0 L805.3,867.2 L805.5,869.5 L805.8,873.8 L806.2,876.3 L806.7,877.3 L807.3,877.5 L807.4,877.7 L808.4,877.9 L809.3,878.0 L811.3,877.9 L812.8,877.8 L813.3,877.7 L813.8,877.9 L814.5,877.7 L815.0,877.4 L815.3,876.9 L815.4,876.6 L815.8,875.4 L816.0,874.5 L816.3,875.2 L816.6,876.7 L817.0,877.4 L817.3,877.5 L817.5,877.6 L818.2,877.9 L819.2,878.0 L819.3,877.8 L821.3,877.8 L823.3,878.0 L825.3,878.1 L827.3,877.8 L829.3,878.0 L831.3,877.8 L833.3,877.9 L835.3,877.9 L837.3,878.1 L839.3,877.9 L841.3,878.1 L843.3,878.0 L845.3,877.9 L846.5,877.9" fill="none" stroke="#7f7f00" stroke-width="1.3" stroke-linejoin="round"/>
<path d="M637.9,887.1 L639.9,886.9 L641.9,886.9 L643.9,887.1 L645.9,887.0 L647.9,886.9 L649.9,887.1 L651.9,886.9 L653.9,887.1 L655.9,887.0 L657.9,887.0 L659.9,887.0 L661.9,887.1 L663.9,887.0 L665.9,887.0 L667.9,887.0 L669.9,886.9 L671.9,887.0 L673.9,887.0 L675.9,887.1 L677.9,886.8 L679.9,886.7 L681.9,886.3 L682.0,886.1 L683.0,885.2 L683.7,883.4 L683.9,881.8 L684.2,878.2 L684.6,864.1 L684.9,841.2 L685.2,821.0 L685.5,841.1 L685.8,863.9 L685.9,870.6 L686.2,878.3 L686.7,883.3 L687.4,885.4 L687.9,885.8 L688.4,886.1 L689.9,886.6 L691.9,887.0 L693.9,886.9 L695.9,887.0 L697.9,886.8 L699.9,887.1 L701.9,886.9 L703.9,886.8 L705.9,886.9 L707.7,886.8 L707.9,887.0 L708.7,886.7 L709.4,886.7 L709.9,886.3 L709.9,886.2 L710.3,885.7 L710.6,884.3 L710.9,883.4 L711.2,884.5 L711.5,885.6 L711.9,886.3 L711.9,886.6 L712.4,886.6 L713.1,886.9 L713.9,886.8 L714.1,887.0 L715.9,887.0 L717.9,886.9 L719.9,887.1 L721.9,887.1 L723.9,887.0 L725.9,887.0 L727.3,887.1 L727.9,887.0 L728.3,887.0 L729.0,886.7 L729.5,886.7 L729.9,886.2 L729.9,886.4 L730.2,885.7 L730.5,885.6 L730.8,885.8 L731.1,886.3 L731.5,886.8 L731.9,886.7 L732.0,886.8 L732.7,886.9 L733.7,886.8 L733.9,887.1 L735.9,886.8 L736.4,886.9 L737.4,886.9 L737.9,886.7 L738.1,886.9 L738.6,886.5 L739.0,886.3 L739.3,885.8 L739.6,885.3 L739.9,885.7 L739.9,885.8 L740.2,886.2 L740.6,886.7 L741.1,886.6 L741.8,886.8 L741.9,886.7 L742.8,886.5 L743.8,886.3 L743.9,886.3 L744.8,885.7 L745.5,884.4 L745.9,881.9 L746.0,880.5 L746.4,869.7 L746.7,852.5 L747.0,837.0 L747.3,851.8 L747.6,869.5 L747.9,878.4 L748.0,880.2 L748.5,884.4 L749.2,885.8 L749.9,886.3 L750.2,886.5 L751.9,886.8 L753.9,886.9 L755.9,886.9 L757.9,886.9 L759.1,887.0 L759.9,886.8 L760.1,886.8 L760.8,886.8 L761.3,886.2 L761.7,885.5 L761.9,884.5 L762.0,884.3 L762.3,883.2 L762.6,884.0 L762.9,885.4 L763.3,886.4 L763.8,886.8 L763.9,886.9 L764.5,886.8 L765.5,886.9 L765.9,887.0 L767.9,886.9 L769.9,887.0 L771.9,886.8 L772.6,886.9 L773.6,887.0 L773.9,886.8 L774.3,887.0 L774.8,886.7 L775.2,886.3 L775.5,885.8 L775.8,885.4 L775.9,885.3 L776.1,885.9 L776.4,886.3 L776.8,886.6 L777.3,887.0 L777.9,887.0 L778.0,886.9 L779.0,887.0 L779.9,886.9 L781.9,886.9 L783.9,887.1 L785.6,887.0 L785.9,887.0 L786.6,887.0 L787.3,886.6 L787.8,886.3 L787.9,886.2 L788.2,885.6 L788.5,884.1 L788.8,883.2 L789.1,884.2 L789.4,885.4 L789.8,886.4 L789.9,886.5 L790.3,886.8 L791.0,886.9 L791.9,887.0 L792.0,887.0 L793.9,886.9 L795.9,886.8 L796.5,886.7 L797.5,886.6 L797.9,886.6 L798.2,886.3 L798.7,885.4 L799.1,882.7 L799.4,878.6 L799.7,875.1 L799.9,876.6 L800.0,878.5 L800.3,882.9 L800.7,885.3 L801.2,886.5 L801.9,886.8 L801.9,886.8 L802.9,886.8 L803.9,886.8 L805.9,886.9 L807.4,887.0 L807.9,886.8 L808.4,886.9 L809.1,886.8 L809.6,886.3 L809.9,885.9 L810.0,885.6 L810.3,884.4 L810.6,883.5 L810.9,884.5 L811.2,885.5 L811.6,886.4 L811.9,886.6 L812.1,886.8 L812.8,886.8 L813.8,886.9 L813.9,887.0 L815.9,887.1 L817.9,887.0 L819.9,887.1 L821.9,886.9 L823.9,887.1 L825.9,887.2 L827.9,887.1 L829.9,886.9 L831.9,887.1 L833.9,887.1 L835.9,887.2 L837.9,887.2 L839.9,887.0 L841.1,887.0" fill="none" stroke="#7f0000" stroke-width="1.3" stroke-linejoin="round"/>
<path d="M632.5,896.0 L634.5,895.9 L636.5,896.2 L638.5,895.9 L640.5,895.9 L642.5,895.9 L644.5,896.2 L646.5,896.1 L648.5,896.2 L650.5,896.2 L652.5,895.9 L654.5,896.0 L656.5,896.0 L658.5,895.9 L660.5,896.0 L662.5,896.1 L664.5,896.1 L666.5,896.1 L668.5,895.9 L670.5,896.1 L672.5,896.0 L674.5,895.8 L676.5,895.5 L676.5,895.4 L677.5,894.7 L678.2,892.9 L678.5,891.6 L678.8,888.7 L679.1,876.7 L679.5,857.7 L679.8,840.9 L680.0,857.8 L680.4,877.0 L680.5,882.8 L680.8,888.7 L681.2,892.9 L682.0,894.7 L682.5,895.1 L683.0,895.3 L684.5,895.8 L686.5,895.8 L688.5,896.1 L690.5,895.9 L692.5,896.1 L694.5,896.2 L696.5,896.1 L698.5,895.9 L700.5,895.9 L702.2,896.1 L702.5,896.0 L703.2,895.9 L703.9,895.6 L704.4,895.4 L704.5,895.2 L704.8,894.4 L705.1,892.8 L705.4,891.9 L705.7,892.8 L706.0,894.4 L706.4,895.4 L706.5,895.3 L706.9,895.7 L707.6,896.0 L708.5,895.9 L708.6,896.1 L710.5,895.9 L712.5,896.0 L714.5,895.9 L716.5,896.0 L718.5,896.1 L720.5,896.0 L721.8,896.0 L722.5,895.9 L722.8,896.1 L723.5,895.8 L724.0,895.9 L724.4,895.4 L724.5,895.3 L724.7,894.6 L725.0,894.2 L725.3,894.7 L725.6,895.2 L726.0,895.8 L726.5,895.9 L726.5,895.9 L727.2,895.9 L728.2,895.9 L728.5,895.9 L730.5,896.0 L731.0,896.0 L732.0,896.0 L732.5,895.8 L732.7,895.8 L733.2,895.6 L733.6,895.3 L733.9,894.6 L734.2,894.0 L734.5,894.5 L734.5,894.7 L734.8,895.2 L735.2,895.5 L735.7,895.8 L736.4,895.9 L736.5,895.8 L737.4,895.6 L738.4,895.4 L738.5,895.5 L739.4,895.0 L740.1,893.6 L740.5,891.1 L740.6,890.0 L741.0,880.3 L741.3,864.5 L741.6,851.1 L741.9,864.7 L742.2,880.4 L742.5,888.8 L742.6,889.9 L743.1,893.7 L743.8,894.9 L744.5,895.2 L744.8,895.4 L746.5,895.7 L748.5,895.9 L750.5,896.1 L752.5,895.9 L753.6,896.1 L754.5,896.0 L754.6,895.9 L755.3,895.9 L755.8,895.5 L756.2,894.6 L756.5,893.6 L756.5,893.5 L756.8,892.7 L757.1,893.6 L757.4,894.8 L757.8,895.4 L758.3,895.8 L758.5,895.8 L759.0,895.8 L760.0,896.0 L760.5,896.0 L762.5,895.9 L764.5,896.0 L766.5,896.1 L767.1,895.9 L768.1,895.9 L768.5,895.9 L768.8,895.8 L769.3,895.6 L769.7,895.3 L770.0,894.7 L770.3,894.3 L770.5,894.5 L770.6,894.7 L770.9,895.4 L771.3,895.8 L771.8,895.8 L772.5,895.9 L772.5,895.9 L773.5,896.1 L774.5,896.0 L776.5,896.0 L778.5,896.0 L780.2,896.0 L780.5,895.9 L781.2,895.8 L781.9,895.9 L782.4,895.4 L782.5,895.2 L782.8,894.6 L783.1,893.3 L783.4,892.2 L783.7,893.4 L784.0,894.5 L784.4,895.5 L784.5,895.4 L784.9,895.6 L785.6,895.9 L786.5,896.1 L786.6,895.9 L788.5,896.0 L790.5,895.9 L791.1,895.9 L792.1,895.7 L792.5,895.5 L792.8,895.4 L793.3,894.5 L793.7,891.7 L794.0,887.8 L794.3,884.0 L794.5,886.4 L794.6,887.6 L794.9,892.0 L795.3,894.3 L795.8,895.4 L796.5,895.9 L796.5,895.8 L797.5,895.9 L798.5,896.1 L800.5,896.0 L802.0,896.0 L802.5,895.9 L803.0,895.9 L803.7,895.8 L804.2,895.4 L804.5,894.4 L804.6,894.1 L804.9,892.7 L805.2,891.8 L805.5,892.7 L805.8,894.3 L806.2,895.4 L806.5,895.7 L806.7,895.6 L807.4,895.8 L808.4,895.9 L808.5,896.0 L810.5,896.0 L812.5,896.1 L814.5,895.9 L816.5,896.1 L818.5,896.0 L820.5,896.0 L822.5,896.0 L824.5,896.1 L826.5,896.1 L828.5,896.0 L830.5,896.2 L832.5,896.0 L834.5,896.1 L835.6,895.9" fill="none" stroke="#7f007f" stroke-width="1.3" stroke-linejoin="round"/>
<path d="M627.1,905.0 L629.1,905.2 L631.1,905.2 L633.1,905.2 L635.1,905.1 L637.1,905.1 L639.1,905.1 L641.1,905.0 L643.1,905.1 L645.1,905.0 L647.1,905.0 L649.1,905.2 L651.1,905.0 L653.1,905.0 L655.1,905.0 L657.1,905.2 L659.1,905.0 L661.1,905.0 L663.1,905.2 L665.1,905.2 L667.1,904.9 L669.1,904.9 L671.1,904.8 L671.1,904.8 L672.1,904.4 L672.8,903.5 L673.1,902.5 L673.3,901.1 L673.7,894.7 L674.0,884.0 L674.3,875.0 L674.6,884.4 L674.9,894.6 L675.1,898.0 L675.3,901.0 L675.8,903.4 L676.5,904.2 L677.1,904.5 L677.5,904.6 L679.1,905.0 L681.1,905.0 L683.1,905.0 L685.1,905.0 L687.1,905.1 L689.1,905.0 L691.1,905.1 L693.1,905.1 L695.1,905.1 L696.8,905.1 L697.1,905.0 L697.8,905.1 L698.5,904.8 L699.0,904.6 L699.1,904.4 L699.4,903.6 L699.7,902.4 L700.0,901.4 L700.3,902.5 L700.6,903.5 L701.0,904.5 L701.1,904.5 L701.5,904.8 L702.2,904.9 L703.1,905.1 L703.2,905.1 L705.1,904.9 L707.1,905.2 L709.1,905.0 L711.1,905.0 L713.1,905.2 L715.1,905.0 L716.4,905.0 L717.1,904.9 L717.4,905.1 L718.1,904.8 L718.6,904.7 L719.0,904.3 L719.1,904.0 L719.3,903.7 L719.6,903.0 L719.9,903.5 L720.2,904.3 L720.6,904.6 L721.1,905.0 L721.1,904.9 L721.8,905.0 L722.8,905.0 L723.1,905.1 L725.1,905.1 L725.6,905.1 L726.6,905.0 L727.1,904.9 L727.3,905.0 L727.8,904.7 L728.2,904.4 L728.5,903.8 L728.8,903.5 L729.1,903.8 L729.1,903.8 L729.4,904.3 L729.8,904.7 L730.3,904.9 L731.0,905.0 L731.1,905.0 L732.0,904.9 L733.0,904.8 L733.1,904.7 L734.0,904.6 L734.7,903.8 L735.1,902.4 L735.2,902.1 L735.6,897.5 L735.9,889.8 L736.2,883.2 L736.5,889.8 L736.8,897.3 L737.1,901.7 L737.2,902.1 L737.7,903.8 L738.4,904.4 L739.1,904.7 L739.4,904.8 L741.1,904.9 L743.1,905.0 L745.1,905.0 L747.1,905.0 L748.2,905.1 L749.1,904.9 L749.2,905.0 L749.9,904.7 L750.4,904.6 L750.8,903.7 L751.1,902.5 L751.4,901.4 L751.7,902.3 L752.0,903.6 L752.4,904.5 L752.9,904.7 L753.1,904.8 L753.6,904.9 L754.6,905.1 L755.1,905.1 L757.1,905.1 L759.1,905.1 L761.1,905.1 L761.7,905.0 L762.7,904.9 L763.1,905.1 L763.4,904.9 L763.9,904.9 L764.3,904.5 L764.6,903.8 L764.9,903.4 L765.1,903.5 L765.2,903.8 L765.5,904.5 L765.9,904.8 L766.4,904.9 L767.1,904.9 L767.1,904.9 L768.1,905.1 L769.1,905.1 L771.1,905.2 L773.1,905.0 L774.8,905.1 L775.1,905.1 L775.8,905.1 L776.5,905.0 L777.0,904.4 L777.1,904.4 L777.4,903.5 L777.7,902.6 L778.0,901.5 L778.3,902.6 L778.6,903.8 L779.0,904.4 L779.1,904.7 L779.5,904.7 L780.2,905.0 L781.1,905.1 L781.2,904.9 L783.1,905.0 L785.1,904.9 L785.6,904.9 L786.6,905.0 L787.1,904.7 L787.3,904.6 L787.8,904.0 L788.2,902.0 L788.5,899.3 L788.8,896.5 L789.1,898.7 L789.1,899.4 L789.4,902.3 L789.8,903.9 L790.3,904.5 L791.0,905.0 L791.1,904.9 L792.0,904.9 L793.1,905.1 L795.1,904.9 L796.5,905.0 L797.1,905.1 L797.5,905.0 L798.2,904.8 L798.7,904.6 L799.1,903.8 L799.1,903.9 L799.4,902.6 L799.7,901.9 L800.0,902.6 L800.3,903.7 L800.7,904.6 L801.1,904.8 L801.2,904.8 L801.9,904.8 L802.9,904.9 L803.1,905.0 L805.1,905.1 L807.1,905.2 L809.1,904.9 L811.1,905.0 L813.1,905.0 L815.1,905.1 L817.1,905.1 L819.1,905.0 L821.1,905.0 L823.1,905.1 L825.1,905.2 L827.1,905.1 L829.1,905.0 L830.2,905.1" fill="none" stroke="#7f00ff" stroke-width="1.3" stroke-linejoin="round"/>
<path d="M621.7,914.2 L623.7,914.2 L625.7,914.1 L627.7,914.0 L629.7,914.0 L631.7,914.3 L633.7,914.0 L635.7,914.0 L637.7,914.0 L639.7,914.1 L641.7,914.2 L643.7,914.0 L645.7,914.0 L647.7,914.1 L649.7,914.0 L651.7,914.2 L653.7,914.2 L655.7,914.1 L657.7,914.0 L659.7,914.2 L661.7,914.0 L663.7,913.9 L665.7,913.9 L665.7,913.8 L666.7,913.4 L667.4,912.6 L667.7,911.9 L667.9,910.6 L668.3,904.5 L668.6,895.1 L668.9,887.2 L669.2,895.6 L669.5,904.7 L669.7,907.9 L669.9,910.6 L670.4,912.6 L671.1,913.3 L671.7,913.6 L672.1,913.8 L673.7,914.0 L675.7,914.0 L677.7,914.2 L679.7,914.2 L681.7,914.2 L683.7,914.1 L685.7,914.2 L687.7,914.1 L689.7,914.1 L691.4,914.1 L691.7,914.1 L692.4,914.1 L693.1,913.7 L693.6,913.5 L693.7,913.4 L694.0,912.4 L694.3,910.9 L694.6,910.1 L694.9,911.0 L695.2,912.5 L695.6,913.4 L695.7,913.7 L696.1,914.0 L696.8,913.8 L697.7,913.9 L697.8,914.1 L699.7,914.1 L701.7,914.2 L703.7,914.0 L705.7,914.1 L707.7,914.0 L709.7,914.0 L711.0,914.0 L711.7,913.9 L712.0,914.1 L712.7,914.1 L713.2,913.8 L713.6,913.3 L713.7,913.1 L713.9,912.6 L714.2,911.9 L714.5,912.3 L714.8,913.2 L715.2,913.6 L715.7,913.8 L715.7,914.1 L716.4,914.0 L717.4,914.1 L717.7,914.2 L719.7,913.9 L720.1,914.1 L721.1,914.0 L721.7,913.9 L721.8,913.8 L722.3,913.7 L722.7,913.4 L723.0,912.8 L723.3,912.4 L723.6,912.6 L723.7,912.8 L723.9,913.4 L724.3,913.9 L724.8,914.0 L725.5,914.0 L725.7,913.9 L726.5,913.8 L727.5,913.8 L727.7,914.0 L728.5,913.5 L729.2,913.0 L729.7,911.6 L729.7,911.3 L730.1,907.3 L730.4,900.4 L730.7,894.1 L731.0,900.0 L731.3,907.0 L731.7,911.3 L731.7,911.4 L732.2,912.9 L732.9,913.7 L733.7,913.9 L733.9,913.9 L735.7,914.1 L737.7,914.1 L739.7,914.2 L741.7,914.1 L742.8,914.1 L743.7,913.9 L743.8,914.1 L744.5,913.7 L745.0,913.4 L745.4,912.4 L745.7,910.6 L745.7,910.7 L746.0,909.5 L746.3,910.7 L746.6,912.2 L747.0,913.5 L747.5,913.8 L747.7,914.0 L748.2,913.8 L749.2,913.9 L749.7,914.0 L751.7,914.1 L753.7,914.2 L755.7,914.0 L756.3,914.1 L757.3,914.0 L757.7,914.1 L758.0,914.1 L758.5,913.9 L758.9,913.3 L759.2,912.7 L759.5,912.3 L759.7,912.5 L759.8,912.8 L760.1,913.4 L760.5,913.9 L761.0,914.1 L761.7,914.0 L761.7,914.1 L762.7,914.2 L763.7,914.1 L765.7,914.2 L767.7,914.0 L769.3,914.2 L769.7,913.9 L770.3,914.1 L771.0,913.7 L771.5,913.5 L771.7,913.3 L771.9,912.6 L772.2,911.5 L772.5,910.6 L772.8,911.5 L773.1,912.7 L773.5,913.4 L773.7,913.5 L774.0,913.7 L774.7,914.1 L775.7,914.1 L775.7,913.9 L777.7,914.2 L779.7,913.9 L780.2,914.0 L781.2,913.7 L781.7,913.8 L781.9,913.4 L782.4,912.8 L782.8,911.0 L783.1,908.3 L783.4,906.0 L783.7,908.1 L784.0,910.9 L784.4,912.8 L784.9,913.4 L785.6,913.9 L785.7,913.8 L786.6,914.1 L787.7,914.1 L789.7,914.0 L791.1,914.0 L791.7,914.1 L792.1,914.1 L792.8,914.0 L793.3,913.5 L793.7,912.8 L793.7,912.8 L794.0,911.8 L794.3,910.9 L794.6,911.7 L794.9,912.7 L795.3,913.6 L795.7,913.9 L795.8,914.0 L796.5,913.9 L797.5,914.1 L797.7,914.0 L799.7,914.2 L801.7,914.0 L803.7,914.2 L805.7,914.0 L807.7,914.0 L809.7,914.1 L811.7,914.3 L813.7,914.0 L815.7,914.1 L817.7,914.0 L819.7,914.2 L821.7,914.2 L823.7,914.0 L824.8,914.2" fill="none" stroke="#00007f" stroke-width="1.3" stroke-linejoin="round"/>
<path d="M616.3,923.2 L618.3,923.3 L620.3,923.1 L622.3,923.1 L624.3,923.1 L626.3,923.2 L628.3,923.1 L630.3,923.2 L632.3,923.1 L634.3,923.3 L636.3,923.1 L638.3,923.0 L640.3,923.2 L642.3,923.2 L644.3,923.2 L646.3,923.2 L648.3,923.3 L650.3,923.0 L652.3,923.2 L654.3,923.2 L656.3,923.2 L658.3,923.1 L660.3,922.7 L660.3,923.0 L661.3,922.6 L662.0,921.6 L662.3,920.9 L662.5,919.8 L662.9,913.8 L663.2,904.5 L663.5,896.2 L663.8,904.1 L664.1,913.8 L664.3,917.1 L664.5,919.5 L665.0,921.8 L665.7,922.6 L666.3,922.7 L666.7,922.8 L668.3,923.1 L670.3,923.2 L672.3,923.2 L674.3,923.3 L676.3,923.1 L678.3,923.1 L680.3,923.3 L682.3,923.1 L684.3,923.1 L686.0,923.2 L686.3,923.0 L687.0,922.9 L687.7,922.9 L688.2,922.6 L688.3,922.3 L688.6,921.8 L688.9,920.6 L689.2,919.6 L689.5,920.5 L689.8,921.8 L690.2,922.7 L690.3,922.7 L690.7,922.9 L691.4,922.9 L692.3,923.0 L692.4,923.0 L694.3,923.1 L696.3,923.1 L698.3,923.3 L700.3,923.2 L702.3,923.0 L704.3,923.0 L705.6,923.2 L706.3,923.1 L706.6,923.0 L707.3,923.0 L707.8,922.7 L708.2,922.3 L708.3,921.8 L708.5,921.3 L708.8,920.8 L709.1,921.4 L709.4,922.0 L709.8,922.7 L710.3,922.8 L710.3,922.9 L711.0,923.0 L712.0,923.0 L712.3,923.0 L714.3,923.3 L714.7,923.1 L715.7,923.2 L716.3,923.0 L716.4,923.1 L716.9,922.8 L717.3,922.3 L717.6,921.9 L717.9,921.6 L718.2,921.9 L718.3,922.1 L718.5,922.3 L718.9,922.9 L719.4,923.0 L720.1,923.0 L720.3,923.1 L721.1,923.0 L722.1,922.8 L722.3,922.9 L723.1,922.7 L723.8,922.1 L724.3,920.5 L724.3,920.6 L724.7,916.2 L725.0,909.2 L725.3,903.2 L725.6,909.4 L725.9,916.3 L726.3,920.5 L726.3,920.6 L726.8,922.1 L727.5,922.5 L728.3,922.8 L728.5,922.9 L730.3,923.0 L732.3,923.2 L734.3,923.1 L736.3,923.1 L737.3,923.1 L738.3,923.0 L738.3,923.0 L739.0,922.9 L739.5,922.5 L739.9,921.6 L740.2,920.1 L740.3,919.9 L740.5,919.1 L740.8,920.3 L741.1,921.6 L741.5,922.4 L742.0,922.9 L742.3,922.9 L742.7,923.0 L743.7,923.2 L744.3,923.0 L746.3,923.2 L748.3,923.1 L750.3,923.2 L750.8,923.3 L751.8,923.0 L752.3,923.1 L752.5,923.2 L753.0,923.0 L753.4,922.6 L753.7,922.0 L754.0,921.9 L754.3,922.1 L754.3,922.0 L754.6,922.5 L755.0,923.0 L755.5,923.1 L756.2,923.2 L756.3,923.1 L757.2,923.1 L758.3,923.0 L760.3,923.1 L762.3,923.1 L763.9,923.0 L764.3,923.0 L764.9,922.9 L765.6,922.9 L766.1,922.4 L766.3,922.0 L766.5,921.4 L766.8,920.3 L767.1,919.1 L767.4,920.4 L767.7,921.5 L768.1,922.5 L768.3,922.7 L768.6,922.7 L769.3,923.0 L770.3,923.1 L770.3,923.0 L772.3,923.0 L774.3,923.0 L774.8,923.1 L775.8,922.9 L776.3,922.7 L776.5,922.5 L777.0,921.9 L777.4,919.9 L777.7,917.1 L778.0,915.2 L778.3,917.2 L778.3,917.5 L778.6,919.8 L779.0,921.8 L779.5,922.6 L780.2,923.0 L780.3,923.0 L781.2,923.1 L782.3,923.1 L784.3,923.1 L785.6,923.2 L786.3,922.9 L786.6,923.1 L787.3,922.8 L787.8,922.4 L788.2,921.5 L788.3,921.5 L788.5,920.3 L788.8,919.2 L789.1,920.4 L789.4,921.7 L789.8,922.5 L790.3,922.9 L790.3,922.8 L791.0,922.9 L792.0,923.1 L792.3,923.0 L794.3,923.1 L796.3,923.2 L798.3,923.1 L800.3,923.2 L802.3,923.2 L804.3,923.1 L806.3,923.2 L808.3,923.0 L810.3,923.1 L812.3,923.2 L814.3,923.3 L816.3,923.2 L818.3,923.2 L819.3,923.2" fill="none" stroke="#007f00" stroke-width="1.3" stroke-linejoin="round"/>
<path d="M610.9,932.1 L612.9,932.3 L614.9,932.2 L616.9,932.1 L618.9,932.3 L620.9,932.3 L622.9,932.1 L624.9,932.1 L626.9,932.2 L628.9,932.3 L630.9,932.1 L632.9,932.2 L634.9,932.1 L636.9,932.1 L638.9,932.1 L640.9,932.2 L642.9,932.3 L644.9,932.3 L646.9,932.2 L648.9,932.2 L650.9,932.2 L652.9,932.2 L654.9,931.8 L655.9,931.5 L656.6,930.8 L656.9,929.7 L657.1,928.6 L657.5,923.0 L657.8,913.5 L658.1,905.1 L658.4,913.4 L658.7,922.7 L658.9,926.6 L659.1,928.7 L659.6,930.6 L660.3,931.5 L660.9,931.7 L661.3,932.0 L662.9,932.1 L664.9,932.1 L666.9,932.2 L668.9,932.1 L670.9,932.2 L672.9,932.1 L674.9,932.2 L676.9,932.2 L678.9,932.3 L680.6,932.2 L680.9,932.0 L681.6,932.2 L682.3,932.0 L682.8,931.6 L682.9,931.3 L683.2,930.5 L683.5,929.2 L683.8,928.1 L684.1,929.3 L684.4,930.7 L684.8,931.4 L684.9,931.7 L685.3,931.8 L686.0,932.1 L686.9,932.2 L687.0,932.2 L688.9,932.3 L690.9,932.1 L692.9,932.2 L694.9,932.2 L696.9,932.2 L698.9,932.2 L700.2,932.3 L700.9,932.0 L701.2,932.1 L701.9,931.9 L702.4,931.8 L702.8,931.0 L702.9,930.7 L703.1,930.3 L703.4,929.3 L703.7,930.1 L704.0,931.1 L704.4,931.6 L704.9,931.9 L704.9,932.1 L705.6,932.1 L706.6,932.0 L706.9,932.2 L708.9,932.0 L709.3,932.2 L710.3,932.1 L710.9,932.0 L711.0,932.1 L711.5,931.9 L711.9,931.3 L712.2,930.7 L712.5,930.1 L712.8,930.8 L712.9,931.1 L713.1,931.4 L713.5,931.9 L714.0,931.8 L714.7,932.1 L714.9,932.0 L715.7,932.1 L716.7,931.9 L716.9,931.9 L717.7,931.7 L718.4,931.1 L718.9,929.4 L718.9,929.0 L719.3,924.6 L719.6,916.9 L719.9,910.3 L720.2,917.0 L720.5,924.6 L720.9,929.4 L720.9,929.4 L721.4,931.0 L722.1,931.7 L722.9,931.8 L723.1,932.1 L724.9,932.2 L726.9,932.0 L728.9,932.3 L730.9,932.2 L731.9,932.0 L732.9,931.9 L732.9,932.1 L733.6,931.9 L734.1,931.4 L734.5,930.4 L734.8,928.6 L734.9,928.4 L735.1,927.5 L735.4,928.8 L735.7,930.4 L736.1,931.4 L736.6,932.0 L736.9,931.9 L737.3,932.1 L738.3,932.0 L738.9,932.1 L740.9,932.2 L742.9,932.3 L744.9,932.2 L745.4,932.3 L746.4,932.0 L746.9,932.2 L747.1,932.1 L747.6,931.9 L748.0,931.6 L748.3,930.9 L748.6,930.6 L748.9,930.9 L748.9,930.9 L749.2,931.6 L749.6,932.0 L750.1,932.2 L750.8,932.2 L750.9,932.0 L751.8,932.2 L752.9,932.1 L754.9,932.3 L756.9,932.2 L758.4,932.2 L758.9,932.1 L759.4,932.1 L760.1,932.1 L760.6,931.6 L760.9,931.2 L761.0,930.8 L761.3,929.3 L761.6,928.5 L761.9,929.3 L762.2,930.5 L762.6,931.5 L762.9,931.7 L763.1,931.8 L763.8,932.2 L764.8,932.2 L764.9,932.3 L766.9,932.1 L768.9,932.1 L769.3,932.1 L770.3,932.0 L770.9,931.8 L771.0,931.7 L771.5,931.2 L771.9,929.2 L772.2,926.4 L772.5,923.8 L772.8,926.4 L772.9,927.4 L773.1,929.1 L773.5,931.0 L774.0,931.7 L774.7,932.1 L774.9,932.2 L775.7,932.2 L776.9,932.2 L778.9,932.2 L780.2,932.2 L780.9,932.2 L781.2,932.1 L781.9,931.9 L782.4,931.6 L782.8,930.4 L782.9,930.1 L783.1,929.1 L783.4,928.2 L783.7,929.2 L784.0,930.5 L784.4,931.6 L784.9,932.1 L785.6,932.0 L786.6,932.1 L786.9,932.2 L788.9,932.3 L790.9,932.1 L792.9,932.2 L794.9,932.4 L796.9,932.3 L798.9,932.3 L800.9,932.1 L802.9,932.3 L804.9,932.1 L806.9,932.1 L808.9,932.3 L810.9,932.2 L812.9,932.3 L813.9,932.1" fill="none" stroke="#ff00ff" stroke-width="1.3" stroke-linejoin="round"/>
<path d="M605.5,941.2 L607.5,941.2 L609.5,941.2 L611.5,941.2 L613.5,941.3 L615.5,941.4 L617.5,941.2 L619.5,941.3 L621.5,941.3 L623.5,941.1 L625.5,941.4 L627.5,941.2 L629.5,941.4 L631.5,941.2 L633.5,941.2 L635.5,941.3 L637.5,941.2 L639.5,941.1 L641.5,941.2 L643.5,941.2 L645.5,941.3 L647.5,941.3 L649.5,941.1 L649.5,941.1 L650.5,941.0 L651.2,940.5 L651.5,940.0 L651.7,939.2 L652.1,936.0 L652.4,930.9 L652.7,926.3 L653.0,930.8 L653.3,936.0 L653.5,938.0 L653.7,939.3 L654.2,940.5 L654.9,940.8 L655.5,941.1 L655.9,941.1 L657.5,941.2 L659.5,941.1 L661.5,941.2 L663.5,941.2 L665.5,941.3 L667.5,941.2 L669.5,941.2 L671.5,941.3 L673.5,941.1 L675.1,941.1 L675.5,941.3 L676.1,941.2 L676.9,941.0 L677.4,940.6 L677.5,940.4 L677.8,939.5 L678.0,938.1 L678.4,936.8 L678.6,938.0 L679.0,939.6 L679.4,940.6 L679.5,940.7 L679.9,941.0 L680.5,941.2 L681.5,941.3 L681.5,941.3 L683.5,941.1 L685.5,941.2 L687.5,941.4 L689.5,941.2 L691.5,941.1 L693.5,941.2 L694.7,941.3 L695.5,941.2 L695.7,941.2 L696.4,941.1 L696.9,940.7 L697.3,940.2 L697.5,939.4 L697.6,939.0 L697.9,938.3 L698.2,938.9 L698.5,940.0 L698.9,940.8 L699.4,941.1 L699.5,941.2 L700.1,941.3 L701.1,941.1 L701.5,941.1 L703.5,941.3 L703.9,941.3 L704.9,941.1 L705.5,941.0 L705.6,941.0 L706.1,941.1 L706.5,940.5 L706.8,940.0 L707.1,939.6 L707.4,940.1 L707.5,940.4 L707.7,940.5 L708.1,941.0 L708.6,941.1 L709.3,941.1 L709.5,941.2 L710.3,941.0 L711.2,941.2 L711.5,941.2 L712.2,940.9 L713.0,940.6 L713.5,939.7 L713.5,939.6 L713.9,937.3 L714.1,933.5 L714.5,930.3 L714.8,933.5 L715.0,937.5 L715.5,939.8 L715.5,939.9 L716.0,940.8 L716.6,940.9 L717.5,941.2 L717.6,941.1 L719.5,941.1 L721.5,941.3 L723.5,941.4 L725.5,941.2 L726.5,941.3 L727.5,941.1 L727.5,941.3 L728.2,940.9 L728.7,940.6 L729.1,939.8 L729.4,938.8 L729.5,938.3 L729.7,937.9 L730.0,938.8 L730.3,939.9 L730.7,940.7 L731.2,941.0 L731.5,941.0 L731.9,941.0 L732.9,941.1 L733.5,941.3 L735.5,941.3 L737.5,941.3 L739.5,941.2 L740.0,941.3 L741.0,941.3 L741.5,941.3 L741.7,941.2 L742.2,940.9 L742.6,940.3 L742.9,939.6 L743.2,939.2 L743.5,939.6 L743.5,939.7 L743.8,940.4 L744.2,940.8 L744.7,941.2 L745.4,941.1 L745.5,941.2 L746.4,941.3 L747.5,941.2 L749.5,941.1 L751.5,941.2 L753.0,941.1 L753.5,941.2 L754.0,941.2 L754.7,940.8 L755.2,940.7 L755.5,940.1 L755.6,939.6 L755.9,938.4 L756.2,937.6 L756.5,938.4 L756.8,939.7 L757.2,940.6 L757.5,940.9 L757.7,941.0 L758.4,941.1 L759.4,941.2 L759.5,941.3 L761.5,941.3 L763.5,941.0 L763.9,941.1 L764.9,941.1 L765.5,940.7 L765.6,940.9 L766.1,940.3 L766.5,938.7 L766.8,936.7 L767.1,935.1 L767.4,936.6 L767.5,937.6 L767.7,938.7 L768.1,940.3 L768.6,940.8 L769.3,941.0 L769.5,941.2 L770.3,941.2 L771.5,941.3 L773.5,941.2 L774.8,941.1 L775.5,941.1 L775.8,941.0 L776.5,940.8 L777.0,940.6 L777.4,939.3 L777.5,938.7 L777.6,938.0 L778.0,936.7 L778.2,937.9 L778.5,939.5 L779.0,940.3 L779.5,940.9 L779.5,940.9 L780.1,941.2 L781.1,941.1 L781.5,941.3 L783.5,941.3 L785.5,941.3 L787.5,941.4 L789.5,941.2 L791.5,941.3 L793.5,941.3 L795.5,941.2 L797.5,941.3 L799.5,941.1 L801.5,941.2 L803.5,941.2 L805.5,941.2 L807.5,941.1 L808.4,941.2" fill="none" stroke="#0000ff" stroke-width="1.3" stroke-linejoin="round"/>
<path d="M600.1,950.4 L602.1,950.3 L604.1,950.2 L606.1,950.2 L608.1,950.2 L610.1,950.4 L612.1,950.3 L614.1,950.4 L616.1,950.3 L618.1,950.2 L620.1,950.4 L622.1,950.2 L624.1,950.3 L626.1,950.4 L628.1,950.4 L630.1,950.3 L632.1,950.2 L634.1,950.3 L636.1,950.4 L638.1,950.4 L640.1,950.4 L642.1,950.2 L644.1,950.2 L644.1,950.1 L645.1,950.0 L645.8,949.5 L646.1,949.1 L646.3,948.7 L646.7,945.6 L647.0,941.2 L647.3,937.2 L647.6,941.2 L647.9,945.6 L648.1,947.8 L648.3,948.6 L648.8,949.7 L649.5,950.0 L650.1,950.0 L650.5,950.1 L652.1,950.4 L654.1,950.4 L656.1,950.2 L658.1,950.2 L660.1,950.3 L662.1,950.3 L664.1,950.4 L666.1,950.2 L668.1,950.3 L669.7,950.1 L670.1,950.2 L670.7,950.3 L671.4,950.1 L671.9,949.8 L672.1,949.3 L672.3,948.9 L672.6,947.9 L672.9,947.0 L673.2,947.7 L673.5,948.9 L673.9,949.7 L674.1,949.9 L674.4,950.1 L675.1,950.3 L676.1,950.2 L676.1,950.3 L678.1,950.4 L680.1,950.3 L682.1,950.1 L684.1,950.4 L686.1,950.4 L688.1,950.2 L689.3,950.3 L690.1,950.3 L690.3,950.2 L691.0,950.1 L691.5,949.7 L691.9,949.0 L692.1,948.2 L692.2,947.8 L692.5,947.2 L692.8,947.9 L693.1,948.9 L693.5,949.6 L694.0,950.0 L694.1,950.0 L694.7,950.1 L695.7,950.3 L696.1,950.3 L698.1,950.2 L698.4,950.1 L699.4,950.1 L700.1,950.1 L700.1,950.2 L700.6,949.9 L701.0,949.5 L701.3,948.9 L701.6,948.4 L701.9,948.9 L702.1,949.2 L702.2,949.5 L702.6,950.1 L703.1,950.2 L703.8,950.2 L704.1,950.0 L704.8,950.2 L705.8,950.2 L706.1,950.2 L706.8,950.1 L707.5,949.8 L708.0,949.1 L708.1,948.9 L708.4,946.7 L708.7,943.3 L709.0,940.3 L709.3,943.4 L709.6,946.9 L710.0,949.1 L710.1,949.3 L710.5,949.8 L711.2,950.1 L712.1,950.1 L712.2,950.2 L714.1,950.1 L716.1,950.3 L718.1,950.1 L720.1,950.2 L721.1,950.4 L722.1,950.3 L722.1,950.1 L722.8,949.9 L723.2,949.7 L723.6,948.7 L724.0,947.5 L724.1,946.8 L724.2,946.7 L724.6,947.6 L724.9,948.7 L725.2,949.7 L725.8,950.1 L726.1,950.3 L726.5,950.3 L727.5,950.3 L728.1,950.2 L730.1,950.4 L732.1,950.3 L734.1,950.4 L734.5,950.2 L735.5,950.1 L736.1,950.1 L736.2,950.2 L736.7,949.9 L737.1,949.4 L737.4,948.9 L737.7,948.6 L738.0,948.8 L738.1,949.0 L738.3,949.6 L738.7,950.1 L739.2,950.2 L739.9,950.2 L740.1,950.1 L740.9,950.2 L742.1,950.1 L744.1,950.4 L746.1,950.3 L747.6,950.1 L748.1,950.1 L748.6,950.2 L749.3,949.9 L749.8,949.6 L750.1,949.0 L750.2,948.6 L750.5,947.3 L750.8,946.1 L751.1,947.2 L751.4,948.6 L751.8,949.6 L752.1,950.0 L752.3,950.0 L753.0,950.3 L754.0,950.1 L754.1,950.2 L756.1,950.1 L758.1,950.3 L758.4,950.1 L759.4,950.0 L760.1,949.9 L760.1,950.0 L760.6,949.4 L761.0,947.9 L761.3,945.7 L761.6,944.4 L761.9,945.7 L762.1,947.0 L762.2,947.8 L762.6,949.2 L763.1,949.8 L763.8,950.0 L764.1,950.1 L764.8,950.2 L766.1,950.2 L768.1,950.3 L769.3,950.1 L770.1,950.1 L770.3,950.0 L771.0,950.0 L771.5,949.5 L771.9,948.4 L772.1,947.6 L772.2,947.1 L772.5,945.9 L772.8,946.9 L773.1,948.6 L773.5,949.7 L774.0,950.0 L774.1,950.0 L774.7,950.1 L775.7,950.3 L776.1,950.1 L778.1,950.4 L780.1,950.2 L782.1,950.4 L784.1,950.4 L786.1,950.4 L788.1,950.4 L790.1,950.3 L792.1,950.3 L794.1,950.4 L796.1,950.2 L798.1,950.3 L800.1,950.4 L802.1,950.4 L803.0,950.2" fill="none" stroke="#ff0000" stroke-width="1.3" stroke-linejoin="round"/>
<path d="M594.7,959.2 L596.7,959.4 L598.7,959.5 L600.7,959.3 L602.7,959.4 L604.7,959.2 L606.7,959.3 L608.7,959.3 L610.7,959.4 L612.7,959.2 L614.7,959.3 L616.7,959.4 L618.7,959.2 L618.7,959.4 L619.7,959.2 L620.4,959.3 L620.7,959.0 L620.9,958.9 L621.3,958.2 L621.6,957.6 L621.9,956.8 L622.2,957.5 L622.5,958.2 L622.7,958.6 L622.9,958.8 L623.4,959.2 L624.1,959.3 L624.7,959.3 L625.1,959.3 L626.7,959.3 L628.7,959.2 L630.0,958.9 L630.7,958.7 L631.0,958.7 L631.7,957.6 L632.2,955.7 L632.6,949.6 L632.7,946.2 L632.9,939.9 L633.2,931.2 L633.5,939.8 L633.8,949.4 L634.2,955.5 L634.7,957.9 L634.7,957.9 L635.4,958.6 L636.4,958.9 L636.7,959.2 L638.7,959.2 L640.7,959.3 L642.7,959.3 L644.7,959.3 L646.7,959.2 L648.7,959.4 L650.7,959.2 L652.7,959.4 L654.7,959.3 L656.7,959.2 L658.7,959.4 L660.7,959.2 L662.7,959.2 L664.7,959.4 L666.7,959.5 L668.7,959.5 L670.7,959.2 L672.7,959.5 L674.7,959.2 L676.7,959.5 L678.7,959.3 L680.7,959.5 L682.7,959.4 L684.7,959.3 L686.7,959.5 L688.7,959.4 L690.7,959.2 L692.7,959.3 L694.7,959.2 L696.7,959.2 L698.7,959.5 L700.7,959.4 L702.7,959.3 L704.7,959.3 L706.7,959.5 L708.7,959.3 L710.7,959.4 L712.7,959.4 L714.7,959.5 L716.7,959.5 L718.7,959.2 L720.7,959.4 L722.7,959.2 L724.7,959.5 L726.7,959.4 L728.7,959.5 L730.7,959.4 L732.7,959.4 L734.7,959.3 L736.7,959.5 L738.7,959.3 L740.7,959.3 L742.7,959.5 L744.7,959.4 L746.7,959.4 L748.7,959.2 L750.7,959.4 L752.7,959.4 L754.7,959.2 L756.7,959.2 L758.7,959.3 L760.7,959.4 L762.7,959.4 L764.7,959.4 L766.7,959.5 L768.7,959.5 L770.7,959.3 L772.7,959.4 L774.7,959.3 L776.7,959.4 L778.7,959.5 L780.7,959.3 L782.7,959.3 L784.7,959.3 L786.7,959.3 L788.7,959.3 L790.7,959.2 L792.7,959.2 L794.7,959.3 L796.7,959.4 L797.5,959.4" fill="none" stroke="#000000" stroke-width="1.45" stroke-linejoin="round"/>
<text x="707.1" y="759" font-size="11.0" text-anchor="middle" fill="#111" >(100)</text>
<text x="767.3" y="778.6" font-size="11.0" text-anchor="middle" fill="#111" >(200)</text>
<text x="732.7" y="842.5" font-size="11.0" text-anchor="middle" fill="#111" >(011)</text>
<text x="820.7" y="838" font-size="11.0" text-anchor="middle" fill="#111" >(022)</text>
<text x="633.3" y="930.5" font-size="11.0" text-anchor="middle" fill="#111" >α</text>
<text x="622.9" y="955" font-size="11.0" text-anchor="middle" fill="#111" >β</text>
<text transform="translate(805.3,963.8) rotate(-7)" font-size="10.6" fill="#111">0</text>
<text transform="translate(810.5,954.9) rotate(-7)" font-size="10.6" fill="#111">3</text>
<text transform="translate(815.8,945.9) rotate(-7)" font-size="10.6" fill="#111">5</text>
<text transform="translate(821,937) rotate(-7)" font-size="10.6" fill="#111">10</text>
<text transform="translate(826.3,928) rotate(-7)" font-size="10.6" fill="#111">15</text>
<text transform="translate(831.5,919.1) rotate(-7)" font-size="10.6" fill="#111">20</text>
<text transform="translate(836.8,910.1) rotate(-7)" font-size="10.6" fill="#111">30</text>
<text transform="translate(842,901.2) rotate(-7)" font-size="10.6" fill="#111">60</text>
<text transform="translate(847.2,892.3) rotate(-7)" font-size="10.6" fill="#111">180</text>
<text transform="translate(852.5,883.3) rotate(-7)" font-size="10.6" fill="#111">300</text>
<text transform="translate(857.7,874.4) rotate(-7)" font-size="10.6" fill="#111">600</text>
<text transform="translate(863,865.4) rotate(-7)" font-size="10.6" fill="#111">1800</text>
<text transform="translate(868.2,856.5) rotate(-7)" font-size="10.6" fill="#111">3600</text>
<text x="866.6" y="828" font-size="14" text-anchor="start" fill="#000" >1.1</text>
<text x="866.6" y="798.2" font-size="14" text-anchor="start" fill="#000" >2.2</text>
<text x="866.6" y="768.3" font-size="14" text-anchor="start" fill="#000" >3.3</text>
<text x="866.6" y="738.3" font-size="14" text-anchor="start" fill="#000" >4.4</text>
<text transform="translate(901.2,785.4) rotate(-90)" font-size="14.6" text-anchor="middle">Intensity (10<tspan font-size="8.5" dy="-5.5">5</tspan><tspan dy="5.5">)</tspan></text>
<text transform="translate(873.5,917.5) rotate(-57.5)" font-size="14.6" text-anchor="middle">Annealing time (s)</text>
<text x="707.1" y="987.1" font-size="14.6" text-anchor="middle" fill="#000" >2 Theta (degree)</text>
<text x="589.9" y="749.6" font-size="26.8" fill="#000" textLength="31.1" lengthAdjust="spacingAndGlyphs">(h)</text>
<text x="856.4" y="749.7" font-size="20.5" text-anchor="end" fill="#000" >Control</text>
<line x1="1003.5" y1="731.1" x2="1003.5" y2="850" stroke="#d9d9d9" stroke-width="0.8" />
<line x1="1003.5" y1="850" x2="939.4" y2="958.4" stroke="#d9d9d9" stroke-width="0.8" />
<line x1="1046.9" y1="731.1" x2="1046.9" y2="850" stroke="#d9d9d9" stroke-width="0.8" />
<line x1="1046.9" y1="850" x2="982.8" y2="958.4" stroke="#d9d9d9" stroke-width="0.8" />
<line x1="1090.3" y1="731.1" x2="1090.3" y2="850" stroke="#d9d9d9" stroke-width="0.8" />
<line x1="1090.3" y1="850" x2="1026.3" y2="958.4" stroke="#d9d9d9" stroke-width="0.8" />
<line x1="1133.6" y1="731.1" x2="1133.6" y2="850" stroke="#d9d9d9" stroke-width="0.8" />
<line x1="1133.6" y1="850" x2="1069.7" y2="958.4" stroke="#d9d9d9" stroke-width="0.8" />
<line x1="974.7" y1="820.3" x2="1177" y2="820.3" stroke="#d9d9d9" stroke-width="0.8" />
<line x1="974.7" y1="820.3" x2="910.5" y2="928.7" stroke="#d9d9d9" stroke-width="0.8" />
<line x1="974.7" y1="790.5" x2="1177" y2="790.5" stroke="#d9d9d9" stroke-width="0.8" />
<line x1="974.7" y1="790.5" x2="910.5" y2="898.9" stroke="#d9d9d9" stroke-width="0.8" />
<line x1="974.7" y1="760.8" x2="1177" y2="760.8" stroke="#d9d9d9" stroke-width="0.8" />
<line x1="974.7" y1="760.8" x2="910.5" y2="869.2" stroke="#d9d9d9" stroke-width="0.8" />
<line x1="923.3" y1="936.7" x2="923.3" y2="817.8" stroke="#d9d9d9" stroke-width="0.8" />
<line x1="936.2" y1="915" x2="936.2" y2="796.1" stroke="#d9d9d9" stroke-width="0.8" />
<line x1="949" y1="893.4" x2="949" y2="774.5" stroke="#d9d9d9" stroke-width="0.8" />
<line x1="961.9" y1="871.7" x2="961.9" y2="752.8" stroke="#d9d9d9" stroke-width="0.8" />
<line x1="974.7" y1="731.1" x2="974.7" y2="850" stroke="#bbb" stroke-width="0.9" />
<line x1="974.7" y1="850" x2="1177" y2="850" stroke="#bbb" stroke-width="0.9" />
<line x1="974.7" y1="850" x2="910.5" y2="958.4" stroke="#bbb" stroke-width="0.9" />
<path d="M1113.2,958.4 L910.5,958.4 L910.5,839.5 L974.7,731.1 L1177,731.1 L1177,850 L1113.2,958.4" fill="none" stroke="#000" stroke-width="1.35" stroke-linejoin="miter"/>
<line x1="1177" y1="850" x2="1173" y2="850" stroke="#000" stroke-width="1.3" />
<line x1="1177" y1="835.1" x2="1174.6" y2="835.1" stroke="#000" stroke-width="1.0" />
<line x1="1177" y1="820.3" x2="1173" y2="820.3" stroke="#000" stroke-width="1.3" />
<line x1="1177" y1="805.4" x2="1174.6" y2="805.4" stroke="#000" stroke-width="1.0" />
<line x1="1177" y1="790.5" x2="1173" y2="790.5" stroke="#000" stroke-width="1.3" />
<line x1="1177" y1="775.7" x2="1174.6" y2="775.7" stroke="#000" stroke-width="1.0" />
<line x1="1177" y1="760.8" x2="1173" y2="760.8" stroke="#000" stroke-width="1.3" />
<line x1="1177" y1="746" x2="1174.6" y2="746" stroke="#000" stroke-width="1.0" />
<line x1="1177" y1="731.1" x2="1173" y2="731.1" stroke="#000" stroke-width="1.3" />
<line x1="939.4" y1="958.4" x2="939.4" y2="954.4" stroke="#000" stroke-width="1.3" />
<text x="940.2" y="972" font-size="14" text-anchor="middle" fill="#000" >10</text>
<line x1="982.8" y1="958.4" x2="982.8" y2="954.4" stroke="#000" stroke-width="1.3" />
<text x="983.6" y="972" font-size="14" text-anchor="middle" fill="#000" >20</text>
<line x1="1026.3" y1="958.4" x2="1026.3" y2="954.4" stroke="#000" stroke-width="1.3" />
<text x="1027.1" y="972" font-size="14" text-anchor="middle" fill="#000" >30</text>
<line x1="1069.7" y1="958.4" x2="1069.7" y2="954.4" stroke="#000" stroke-width="1.3" />
<text x="1070.5" y="972" font-size="14" text-anchor="middle" fill="#000" >40</text>
<line x1="1113.2" y1="958.4" x2="1113.2" y2="954.4" stroke="#000" stroke-width="1.3" />
<text x="1114" y="972" font-size="14" text-anchor="middle" fill="#000" >50</text>
<line x1="917.7" y1="958.4" x2="917.7" y2="956" stroke="#000" stroke-width="1.0" />
<line x1="961.1" y1="958.4" x2="961.1" y2="956" stroke="#000" stroke-width="1.0" />
<line x1="1004.6" y1="958.4" x2="1004.6" y2="956" stroke="#000" stroke-width="1.0" />
<line x1="1048" y1="958.4" x2="1048" y2="956" stroke="#000" stroke-width="1.0" />
<line x1="1091.5" y1="958.4" x2="1091.5" y2="956" stroke="#000" stroke-width="1.0" />
<line x1="1113.2" y1="958.4" x2="1109.8" y2="958.4" stroke="#000" stroke-width="1.0" />
<line x1="1118.5" y1="949.4" x2="1115.1" y2="949.4" stroke="#000" stroke-width="1.0" />
<line x1="1123.8" y1="940.3" x2="1120.4" y2="940.3" stroke="#000" stroke-width="1.0" />
<line x1="1129.2" y1="931.3" x2="1125.8" y2="931.3" stroke="#000" stroke-width="1.0" />
<line x1="1134.5" y1="922.3" x2="1131.1" y2="922.3" stroke="#000" stroke-width="1.0" />
<line x1="1139.8" y1="913.2" x2="1136.4" y2="913.2" stroke="#000" stroke-width="1.0" />
<line x1="1145.1" y1="904.2" x2="1141.7" y2="904.2" stroke="#000" stroke-width="1.0" />
<line x1="1150.4" y1="895.2" x2="1147" y2="895.2" stroke="#000" stroke-width="1.0" />
<line x1="1155.7" y1="886.1" x2="1152.3" y2="886.1" stroke="#000" stroke-width="1.0" />
<line x1="1161" y1="877.1" x2="1157.6" y2="877.1" stroke="#000" stroke-width="1.0" />
<line x1="1166.4" y1="868.1" x2="1163" y2="868.1" stroke="#000" stroke-width="1.0" />
<line x1="1171.7" y1="859" x2="1168.3" y2="859" stroke="#000" stroke-width="1.0" />
<line x1="1177" y1="850" x2="1173.6" y2="850" stroke="#000" stroke-width="1.0" />
<path d="M974.7,849.7 L976.7,849.9 L978.7,849.8 L980.7,849.9 L982.7,849.9 L984.7,849.8 L986.7,849.9 L988.7,849.7 L990.7,850.0 L992.7,849.9 L994.7,850.0 L996.7,849.9 L998.7,849.9 L1000.7,849.7 L1002.7,849.8 L1004.7,849.9 L1006.7,849.9 L1008.7,849.6 L1010.7,849.9 L1012.7,849.7 L1014.7,849.6 L1016.7,849.3 L1018.6,848.6 L1018.7,848.4 L1019.6,847.2 L1020.2,844.3 L1020.7,837.9 L1020.8,836.6 L1021.2,815.5 L1021.5,781.2 L1021.8,750.7 L1022.1,780.6 L1022.4,815.2 L1022.7,834.9 L1022.8,836.5 L1023.2,844.3 L1024.0,847.1 L1024.7,848.4 L1025.0,848.6 L1026.7,849.2 L1028.7,849.7 L1030.7,849.6 L1032.7,849.9 L1034.7,849.7 L1036.7,849.7 L1038.7,849.7 L1040.7,849.7 L1042.7,849.8 L1044.1,849.8 L1044.7,849.8 L1045.1,849.7 L1045.8,849.5 L1046.3,849.3 L1046.7,848.4 L1046.7,848.4 L1047.0,847.1 L1047.3,846.4 L1047.6,847.3 L1047.9,848.5 L1048.3,849.3 L1048.7,849.6 L1048.8,849.6 L1049.5,849.7 L1050.5,849.7 L1050.7,849.6 L1052.7,849.9 L1054.7,849.8 L1056.7,849.9 L1058.7,849.8 L1060.7,849.7 L1062.7,849.9 L1063.7,849.7 L1064.7,849.8 L1064.7,849.9 L1065.4,849.7 L1065.9,849.7 L1066.2,849.7 L1066.5,849.4 L1066.7,849.3 L1066.9,849.2 L1067.2,849.4 L1067.5,849.6 L1067.9,849.7 L1068.4,849.8 L1068.7,849.9 L1069.0,849.9 L1070.0,849.9 L1070.7,849.7 L1072.7,849.7 L1072.8,849.6 L1073.8,849.6 L1074.5,849.5 L1074.7,849.3 L1075.0,849.5 L1075.4,849.0 L1075.7,848.3 L1076.0,847.7 L1076.3,848.1 L1076.6,848.7 L1076.7,849.0 L1077.0,849.1 L1077.5,849.5 L1078.2,849.2 L1078.7,849.4 L1079.2,849.0 L1080.1,848.9 L1080.7,848.1 L1081.1,847.5 L1081.8,844.9 L1082.3,838.3 L1082.7,822.1 L1082.7,819.7 L1083.0,790.0 L1083.3,764.0 L1083.6,789.8 L1083.9,819.7 L1084.3,838.3 L1084.7,844.2 L1084.8,845.2 L1085.5,847.5 L1086.5,848.8 L1086.7,849.0 L1088.7,849.5 L1090.7,849.6 L1092.7,849.6 L1094.7,849.7 L1095.3,849.7 L1096.3,849.7 L1096.7,849.7 L1097.0,849.6 L1097.5,849.2 L1097.9,848.5 L1098.2,847.2 L1098.5,846.4 L1098.7,846.8 L1098.8,847.4 L1099.1,848.5 L1099.5,849.2 L1100.0,849.7 L1100.7,849.5 L1100.7,849.6 L1101.7,849.7 L1102.7,849.7 L1104.7,849.9 L1106.7,849.9 L1108.7,849.8 L1108.8,849.7 L1109.8,849.7 L1110.5,849.8 L1110.7,849.6 L1111.0,849.4 L1111.4,849.0 L1111.7,848.3 L1112.0,847.9 L1112.2,848.5 L1112.5,849.1 L1112.7,849.3 L1113.0,849.4 L1113.5,849.7 L1114.2,849.6 L1114.7,849.7 L1115.2,849.8 L1116.7,849.8 L1118.7,849.7 L1120.7,849.7 L1121.8,849.8 L1122.7,849.6 L1122.8,849.8 L1123.5,849.6 L1124.0,849.1 L1124.4,848.4 L1124.7,847.4 L1124.7,847.2 L1125.0,846.5 L1125.3,847.2 L1125.6,848.4 L1126.0,849.1 L1126.5,849.5 L1126.7,849.5 L1127.2,849.7 L1128.2,849.8 L1128.7,849.8 L1130.7,849.8 L1132.6,849.7 L1132.7,849.6 L1133.6,849.6 L1134.3,849.3 L1134.7,848.5 L1134.8,848.3 L1135.2,845.7 L1135.5,841.6 L1135.8,837.7 L1136.1,841.5 L1136.4,845.7 L1136.7,847.7 L1136.8,848.2 L1137.3,849.2 L1138.0,849.4 L1138.7,849.7 L1139.0,849.7 L1140.7,849.6 L1142.7,849.7 L1143.4,849.7 L1144.4,849.8 L1144.7,849.6 L1145.1,849.5 L1145.6,849.1 L1146.0,848.4 L1146.3,847.1 L1146.6,846.2 L1146.7,846.4 L1146.9,847.1 L1147.2,848.3 L1147.6,849.1 L1148.1,849.4 L1148.7,849.6 L1148.8,849.8 L1149.8,849.7 L1150.7,849.7 L1152.7,849.9 L1154.7,849.8 L1156.7,849.7 L1158.7,849.7 L1160.7,849.7 L1162.7,850.0 L1164.7,849.8 L1166.7,849.7 L1168.7,849.8 L1170.7,849.9 L1172.7,850.0 L1174.7,849.7 L1176.7,849.7 L1177.0,849.8" fill="none" stroke="#ff7f0e" stroke-width="1.3" stroke-linejoin="round"/>
<path d="M969.4,858.9 L971.4,858.9 L973.4,858.9 L975.4,858.9 L977.4,859.0 L979.4,858.8 L981.4,858.9 L983.4,859.0 L985.4,858.9 L987.4,858.9 L989.4,858.9 L991.4,858.8 L993.4,859.0 L995.4,858.9 L997.4,858.9 L999.4,858.9 L1001.4,858.8 L1003.4,858.9 L1005.4,858.9 L1007.4,858.7 L1009.4,858.6 L1011.4,858.3 L1013.2,857.7 L1013.4,857.7 L1014.2,856.4 L1014.9,853.9 L1015.4,848.4 L1015.4,846.9 L1015.8,827.6 L1016.1,796.6 L1016.4,769.7 L1016.7,797.1 L1017.0,827.9 L1017.4,845.3 L1017.4,847.1 L1017.9,853.9 L1018.6,856.7 L1019.4,857.4 L1019.6,857.7 L1021.4,858.4 L1023.4,858.7 L1025.3,858.6 L1027.3,858.8 L1029.3,858.7 L1031.3,858.7 L1033.3,858.8 L1035.3,858.7 L1037.3,858.8 L1038.8,858.8 L1039.3,858.7 L1039.8,858.7 L1040.5,858.6 L1041.0,858.2 L1041.3,857.5 L1041.4,857.4 L1041.7,856.0 L1042.0,855.1 L1042.3,855.9 L1042.6,857.3 L1043.0,858.1 L1043.3,858.6 L1043.5,858.7 L1044.2,858.7 L1045.2,858.7 L1045.3,858.7 L1047.3,858.8 L1049.3,859.0 L1051.3,858.9 L1053.3,859.0 L1055.3,858.9 L1057.3,858.7 L1058.3,858.9 L1059.3,858.8 L1059.3,858.8 L1060.0,858.9 L1060.5,858.6 L1060.9,858.6 L1061.2,858.3 L1061.3,858.1 L1061.5,858.1 L1061.8,858.1 L1062.1,858.5 L1062.5,858.6 L1063.0,858.6 L1063.3,858.9 L1063.7,858.6 L1064.7,858.9 L1065.3,858.8 L1067.3,858.7 L1067.4,858.6 L1068.4,858.7 L1069.1,858.5 L1069.3,858.5 L1069.6,858.4 L1070.0,858.0 L1070.3,857.3 L1070.6,856.8 L1070.9,857.3 L1071.2,857.9 L1071.3,858.0 L1071.6,858.3 L1072.1,858.4 L1072.8,858.6 L1073.3,858.5 L1073.8,858.2 L1074.8,857.8 L1075.3,857.5 L1075.8,857.0 L1076.5,854.8 L1077.0,848.9 L1077.3,835.6 L1077.4,832.5 L1077.7,806.5 L1078.0,783.8 L1078.3,806.7 L1078.6,832.7 L1079.0,848.8 L1079.3,853.7 L1079.5,854.8 L1080.2,856.8 L1081.2,858.0 L1081.3,857.9 L1083.3,858.5 L1085.3,858.6 L1087.3,858.7 L1089.3,858.7 L1090.0,858.8 L1091.0,858.6 L1091.3,858.5 L1091.7,858.5 L1092.2,858.1 L1092.6,857.1 L1092.9,855.6 L1093.2,854.5 L1093.3,854.9 L1093.5,855.5 L1093.8,857.2 L1094.2,858.2 L1094.7,858.4 L1095.3,858.8 L1095.4,858.6 L1096.4,858.7 L1097.3,858.9 L1099.3,858.8 L1101.3,858.9 L1103.3,858.7 L1103.4,858.9 L1104.4,858.9 L1105.1,858.9 L1105.3,858.6 L1105.6,858.6 L1106.0,858.2 L1106.3,857.3 L1106.6,857.0 L1106.9,857.4 L1107.2,858.1 L1107.3,858.2 L1107.6,858.7 L1108.1,858.6 L1108.8,858.8 L1109.3,858.7 L1109.8,858.8 L1111.3,858.7 L1113.3,859.0 L1115.3,858.7 L1116.4,858.9 L1117.3,858.7 L1117.4,858.7 L1118.1,858.4 L1118.6,858.1 L1119.0,857.0 L1119.3,855.7 L1119.3,855.8 L1119.6,854.9 L1119.9,855.9 L1120.2,857.2 L1120.6,858.0 L1121.1,858.5 L1121.3,858.7 L1121.8,858.7 L1122.8,858.7 L1123.3,858.9 L1125.3,858.7 L1127.3,858.8 L1127.3,858.8 L1128.3,858.7 L1129.0,858.2 L1129.3,857.6 L1129.5,857.3 L1129.9,854.7 L1130.2,850.4 L1130.5,846.9 L1130.8,850.5 L1131.1,854.6 L1131.3,856.7 L1131.5,857.4 L1132.0,858.1 L1132.7,858.5 L1133.3,858.8 L1133.7,858.6 L1135.3,858.7 L1137.3,858.7 L1138.1,858.7 L1139.1,858.7 L1139.3,858.6 L1139.8,858.6 L1140.3,858.2 L1140.7,857.5 L1141.0,856.2 L1141.3,855.2 L1141.3,855.1 L1141.6,856.1 L1141.9,857.2 L1142.3,858.1 L1142.8,858.4 L1143.3,858.7 L1143.5,858.7 L1144.5,858.8 L1145.3,858.9 L1147.3,858.8 L1149.3,858.8 L1151.3,859.0 L1153.3,859.0 L1155.3,859.0 L1157.3,858.8 L1159.3,858.8 L1161.3,859.0 L1163.3,858.8 L1165.3,858.9 L1167.3,858.9 L1169.3,858.9 L1171.3,858.7 L1171.7,859.0" fill="none" stroke="#00908a" stroke-width="1.3" stroke-linejoin="round"/>
<path d="M964.0,868.0 L966.0,867.9 L968.0,867.8 L970.0,867.9 L972.0,867.9 L974.0,867.9 L976.0,867.9 L978.0,867.9 L980.0,867.8 L982.0,867.8 L984.0,868.0 L986.0,867.8 L988.0,867.8 L990.0,867.9 L992.0,867.9 L994.0,867.9 L996.0,867.9 L998.0,867.8 L1000.0,867.8 L1002.0,867.9 L1004.0,867.5 L1006.0,867.5 L1007.9,866.8 L1008.0,866.8 L1008.9,865.6 L1009.6,863.2 L1010.0,858.0 L1010.1,856.4 L1010.5,837.7 L1010.8,807.6 L1011.1,782.0 L1011.4,808.3 L1011.7,838.0 L1012.0,854.5 L1012.1,856.4 L1012.6,863.0 L1013.3,865.7 L1014.0,866.6 L1014.3,866.7 L1016.0,867.3 L1018.0,867.7 L1020.0,867.7 L1022.0,867.8 L1024.0,867.8 L1026.0,867.9 L1028.0,867.9 L1030.0,867.9 L1032.0,867.9 L1033.5,867.7 L1034.0,867.9 L1034.5,867.9 L1035.2,867.5 L1035.7,867.3 L1036.0,866.6 L1036.1,866.3 L1036.4,865.2 L1036.7,864.3 L1037.0,865.1 L1037.3,866.4 L1037.7,867.3 L1038.0,867.7 L1038.2,867.7 L1038.9,867.7 L1039.9,867.7 L1040.0,867.9 L1042.0,867.9 L1044.0,867.8 L1046.0,867.9 L1048.0,867.9 L1050.0,867.8 L1052.0,867.9 L1053.0,867.8 L1054.0,867.8 L1054.0,867.9 L1054.7,867.7 L1055.2,867.8 L1055.6,867.4 L1055.9,867.0 L1056.0,866.9 L1056.2,866.9 L1056.5,867.2 L1056.8,867.5 L1057.2,867.8 L1057.7,867.9 L1058.0,867.8 L1058.4,867.8 L1059.4,867.8 L1060.0,867.8 L1062.0,867.7 L1062.1,867.9 L1063.1,867.8 L1063.8,867.8 L1064.0,867.6 L1064.3,867.5 L1064.7,867.0 L1065.0,866.4 L1065.3,866.0 L1065.6,866.4 L1065.9,867.1 L1066.0,867.2 L1066.3,867.4 L1066.8,867.5 L1067.5,867.6 L1068.0,867.3 L1068.5,867.5 L1069.5,867.1 L1070.0,866.6 L1070.5,866.1 L1071.2,863.9 L1071.7,858.3 L1072.0,846.8 L1072.1,842.8 L1072.4,818.1 L1072.7,796.9 L1073.0,818.8 L1073.3,843.4 L1073.7,858.6 L1074.0,863.0 L1074.2,864.0 L1074.9,866.1 L1075.9,867.0 L1076.0,867.0 L1078.0,867.4 L1080.0,867.8 L1082.0,867.6 L1084.0,867.9 L1084.7,867.6 L1085.7,867.5 L1086.0,867.7 L1086.3,867.4 L1086.8,867.1 L1087.2,866.0 L1087.5,864.5 L1087.8,863.4 L1088.0,863.9 L1088.2,864.7 L1088.5,866.0 L1088.8,867.1 L1089.3,867.4 L1090.0,867.8 L1090.0,867.6 L1091.0,867.9 L1092.0,867.9 L1094.0,867.9 L1096.0,867.7 L1098.0,867.9 L1098.1,867.9 L1099.1,867.9 L1099.8,867.9 L1100.0,867.7 L1100.3,867.6 L1100.7,867.1 L1101.0,866.3 L1101.3,866.0 L1101.6,866.3 L1101.9,867.0 L1102.0,867.2 L1102.3,867.7 L1102.8,867.7 L1103.5,867.8 L1104.0,867.8 L1104.5,867.9 L1106.0,867.8 L1108.0,867.7 L1110.0,867.8 L1111.1,868.0 L1112.0,867.7 L1112.1,867.7 L1112.8,867.6 L1113.3,867.1 L1113.7,866.5 L1114.0,865.3 L1114.0,865.0 L1114.3,864.3 L1114.6,865.2 L1114.9,866.2 L1115.3,867.3 L1115.8,867.5 L1116.0,867.6 L1116.5,867.7 L1117.5,867.9 L1118.0,867.9 L1120.0,867.7 L1122.0,867.6 L1122.0,867.6 L1123.0,867.6 L1123.7,867.3 L1124.0,866.7 L1124.2,866.3 L1124.6,863.8 L1124.9,859.6 L1125.2,855.9 L1125.5,859.7 L1125.8,863.8 L1126.0,865.5 L1126.2,866.2 L1126.7,867.1 L1127.4,867.6 L1128.0,867.6 L1128.4,867.8 L1130.0,867.8 L1132.0,867.7 L1132.8,867.7 L1133.8,867.6 L1134.0,867.7 L1134.5,867.6 L1135.0,867.3 L1135.4,866.2 L1135.7,864.6 L1136.0,863.6 L1136.3,864.6 L1136.6,866.1 L1137.0,867.2 L1137.5,867.7 L1138.0,867.6 L1138.2,867.7 L1139.2,868.0 L1140.0,867.8 L1142.0,867.8 L1144.0,867.8 L1146.0,868.0 L1148.0,868.0 L1150.0,867.8 L1152.0,867.9 L1154.0,868.0 L1156.0,867.8 L1158.0,868.0 L1160.0,867.8 L1162.0,868.0 L1164.0,867.9 L1166.0,867.8 L1166.4,867.9" fill="none" stroke="#2a60c8" stroke-width="1.3" stroke-linejoin="round"/>
<path d="M958.7,876.8 L960.7,876.9 L962.7,877.1 L964.7,877.0 L966.7,876.8 L968.7,877.1 L970.7,877.1 L972.7,876.9 L974.7,876.9 L976.7,876.8 L978.7,876.8 L980.7,876.9 L982.7,876.9 L984.7,876.9 L986.7,876.8 L988.7,876.9 L990.7,877.0 L992.7,876.8 L994.7,877.0 L996.7,876.9 L998.7,876.8 L1000.7,876.4 L1002.5,876.0 L1002.7,875.8 L1003.5,874.7 L1004.2,872.3 L1004.7,867.3 L1004.7,865.8 L1005.1,847.5 L1005.4,818.2 L1005.7,791.9 L1006.0,817.0 L1006.3,846.9 L1006.7,863.4 L1006.7,865.6 L1007.2,872.2 L1007.9,874.7 L1008.7,875.5 L1008.9,875.9 L1010.7,876.5 L1012.7,876.7 L1014.7,876.7 L1016.7,876.7 L1018.7,876.8 L1020.7,876.8 L1022.7,876.8 L1024.7,876.9 L1026.7,876.9 L1028.1,876.9 L1028.7,876.9 L1029.1,876.8 L1029.8,876.6 L1030.3,876.1 L1030.7,875.5 L1030.7,875.2 L1031.0,873.8 L1031.3,872.7 L1031.6,873.8 L1031.9,875.1 L1032.3,876.1 L1032.7,876.4 L1032.8,876.6 L1033.5,876.9 L1034.5,876.8 L1034.7,876.8 L1036.7,877.0 L1038.7,877.0 L1040.7,876.9 L1042.7,877.0 L1044.7,876.9 L1046.7,876.9 L1047.7,876.8 L1048.7,877.0 L1049.4,876.9 L1049.9,876.8 L1050.2,876.3 L1050.6,876.0 L1050.7,875.6 L1050.9,875.6 L1051.2,875.9 L1051.5,876.4 L1051.9,876.6 L1052.4,876.9 L1052.7,876.8 L1053.1,876.7 L1054.1,876.8 L1054.7,877.0 L1056.7,876.9 L1056.8,876.9 L1057.8,876.7 L1058.5,876.8 L1058.7,876.5 L1059.0,876.4 L1059.4,876.0 L1059.7,875.2 L1060.0,874.8 L1060.3,875.4 L1060.6,876.0 L1060.7,876.2 L1061.0,876.4 L1061.5,876.4 L1062.2,876.5 L1062.7,876.4 L1063.2,876.4 L1064.1,876.0 L1064.7,875.7 L1065.1,874.9 L1065.8,873.0 L1066.3,867.5 L1066.7,856.5 L1066.7,852.2 L1067.0,827.2 L1067.3,804.9 L1067.6,826.4 L1067.9,851.5 L1068.3,867.3 L1068.7,871.6 L1068.8,872.8 L1069.5,875.1 L1070.5,876.2 L1070.7,876.1 L1072.7,876.5 L1074.7,876.7 L1076.7,876.9 L1078.7,876.9 L1079.3,876.7 L1080.3,876.9 L1080.7,876.7 L1081.0,876.6 L1081.5,876.3 L1081.9,875.2 L1082.2,873.7 L1082.5,872.7 L1082.7,873.2 L1082.8,874.0 L1083.1,875.3 L1083.5,876.3 L1084.0,876.5 L1084.7,876.9 L1084.7,876.8 L1085.7,876.7 L1086.7,876.9 L1088.7,877.0 L1090.7,877.0 L1092.7,877.0 L1092.8,876.9 L1093.8,876.8 L1094.5,876.8 L1094.7,876.7 L1095.0,876.7 L1095.4,876.2 L1095.7,875.5 L1096.0,875.3 L1096.3,875.6 L1096.6,876.3 L1096.7,876.4 L1097.0,876.6 L1097.5,876.8 L1098.2,876.9 L1098.7,876.9 L1099.2,876.9 L1100.7,877.0 L1102.7,876.9 L1104.7,876.9 L1105.8,876.9 L1106.7,876.8 L1106.8,876.8 L1107.5,876.5 L1108.0,876.3 L1108.4,875.3 L1108.7,873.8 L1108.7,873.6 L1109.0,872.5 L1109.3,873.8 L1109.6,875.3 L1110.0,876.2 L1110.5,876.7 L1110.7,876.7 L1111.2,876.8 L1112.2,877.0 L1112.7,876.8 L1114.7,876.9 L1116.6,876.8 L1116.7,876.7 L1117.6,876.6 L1118.3,876.2 L1118.7,875.9 L1118.8,875.4 L1119.2,872.8 L1119.5,868.7 L1119.8,864.9 L1120.1,868.6 L1120.4,872.6 L1120.7,874.6 L1120.8,875.3 L1121.3,876.3 L1122.0,876.7 L1122.7,876.8 L1123.0,876.6 L1124.7,877.0 L1126.7,876.7 L1127.5,876.9 L1128.5,876.7 L1128.7,876.9 L1129.2,876.6 L1129.7,876.2 L1130.1,875.4 L1130.4,873.9 L1130.7,872.9 L1130.7,873.0 L1131.0,874.1 L1131.3,875.3 L1131.7,876.2 L1132.2,876.6 L1132.7,876.7 L1132.9,876.8 L1133.9,876.9 L1134.7,876.9 L1136.7,877.0 L1138.7,877.1 L1140.7,876.9 L1142.7,876.8 L1144.7,877.0 L1146.7,876.8 L1148.7,877.0 L1150.7,877.0 L1152.7,877.1 L1154.7,877.1 L1156.7,876.9 L1158.7,876.8 L1160.7,876.9 L1161.1,877.1" fill="none" stroke="#7f7f00" stroke-width="1.3" stroke-linejoin="round"/>
<path d="M953.3,886.0 L955.3,886.0 L957.3,886.1 L959.3,885.9 L961.3,886.0 L963.3,886.1 L965.3,886.0 L967.3,886.1 L969.3,886.0 L971.3,885.9 L973.3,885.9 L975.3,886.0 L977.3,885.8 L979.3,886.1 L981.3,886.0 L983.3,885.9 L985.3,886.0 L987.3,886.0 L989.3,885.8 L991.3,885.9 L993.3,885.8 L995.3,885.5 L997.2,885.1 L997.3,885.0 L998.2,883.9 L998.9,882.0 L999.3,877.7 L999.4,876.1 L999.8,860.2 L1000.1,834.8 L1000.4,812.1 L1000.7,834.2 L1001.0,859.9 L1001.3,874.1 L1001.4,876.2 L1001.9,881.9 L1002.6,884.1 L1003.3,884.8 L1003.6,884.9 L1005.3,885.5 L1007.3,885.8 L1009.3,885.9 L1011.3,886.0 L1013.3,885.9 L1015.3,885.9 L1017.3,886.0 L1019.3,886.0 L1021.3,885.8 L1022.8,885.9 L1023.3,885.9 L1023.8,885.8 L1024.5,885.5 L1025.0,885.4 L1025.3,884.6 L1025.4,884.1 L1025.7,882.8 L1026.0,881.9 L1026.3,882.9 L1026.6,884.2 L1027.0,885.4 L1027.3,885.4 L1027.5,885.6 L1028.2,885.7 L1029.2,886.0 L1029.3,886.0 L1031.3,886.0 L1033.3,886.0 L1035.3,885.9 L1037.3,885.9 L1039.3,886.1 L1041.3,885.8 L1042.3,886.0 L1043.3,886.0 L1043.3,886.0 L1044.0,885.9 L1044.5,885.8 L1044.9,885.2 L1045.2,884.8 L1045.3,884.7 L1045.5,884.4 L1045.8,884.7 L1046.1,885.3 L1046.5,885.8 L1047.0,885.8 L1047.3,885.9 L1047.7,885.9 L1048.7,885.8 L1049.3,886.0 L1051.3,885.8 L1051.4,885.8 L1052.4,885.7 L1053.1,885.8 L1053.3,885.8 L1053.6,885.5 L1054.0,885.1 L1054.3,884.6 L1054.6,884.3 L1054.9,884.8 L1055.2,885.1 L1055.3,885.4 L1055.6,885.5 L1056.1,885.5 L1056.8,885.6 L1057.3,885.5 L1057.8,885.5 L1058.8,885.1 L1059.3,885.0 L1059.8,884.3 L1060.5,882.8 L1061.0,878.1 L1061.3,869.8 L1061.4,865.2 L1061.7,844.5 L1062.0,825.9 L1062.3,843.9 L1062.6,864.8 L1063.0,878.1 L1063.3,881.5 L1063.5,882.7 L1064.2,884.4 L1065.2,885.4 L1065.3,885.1 L1067.3,885.7 L1069.3,885.9 L1071.3,885.9 L1073.3,885.9 L1074.0,885.9 L1075.0,885.8 L1075.3,885.6 L1075.7,885.7 L1076.2,885.4 L1076.6,884.3 L1076.9,883.0 L1077.2,882.1 L1077.3,882.1 L1077.5,882.9 L1077.8,884.4 L1078.2,885.4 L1078.7,885.5 L1079.3,885.7 L1079.4,885.7 L1080.4,885.9 L1081.3,886.0 L1083.3,885.9 L1085.3,885.9 L1087.3,885.9 L1087.4,886.0 L1088.4,885.8 L1089.1,885.8 L1089.3,885.8 L1089.6,885.6 L1090.0,885.3 L1090.3,884.5 L1090.6,884.1 L1090.9,884.7 L1091.2,885.3 L1091.3,885.3 L1091.6,885.6 L1092.1,885.9 L1092.8,885.8 L1093.3,885.9 L1093.8,885.9 L1095.3,885.8 L1097.3,886.0 L1099.3,885.9 L1100.5,885.9 L1101.3,885.9 L1101.5,885.8 L1102.2,885.5 L1102.7,885.4 L1103.1,884.5 L1103.3,883.6 L1103.4,883.2 L1103.7,882.3 L1104.0,883.1 L1104.3,884.4 L1104.7,885.2 L1105.2,885.6 L1105.3,885.8 L1105.9,885.8 L1106.9,886.0 L1107.3,885.9 L1109.3,886.0 L1111.3,885.7 L1111.3,885.8 L1112.3,885.7 L1113.0,885.3 L1113.3,884.9 L1113.5,884.2 L1113.9,881.7 L1114.2,877.5 L1114.5,873.9 L1114.8,877.7 L1115.1,881.8 L1115.3,883.2 L1115.5,884.4 L1116.0,885.4 L1116.7,885.7 L1117.3,885.9 L1117.7,885.8 L1119.3,885.9 L1121.3,886.0 L1122.2,885.8 L1123.2,885.9 L1123.3,885.8 L1123.9,885.8 L1124.4,885.3 L1124.8,884.4 L1125.1,883.2 L1125.3,882.5 L1125.4,882.4 L1125.7,883.3 L1126.0,884.5 L1126.4,885.3 L1126.9,885.6 L1127.3,885.7 L1127.6,885.8 L1128.6,886.0 L1129.3,886.0 L1131.3,886.0 L1133.3,885.9 L1135.3,886.0 L1137.3,886.0 L1139.3,886.0 L1141.3,886.0 L1143.3,886.0 L1145.3,886.0 L1147.3,885.9 L1149.3,885.9 L1151.3,885.9 L1153.3,885.9 L1155.3,885.9 L1155.7,886.1" fill="none" stroke="#7f0000" stroke-width="1.3" stroke-linejoin="round"/>
<path d="M948.0,895.1 L950.0,895.0 L952.0,895.1 L954.0,894.9 L956.0,895.1 L958.0,895.1 L960.0,894.9 L962.0,894.9 L964.0,895.1 L966.0,895.1 L968.0,895.0 L970.0,895.0 L972.0,895.0 L974.0,895.1 L976.0,894.9 L978.0,895.1 L980.0,894.9 L982.0,895.1 L984.0,895.0 L986.0,895.0 L988.0,895.0 L990.0,894.7 L991.8,894.5 L992.0,894.4 L992.8,893.7 L993.5,892.1 L994.0,889.5 L994.0,888.1 L994.4,877.3 L994.7,859.5 L995.0,843.9 L995.3,859.5 L995.6,877.3 L996.0,886.7 L996.0,888.1 L996.5,892.3 L997.2,893.7 L998.0,894.1 L998.2,894.3 L1000.0,894.6 L1002.0,895.0 L1004.0,894.9 L1006.0,895.0 L1008.0,894.9 L1010.0,894.9 L1012.0,894.9 L1014.0,895.0 L1016.0,894.9 L1017.5,894.9 L1018.0,895.0 L1018.5,894.8 L1019.2,894.8 L1019.7,894.2 L1020.0,893.6 L1020.1,893.4 L1020.4,891.9 L1020.7,890.7 L1021.0,891.9 L1021.2,893.3 L1021.7,894.4 L1022.0,894.5 L1022.2,894.6 L1022.9,895.0 L1023.9,894.9 L1024.0,894.9 L1026.0,895.0 L1028.0,894.8 L1030.0,895.0 L1032.0,894.9 L1034.0,895.0 L1036.0,895.1 L1037.0,895.0 L1038.0,895.0 L1038.0,894.8 L1038.7,894.9 L1039.2,894.7 L1039.6,894.2 L1039.9,893.7 L1040.0,893.4 L1040.2,893.2 L1040.5,893.7 L1040.8,894.2 L1041.2,894.7 L1041.7,895.0 L1042.0,895.0 L1042.4,895.0 L1043.4,894.9 L1044.0,894.9 L1046.0,895.0 L1046.1,894.8 L1047.1,895.0 L1047.8,894.8 L1048.0,894.8 L1048.3,894.5 L1048.7,894.2 L1049.0,893.5 L1049.3,893.2 L1049.6,893.6 L1049.9,894.1 L1050.0,894.3 L1050.3,894.5 L1050.8,894.7 L1051.5,894.8 L1052.0,894.8 L1052.5,894.6 L1053.5,894.3 L1054.0,894.4 L1054.5,894.0 L1055.2,892.9 L1055.7,889.6 L1056.0,884.3 L1056.1,880.7 L1056.4,866.4 L1056.7,854.1 L1057.0,866.3 L1057.3,880.8 L1057.7,889.4 L1058.0,891.9 L1058.2,892.7 L1058.9,893.8 L1059.9,894.4 L1060.0,894.5 L1062.0,894.9 L1064.0,895.0 L1066.0,894.9 L1068.0,894.8 L1068.7,894.8 L1069.7,894.8 L1070.0,894.9 L1070.4,894.7 L1070.9,894.3 L1071.3,893.5 L1071.6,892.1 L1071.9,891.1 L1072.0,891.1 L1072.2,892.0 L1072.5,893.3 L1072.9,894.4 L1073.4,894.6 L1074.0,894.8 L1074.1,895.0 L1075.1,894.8 L1076.0,895.1 L1078.0,895.0 L1080.0,895.1 L1082.0,894.9 L1082.1,894.9 L1083.1,894.9 L1083.8,894.8 L1084.0,894.7 L1084.3,894.6 L1084.7,894.1 L1085.0,893.6 L1085.3,893.1 L1085.6,893.8 L1085.9,894.3 L1086.0,894.2 L1086.3,894.7 L1086.8,894.7 L1087.5,895.0 L1088.0,894.9 L1088.5,894.9 L1090.0,894.9 L1092.0,895.0 L1094.0,894.8 L1095.1,895.0 L1096.0,894.7 L1096.1,894.7 L1096.8,894.8 L1097.3,894.4 L1097.7,893.2 L1098.0,892.3 L1098.0,891.7 L1098.3,890.7 L1098.6,891.7 L1098.9,893.3 L1099.3,894.2 L1099.8,894.7 L1100.0,894.8 L1100.5,894.8 L1101.5,895.0 L1102.0,894.8 L1104.0,894.9 L1106.0,894.8 L1106.0,894.7 L1107.0,894.6 L1107.7,894.5 L1108.0,894.1 L1108.2,893.4 L1108.6,890.7 L1108.9,886.6 L1109.2,883.0 L1109.5,886.7 L1109.8,890.8 L1110.0,892.3 L1110.2,893.5 L1110.7,894.4 L1111.4,894.7 L1112.0,894.8 L1112.4,894.9 L1114.0,894.8 L1116.0,895.1 L1116.8,895.1 L1117.8,894.8 L1118.0,894.9 L1118.5,894.6 L1119.0,894.3 L1119.4,893.4 L1119.7,892.1 L1120.0,891.4 L1120.0,891.3 L1120.3,892.4 L1120.6,893.6 L1121.0,894.5 L1121.5,894.9 L1122.0,894.7 L1122.2,894.8 L1123.2,895.0 L1124.0,895.1 L1126.0,895.1 L1128.0,895.0 L1130.0,894.9 L1132.0,895.2 L1134.0,895.0 L1136.0,894.9 L1138.0,895.1 L1140.0,895.1 L1142.0,894.9 L1144.0,894.9 L1146.0,895.1 L1148.0,894.9 L1150.0,895.0 L1150.4,894.9" fill="none" stroke="#7f007f" stroke-width="1.3" stroke-linejoin="round"/>
<path d="M942.6,904.1 L944.6,904.1 L946.6,904.1 L948.6,904.2 L950.6,903.9 L952.6,904.0 L954.6,904.0 L956.6,903.9 L958.6,904.0 L960.6,904.1 L962.6,903.9 L964.6,904.1 L966.6,904.0 L968.6,903.9 L970.6,904.1 L972.6,904.1 L974.6,904.1 L976.6,904.0 L978.6,904.0 L980.6,904.0 L982.6,903.8 L984.6,903.9 L986.5,903.7 L986.6,903.7 L987.5,902.9 L988.2,901.8 L988.6,899.9 L988.7,899.1 L989.1,891.0 L989.4,878.0 L989.7,867.0 L990.0,878.4 L990.3,891.1 L990.6,897.9 L990.7,899.1 L991.2,902.1 L991.9,903.2 L992.6,903.5 L992.9,903.5 L994.6,903.7 L996.6,904.1 L998.6,904.0 L1000.6,903.9 L1002.6,904.1 L1004.6,904.1 L1006.6,904.0 L1008.6,904.1 L1010.6,903.9 L1012.1,904.1 L1012.6,903.9 L1013.1,903.9 L1013.8,903.8 L1014.3,903.3 L1014.6,902.8 L1014.7,902.4 L1015.0,900.9 L1015.3,900.0 L1015.6,900.9 L1015.9,902.4 L1016.3,903.3 L1016.6,903.5 L1016.8,903.7 L1017.5,903.9 L1018.5,903.9 L1018.6,904.0 L1020.6,904.0 L1022.6,903.9 L1024.6,903.9 L1026.6,904.2 L1028.6,904.0 L1030.6,903.9 L1031.6,903.9 L1032.6,904.0 L1032.6,904.1 L1033.3,903.9 L1033.8,903.8 L1034.2,903.2 L1034.5,902.6 L1034.6,902.5 L1034.8,901.9 L1035.1,902.5 L1035.4,903.1 L1035.8,903.6 L1036.3,903.9 L1036.6,903.9 L1037.0,903.8 L1038.0,904.1 L1038.6,903.9 L1040.6,903.8 L1040.8,903.8 L1041.8,903.9 L1042.5,904.0 L1042.6,903.8 L1043.0,903.7 L1043.4,903.1 L1043.7,902.8 L1044.0,902.4 L1044.3,902.8 L1044.6,903.3 L1044.6,903.3 L1045.0,903.7 L1045.5,903.7 L1046.2,903.7 L1046.6,903.9 L1047.2,903.8 L1048.1,903.7 L1048.6,903.6 L1049.1,903.3 L1049.8,902.3 L1050.3,900.0 L1050.6,896.6 L1050.7,893.6 L1051.0,883.0 L1051.3,873.9 L1051.6,883.3 L1051.9,893.5 L1052.3,900.1 L1052.6,901.5 L1052.8,902.2 L1053.5,903.1 L1054.5,903.8 L1054.6,903.6 L1056.6,904.0 L1058.6,904.1 L1060.6,904.0 L1062.6,904.0 L1063.3,903.8 L1064.3,903.9 L1064.6,903.9 L1065.0,903.7 L1065.5,903.4 L1065.9,902.7 L1066.2,901.1 L1066.5,900.3 L1066.6,900.3 L1066.8,901.1 L1067.1,902.4 L1067.5,903.5 L1068.0,903.7 L1068.6,903.8 L1068.7,903.8 L1069.7,903.9 L1070.6,903.9 L1072.6,904.1 L1074.6,904.1 L1076.6,903.9 L1076.8,904.0 L1077.8,903.8 L1078.5,903.8 L1078.6,903.9 L1079.0,903.7 L1079.4,903.6 L1079.7,903.0 L1080.0,902.6 L1080.3,903.1 L1080.6,903.4 L1080.6,903.4 L1081.0,903.9 L1081.5,903.9 L1082.2,904.0 L1082.6,904.1 L1083.2,904.1 L1084.6,904.1 L1086.6,904.0 L1088.6,904.0 L1089.8,904.0 L1090.6,903.8 L1090.8,904.0 L1091.5,903.7 L1092.0,903.4 L1092.4,902.6 L1092.6,901.8 L1092.7,901.3 L1093.0,900.2 L1093.3,901.2 L1093.6,902.6 L1094.0,903.5 L1094.5,903.6 L1094.6,903.8 L1095.2,903.8 L1096.2,904.0 L1096.6,904.1 L1098.6,904.1 L1100.6,903.8 L1100.7,903.8 L1101.7,903.7 L1102.4,903.5 L1102.6,903.4 L1102.9,902.7 L1103.3,900.6 L1103.6,897.1 L1103.9,893.9 L1104.2,897.1 L1104.5,900.5 L1104.6,901.7 L1104.9,902.8 L1105.4,903.6 L1106.1,903.8 L1106.6,904.0 L1107.1,903.8 L1108.6,904.0 L1110.6,904.0 L1111.5,904.0 L1112.5,903.8 L1112.6,904.0 L1113.2,903.8 L1113.7,903.4 L1114.1,902.4 L1114.4,900.8 L1114.6,900.1 L1114.7,899.9 L1115.0,900.8 L1115.3,902.4 L1115.7,903.4 L1116.2,903.7 L1116.6,903.8 L1116.9,903.8 L1117.9,904.0 L1118.6,904.0 L1120.6,904.1 L1122.6,904.0 L1124.6,903.9 L1126.6,904.0 L1128.6,904.2 L1130.6,904.1 L1132.6,904.0 L1134.6,904.2 L1136.6,903.9 L1138.6,904.0 L1140.6,904.0 L1142.6,904.0 L1144.6,904.0 L1145.1,904.0" fill="none" stroke="#7f00ff" stroke-width="1.3" stroke-linejoin="round"/>
<path d="M937.2,913.0 L939.2,913.1 L941.2,913.1 L943.2,913.0 L945.2,913.2 L947.2,913.1 L949.2,913.0 L951.2,913.0 L953.2,913.1 L955.2,913.2 L957.2,913.0 L959.2,913.1 L961.2,913.2 L963.2,913.2 L965.2,913.0 L967.2,913.1 L969.2,913.2 L971.2,913.1 L973.2,913.0 L975.2,913.2 L977.2,913.0 L979.2,912.9 L981.2,912.8 L981.2,912.7 L982.2,912.5 L982.9,911.7 L983.2,910.4 L983.4,909.6 L983.8,904.0 L984.1,894.9 L984.4,887.2 L984.7,895.1 L985.0,904.0 L985.2,908.7 L985.4,909.6 L985.9,911.7 L986.6,912.4 L987.2,912.8 L987.6,912.8 L989.2,913.0 L991.2,912.9 L993.2,912.9 L995.2,913.1 L997.2,913.2 L999.2,913.1 L1001.2,913.1 L1003.2,912.9 L1005.2,913.1 L1006.8,912.9 L1007.2,912.9 L1007.8,912.9 L1008.5,912.7 L1009.0,912.3 L1009.2,912.0 L1009.4,911.4 L1009.7,910.0 L1010.0,909.2 L1010.3,910.1 L1010.6,911.6 L1011.0,912.3 L1011.2,912.5 L1011.5,912.6 L1012.2,912.8 L1013.2,912.9 L1013.2,913.0 L1015.2,913.1 L1017.2,913.1 L1019.2,913.1 L1021.2,913.2 L1023.2,913.2 L1025.2,913.1 L1026.3,912.9 L1027.2,913.1 L1027.3,913.0 L1028.0,912.9 L1028.5,912.6 L1028.9,912.0 L1029.2,911.3 L1029.2,911.2 L1029.5,910.7 L1029.8,911.4 L1030.1,912.1 L1030.5,912.7 L1031.0,912.9 L1031.2,913.0 L1031.7,913.0 L1032.7,912.9 L1033.2,912.9 L1035.2,913.1 L1035.4,913.0 L1036.4,913.1 L1037.1,912.8 L1037.2,912.9 L1037.6,912.7 L1038.0,912.3 L1038.3,911.7 L1038.6,911.2 L1038.9,911.7 L1039.2,912.2 L1039.2,912.2 L1039.6,912.8 L1040.1,912.9 L1040.8,913.0 L1041.2,912.8 L1041.8,912.8 L1042.8,912.8 L1043.2,912.8 L1043.8,912.4 L1044.5,911.8 L1045.0,910.5 L1045.2,908.4 L1045.4,905.9 L1045.7,899.1 L1046.0,893.1 L1046.3,899.3 L1046.6,906.1 L1047.0,910.4 L1047.2,911.4 L1047.5,912.0 L1048.2,912.6 L1049.2,913.0 L1049.2,912.9 L1051.2,912.9 L1053.2,913.0 L1055.2,913.1 L1057.2,913.0 L1058.0,913.0 L1059.0,913.0 L1059.2,912.9 L1059.7,912.8 L1060.2,912.6 L1060.6,911.7 L1060.9,910.4 L1061.2,909.7 L1061.2,909.5 L1061.5,910.5 L1061.8,911.7 L1062.2,912.4 L1062.7,912.9 L1063.2,912.9 L1063.4,913.1 L1064.4,912.9 L1065.2,913.1 L1067.2,913.1 L1069.2,913.0 L1071.2,913.0 L1071.5,913.1 L1072.5,913.1 L1073.2,913.0 L1073.2,912.8 L1073.7,912.8 L1074.1,912.5 L1074.4,911.8 L1074.7,911.6 L1075.0,911.9 L1075.2,912.5 L1075.3,912.5 L1075.7,912.9 L1076.2,912.9 L1076.9,913.1 L1077.2,912.9 L1077.9,913.0 L1079.2,912.9 L1081.2,913.1 L1083.2,912.9 L1084.5,913.1 L1085.2,913.0 L1085.5,912.9 L1086.2,912.8 L1086.7,912.6 L1087.1,911.7 L1087.2,910.9 L1087.4,910.5 L1087.7,909.6 L1088.0,910.3 L1088.3,911.6 L1088.7,912.4 L1089.2,912.9 L1089.2,912.9 L1089.9,912.8 L1090.9,912.9 L1091.2,912.9 L1093.2,913.0 L1095.2,913.0 L1095.3,912.9 L1096.3,912.8 L1097.0,912.4 L1097.2,912.3 L1097.5,911.7 L1097.9,909.8 L1098.2,907.0 L1098.5,905.1 L1098.8,907.1 L1099.1,909.9 L1099.2,910.5 L1099.5,911.6 L1100.0,912.6 L1100.7,912.9 L1101.2,913.0 L1101.7,913.0 L1103.2,912.9 L1105.2,912.9 L1106.2,913.0 L1107.2,913.0 L1107.2,913.0 L1107.9,912.8 L1108.4,912.3 L1108.8,911.3 L1109.1,910.1 L1109.2,909.2 L1109.4,909.2 L1109.7,909.9 L1110.0,911.4 L1110.4,912.5 L1110.9,912.8 L1111.2,912.8 L1111.6,912.8 L1112.6,913.1 L1113.2,913.0 L1115.2,912.9 L1117.2,913.2 L1119.2,913.2 L1121.2,913.2 L1123.2,913.0 L1125.2,912.9 L1127.2,913.0 L1129.2,913.0 L1131.2,913.1 L1133.2,913.1 L1135.2,913.1 L1137.2,913.1 L1139.2,913.0 L1139.8,913.2" fill="none" stroke="#00007f" stroke-width="1.3" stroke-linejoin="round"/>
<path d="M931.9,922.2 L933.9,922.2 L935.9,922.0 L937.9,922.0 L939.9,922.2 L941.9,922.2 L943.9,922.2 L945.9,922.2 L947.9,922.0 L949.9,922.0 L951.9,922.1 L953.9,922.2 L955.9,922.1 L957.9,922.3 L959.9,922.2 L961.9,922.1 L963.9,922.2 L965.9,922.1 L967.9,922.0 L969.9,922.0 L971.9,922.0 L973.9,922.1 L975.8,921.6 L975.9,921.6 L976.8,921.5 L977.5,920.7 L977.9,919.5 L978.0,918.7 L978.4,913.1 L978.7,904.0 L979.0,896.2 L979.3,904.0 L979.6,913.0 L979.9,917.7 L980.0,918.8 L980.5,920.6 L981.2,921.6 L981.9,921.6 L982.2,921.7 L983.9,922.1 L985.9,922.0 L987.9,922.1 L989.9,922.1 L991.9,922.1 L993.9,922.1 L995.9,922.1 L997.9,922.1 L999.9,922.1 L1001.4,922.0 L1001.9,922.2 L1002.4,921.9 L1003.1,921.9 L1003.6,921.4 L1003.9,921.2 L1004.0,920.6 L1004.3,919.6 L1004.6,918.7 L1004.9,919.4 L1005.2,920.7 L1005.6,921.6 L1005.9,921.8 L1006.1,921.9 L1006.8,922.0 L1007.8,922.1 L1007.9,922.1 L1009.9,922.2 L1011.9,922.0 L1013.9,922.1 L1015.9,922.2 L1017.9,922.1 L1019.9,922.1 L1021.0,921.9 L1021.9,922.1 L1022.0,922.1 L1022.7,922.0 L1023.2,921.6 L1023.6,921.2 L1023.9,920.3 L1023.9,920.2 L1024.2,919.5 L1024.5,920.3 L1024.8,921.1 L1025.2,921.7 L1025.7,921.8 L1025.9,921.9 L1026.4,921.9 L1027.4,922.1 L1027.9,922.1 L1029.9,921.9 L1030.1,922.0 L1031.1,922.0 L1031.8,922.0 L1031.9,922.0 L1032.3,921.8 L1032.7,921.4 L1033.0,921.0 L1033.3,920.6 L1033.6,920.9 L1033.9,921.3 L1033.9,921.5 L1034.3,921.8 L1034.8,922.0 L1035.5,922.0 L1035.9,921.8 L1036.5,921.8 L1037.5,921.9 L1037.9,921.6 L1038.5,921.6 L1039.2,920.9 L1039.7,919.5 L1039.9,917.6 L1040.1,915.0 L1040.4,908.2 L1040.7,902.1 L1041.0,908.0 L1041.3,915.1 L1041.7,919.3 L1041.9,920.3 L1042.2,921.1 L1042.9,921.6 L1043.9,921.7 L1043.9,921.9 L1045.9,922.0 L1047.9,921.9 L1049.9,922.1 L1051.9,922.2 L1052.7,922.0 L1053.7,922.1 L1053.9,922.0 L1054.4,921.9 L1054.9,921.5 L1055.3,920.6 L1055.6,919.5 L1055.9,918.6 L1055.9,918.5 L1056.2,919.3 L1056.5,920.7 L1056.9,921.6 L1057.4,921.9 L1057.9,921.9 L1058.1,922.1 L1059.1,922.1 L1059.9,922.1 L1061.9,922.2 L1063.9,922.0 L1065.9,921.9 L1066.1,922.0 L1067.1,922.0 L1067.8,921.8 L1067.9,922.0 L1068.3,921.7 L1068.7,921.6 L1069.0,921.1 L1069.3,920.6 L1069.6,921.1 L1069.9,921.3 L1069.9,921.5 L1070.3,921.9 L1070.8,921.8 L1071.5,922.0 L1071.9,922.0 L1072.5,922.0 L1073.9,922.0 L1075.9,922.2 L1077.9,922.1 L1079.2,922.0 L1079.9,921.9 L1080.2,922.0 L1080.9,921.8 L1081.4,921.5 L1081.8,920.8 L1081.9,920.4 L1082.1,919.7 L1082.4,918.7 L1082.7,919.6 L1083.0,920.7 L1083.4,921.4 L1083.9,921.8 L1083.9,921.9 L1084.6,922.1 L1085.6,922.0 L1085.9,922.2 L1087.9,921.9 L1089.9,921.9 L1090.0,922.1 L1091.0,921.9 L1091.7,921.5 L1091.9,921.2 L1092.2,920.7 L1092.6,918.7 L1092.9,916.1 L1093.2,914.1 L1093.5,916.3 L1093.8,918.9 L1093.9,919.5 L1094.2,920.8 L1094.7,921.5 L1095.4,921.7 L1095.9,922.0 L1096.4,921.8 L1097.9,922.1 L1099.9,922.0 L1100.9,922.1 L1101.9,922.1 L1101.9,922.0 L1102.6,921.8 L1103.1,921.4 L1103.5,920.8 L1103.8,919.4 L1103.9,918.9 L1104.1,918.5 L1104.4,919.6 L1104.7,920.7 L1105.1,921.4 L1105.6,921.9 L1105.9,922.0 L1106.3,922.1 L1107.3,922.1 L1107.9,922.1 L1109.9,922.2 L1111.9,922.0 L1113.9,922.0 L1115.9,922.2 L1117.9,922.2 L1119.9,922.1 L1121.9,922.1 L1123.9,922.1 L1125.9,922.0 L1127.9,922.0 L1129.9,922.2 L1131.9,922.2 L1133.9,922.0 L1134.5,922.0" fill="none" stroke="#007f00" stroke-width="1.3" stroke-linejoin="round"/>
<path d="M926.5,931.1 L928.5,931.3 L930.5,931.0 L932.5,931.1 L934.5,931.2 L936.5,931.0 L938.5,931.1 L940.5,931.0 L942.5,931.0 L944.5,931.2 L946.5,931.0 L948.5,931.2 L950.5,931.3 L952.5,931.2 L954.5,931.2 L956.5,931.1 L958.5,931.1 L960.5,931.2 L962.5,931.1 L964.5,931.1 L966.5,931.1 L968.5,930.9 L970.5,930.8 L970.5,930.9 L971.5,930.6 L972.2,929.7 L972.5,928.5 L972.7,927.6 L973.1,922.0 L973.4,913.2 L973.7,905.2 L974.0,913.1 L974.3,922.1 L974.5,926.6 L974.7,927.6 L975.2,929.7 L975.9,930.6 L976.5,930.6 L976.9,930.9 L978.5,930.9 L980.5,931.0 L982.5,931.1 L984.5,931.2 L986.5,931.2 L988.5,931.1 L990.5,931.0 L992.5,931.1 L994.5,931.1 L996.1,931.0 L996.5,931.0 L997.1,930.9 L997.8,930.7 L998.3,930.5 L998.5,930.0 L998.7,929.7 L999.0,928.2 L999.3,927.5 L999.6,928.4 L999.9,929.7 L1000.3,930.5 L1000.5,930.9 L1000.8,930.8 L1001.5,931.0 L1002.5,931.2 L1002.5,931.1 L1004.5,931.0 L1006.5,931.0 L1008.5,931.1 L1010.5,931.1 L1012.5,931.2 L1014.5,931.0 L1015.6,931.0 L1016.5,930.9 L1016.6,931.0 L1017.3,931.0 L1017.8,930.7 L1018.2,929.9 L1018.5,929.2 L1018.5,929.2 L1018.8,928.6 L1019.1,929.0 L1019.4,929.9 L1019.8,930.8 L1020.3,931.0 L1020.5,930.9 L1021.0,931.0 L1022.0,931.2 L1022.5,931.0 L1024.5,930.9 L1024.8,931.2 L1025.8,931.0 L1026.5,931.0 L1026.5,930.9 L1027.0,930.7 L1027.4,930.3 L1027.7,929.7 L1028.0,929.1 L1028.3,929.5 L1028.5,930.3 L1028.6,930.2 L1029.0,930.6 L1029.5,930.9 L1030.2,930.9 L1030.5,930.9 L1031.2,931.0 L1032.1,930.9 L1032.5,930.8 L1033.1,930.8 L1033.8,930.0 L1034.3,928.9 L1034.5,927.2 L1034.7,924.9 L1035.0,918.6 L1035.3,913.3 L1035.6,918.5 L1035.9,925.0 L1036.3,928.7 L1036.5,929.5 L1036.8,930.0 L1037.5,930.8 L1038.5,930.8 L1038.5,930.8 L1040.5,931.1 L1042.5,931.0 L1044.5,931.0 L1046.5,931.1 L1047.3,931.1 L1048.3,931.0 L1048.5,930.9 L1049.0,930.9 L1049.5,930.6 L1049.9,929.9 L1050.2,928.7 L1050.5,927.8 L1050.5,927.9 L1050.8,928.6 L1051.1,929.8 L1051.5,930.7 L1052.0,931.0 L1052.5,930.9 L1052.7,931.0 L1053.7,931.0 L1054.5,931.0 L1056.5,931.2 L1058.5,931.2 L1060.5,931.0 L1060.8,931.0 L1061.8,931.0 L1062.5,930.9 L1062.5,931.2 L1063.0,930.9 L1063.4,930.4 L1063.7,929.8 L1064.0,929.6 L1064.3,930.0 L1064.5,930.4 L1064.6,930.4 L1065.0,931.0 L1065.5,931.1 L1066.2,931.2 L1066.5,931.2 L1067.2,931.2 L1068.5,931.3 L1070.5,931.2 L1072.5,931.2 L1073.8,931.0 L1074.5,930.9 L1074.8,931.1 L1075.5,930.8 L1076.0,930.5 L1076.4,929.5 L1076.5,929.1 L1076.7,928.1 L1077.0,927.2 L1077.3,928.1 L1077.6,929.4 L1078.0,930.4 L1078.5,930.9 L1078.5,930.7 L1079.2,930.9 L1080.2,931.1 L1080.5,931.0 L1082.5,931.1 L1084.5,930.9 L1084.7,931.0 L1085.7,930.9 L1086.4,930.7 L1086.5,930.4 L1086.9,929.9 L1087.3,928.0 L1087.6,925.3 L1087.9,923.6 L1088.2,925.3 L1088.5,928.1 L1088.5,928.5 L1088.9,929.7 L1089.4,930.4 L1090.1,930.9 L1090.5,931.0 L1091.1,930.9 L1092.5,931.1 L1094.5,931.0 L1095.5,931.2 L1096.5,930.9 L1097.2,930.7 L1097.8,930.6 L1098.1,929.8 L1098.5,928.6 L1098.5,928.0 L1098.8,927.7 L1099.0,928.5 L1099.3,929.6 L1099.8,930.5 L1100.2,930.9 L1100.5,931.1 L1101.0,931.0 L1102.0,931.1 L1102.5,931.1 L1104.5,931.1 L1106.5,931.2 L1108.5,931.1 L1110.5,931.1 L1112.5,931.1 L1114.5,931.2 L1116.5,931.2 L1118.5,931.0 L1120.5,931.0 L1122.5,931.2 L1124.5,931.1 L1126.5,931.2 L1128.5,931.0 L1129.1,931.1" fill="none" stroke="#ff00ff" stroke-width="1.3" stroke-linejoin="round"/>
<path d="M921.2,940.0 L923.2,940.1 L925.2,940.3 L927.2,940.0 L929.2,940.1 L931.2,940.0 L933.2,940.3 L935.2,940.0 L937.2,940.3 L939.2,940.1 L941.2,940.3 L943.2,940.2 L945.2,940.3 L947.2,940.0 L949.2,940.2 L951.2,940.2 L953.2,940.3 L955.2,940.2 L957.2,940.2 L959.2,940.0 L961.2,940.1 L963.2,940.1 L965.1,940.0 L965.2,939.8 L966.1,939.6 L966.8,938.9 L967.2,937.7 L967.3,937.2 L967.7,932.2 L968.0,924.1 L968.3,917.2 L968.6,924.1 L968.9,932.2 L969.2,936.1 L969.3,937.1 L969.8,939.0 L970.5,939.5 L971.2,939.8 L971.5,939.8 L973.2,940.1 L975.2,940.0 L977.2,940.1 L979.2,940.2 L981.2,940.1 L983.2,940.0 L985.2,940.3 L987.2,940.2 L989.2,940.2 L990.8,940.1 L991.2,940.1 L991.8,940.1 L992.5,939.8 L993.0,939.5 L993.2,938.9 L993.4,938.6 L993.7,937.2 L994.0,936.0 L994.3,937.1 L994.6,938.6 L995.0,939.4 L995.2,939.6 L995.5,939.8 L996.2,940.1 L997.2,940.1 L997.2,940.1 L999.2,940.1 L1001.2,940.2 L1003.2,940.2 L1005.2,940.2 L1007.2,940.1 L1009.2,940.1 L1010.3,940.1 L1011.2,940.2 L1011.3,940.1 L1012.0,939.9 L1012.5,939.7 L1012.9,939.0 L1013.2,937.9 L1013.5,937.3 L1013.8,938.0 L1014.1,939.0 L1014.5,939.5 L1015.0,939.8 L1015.2,940.1 L1015.7,940.0 L1016.7,940.0 L1017.2,940.1 L1019.2,940.1 L1019.4,940.1 L1020.4,939.9 L1021.1,940.0 L1021.2,940.0 L1021.6,939.9 L1022.0,939.3 L1022.3,938.8 L1022.6,938.6 L1022.9,938.8 L1023.2,939.4 L1023.2,939.3 L1023.6,939.7 L1024.1,939.9 L1024.8,940.0 L1025.2,940.1 L1025.8,940.1 L1026.8,939.8 L1027.2,939.9 L1027.8,939.7 L1028.5,939.1 L1029.0,937.8 L1029.2,936.8 L1029.4,934.1 L1029.7,928.3 L1030.0,923.1 L1030.3,928.4 L1030.6,934.1 L1031.0,937.8 L1031.2,938.7 L1031.5,939.2 L1032.2,939.7 L1033.2,939.9 L1033.2,939.9 L1035.2,940.0 L1037.2,940.3 L1039.2,940.1 L1041.2,940.2 L1042.0,940.2 L1043.0,939.9 L1043.2,940.1 L1043.7,939.8 L1044.2,939.4 L1044.6,938.6 L1044.9,937.3 L1045.2,936.2 L1045.2,936.3 L1045.5,937.3 L1045.8,938.7 L1046.2,939.5 L1046.7,939.7 L1047.2,939.9 L1047.4,939.9 L1048.4,940.1 L1049.2,940.3 L1051.2,940.1 L1053.2,940.1 L1055.2,940.0 L1055.5,940.3 L1056.5,940.0 L1057.2,939.9 L1057.2,939.9 L1057.7,940.0 L1058.1,939.3 L1058.4,938.9 L1058.7,938.3 L1059.0,938.8 L1059.2,939.2 L1059.3,939.4 L1059.7,939.7 L1060.2,940.2 L1060.9,940.0 L1061.2,940.1 L1061.9,940.2 L1063.2,940.0 L1065.2,940.2 L1067.2,940.1 L1068.5,940.1 L1069.2,940.1 L1069.5,939.9 L1070.2,939.8 L1070.7,939.7 L1071.1,938.9 L1071.2,938.5 L1071.4,937.7 L1071.7,936.6 L1072.0,937.6 L1072.3,938.6 L1072.7,939.4 L1073.2,939.8 L1073.2,939.9 L1073.9,940.1 L1074.9,940.1 L1075.2,940.2 L1077.2,940.0 L1079.2,940.0 L1079.4,939.9 L1080.4,939.9 L1081.1,939.5 L1081.2,939.4 L1081.6,938.8 L1082.0,937.2 L1082.3,934.5 L1082.6,932.8 L1082.9,934.6 L1083.2,937.1 L1083.2,937.2 L1083.6,938.8 L1084.1,939.5 L1084.8,939.8 L1085.2,939.9 L1085.8,940.1 L1087.2,940.2 L1089.2,940.0 L1090.2,940.2 L1091.2,940.0 L1091.2,940.2 L1091.9,940.0 L1092.4,939.6 L1092.8,938.9 L1093.1,937.7 L1093.2,937.5 L1093.4,936.8 L1093.7,937.8 L1094.0,938.7 L1094.4,939.5 L1094.9,940.0 L1095.2,940.1 L1095.6,940.0 L1096.6,940.0 L1097.2,940.1 L1099.2,940.2 L1101.2,940.3 L1103.2,940.3 L1105.2,940.2 L1107.2,940.2 L1109.2,940.3 L1111.2,940.3 L1113.2,940.1 L1115.2,940.1 L1117.2,940.2 L1119.2,940.1 L1121.2,940.2 L1123.2,940.1 L1123.8,940.2" fill="none" stroke="#0000ff" stroke-width="1.3" stroke-linejoin="round"/>
<path d="M915.9,949.1 L917.9,949.3 L919.9,949.2 L921.9,949.2 L923.9,949.2 L925.9,949.1 L927.9,949.1 L929.9,949.2 L931.9,949.1 L933.9,949.1 L935.9,949.2 L937.9,949.1 L939.9,949.3 L941.9,949.2 L943.9,949.1 L945.9,949.1 L947.9,949.3 L949.9,949.3 L951.9,949.1 L953.9,949.2 L955.9,949.1 L957.9,949.0 L959.8,949.1 L959.9,949.1 L960.8,948.9 L961.5,948.4 L961.9,947.6 L962.0,947.0 L962.4,943.6 L962.7,937.9 L963.0,933.4 L963.3,938.2 L963.6,943.6 L963.9,946.4 L964.0,947.1 L964.5,948.3 L965.2,948.9 L965.9,948.8 L966.2,948.9 L967.9,949.2 L969.9,949.2 L971.9,949.3 L973.9,949.3 L975.9,949.3 L977.9,949.2 L979.9,949.3 L981.9,949.2 L983.9,949.3 L985.4,949.3 L985.9,949.0 L986.4,949.1 L987.1,949.0 L987.6,948.3 L987.9,948.0 L988.0,947.3 L988.3,945.7 L988.6,944.6 L988.9,945.8 L989.2,947.3 L989.6,948.4 L989.9,948.7 L990.1,948.7 L990.8,949.0 L991.8,949.2 L991.9,949.0 L993.9,949.2 L995.9,949.2 L997.9,949.2 L999.9,949.3 L1001.9,949.3 L1003.9,949.1 L1005.0,949.1 L1005.9,949.2 L1006.0,949.1 L1006.7,949.1 L1007.2,948.7 L1007.6,947.8 L1007.9,946.8 L1007.9,946.9 L1008.2,946.1 L1008.5,946.8 L1008.8,948.0 L1009.2,948.8 L1009.7,949.1 L1009.9,949.1 L1010.4,949.1 L1011.4,949.2 L1011.9,949.0 L1013.9,949.1 L1014.1,949.1 L1015.1,949.0 L1015.8,949.0 L1015.9,948.9 L1016.3,948.7 L1016.7,948.3 L1017.0,947.7 L1017.3,947.2 L1017.6,947.6 L1017.9,948.2 L1017.9,948.5 L1018.3,948.9 L1018.8,949.0 L1019.5,949.0 L1019.9,949.2 L1020.5,949.0 L1021.5,948.9 L1021.9,949.1 L1022.5,949.1 L1023.2,948.7 L1023.7,947.9 L1023.9,947.3 L1024.1,946.0 L1024.4,943.0 L1024.7,940.3 L1025.0,942.9 L1025.3,946.2 L1025.7,948.1 L1025.8,948.2 L1026.2,948.6 L1026.9,949.0 L1027.8,949.0 L1027.9,949.1 L1029.8,949.3 L1031.8,949.0 L1033.8,949.2 L1035.8,949.0 L1036.7,949.1 L1037.7,949.1 L1037.8,949.2 L1038.4,948.8 L1038.9,948.6 L1039.3,947.6 L1039.6,946.2 L1039.8,945.4 L1039.9,945.4 L1040.2,946.3 L1040.5,947.7 L1040.9,948.5 L1041.4,948.8 L1041.8,949.2 L1042.1,949.0 L1043.1,949.2 L1043.8,949.2 L1045.8,949.1 L1047.8,949.2 L1049.8,949.2 L1050.2,949.1 L1051.2,949.2 L1051.8,949.1 L1052.3,948.7 L1052.8,948.3 L1053.0,947.8 L1053.3,947.2 L1053.7,947.8 L1053.8,948.3 L1054.0,948.4 L1054.3,948.7 L1054.8,949.1 L1055.5,949.2 L1055.8,949.1 L1056.5,949.1 L1057.8,949.3 L1059.8,949.3 L1061.8,949.3 L1063.2,949.2 L1063.8,949.1 L1064.2,949.1 L1064.9,948.8 L1065.4,948.5 L1065.8,947.4 L1065.8,947.3 L1066.1,946.0 L1066.4,945.1 L1066.7,946.1 L1067.0,947.6 L1067.4,948.6 L1067.8,949.0 L1067.9,949.0 L1068.6,948.9 L1069.6,949.2 L1069.8,949.1 L1071.8,949.1 L1073.8,949.1 L1074.0,949.2 L1075.0,948.9 L1075.7,948.6 L1075.8,948.6 L1076.2,948.1 L1076.6,946.9 L1076.9,945.0 L1077.2,943.5 L1077.5,944.7 L1077.8,946.9 L1077.8,946.8 L1078.2,948.1 L1078.7,948.6 L1079.4,948.9 L1079.8,949.2 L1080.4,949.2 L1081.8,949.1 L1083.8,949.1 L1084.9,949.1 L1085.8,949.0 L1085.9,949.0 L1086.6,949.0 L1087.1,948.7 L1087.5,947.8 L1087.8,946.5 L1087.8,946.5 L1088.1,945.8 L1088.4,946.7 L1088.7,947.8 L1089.1,948.5 L1089.6,948.9 L1089.8,949.2 L1090.3,949.0 L1091.3,949.0 L1091.8,949.2 L1093.8,949.3 L1095.8,949.3 L1097.8,949.2 L1099.8,949.1 L1101.8,949.3 L1103.8,949.3 L1105.8,949.4 L1107.8,949.2 L1109.8,949.1 L1111.8,949.3 L1113.8,949.1 L1115.8,949.2 L1117.8,949.2 L1118.5,949.2" fill="none" stroke="#ff0000" stroke-width="1.3" stroke-linejoin="round"/>
<path d="M910.5,958.2 L912.5,958.2 L914.5,958.1 L916.5,958.3 L918.5,958.4 L920.5,958.3 L922.5,958.2 L924.5,958.3 L926.5,958.3 L928.5,958.4 L930.5,958.4 L932.5,958.3 L934.5,958.2 L936.5,958.2 L938.5,958.4 L940.5,958.1 L942.5,958.1 L944.5,958.3 L946.5,958.2 L946.6,958.0 L947.6,958.0 L948.3,957.5 L948.5,957.5 L948.8,956.6 L949.2,954.0 L949.5,949.8 L949.8,946.4 L950.1,949.9 L950.4,953.9 L950.5,954.7 L950.8,956.5 L951.3,957.6 L952.0,958.0 L952.5,958.0 L953.0,958.2 L954.5,958.0 L956.2,958.3 L956.5,958.1 L957.2,958.2 L957.9,957.9 L958.4,957.6 L958.5,957.3 L958.8,956.8 L959.1,955.5 L959.4,954.8 L959.7,955.5 L960.0,956.8 L960.4,957.7 L960.5,957.9 L960.9,958.1 L961.6,958.2 L962.5,958.1 L962.6,958.3 L964.5,958.3 L966.5,958.1 L968.5,958.2 L970.5,958.1 L972.5,958.4 L974.5,958.4 L976.5,958.3 L978.5,958.3 L980.5,958.3 L982.5,958.3 L984.5,958.4 L986.5,958.3 L988.5,958.2 L990.5,958.4 L992.5,958.2 L994.5,958.2 L996.5,958.3 L998.5,958.3 L1000.5,958.2 L1002.5,958.2 L1004.5,958.4 L1006.5,958.3 L1008.5,958.4 L1010.5,958.1 L1012.5,958.3 L1014.5,958.3 L1016.5,958.3 L1018.5,958.1 L1020.5,958.3 L1022.5,958.4 L1024.5,958.4 L1026.5,958.1 L1028.5,958.3 L1030.5,958.3 L1032.5,958.1 L1034.5,958.3 L1036.5,958.1 L1038.5,958.3 L1040.5,958.3 L1042.5,958.3 L1044.5,958.3 L1046.5,958.1 L1048.5,958.2 L1050.5,958.2 L1052.5,958.2 L1054.5,958.4 L1056.5,958.2 L1058.5,958.2 L1060.5,958.4 L1062.5,958.3 L1064.5,958.3 L1066.5,958.3 L1068.5,958.1 L1069.2,958.3 L1070.2,958.1 L1070.5,957.9 L1070.9,957.8 L1071.4,956.9 L1071.8,954.7 L1072.1,951.3 L1072.4,948.2 L1072.5,949.2 L1072.7,951.3 L1073.0,954.8 L1073.4,956.9 L1073.9,957.6 L1074.5,958.1 L1074.6,958.0 L1075.6,958.0 L1076.5,958.2 L1078.5,958.1 L1080.5,958.2 L1082.5,958.3 L1084.5,958.3 L1086.5,958.4 L1088.5,958.2 L1090.5,958.2 L1092.5,958.1 L1094.5,958.1 L1096.5,958.2 L1098.5,958.1 L1100.5,958.4 L1102.5,958.2 L1104.5,958.2 L1106.5,958.2 L1108.5,958.4 L1110.5,958.2 L1112.5,958.2 L1113.2,958.3" fill="none" stroke="#000000" stroke-width="1.45" stroke-linejoin="round"/>
<text x="1021.3" y="748.4" font-size="11.0" text-anchor="middle" fill="#111" >(100)</text>
<text x="1083.1" y="763.5" font-size="11.0" text-anchor="middle" fill="#111" >(200)</text>
<text x="1046.9" y="841.2" font-size="11.0" text-anchor="middle" fill="#111" >(011)</text>
<text x="1135.5" y="836.7" font-size="11.0" text-anchor="middle" fill="#111" >(022)</text>
<text x="948.4" y="944" font-size="11.0" text-anchor="middle" fill="#111" >α</text>
<text transform="translate(1119.8,961.9) rotate(-7)" font-size="10.6" fill="#111">0</text>
<text transform="translate(1125,953) rotate(-7)" font-size="10.6" fill="#111">3</text>
<text transform="translate(1130.2,944.1) rotate(-7)" font-size="10.6" fill="#111">5</text>
<text transform="translate(1135.4,935.3) rotate(-7)" font-size="10.6" fill="#111">10</text>
<text transform="translate(1140.6,926.4) rotate(-7)" font-size="10.6" fill="#111">15</text>
<text transform="translate(1145.8,917.5) rotate(-7)" font-size="10.6" fill="#111">20</text>
<text transform="translate(1151,908.6) rotate(-7)" font-size="10.6" fill="#111">30</text>
<text transform="translate(1156.2,899.8) rotate(-7)" font-size="10.6" fill="#111">60</text>
<text transform="translate(1161.4,890.9) rotate(-7)" font-size="10.6" fill="#111">180</text>
<text transform="translate(1166.6,882) rotate(-7)" font-size="10.6" fill="#111">300</text>
<text transform="translate(1171.8,873.1) rotate(-7)" font-size="10.6" fill="#111">600</text>
<text transform="translate(1177,864.3) rotate(-7)" font-size="10.6" fill="#111">1800</text>
<text transform="translate(1182.2,855.4) rotate(-7)" font-size="10.6" fill="#111">3600</text>
<text x="1180.8" y="827.1" font-size="14" text-anchor="start" fill="#000" >1.1</text>
<text x="1180.8" y="797.4" font-size="14" text-anchor="start" fill="#000" >2.2</text>
<text x="1180.8" y="767.6" font-size="14" text-anchor="start" fill="#000" >3.3</text>
<text x="1180.8" y="737.7" font-size="14" text-anchor="start" fill="#000" >4.4</text>
<text transform="translate(1215.3,784.5) rotate(-90)" font-size="14.6" text-anchor="middle">Intensity (10<tspan font-size="8.5" dy="-5.5">5</tspan><tspan dy="5.5">)</tspan></text>
<text transform="translate(1187.5,916) rotate(-57.5)" font-size="14.6" text-anchor="middle">Annealing time (s)</text>
<text x="1018.9" y="986" font-size="14.6" text-anchor="middle" fill="#000" >2 Theta (degree)</text>
<text x="912.3" y="749.6" font-size="26.8" fill="#000" textLength="23" lengthAdjust="spacingAndGlyphs">(i)</text>
<text x="1170.6" y="749.1" font-size="20.5" text-anchor="end" fill="#000" >MOF@COF</text>
</g>
</svg></body></html>
